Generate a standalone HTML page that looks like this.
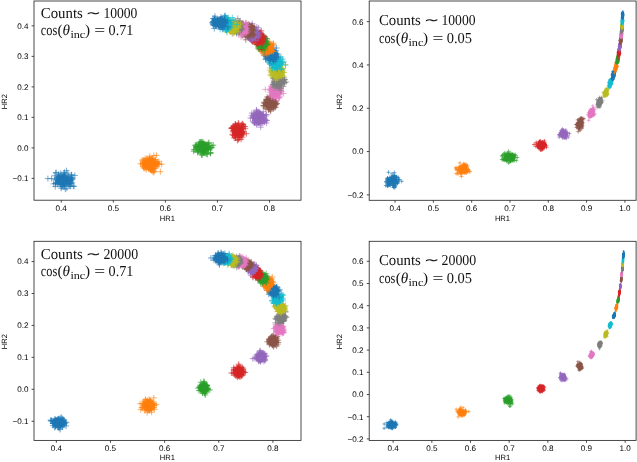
<!DOCTYPE html>
<html><head><meta charset="utf-8"><title>HR1 vs HR2</title>
<style>html,body{margin:0;padding:0;background:#fff;}svg{display:block;will-change:transform;text-rendering:geometricPrecision;}</style></head>
<body><svg width="637" height="462" viewBox="0 0 637 462">
<path d="M61.5 181.8h6m-3-3v6m-4.4-7.5h6m-3-3v6m-3.9-3.4h6m-3-3v6m-.4 5.8h6m-3-3v6m-5.8-10.4h6m-3-3v6m2 .7h6m-3-3v6m-5-7.9h6m-3-3v6m-3.7 3.2h6m-3-3v6m-9.7-7.4h6m-3-3v6m-5.8-6.1h6m-3-3v6m-2.7 1h6m-3-3v6m-.1-1.1h6m-3-3v6m4.3-4.8h6m-3-3v6m-16.7-4.3h6m-3-3v6m9.6-.5h6m-3-3v6m-10.5-5.3h6m-3-3v6m-.2-4.2h6m-3-3v6m7.4-3h6m-3-3v6m-8.6 3.4h6m-3-3v6m-5.8-6.8h6m-3-3v6m.5-2.3h6m-3-3v6m-9.8-3h6m-3-3v6m10.2-9.1h6m-3-3v6m-5.5 3.3h6m-3-3v6m-10.7 4.2h6m-3-3v6m4.2-15.2h6m-3-3v6m-6.5 3.7h6m-3-3v6m-4.4-2.6h6m-3-3v6m-2.4-3h6m-3-3v6m4.7-8.1h6m-3-3v6m-9.3-2.2h6m-3-3v6m-3.4-5.8h6m-3-3v6m-6.6 .8h6m-3-3v6m4.6 2.1h6m-3-3v6m-14.4-10.4h6m-3-3v6m7.1-7.5h6m-3-3v6m-8.7 4.2h6m-3-3v6m5.8 0h6m-3-3v6m-11.1-7h6m-3-3v6m-2.6 4.1h6m-3-3v6m-3.9-9.9h6m-3-3v6m1-2.3h6m-3-3v6m-5.8-6.8h6m-3-3v6m-2.1-.4h6m-3-3v6m3 1.1h6m-3-3v6m-9-2.9h6m-3-3v6m-4.7-1.6h6m-3-3v6m-1.3-4.7h6m-3-3v6m-9.5-3.9h6m-3-3v6m-5-12.1h6m-3-3v6m4 1.3h6m-3-3v6m-.6 9h6m-3-3v6m-8.1-13.9h6m-3-3v6m2.3 1.2h6m-3-3v6m-4.9-5.6h6m-3-3v6m1.5-.3h6m-3-3v6m-11.9-5.2h6m-3-3v6m2.5-6.8h6m-3-3v6m-1.9-2.2h6m-3-3v6m.6 1h6m-3-3v6m-7.5-6h6m-3-3v6m-4-8.3h6m-3-3v6m-8.2 5.9h6m-3-3v6m-8.1-1.1h6m-3-3v6m-1-3.4h6m-3-3v6m1.6-2.9h6m-3-3v6m1.9-11.8h6m-3-3v6m2.7 8.3h6m-3-3v6m-9.7-9.5h6m-3-3v6m-3.4-5.7h6m-3-3v6m3.4-1.3h6m-3-3v6m-8.9-4h6m-3-3v6m-5.9-4.8h6m-3-3v6m6.6 1.3h6m-3-3v6m-4.5-2.4h6m-3-3v6m-11.5-4.3h6m-3-3v6m-2.3-1.7h6m-3-3v6m-2-4.2h6m-3-3v6m-8.2-4.9h6m-3-3v6m12.5-2.5h6m-3-3v6m-16.8 .8h6m-3-3v6m9.6-9.8h6m-3-3v6m-11.3 .1h6m-3-3v6m-10.9 2.2h6m-3-3v6m5.9-5.5h6m-3-3v6m-6.8-1.5h6m-3-3v6m-1.9-5.3h6m-3-3v6m-5.9-7.1h6m-3-3v6m9.5-.3h6m-3-3v6m-8.3-1.2h6m-3-3v6m-6.8-4.8h6m-3-3v6m2.5-2.2h6m-3-3v6m-7-1.8h6m-3-3v6m3.8-.5h6m-3-3v6m-7.1-7.7h6m-3-3v6m-12 2.8h6m-3-3v6m9-7.2h6m-3-3v6m-5.2 .5h6m-3-3v6m-1.5-2.4h6m-3-3v6m-9.5-.8h6m-3-3v6m-7.1-5.5h6m-3-3v6m5.9-2.9h6m-3-3v6m4.1-.7h6m-3-3v6m-18.5-15.1h6m-3-3v6m7-.4h6m-3-3v6m-7.2 4h6m-3-3v6m-11.3-14.2h6m-3-3v6m6.7 5.2h6m-3-3v6m-5.6-3h6m-3-3v6m-6.1-8.9h6m-3-3v6m.5-.9h6m-3-3v6m-10.5 2.6h6m-3-3v6m5.1-3.4h6m-3-3v6m-7.8-7h6m-3-3v6m-3-3.9h6m-3-3v6m3.1-2.6h6m-3-3v6m-2.2 1.2h6m-3-3v6m5.5-9.5h6m-3-3v6m-8.8 1.9h6m-3-3v6m-7.6-8.2h6m-3-3v6m-5.3 5.4h6m-3-3v6m-1-5.5h6m-3-3v6m-4.1 1h6m-3-3v6m-1.6-15.7h6m-3-3v6m-6.5-2.1h6m-3-3v6m-16 2.4h6m-3-3v6m20.4-.8h6m-3-3v6m-15.8-6.7h6m-3-3v6m8.7 1.2h6m-3-3v6m-8.5-3.9h6m-3-3v6m-3 .3h6m-3-3v6m-.4-5.2h6m-3-3v6m-11.1-1.9h6m-3-3v6m-1.2-.8h6m-3-3v6m-6-7.7h6m-3-3v6m3.4-7.5h6m-3-3v6m5.9 7.6h6m-3-3v6m-14.2-5.6h6m-3-3v6m1.3-15.9h6m-3-3v6m-3.6 6.7h6m-3-3v6m-3.9-6.8h6m-3-3v6m-4.8 .4h6m-3-3v6m4.4-1.1h6m-3-3v6m-9.1 1.6h6m-3-3v6m-5.8-10.3h6m-3-3v6m-9.4 4.4h6m-3-3v6m11.2-5.5h6m-3-3v6m-4.5-6h6m-3-3v6m-5.3-4.4h6m-3-3v6m-5.2-1.8h6m-3-3v6m5.8-1.1h6m-3-3v6m-11-7.4h6m-3-3v6m-6 5.3h6m-3-3v6m2.9-8.8h6m-3-3v6m-7.4-7.5h6m-3-3v6m-1.6 4.6h6m-3-3v6m-4.6-7.2h6m-3-3v6m-2.2-1.7h6m-3-3v6m-9.9-4.3h6m-3-3v6m.7 1.2h6m-3-3v6m-2.6-4.2h6m-3-3v6m8.8-6.3h6m-3-3v6m-13.9-1.1h6m-3-3v6m.1-7.5h6m-3-3v6m-.7 8.4h6m-3-3v6m-6.6-11.4h6m-3-3v6m-7.1-1h6m-3-3v6m-4-8.5h6m-3-3v6m9.9-2.2h6m-3-3v6m-4 6.2h6m-3-3v6" stroke="#1f77b4" stroke-opacity="0.62" stroke-width="1.0" fill="none"/>
<path d="M148.7 166.7h6m-3-3v6m4.4-5.5h6m-3-3v6m-14.2-6.9h6m-3-3v6m-.2 6.6h6m-3-3v6m1-11.2h6m-3-3v6m-10.9-1.5h6m-3-3v6m2-2h6m-3-3v6m-3.3-1.3h6m-3-3v6m-5.3-4.2h6m-3-3v6m-.8-3.1h6m-3-3v6m-1.7 3.6h6m-3-3v6m-2.6-9.1h6m-3-3v6m-13-1.9h6m-3-3v6m-4.1-9.1h6m-3-3v6m9.3 4.2h6m-3-3v6m-7.4-11.2h6m-3-3v6m-4 .5h6m-3-3v6m1.4 6.9h6m-3-3v6m-4.8-13.3h6m-3-3v6m-9.1-.5h6m-3-3v6m1.3-6.8h6m-3-3v6m-1.7-2.9h6m-3-3v6m1.4 4.5h6m-3-3v6m-3.1-8.2h6m-3-3v6m-5.5-1.9h6m-3-3v6m-7-3.7h6m-3-3v6m-7-6.7h6m-3-3v6m6.2 1.2h6m-3-3v6m-5.5 1.1h6m-3-3v6m-11.6-9.1h6m-3-3v6m5.4 1h6m-3-3v6m-5.4-.8h6m-3-3v6m-.5-10.7h6m-3-3v6m-8 3.9h6m-3-3v6m3.2-12.2h6m-3-3v6m.8 5.5h6m-3-3v6m-3-6.3h6m-3-3v6m-10.2-5.6h6m-3-3v6m9.5 .3h6m-3-3v6m-7.2-4.6h6m-3-3v6m-9.3-6.5h6m-3-3v6m-5.4 6h6m-3-3v6m-6.8-2.7h6m-3-3v6m4-10.2h6m-3-3v6m-6.7-1h6m-3-3v6m-1-3.3h6m-3-3v6m-6.4-2.2h6m-3-3v6m-3.9-6.3h6m-3-3v6m1.3 4.4h6m-3-3v6m-9.5-6h6m-3-3v6m.9-6.4h6m-3-3v6m3.6-1.4h6m-3-3v6m-.2-3.9h6m-3-3v6m-7.9-1.1h6m-3-3v6m-8-.2h6m-3-3v6m-.4-3h6m-3-3v6m-2.5-8.7h6m-3-3v6m-3.2 .8h6m-3-3v6m1.6-6.2h6m-3-3v6m-7.4-5.8h6m-3-3v6m.1-.8h6m-3-3v6m-13.8 .5h6m-3-3v6m9.8-8h6m-3-3v6m-12.7-.4h6m-3-3v6m-3.2 .9h6m-3-3v6m-1.5-6.8h6m-3-3v6m3.1-3.1h6m-3-3v6m-3.7-3.7h6m-3-3v6m-10.2-6h6m-3-3v6m10.5 2.2h6m-3-3v6m-10.1-2h6m-3-3v6m-3.4-2.8h6m-3-3v6m4.7-6.7h6m-3-3v6m-18.2-2.9h6m-3-3v6m-2.1 3h6m-3-3v6m6.5-8.8h6m-3-3v6m-12.7-.9h6m-3-3v6m9.2-11.4h6m-3-3v6m-6.8 2.9h6m-3-3v6m-.7-3h6m-3-3v6m-8.8-4.5h6m-3-3v6m-6.1 6.9h6m-3-3v6m4.9-9.1h6m-3-3v6m-10.4-8.1h6m-3-3v6m-.9 3.4h6m-3-3v6m-1.7-3.3h6m-3-3v6m-7.5-2.9h6m-3-3v6m1.7 1.7h6m-3-3v6m5.4-7.9h6m-3-3v6m-14.6-2.8h6m-3-3v6m-2.3-5.3h6m-3-3v6m-.5-4h6m-3-3v6m-.1 .2h6m-3-3v6m-4.6-3.3h6m-3-3v6m-7.3-5.6h6m-3-3v6m-.8-1.6h6m-3-3v6m-1-1.1h6m-3-3v6m-10-2.8h6m-3-3v6m-2.9-5.3h6m-3-3v6m1.6-8h6m-3-3v6m-1.3 4.6h6m-3-3v6m-4.1-5h6m-3-3v6m-3.9-4.9h6m-3-3v6m-2.6-1.5h6m-3-3v6m-1.4-5.2h6m-3-3v6m-2.3 1.6h6m-3-3v6m-4.7-5h6m-3-3v6m0-7.2h6m-3-3v6m-3.4 3.5h6m-3-3v6m-3.7-2.5h6m-3-3v6m-7.2-5.2h6m-3-3v6m2.7-.7h6m-3-3v6m-4.9-9.6h6m-3-3v6m-1.5 6.1h6m-3-3v6m-.9-6.1h6m-3-3v6m-14.3-.6h6m-3-3v6m3.2-14.8h6m-3-3v6m-.7 .5h6m-3-3v6m-10.4-.1h6m-3-3v6m8.3-2.1h6m-3-3v6m-7.4 4.2h6m-3-3v6m2.8-9.3h6m-3-3v6m-11-6.9h6m-3-3v6m-5 2.7h6m-3-3v6m1.8-4.1h6m-3-3v6m-.4-6h6m-3-3v6m-7.6 2.2h6m-3-3v6m-.2-1.9h6m-3-3v6m-3.8-7.7h6m-3-3v6m-3.2-5.3h6m-3-3v6m-11.8 2.3h6m-3-3v6m4-3.9h6m-3-3v6m-10.3-5.3h6m-3-3v6m1.9-4.7h6m-3-3v6m-10.3-1.2h6m-3-3v6m10.9-.5h6m-3-3v6m-9.6-4.4h6m-3-3v6m2.9-12.3h6m-3-3v6m-6.8 8.2h6m-3-3v6m.5 .9h6m-3-3v6m-1-7.7h6m-3-3v6m-6.7-1.4h6m-3-3v6m-6.7-5.8h6m-3-3v6m3.4 3.8h6m-3-3v6m-7.7-9.8h6m-3-3v6m-1.4 1.7h6m-3-3v6m-4-2.5h6m-3-3v6m-7.1-8.7h6m-3-3v6m.3 .3h6m-3-3v6m2.5-10.8h6m-3-3v6m-11.6 3.3h6m-3-3v6m-1.9-9.3h6m-3-3v6m4.5 3.8h6m-3-3v6m-5.4-6.3h6m-3-3v6m-.7-2.2h6m-3-3v6m-2.7-5.2h6m-3-3v6m-11.5 .8h6m-3-3v6m-2.4-1.4h6m-3-3v6m1.3-8.5h6m-3-3v6m-3.9-1h6m-3-3v6m.7-4h6m-3-3v6m-8.9 3.3h6m-3-3v6m8.8-.3h6m-3-3v6m-12.6-9.1h6m-3-3v6m3.5-4.2h6m-3-3v6m-14.1-2.1h6m-3-3v6m3.3-6.3h6m-3-3v6m-12.2-5h6m-3-3v6m7.1-.7h6m-3-3v6m-6.5 .3h6m-3-3v6" stroke="#ff7f0e" stroke-opacity="0.62" stroke-width="1.0" fill="none"/>
<path d="M202.5 147h6m-3-3v6m-3.5-4.6h6m-3-3v6m-6.5-3.3h6m-3-3v6m3-.2h6m-3-3v6m-10.5-3.9h6m-3-3v6m-.9-.1h6m-3-3v6m-8.5-7.9h6m-3-3v6m1.9 7h6m-3-3v6m2.3-10.4h6m-3-3v6m-4 3.1h6m-3-3v6m-6.8-9.8h6m-3-3v6m2.8-.6h6m-3-3v6m-5.1-5.8h6m-3-3v6m2 3.2h6m-3-3v6m-8.5-5.8h6m-3-3v6m-13.3-3.2h6m-3-3v6m4.3-3.5h6m-3-3v6m.5-5.2h6m-3-3v6m-12.5-1h6m-3-3v6m.8-5h6m-3-3v6m-2.4-3h6m-3-3v6m-9.9 1.3h6m-3-3v6m7.3-3.3h6m-3-3v6m3.9-6h6m-3-3v6m-18.1-5.6h6m-3-3v6m-.6-1.9h6m-3-3v6m2.1-7.2h6m-3-3v6m-1.9-1.6h6m-3-3v6m-3.2 .9h6m-3-3v6m-5.5-2.9h6m-3-3v6m-3.9-4.5h6m-3-3v6m-7.5-1.3h6m-3-3v6m11.1 2.6h6m-3-3v6m-5.1-6.6h6m-3-3v6m-11-.9h6m-3-3v6m-.5-7.3h6m-3-3v6m-4-2.5h6m-3-3v6m-3.6-3.5h6m-3-3v6m-5.6-3.8h6m-3-3v6m10.5-2.2h6m-3-3v6m-13.1-1.3h6m-3-3v6m.8-7.6h6m-3-3v6m-6.6 2.7h6m-3-3v6m-1.1-5.2h6m-3-3v6m2.1-5.3h6m-3-3v6m-8.9-2.5h6m-3-3v6m2.6-7h6m-3-3v6m-11.6 1h6m-3-3v6m2.3 .1h6m-3-3v6m0-9.1h6m-3-3v6m-5.6 .6h6m-3-3v6m-8.7-.7h6m-3-3v6m-4-10.3h6m-3-3v6m-.8-1.4h6m-3-3v6m-4.1 2.3h6m-3-3v6m.8 .4h6m-3-3v6m-5-11.8h6m-3-3v6m-5.2-1.2h6m-3-3v6m-4.9 .8h6m-3-3v6m-.7-9.8h6m-3-3v6m2.4 2.2h6m-3-3v6m-4.4-2.4h6m-3-3v6m-1.9-3.2h6m-3-3v6m-.6-1.9h6m-3-3v6m-6.3-3h6m-3-3v6m-10.4-4.6h6m-3-3v6m1.7-2h6m-3-3v6m-7.4 1h6m-3-3v6m2.9-11h6m-3-3v6m-10.3-.4h6m-3-3v6m3.5-4.2h6m-3-3v6m-2.2-2.8h6m-3-3v6m-1.2-3.2h6m-3-3v6m-5.4 1.8h6m-3-3v6m7.5-8.6h6m-3-3v6m-15.2-2.5h6m-3-3v6m2-3.9h6m-3-3v6m-8.1 .2h6m-3-3v6m-4.9-5.6h6m-3-3v6m-1-6.2h6m-3-3v6m-6.9 1.7h6m-3-3v6m3.4-2.4h6m-3-3v6m-10.7-3.8h6m-3-3v6m7.3-.1h6m-3-3v6m-6.5-7h6m-3-3v6m-.2-2.2h6m-3-3v6m-10.2-3.6h6m-3-3v6m7.5-.1h6m-3-3v6m-4.2-5h6m-3-3v6m-3.9-3.3h6m-3-3v6m-7.3 5.6h6m-3-3v6m.7-11.4h6m-3-3v6m-6.5-.6h6m-3-3v6m2.2-5.3h6m-3-3v6m-14.8-2.4h6m-3-3v6m4-2h6m-3-3v6m2.2-2.4h6m-3-3v6m-5-6.9h6m-3-3v6m-2.7 5.9h6m-3-3v6m-3.4-8.2h6m-3-3v6m-5.5 1.3h6m-3-3v6m-7.3-8.3h6m-3-3v6m2.5-.6h6m-3-3v6m-6.6-4.2h6m-3-3v6m-2.3-3.5h6m-3-3v6m-2.4-6.6h6m-3-3v6m-2.6 2.7h6m-3-3v6m-6.8-6.1h6m-3-3v6m3.5-5.4h6m-3-3v6m-4.9-2.9h6m-3-3v6m.8 6.4h6m-3-3v6m.6-10.1h6m-3-3v6m-8.2-2h6m-3-3v6m-5.5 1h6m-3-3v6m-8.7-4.4h6m-3-3v6m2.1-2h6m-3-3v6m-2.1-8.8h6m-3-3v6m-2.6 .9h6m-3-3v6m-4-3.7h6m-3-3v6m-5.2-10.3h6m-3-3v6m2.7 4.9h6m-3-3v6m-6-4.8h6m-3-3v6m.5-4.4h6m-3-3v6m-9.9-2.3h6m-3-3v6m4.5-6.3h6m-3-3v6m-3-1h6m-3-3v6m-12.1 2.4h6m-3-3v6m1-10.2h6m-3-3v6m-4.1 3.2h6m-3-3v6m3.3-6.8h6m-3-3v6m-6.2 .2h6m-3-3v6m-7.2-4h6m-3-3v6m-.5-5.5h6m-3-3v6m-4.9-1.3h6m-3-3v6m-.9-4.7h6m-3-3v6m-4.8 1.7h6m-3-3v6m-.5-3.7h6m-3-3v6m1-3.8h6m-3-3v6m1.3-7h6m-3-3v6m-8.9-1.6h6m-3-3v6m1.2 2.7h6m-3-3v6m-18.2-10.5h6m-3-3v6m7.4 1.9h6m-3-3v6m-2.7-5.4h6m-3-3v6m-4.1-.9h6m-3-3v6m-5.1-2h6m-3-3v6m-11.8-4.1h6m-3-3v6m1.9-2.1h6m-3-3v6m.3-8.2h6m-3-3v6m-.6-3h6m-3-3v6m-8.2-4.9h6m-3-3v6m.6 2.8h6m-3-3v6m1.2-4.8h6m-3-3v6m-2.9-2.5h6m-3-3v6m-7.6-1.5h6m-3-3v6m1.6-5.5h6m-3-3v6m-8.2-2.5h6m-3-3v6m-1.7-5.1h6m-3-3v6m.8-1.6h6m-3-3v6m-5.3-4.2h6m-3-3v6m-3.4 .4h6m-3-3v6m-6.1 1.6h6m-3-3v6m.2-3.7h6m-3-3v6m-.7-9.8h6m-3-3v6m-8.3 .1h6m-3-3v6m-1.3-4.1h6m-3-3v6m-4.4-8.2h6m-3-3v6m-2.7-4.2h6m-3-3v6m-.6 1.2h6m-3-3v6m-7.4-1.6h6m-3-3v6" stroke="#2ca02c" stroke-opacity="0.62" stroke-width="1.0" fill="none"/>
<path d="M235.6 126.8h6m-3-3v6m-9.5-1.8h6m-3-3v6m-3.9-2.7h6m-3-3v6m8.6-3.3h6m-3-3v6m-6-4h6m-3-3v6m-4.1 .4h6m-3-3v6m-4.2-.2h6m-3-3v6m2.8-4.2h6m-3-3v6m-8.2-6.7h6m-3-3v6m-1.5-.7h6m-3-3v6m-2.2-2.3h6m-3-3v6m-.1-9.2h6m-3-3v6m-9.5 6.1h6m-3-3v6m-3.2-8.3h6m-3-3v6m-2.7-4.9h6m-3-3v6m-1.8 9.2h6m-3-3v6m.3-14.3h6m-3-3v6m-9.5-.8h6m-3-3v6m3-4.3h6m-3-3v6m-8.4 2.4h6m-3-3v6m2-7h6m-3-3v6m-9.4-6.7h6m-3-3v6m-1.6-5.2h6m-3-3v6m1.6 2.1h6m-3-3v6m-3.8 5h6m-3-3v6m-.8-12.7h6m-3-3v6m-4 4.4h6m-3-3v6m-8.2-9.7h6m-3-3v6m-.9-5.1h6m-3-3v6m2-5.6h6m-3-3v6m-11.2 3.9h6m-3-3v6m-.2-1.6h6m-3-3v6m-1.4-4.3h6m-3-3v6m-.2-9.1h6m-3-3v6m-6.7 1.5h6m-3-3v6m-2.6 0h6m-3-3v6m-6.3-5.7h6m-3-3v6m2.5 .1h6m-3-3v6m-7.8 2.4h6m-3-3v6m6.6-14.2h6m-3-3v6m-9.4 9.7h6m-3-3v6m-1.5-10.3h6m-3-3v6m-6.1-5.4h6m-3-3v6m-3.1-3h6m-3-3v6m.1-2.6h6m-3-3v6m-6.8-5.5h6m-3-3v6m-1.7-2h6m-3-3v6m-3.5 3.2h6m-3-3v6m-1.2-4.8h6m-3-3v6m-3-4.4h6m-3-3v6m-4.6-4.2h6m-3-3v6m-.1-5.5h6m-3-3v6m-1.2 .6h6m-3-3v6m-9.7-4.6h6m-3-3v6m-2.7-1h6m-3-3v6m-3.2 .2h6m-3-3v6m-3.2-14h6m-3-3v6m-2.8-2.1h6m-3-3v6m-.8 6.8h6m-3-3v6m-.8-10.7h6m-3-3v6m-7.5 7h6m-3-3v6m.4-8.7h6m-3-3v6m-.6 4.9h6m-3-3v6m-2.2-10.4h6m-3-3v6m-6-1.5h6m-3-3v6m-6.1-8.4h6m-3-3v6m-.9-2.6h6m-3-3v6m-3.4 .3h6m-3-3v6m4.7-6h6m-3-3v6m-10.9-.8h6m-3-3v6m-1.2 .9h6m-3-3v6m-5.9-9h6m-3-3v6m-6.7-3.3h6m-3-3v6m3.9 .1h6m-3-3v6m-7.9-4.4h6m-3-3v6m.3-.2h6m-3-3v6m-5-5.4h6m-3-3v6m-6.9-5.9h6m-3-3v6m8-6.3h6m-3-3v6m-9.3 4.7h6m-3-3v6m-3.1-6.3h6m-3-3v6m-2-.4h6m-3-3v6m-3-9h6m-3-3v6m-3.2 .3h6m-3-3v6m-4.3 .4h6m-3-3v6m.8-.8h6m-3-3v6m-6.7-2.9h6m-3-3v6m2.4-2.3h6m-3-3v6m-2.3-7.1h6m-3-3v6m-8 .1h6m-3-3v6m-6.8-5h6m-3-3v6m-.4-4.9h6m-3-3v6m-6.8-4.6h6m-3-3v6m2.5 2.7h6m-3-3v6m.2-6.1h6m-3-3v6m-6.8-5.4h6m-3-3v6m-1.1-1.2h6m-3-3v6m-2.3 3.4h6m-3-3v6m-5.1-13.4h6m-3-3v6m-5.6-2.8h6m-3-3v6m-4.1 5.8h6m-3-3v6m1.5-12h6m-3-3v6m-1.6 5.9h6m-3-3v6m-6.2-9.2h6m-3-3v6m-3 0h6m-3-3v6m.2-.1h6m-3-3v6m-1.2-3h6m-3-3v6m-2.5-4.7h6m-3-3v6m-12.3-5.5h6m-3-3v6m2.9-3.8h6m-3-3v6m-1.1-2.9h6m-3-3v6m-8.8 2.7h6m-3-3v6m2.1-6.9h6m-3-3v6m-2.2-.3h6m-3-3v6m-4.9-14.2h6m-3-3v6m-6.2 3.4h6m-3-3v6m-4-.9h6m-3-3v6m3.9-5.2h6m-3-3v6m-10.4 5h6m-3-3v6m-.8-13.4h6m-3-3v6m-.8 2.3h6m-3-3v6m-6-1.9h6m-3-3v6m-2.3-8.4h6m-3-3v6m-.9 2.4h6m-3-3v6m-5.6-4.4h6m-3-3v6m-1.3 5h6m-3-3v6m-4.9-7.7h6m-3-3v6m-.9-7.8h6m-3-3v6m-.6 .3h6m-3-3v6m-1.2-4.8h6m-3-3v6m-9-5.8h6m-3-3v6m.6 .6h6m-3-3v6m-.2-3.5h6m-3-3v6m-4.1 .5h6m-3-3v6m-5.8-12.6h6m-3-3v6m-7.4-2.9h6m-3-3v6m5.9-1.1h6m-3-3v6m-4.1 1.6h6m-3-3v6m-1.5-1.7h6m-3-3v6m-8.8-6.8h6m-3-3v6m-2.4-1.8h6m-3-3v6m-5-3.7h6m-3-3v6m3.9-8.3h6m-3-3v6m-7.3-.5h6m-3-3v6m-3.3 2.6h6m-3-3v6m-3.8-3.2h6m-3-3v6m-7.9-1.9h6m-3-3v6m.2-4.6h6m-3-3v6m-.5-13.3h6m-3-3v6m-6 6h6m-3-3v6m4.4-2.8h6m-3-3v6m-7.2-8.4h6m-3-3v6m.8 7.3h6m-3-3v6m-7.5-9.5h6m-3-3v6m-8.3 .5h6m-3-3v6m10.9-3.5h6m-3-3v6m-7.6-3.5h6m-3-3v6m-10.2-.5h6m-3-3v6m-3.8-8h6m-3-3v6m1.8 .5h6m-3-3v6m-2.5-4.5h6m-3-3v6m-6.8-8.4h6m-3-3v6m-.4-1.2h6m-3-3v6m-7.4-4.7h6m-3-3v6m-.3-4.9h6m-3-3v6m-5.8-2.3h6m-3-3v6m1.9 3.5h6m-3-3v6m2.8-9.1h6m-3-3v6m-11.6 4.7h6m-3-3v6m-1.5-6.9h6m-3-3v6" stroke="#d62728" stroke-opacity="0.62" stroke-width="1.0" fill="none"/>
<path d="M260.6 117.2h6m-3-3v6m-11.6-5.9h6m-3-3v6m1.4 1.9h6m-3-3v6m-8.1-6.9h6m-3-3v6m2.7 1.7h6m-3-3v6m-6.5-2.9h6m-3-3v6m.7-10.2h6m-3-3v6m-5.7 3.6h6m-3-3v6m-3.8-10.7h6m-3-3v6m-2.1 5.7h6m-3-3v6m2.6-11.8h6m-3-3v6m.1 .2h6m-3-3v6m-8 4.1h6m-3-3v6m-2.9-6.3h6m-3-3v6m-9.4-1.6h6m-3-3v6m-1.7-12.4h6m-3-3v6m7.6 6.7h6m-3-3v6m-6-7.9h6m-3-3v6m-4.1 4.5h6m-3-3v6m-2.7-7.8h6m-3-3v6m-11.3-3.5h6m-3-3v6m-6-7.6h6m-3-3v6m3.9-.8h6m-3-3v6m-3.8-.4h6m-3-3v6m3.3 1.2h6m-3-3v6m-8.9-3.2h6m-3-3v6m-5.2-7.7h6m-3-3v6m2.1-5.7h6m-3-3v6m-6.6-3.2h6m-3-3v6m-1.8 5.8h6m-3-3v6m-5.6-7.2h6m-3-3v6m-3.5-7.1h6m-3-3v6m-4 4.8h6m-3-3v6m7.8-5.9h6m-3-3v6m-12.2-2.3h6m-3-3v6m-1.9-2.7h6m-3-3v6m-1.1-4.6h6m-3-3v6m-2-5.6h6m-3-3v6m-6.1-6.4h6m-3-3v6m-3.1-2.1h6m-3-3v6m-2.1-1.6h6m-3-3v6m-2.3 1.2h6m-3-3v6m-7.5-6.8h6m-3-3v6m-1.6 1.7h6m-3-3v6m5-2.7h6m-3-3v6m-9.2-1.2h6m-3-3v6m-6.5-2.9h6m-3-3v6m-.4-15.8h6m-3-3v6m6.9 10.1h6m-3-3v6m-14.1-7.2h6m-3-3v6m-.5-3.2h6m-3-3v6m-6.8-5.4h6m-3-3v6m2.8-.3h6m-3-3v6m-.8-3.4h6m-3-3v6m.5-5.4h6m-3-3v6m-9.3-6.6h6m-3-3v6m-7.5 6.7h6m-3-3v6m-2.1-5.4h6m-3-3v6m-.3-7.7h6m-3-3v6m-3.9-1.4h6m-3-3v6m-3.4 .8h6m-3-3v6m.4-7h6m-3-3v6m-7.7-.4h6m-3-3v6m-.6-.8h6m-3-3v6m5.3-3.5h6m-3-3v6m-11.1-6.1h6m-3-3v6m-5.4-5.2h6m-3-3v6m-3.5-1.4h6m-3-3v6m-1.2 .4h6m-3-3v6m-3-5.8h6m-3-3v6m-5.4 2.5h6m-3-3v6m2.2-2.6h6m-3-3v6m-2.2-3.9h6m-3-3v6m-6.1-5.3h6m-3-3v6m5.9-8.8h6m-3-3v6m-7.6 5.7h6m-3-3v6m-5.3-5.8h6m-3-3v6m-.4-7.3h6m-3-3v6m-5.6-3.6h6m-3-3v6m-6.3-2.2h6m-3-3v6m-1.4-.7h6m-3-3v6m-1.2-7.8h6m-3-3v6m1.7 4.9h6m-3-3v6m-6.8-7.7h6m-3-3v6m-5.5-.2h6m-3-3v6m-1.5-9.8h6m-3-3v6m-2 11.1h6m-3-3v6m-10.9-8.9h6m-3-3v6m3.8-6.4h6m-3-3v6m.1-6.3h6m-3-3v6m-6.8 5.2h6m-3-3v6m-4.1-8.8h6m-3-3v6m-2-3.1h6m-3-3v6m1.4-4.4h6m-3-3v6m-5.1-4.1h6m-3-3v6m-3.6 .5h6m-3-3v6m-13-2.7h6m-3-3v6m1.6-4.3h6m-3-3v6m5.1-5.1h6m-3-3v6m-11 4.9h6m-3-3v6m.6-2.7h6m-3-3v6m-2.4-10.5h6m-3-3v6m-4.2 3.5h6m-3-3v6m.1-6.7h6m-3-3v6m-5.7-3.4h6m-3-3v6m-4.9 3.3h6m-3-3v6m-1.2-12.4h6m-3-3v6m-4.5 2.7h6m-3-3v6m.4-5.7h6m-3-3v6m-7-2.5h6m-3-3v6m-6.1-7.1h6m-3-3v6m4.6-.4h6m-3-3v6m-4.3 2.2h6m-3-3v6m-2.2-6.7h6m-3-3v6m1.6-1h6m-3-3v6m-10.7-2.8h6m-3-3v6m-.6-7.9h6m-3-3v6m-4-.9h6m-3-3v6m-9.3-3h6m-3-3v6m2.2-3.8h6m-3-3v6m-7.2-2.7h6m-3-3v6m1.9-1.6h6m-3-3v6m-6.4-1.4h6m-3-3v6m-3.2-5.6h6m-3-3v6m4.8-4.5h6m-3-3v6m-8.6 2.5h6m-3-3v6m-2.6-7.3h6m-3-3v6m-1.2 1.2h6m-3-3v6m-10.5-8.8h6m-3-3v6m.7-3.8h6m-3-3v6m-2.5-2.2h6m-3-3v6m.6-3.2h6m-3-3v6m-3.6 1h6m-3-3v6m-5.6-3.8h6m-3-3v6m4.3-2.5h6m-3-3v6m-10-4.2h6m-3-3v6m-3.9-1.9h6m-3-3v6m2.5-6.4h6m-3-3v6m-6.3 3h6m-3-3v6m-3.9-5.9h6m-3-3v6m-4.6-6.1h6m-3-3v6m-1.4 6.1h6m-3-3v6m-2.7-11.1h6m-3-3v6m-3.4-1.9h6m-3-3v6m.6-2h6m-3-3v6m1.2-2.9h6m-3-3v6m-4.8-2.8h6m-3-3v6m-5.5-8.2h6m-3-3v6m-5.2 1.1h6m-3-3v6m-3.4-9.2h6m-3-3v6m.4 2.3h6m-3-3v6m-7-2.6h6m-3-3v6m-2.3-1h6m-3-3v6m-6.2-7h6m-3-3v6m1.7 .2h6m-3-3v6m-5-5.2h6m-3-3v6m-4.4-1.4h6m-3-3v6m3.1-6h6m-3-3v6m-2 2.7h6m-3-3v6m-8.9-3.2h6m-3-3v6m-6.1-10.5h6m-3-3v6m-2.4 .9h6m-3-3v6m-.1-3.3h6m-3-3v6m-1.8-7.9h6m-3-3v6m-1.8-.8h6m-3-3v6m-6.4 0h6m-3-3v6m-4.5-5.9h6m-3-3v6m-2.6 1.1h6m-3-3v6m1.8-1.3h6m-3-3v6m-7.7-7h6m-3-3v6" stroke="#9467bd" stroke-opacity="0.62" stroke-width="1.0" fill="none"/>
<path d="M264.6 104.6h6m-3-3v6m-6.2-.7h6m-3-3v6m1.5-8.9h6m-3-3v6m-.6 2.3h6m-3-3v6m-3-2.9h6m-3-3v6m-3.6-2.5h6m-3-3v6m.2-6.9h6m-3-3v6m-2.4-2.2h6m-3-3v6m-7-6.2h6m-3-3v6m-4.1 2h6m-3-3v6m-5.9-3.4h6m-3-3v6m1.8-4.1h6m-3-3v6m-10.4-4.1h6m-3-3v6m5.3-4.9h6m-3-3v6m-4.7-7.7h6m-3-3v6m-1.3 2h6m-3-3v6m-2.4-6.4h6m-3-3v6m-3.5 1.6h6m-3-3v6m-2.7-5h6m-3-3v6m-7.1 6.2h6m-3-3v6m-3.6-11.5h6m-3-3v6m-1.4-4h6m-3-3v6m1.2 5h6m-3-3v6m-8.5-13h6m-3-3v6m2.5 5.2h6m-3-3v6m-4-2.8h6m-3-3v6m-7.9-6.9h6m-3-3v6m-4.5-6.6h6m-3-3v6m3.8-.8h6m-3-3v6m.8-.9h6m-3-3v6m-11.5-.9h6m-3-3v6m4.1-3.9h6m-3-3v6m-11.7-3.3h6m-3-3v6m4.5-5.5h6m-3-3v6m-9.3 1.4h6m-3-3v6m-.3-9.2h6m-3-3v6m-4.5-2h6m-3-3v6m-1.1-.5h6m-3-3v6m-.5-1.2h6m-3-3v6m-10.9-3.9h6m-3-3v6m4.2-2.9h6m-3-3v6m-2.6-5.9h6m-3-3v6m-8.8 1.3h6m-3-3v6m-3.3-12h6m-3-3v6m3.1 1.2h6m-3-3v6m-6.9-4.9h6m-3-3v6m-6-2.3h6m-3-3v6m-.2 1.4h6m-3-3v6m-8.6-1.9h6m-3-3v6m.3-8.3h6m-3-3v6m2.3-.1h6m-3-3v6m-9.4 2.6h6m-3-3v6m-1-7.7h6m-3-3v6m.1 .4h6m-3-3v6m-4.9-4.2h6m-3-3v6m-3.9-2.6h6m-3-3v6m-3-7.3h6m-3-3v6m4.7-1.1h6m-3-3v6m-8.2 2.6h6m-3-3v6m-2.3-11.9h6m-3-3v6m-1.9-4h6m-3-3v6m-1.8 3.9h6m-3-3v6m-8-8.3h6m-3-3v6m-.8-1.1h6m-3-3v6m-6.4-1.4h6m-3-3v6m-6-5.9h6m-3-3v6m1.7-2.6h6m-3-3v6m-.9-5.8h6m-3-3v6m-2.2 .1h6m-3-3v6m-6.6-6.5h6m-3-3v6m-4.5 2.1h6m-3-3v6m-2.4-3.9h6m-3-3v6m2.9-.2h6m-3-3v6m-1.6-6.8h6m-3-3v6m-10.7 .8h6m-3-3v6m1.1-2.7h6m-3-3v6m-3.9-2.8h6m-3-3v6m-.6-4.4h6m-3-3v6m-4-3.9h6m-3-3v6m-3.7-3.5h6m-3-3v6m-.8-5.2h6m-3-3v6m-.9-1.8h6m-3-3v6m-5.2-3h6m-3-3v6m-6.5 3.2h6m-3-3v6m-3.2-12.6h6m-3-3v6m-4.2-.2h6m-3-3v6m5.3-1.5h6m-3-3v6m-6.5-6.5h6m-3-3v6m-4.7 1.9h6m-3-3v6m1.2-7h6m-3-3v6m-6.5-.1h6m-3-3v6m-7.7-3.9h6m-3-3v6m-.8-9.7h6m-3-3v6m-.5 5.3h6m-3-3v6m-6-8.5h6m-3-3v6m2.6 1.7h6m-3-3v6m-4.4 .3h6m-3-3v6m-7.4-4.7h6m-3-3v6m-2.2-5.6h6m-3-3v6m-2.6-2.8h6m-3-3v6m.5-2.6h6m-3-3v6m-6.7-4.2h6m-3-3v6m-1.5-4.8h6m-3-3v6m-5.5-.5h6m-3-3v6m-3.2-3.2h6m-3-3v6m-3.1 3.1h6m-3-3v6m2.6-7.5h6m-3-3v6m-7 2.1h6m-3-3v6m-1.9-9.6h6m-3-3v6m-3-1.9h6m-3-3v6m.2-3.9h6m-3-3v6m-1-5.5h6m-3-3v6m-7.1-3.4h6m-3-3v6m.3-1h6m-3-3v6m-8.5 .6h6m-3-3v6m.8-8.9h6m-3-3v6m-7.6-3.8h6m-3-3v6m-1.6 .7h6m-3-3v6m-4.4-4.7h6m-3-3v6m-3.1-3.2h6m-3-3v6m-.4 3.6h6m-3-3v6m-10.1-7.7h6m-3-3v6m1.4-1.3h6m-3-3v6m-4.6-4.8h6m-3-3v6m-3.2-.6h6m-3-3v6m.3-5.5h6m-3-3v6m-2.2-3.2h6m-3-3v6m-8.6-.6h6m-3-3v6m2.3-5.1h6m-3-3v6m-1 .9h6m-3-3v6m-9-8.8h6m-3-3v6m4.7 3.4h6m-3-3v6m-9.7-10.5h6m-3-3v6m-2.7-1h6m-3-3v6m-5.7-1.5h6m-3-3v6m-2.1-6.6h6m-3-3v6m3.3-1.5h6m-3-3v6m-5.8 .8h6m-3-3v6m-.5-5.8h6m-3-3v6m-5.2-4.4h6m-3-3v6m2 1.3h6m-3-3v6m-11.3-4.9h6m-3-3v6m2.3-1.6h6m-3-3v6m.2-.4h6m-3-3v6m-9.9-7.2h6m-3-3v6m-5.1-2.1h6m-3-3v6m1.1 4.2h6m-3-3v6m-3.1-17h6m-3-3v6m-5.3 3.4h6m-3-3v6m-4.7-5.8h6m-3-3v6m-.4 .5h6m-3-3v6m-2.4-6.6h6m-3-3v6m-.2-2h6m-3-3v6m-6.8-5.4h6m-3-3v6m-3.8 2.9h6m-3-3v6m-5.4-5.1h6m-3-3v6m3.8-3.9h6m-3-3v6m-4.4-5.1h6m-3-3v6m.1 3.4h6m-3-3v6m-6.1-11.3h6m-3-3v6m-6.8 4.9h6m-3-3v6m5.1-4.9h6m-3-3v6m-4.4-5.7h6m-3-3v6m-7.2-1.2h6m-3-3v6m-1.2-7.4h6m-3-3v6m-1.5 5.2h6m-3-3v6m-9-10.7h6m-3-3v6m1.3-1h6m-3-3v6m-10.9 1.3h6m-3-3v6m4.3-6.8h6m-3-3v6" stroke="#8c564b" stroke-opacity="0.62" stroke-width="1.0" fill="none"/>
<path d="M278.5 91.5h6m-3-3v6m-11.3-3.1h6m-3-3v6m-3.9-5.5h6m-3-3v6m1.2-2.4h6m-3-3v6m-5.5 3.4h6m-3-3v6m.8-5.5h6m-3-3v6m-3.9-3.9h6m-3-3v6m-.3-4.5h6m-3-3v6m-1.9-5.7h6m-3-3v6m-9.1-4.2h6m-3-3v6m-3.3 2.5h6m-3-3v6m2.3-6.4h6m-3-3v6m-7.2-2.2h6m-3-3v6m-5.2-5.4h6m-3-3v6m-.7-4.5h6m-3-3v6m-2.8 2h6m-3-3v6m-5.3-5.9h6m-3-3v6m-5.1 5.3h6m-3-3v6m-2.8-3.9h6m-3-3v6m2.6-8.6h6m-3-3v6m-8.1 1.1h6m-3-3v6m5.4-8.7h6m-3-3v6m-8.9 2.7h6m-3-3v6m-1.2-.2h6m-3-3v6m-5.6-7.2h6m-3-3v6m-5 1.5h6m-3-3v6m-1.5-15.5h6m-3-3v6m-1.2 3h6m-3-3v6m2.9-3.6h6m-3-3v6m-8.6-.3h6m-3-3v6m1.6-4.9h6m-3-3v6m-4.5-1.3h6m-3-3v6m-6.9-4.3h6m-3-3v6m-2.1-5.9h6m-3-3v6m.5-4.3h6m-3-3v6m-3.2 3.8h6m-3-3v6m-6.6-8h6m-3-3v6m-3.4 .6h6m-3-3v6m-.2-3.6h6m-3-3v6m-2.3-5.4h6m-3-3v6m-5.2-6h6m-3-3v6m-1.4 2h6m-3-3v6m-6.5 0h6m-3-3v6m.3-14.6h6m-3-3v6m-4.9 1h6m-3-3v6m-.1 8.4h6m-3-3v6m-7.6-10h6m-3-3v6m-2.2-2.2h6m-3-3v6m-.4-.3h6m-3-3v6m-7.7-2.2h6m-3-3v6m-2.9-6.7h6m-3-3v6m3.1-1.7h6m-3-3v6m-9.1-7.2h6m-3-3v6m-1.6-1.1h6m-3-3v6m1.7-6.6h6m-3-3v6m-5 2.6h6m-3-3v6m-2.7-3.5h6m-3-3v6m-.3-2.9h6m-3-3v6m-4.9-2.8h6m-3-3v6m-.3-10.1h6m-3-3v6m-4.4 1.7h6m-3-3v6m-7.6-5h6m-3-3v6m-7.6-1.3h6m-3-3v6m.5-.5h6m-3-3v6m-5.3-.3h6m-3-3v6m2-7.8h6m-3-3v6m-5.8-4.6h6m-3-3v6m-4.2-2.3h6m-3-3v6m.3-1.9h6m-3-3v6m-7.2-3.3h6m-3-3v6m-1.4-1.8h6m-3-3v6m5-1.6h6m-3-3v6m-9.4-9.5h6m-3-3v6m-6.2-3.2h6m-3-3v6m3.3-.3h6m-3-3v6m-5-2.6h6m-3-3v6m-2.9 2.8h6m-3-3v6m-5.2-8h6m-3-3v6m-3.4 .5h6m-3-3v6m-3.6-8.8h6m-3-3v6m-4.1-3.8h6m-3-3v6m2.4 8.5h6m-3-3v6m-7.2-7.7h6m-3-3v6m.6-8.9h6m-3-3v6m-4.6-.5h6m-3-3v6m-4.2 3.3h6m-3-3v6m-6.5-7.5h6m-3-3v6m3.5-5.8h6m-3-3v6m-3.5 1.2h6m-3-3v6m-3-4.3h6m-3-3v6m-1.4-10.1h6m-3-3v6m-.8 9.5h6m-3-3v6m-4.4-6.7h6m-3-3v6m-9.9-6.3h6m-3-3v6m-1.3-4.3h6m-3-3v6m2.2-3.6h6m-3-3v6m-6.2-6.2h6m-3-3v6m-3.1 2.7h6m-3-3v6m-4.6-5.3h6m-3-3v6m4.5-4.4h6m-3-3v6m-11.5-1.9h6m-3-3v6m3.5 5.5h6m-3-3v6m-5.5-11.2h6m-3-3v6m-5.2 2.2h6m-3-3v6m-4.4-1.9h6m-3-3v6m3.8-7h6m-3-3v6m-5.3-1h6m-3-3v6m-.3-8.3h6m-3-3v6m-4.1-1h6m-3-3v6m-8.7-1.6h6m-3-3v6m-1.4-6.2h6m-3-3v6m-7-2.8h6m-3-3v6m5.9 5.4h6m-3-3v6m-5.4-5.3h6m-3-3v6m-6.4-6.6h6m-3-3v6m-.6-6h6m-3-3v6m-6.7 .5h6m-3-3v6m-1.1-6.4h6m-3-3v6m-.9-.7h6m-3-3v6m-1.2-2.2h6m-3-3v6m-6.8-2.6h6m-3-3v6m-2.7-5.4h6m-3-3v6m-3.6 1.2h6m-3-3v6m0-1.5h6m-3-3v6m-9.8-7.9h6m-3-3v6m.7-1.3h6m-3-3v6m-3.1-5h6m-3-3v6m.6-1h6m-3-3v6m-8.6 .4h6m-3-3v6m3.2-8.6h6m-3-3v6m-3.4-3.4h6m-3-3v6m-2.2-1.5h6m-3-3v6m-8.6-3.5h6m-3-3v6m-2.9-1.4h6m-3-3v6m-.2-3.4h6m-3-3v6m-5.2-13.7h6m-3-3v6m-1.1 2.1h6m-3-3v6m-2.5 5.8h6m-3-3v6m-3-7.4h6m-3-3v6m-4.3-2.3h6m-3-3v6m-4-4.3h6m-3-3v6m-4.1 2.1h6m-3-3v6m-.4-3.6h6m-3-3v6m-3.7-5.6h6m-3-3v6m-2.7-1.9h6m-3-3v6m-.2-3.6h6m-3-3v6m-7.3-6h6m-3-3v6m3.8-1.5h6m-3-3v6m-8.7 2h6m-3-3v6m1-5.7h6m-3-3v6m-7.3 2.3h6m-3-3v6m-.7-8.2h6m-3-3v6m-4.6-8.7h6m-3-3v6m-6.4 2.3h6m-3-3v6m2-4.9h6m-3-3v6m-7.6-6.5h6m-3-3v6m-.5-3h6m-3-3v6m.6 4.5h6m-3-3v6m2.6-3.8h6m-3-3v6m-13-8h6m-3-3v6m-11.3-2.2h6m-3-3v6m6.5 1.5h6m-3-3v6m-.7-4.1h6m-3-3v6m-4.1-2.8h6m-3-3v6m.5-8h6m-3-3v6m-8.5-3.9h6m-3-3v6m3 4.7h6m-3-3v6m-5.5-10.2h6m-3-3v6m-4.7-.2h6m-3-3v6m-3.2-2.9h6m-3-3v6" stroke="#e377c2" stroke-opacity="0.62" stroke-width="1.0" fill="none"/>
<path d="M277 79.9h6m-3-3v6m-2-1.2h6m-3-3v6m-6.3-4h6m-3-3v6m-3.5-.3h6m-3-3v6m-2.5-4.5h6m-3-3v6m-3.3-8.2h6m-3-3v6m.7-1.7h6m-3-3v6m-3.6 1.3h6m-3-3v6m-9.8-7h6m-3-3v6m.3-2.6h6m-3-3v6m-4.9 1.5h6m-3-3v6m-.3-4h6m-3-3v6m-3.5-3.3h6m-3-3v6m-4-3.9h6m-3-3v6m.9-2.8h6m-3-3v6m-6-6.3h6m-3-3v6m-1.2 1.1h6m-3-3v6m-4.2-6.2h6m-3-3v6m-.7 6.4h6m-3-3v6m-5.5-9.2h6m-3-3v6m-1-11.4h6m-3-3v6m-3.7 2.4h6m-3-3v6m.6-1.7h6m-3-3v6m-9.2-2.9h6m-3-3v6m-.3-4h6m-3-3v6m-3.6-5.3h6m-3-3v6m-3.5 3.2h6m-3-3v6m3.3-3.2h6m-3-3v6m-7.9-1.6h6m-3-3v6m-.8-1.6h6m-3-3v6m-2.8-8.2h6m-3-3v6m-5.4-2.1h6m-3-3v6m-2.9-3h6m-3-3v6m-6.2-9.7h6m-3-3v6m-2.6-2.7h6m-3-3v6m-.9 2.8h6m-3-3v6m-8-1h6m-3-3v6m4.3-4.7h6m-3-3v6m-.7 2.2h6m-3-3v6m-11.3-5.5h6m-3-3v6m1.8-4.8h6m-3-3v6m-1.6-6.3h6m-3-3v6m-7.4-3.3h6m-3-3v6m-3.5-.9h6m-3-3v6m-5-5.7h6m-3-3v6m2.9-.2h6m-3-3v6m-3.6-8.2h6m-3-3v6m-6.4 .8h6m-3-3v6m-.6-3.1h6m-3-3v6m-.4-1.4h6m-3-3v6m-5.6-2.8h6m-3-3v6m-1-4.4h6m-3-3v6m-1.8-.3h6m-3-3v6m-5.8-4.2h6m-3-3v6m-2-.2h6m-3-3v6m-1.7-4.9h6m-3-3v6m-3.2-3.7h6m-3-3v6m-2-3.4h6m-3-3v6m-12.6 .9h6m-3-3v6m3.3-10.3h6m-3-3v6m-3.9-2.1h6m-3-3v6m3.7 1h6m-3-3v6m-13.6-2.9h6m-3-3v6m.4 1h6m-3-3v6m-4.9-15.1h6m-3-3v6m.2 2.5h6m-3-3v6m-4.4-8.2h6m-3-3v6m-.5 8.1h6m-3-3v6m-9.8-4.5h6m-3-3v6m.9 .4h6m-3-3v6m-.1-10.3h6m-3-3v6m-1.1-.9h6m-3-3v6m-7.9-2.5h6m-3-3v6m-2.8-10.3h6m-3-3v6m4.4 1.2h6m-3-3v6m-10.7-1h6m-3-3v6m-5.7-7.9h6m-3-3v6m.1-.6h6m-3-3v6m-1.4 1.8h6m-3-3v6m-4.6-4.8h6m-3-3v6m.2-7.6h6m-3-3v6m-4.1-2.6h6m-3-3v6m-.6 1.1h6m-3-3v6m-6-8.3h6m-3-3v6m-2.8-1.3h6m-3-3v6m-1.2-1.1h6m-3-3v6m-7.4 0h6m-3-3v6m1.4-7.4h6m-3-3v6m-1.7-2.1h6m-3-3v6m-7.3-1.8h6m-3-3v6m-4.3-4.6h6m-3-3v6m-1.3 2.7h6m-3-3v6m1.9-8.2h6m-3-3v6m-2.7-2.4h6m-3-3v6m-6.6-.3h6m-3-3v6m-3.2 1.4h6m-3-3v6m-3.2-13.4h6m-3-3v6m.1-.8h6m-3-3v6m-7.7-10.4h6m-3-3v6m.8 8h6m-3-3v6m-3.6-2.5h6m-3-3v6m-.4-6h6m-3-3v6m-5.2-5h6m-3-3v6m-6.7 2.2h6m-3-3v6m-.9-9.9h6m-3-3v6m-3 .3h6m-3-3v6m-6.5-1.2h6m-3-3v6m-1.8-8.8h6m-3-3v6m-5 6.7h6m-3-3v6m-4.2-7.5h6m-3-3v6m3.2-1.8h6m-3-3v6m-8.3-5.8h6m-3-3v6m.9 .3h6m-3-3v6m-5.3-8.7h6m-3-3v6m1.8 3.5h6m-3-3v6m-4.8-7.9h6m-3-3v6m-2.9-.9h6m-3-3v6m-1.8-7h6m-3-3v6m-5 .2h6m-3-3v6m-6.6-1.9h6m-3-3v6m.3-4.9h6m-3-3v6m-1.9-5.9h6m-3-3v6m-4.3 2.4h6m-3-3v6m-2.1-1.1h6m-3-3v6m-7.3-10.5h6m-3-3v6m1.2 2.7h6m-3-3v6m2.5-2.6h6m-3-3v6m-11.7-2.4h6m-3-3v6m-2.9-9.7h6m-3-3v6m7 2.3h6m-3-3v6m-8.5-2.3h6m-3-3v6m.2-3.8h6m-3-3v6m-4.8-6.8h6m-3-3v6m-10.5 4.1h6m-3-3v6m5.3-5.7h6m-3-3v6m-6.6-4h6m-3-3v6m-5.7 1h6m-3-3v6m.9-6h6m-3-3v6m-3.8-1.4h6m-3-3v6m-2.6-3.9h6m-3-3v6m-7.9-3.7h6m-3-3v6m6.8-6h6m-3-3v6m-9.8 1.1h6m-3-3v6m.2-3.8h6m-3-3v6m-10.5-3.3h6m-3-3v6m-1.7-6.9h6m-3-3v6m2-1.4h6m-3-3v6m-2.2 7h6m-3-3v6m-3.1-10.1h6m-3-3v6m-7.9-6.9h6m-3-3v6m-3.5-2.7h6m-3-3v6m-3.1-3.4h6m-3-3v6m-.4-4h6m-3-3v6m-6.5-4h6m-3-3v6m2.4 1.1h6m-3-3v6m-1.3-.1h6m-3-3v6m-7-4.1h6m-3-3v6m-6.2 1.7h6m-3-3v6m4.7-10.3h6m-3-3v6m-9.9-1.3h6m-3-3v6m-5-6.3h6m-3-3v6m4.6-.5h6m-3-3v6m-6.6-.5h6m-3-3v6m-4.6-4.9h6m-3-3v6m-1.4-6.3h6m-3-3v6m-.2-3.4h6m-3-3v6m1.1-1.9h6m-3-3v6m-2.7-4.4h6m-3-3v6m-7-3.3h6m-3-3v6m-8.7 .9h6m-3-3v6" stroke="#7f7f7f" stroke-opacity="0.62" stroke-width="1.0" fill="none"/>
<path d="M276.5 68.5h6m-3-3v6m-1.5-1.6h6m-3-3v6m-6.1 .4h6m-3-3v6m-1.7-9.3h6m-3-3v6m0 3.9h6m-3-3v6m-8.9-7.6h6m-3-3v6m-6.7-4h6m-3-3v6m3.5-.1h6m-3-3v6m-7.9-3.5h6m-3-3v6m4.9-2.4h6m-3-3v6m-9.3 1.8h6m-3-3v6m.1-6.7h6m-3-3v6m-6.1-7.7h6m-3-3v6m-4.7 .1h6m-3-3v6m-.2-.5h6m-3-3v6m-.8-3.4h6m-3-3v6m-3.9-6.6h6m-3-3v6m-9.9-1.6h6m-3-3v6m.5-3.4h6m-3-3v6m-1.1-4.7h6m-3-3v6m-5.4 .3h6m-3-3v6m.6-4.6h6m-3-3v6m-1.9-1.7h6m-3-3v6m-7.4-2.3h6m-3-3v6m5.4-5h6m-3-3v6m-5.1 2.9h6m-3-3v6m-2-9.4h6m-3-3v6m-1.5-.2h6m-3-3v6m-9.6-4h6m-3-3v6m-.5-2.2h6m-3-3v6m-5.3 .6h6m-3-3v6m-4.6-9.8h6m-3-3v6m1.4 2.1h6m-3-3v6m-2.1-8.2h6m-3-3v6m-3 1.5h6m-3-3v6m-1.1-8h6m-3-3v6m-7.4-.2h6m-3-3v6m-8.3-4.2h6m-3-3v6m4.9-2.3h6m-3-3v6m-8.4 .8h6m-3-3v6m2-2.6h6m-3-3v6m-8.2-6h6m-3-3v6m2.3-4.8h6m-3-3v6m-8.2 1.3h6m-3-3v6m3.7-8.7h6m-3-3v6m-15-3.9h6m-3-3v6m1.6 .8h6m-3-3v6m1.7-3h6m-3-3v6m-6.8-2.1h6m-3-3v6m-3.8-3.6h6m-3-3v6m-2 4.9h6m-3-3v6m1.2-13.2h6m-3-3v6m-8.3-1.8h6m-3-3v6m-4.9-3.9h6m-3-3v6m-.3 1.7h6m-3-3v6m-2.1-7.9h6m-3-3v6m-5.7-4.1h6m-3-3v6m.7-.2h6m-3-3v6m.5-4.2h6m-3-3v6m-3.2-.4h6m-3-3v6m-6.1-9.6h6m-3-3v6m-6.7 5h6m-3-3v6m4.8-4.6h6m-3-3v6m-4.9-4.8h6m-3-3v6m-6.3-3.7h6m-3-3v6m.9-.1h6m-3-3v6m-6.5-4.9h6m-3-3v6m-.7-1.1h6m-3-3v6m-7 1h6m-3-3v6m.2-7.9h6m-3-3v6m.5-.1h6m-3-3v6m-7.5-4.4h6m-3-3v6m-5.9-6.4h6m-3-3v6m-6.4 2.4h6m-3-3v6m-2-4.6h6m-3-3v6m.1-7.8h6m-3-3v6m-1.1 .6h6m-3-3v6m-.7 1.4h6m-3-3v6m-3.7-5.6h6m-3-3v6m-5.8-3.5h6m-3-3v6m-.8-6.4h6m-3-3v6m-3.8-1.9h6m-3-3v6m-2.1-1.6h6m-3-3v6m-5.1-6.3h6m-3-3v6m.7-5.8h6m-3-3v6m-7 6.4h6m-3-3v6m-9-9.5h6m-3-3v6m6.8-5.8h6m-3-3v6m2.6-5.7h6m-3-3v6m-6.4 9h6m-3-3v6m-4.5-8.1h6m-3-3v6m-4.6-5h6m-3-3v6m-1.7-3.6h6m-3-3v6m-6.2 3.1h6m-3-3v6m-5.4-6.9h6m-3-3v6m.7-5.9h6m-3-3v6m-.1 1.9h6m-3-3v6m-10.8-4.1h6m-3-3v6m-.8-4.8h6m-3-3v6m-.6-3.1h6m-3-3v6m-.4-3h6m-3-3v6m-2.9-1.1h6m-3-3v6m-3.4-4.4h6m-3-3v6m-6.9-4.8h6m-3-3v6m.1 3h6m-3-3v6m1.5-1.9h6m-3-3v6m-8.5-7.4h6m-3-3v6m-2.6-2.5h6m-3-3v6m.2-.1h6m-3-3v6m-9.7-7.8h6m-3-3v6m3.4-.1h6m-3-3v6m-7.7-.4h6m-3-3v6m-3.4-7.3h6m-3-3v6m-3.2-7.9h6m-3-3v6m.8-.8h6m-3-3v6m-7.1-1.6h6m-3-3v6m.7-1.1h6m-3-3v6m-5-7.6h6m-3-3v6m-3.3-2.5h6m-3-3v6m-1.9 2.4h6m-3-3v6m-3.9 1.9h6m-3-3v6m-1.5-7.2h6m-3-3v6m-4.1-5.3h6m-3-3v6m-.6 .7h6m-3-3v6m-9.6-3.1h6m-3-3v6m2.3-3.3h6m-3-3v6m-3.1-9.4h6m-3-3v6m-7.8 5.9h6m-3-3v6m1.1-12.4h6m-3-3v6m-2.7 .1h6m-3-3v6m-9.3-8.6h6m-3-3v6m-2.3 4.4h6m-3-3v6m1.5-4.5h6m-3-3v6m-2.1-.5h6m-3-3v6m-9.9-5.6h6m-3-3v6m.7-5.7h6m-3-3v6m-2.2 .2h6m-3-3v6m-2.2-6.9h6m-3-3v6m-3.6 7.1h6m-3-3v6m-4.6-13.8h6m-3-3v6m.8 3.7h6m-3-3v6m-2.4-8h6m-3-3v6m-1.5-2h6m-3-3v6m-9.2-2.5h6m-3-3v6m0 .8h6m-3-3v6m-.9-5.1h6m-3-3v6m-2.1-2.7h6m-3-3v6m-3.1-7.3h6m-3-3v6m-10.1 3.3h6m-3-3v6m-2.5-6.1h6m-3-3v6m.7-3.6h6m-3-3v6m-4 2.5h6m-3-3v6m-9-4.5h6m-3-3v6m11-5.5h6m-3-3v6m-9.7-1h6m-3-3v6m2.3-8.5h6m-3-3v6m-8-.1h6m-3-3v6m-1.7-2h6m-3-3v6m-2.7-4.7h6m-3-3v6m-4.7-3.7h6m-3-3v6m-5.1-1.5h6m-3-3v6m-1.5-6h6m-3-3v6m2 0h6m-3-3v6m-11.6 .6h6m-3-3v6m-1.2-4.7h6m-3-3v6m-.8-3.7h6m-3-3v6m-2.5-5.4h6m-3-3v6m-3.4 4.5h6m-3-3v6m-9.6-8.7h6m-3-3v6m4.8-6.2h6m-3-3v6" stroke="#bcbd22" stroke-opacity="0.62" stroke-width="1.0" fill="none"/>
<path d="M269.2 68.5h6m-3-3v6m-.1-3.3h6m-3-3v6m-.3-8.8h6m-3-3v6m-3.2-1.4h6m-3-3v6m-1-3.5h6m-3-3v6m-6-3.8h6m-3-3v6m.5-1.1h6m-3-3v6m-9.8-7.2h6m-3-3v6m.9-3h6m-3-3v6m-5.1-4h6m-3-3v6m-2.6 1h6m-3-3v6m.6-4.2h6m-3-3v6m.1-3.2h6m-3-3v6m.3 .1h6m-3-3v6m-10.8-7.4h6m-3-3v6m-12.7-2h6m-3-3v6m5.7 3.1h6m-3-3v6m-7.5-3.1h6m-3-3v6m.3-6.4h6m-3-3v6m-9.6-4.7h6m-3-3v6m3.3-1.4h6m-3-3v6m-1.7-8.3h6m-3-3v6m-.5 2.3h6m-3-3v6m-4-2.1h6m-3-3v6m-1.6-6h6m-3-3v6m-10.1-6.9h6m-3-3v6m4.8 3.1h6m-3-3v6m-6.6-6.4h6m-3-3v6m-3.2-1.6h6m-3-3v6m-4.1-5.1h6m-3-3v6m4.3-.3h6m-3-3v6m-11-7.5h6m-3-3v6m-3.4 2.9h6m-3-3v6m1.3-5.7h6m-3-3v6m-5-3.3h6m-3-3v6m-6.4 1.7h6m-3-3v6m1.3 .4h6m-3-3v6m-6.3-10.6h6m-3-3v6m1.8-3.3h6m-3-3v6m-9.6-5.1h6m-3-3v6m1.3 .8h6m-3-3v6m-3.6-1.1h6m-3-3v6m.2-5h6m-3-3v6m-5.8-4.6h6m-3-3v6m-1.5 .4h6m-3-3v6m-4.4-4.4h6m-3-3v6m-4.1-8.4h6m-3-3v6m-5 3.3h6m-3-3v6m1.2-.6h6m-3-3v6m-4.1-5.1h6m-3-3v6m.7-2.6h6m-3-3v6m-8.6-6.4h6m-3-3v6m-.9-5.4h6m-3-3v6m-2 2.9h6m-3-3v6m-5.8-.3h6m-3-3v6m-2.4-9.3h6m-3-3v6m-2.9-4.5h6m-3-3v6m-1.1-.8h6m-3-3v6m.6-1.3h6m-3-3v6m-6.2-5.4h6m-3-3v6m-8.7-2.7h6m-3-3v6m-1.3 .1h6m-3-3v6m-.7-1h6m-3-3v6m-.7-5.4h6m-3-3v6m-4.5-4.8h6m-3-3v6m-1.8-.9h6m-3-3v6m-6.9-4.3h6m-3-3v6m6.6-4.7h6m-3-3v6m-11.3-4.7h6m-3-3v6m-6.5 2.4h6m-3-3v6m1.4-5.5h6m-3-3v6m2.2 3.4h6m-3-3v6m-11-7.2h6m-3-3v6m1.4-4.9h6m-3-3v6m-3.4-4.3h6m-3-3v6m.2-1.1h6m-3-3v6m-6.6-1.2h6m-3-3v6m-1.4-5.3h6m-3-3v6m-4.6 .8h6m-3-3v6m-2.5-8.4h6m-3-3v6m-7-3.7h6m-3-3v6m-3.5-1.7h6m-3-3v6m.8-9.2h6m-3-3v6m-3.7 4.8h6m-3-3v6m-2.6-7.7h6m-3-3v6m.2-2.2h6m-3-3v6m-10.2-4.1h6m-3-3v6m.5 3h6m-3-3v6m.4-5.3h6m-3-3v6m-9.8-5.5h6m-3-3v6m-2.2-1.6h6m-3-3v6m-5.5-2.2h6m-3-3v6m4-3.7h6m-3-3v6m-3.5-5.3h6m-3-3v6m-8.6-2.2h6m-3-3v6m4.6 1.9h6m-3-3v6m-7.7-2.5h6m-3-3v6m-2.6-2.1h6m-3-3v6m-.7-8.7h6m-3-3v6m-2.1-4h6m-3-3v6m-8-4.9h6m-3-3v6m.5 1h6m-3-3v6m-4-4h6m-3-3v6m1.4-3h6m-3-3v6m-9.3 1.8h6m-3-3v6m3.2-5.6h6m-3-3v6m-12.1-5.7h6m-3-3v6m3.8-1.3h6m-3-3v6m-.3-7h6m-3-3v6m-5.5-.8h6m-3-3v6m-1.1-1.4h6m-3-3v6m-3.9-4.7h6m-3-3v6m-10.1-4.3h6m-3-3v6m-.6-2.8h6m-3-3v6m2.2 3.9h6m-3-3v6m-5.7-9.9h6m-3-3v6m-4.1-2h6m-3-3v6m1.5-.1h6m-3-3v6m-5.8-5.1h6m-3-3v6m-10.2-4h6m-3-3v6m-.4 .3h6m-3-3v6m.5-6.4h6m-3-3v6m-4.4 3.8h6m-3-3v6m-4.7-10.2h6m-3-3v6m-.8-2.3h6m-3-3v6m-3.6 .5h6m-3-3v6m3.2-9.7h6m-3-3v6m-8 2.3h6m-3-3v6m-3.2-3.6h6m-3-3v6m-3.8 .4h6m-3-3v6m-3.3-6.3h6m-3-3v6m-1.7-2.3h6m-3-3v6m-3.5-.4h6m-3-3v6m-2.5-5.4h6m-3-3v6m-3.1-6.4h6m-3-3v6m-5.3-3.2h6m-3-3v6m0-2h6m-3-3v6m-6.7-.2h6m-3-3v6m1.6-8.8h6m-3-3v6m.4 2.2h6m-3-3v6m-8.2 0h6m-3-3v6m-2.5-7.9h6m-3-3v6m3.2-4.3h6m-3-3v6m-9.7 2.6h6m-3-3v6m-5.8-5.8h6m-3-3v6m1.2 4.3h6m-3-3v6m-6.7-10.1h6m-3-3v6m1.5-2.7h6m-3-3v6m-8.4-2h6m-3-3v6m.8-2.9h6m-3-3v6m0-1.4h6m-3-3v6m-5.1-5h6m-3-3v6m-7.4-4.3h6m-3-3v6m.9-3.8h6m-3-3v6m-3.4-4.2h6m-3-3v6m1.2 5.6h6m-3-3v6m-8.6-8h6m-3-3v6m-2.6-.5h6m-3-3v6m-1-6.5h6m-3-3v6m-4.9-2.8h6m-3-3v6m-5.3-1.4h6m-3-3v6m-2.1-3.5h6m-3-3v6m-.6-1.3h6m-3-3v6m-3.4-3.2h6m-3-3v6m-5.7-4.2h6m-3-3v6m-.9-4.2h6m-3-3v6m-2.2-.9h6m-3-3v6m-9-4.8h6m-3-3v6m-1.5-.4h6m-3-3v6m-4.4-9.4h6m-3-3v6" stroke="#17becf" stroke-opacity="0.62" stroke-width="1.0" fill="none"/>
<path d="M263 59.6h6m-3-3v6m-1.8-7.4h6m-3-3v6m-.9-8.6h6m-3-3v6m-2.4 4.2h6m-3-3v6m-2.5-2.2h6m-3-3v6m-3.6-5.7h6m-3-3v6m-3-2.1h6m-3-3v6m3.6-2.9h6m-3-3v6m-7.9-5.8h6m-3-3v6m-5.8 3h6m-3-3v6m-4-9.9h6m-3-3v6m-.1-1.6h6m-3-3v6m3-8.6h6m-3-3v6m-7.7 5.9h6m-3-3v6m-7.3-6.9h6m-3-3v6m1.6 3.6h6m-3-3v6m-7-12.3h6m-3-3v6m2.5 6h6m-3-3v6m-6.8-13.9h6m-3-3v6m2.2 2.9h6m-3-3v6m-3.9-2.6h6m-3-3v6m-7.4-4.2h6m-3-3v6m2.4 2.5h6m-3-3v6m-13.5-9.9h6m-3-3v6m8.3-1.3h6m-3-3v6m-12-1.9h6m-3-3v6m.6-3.3h6m-3-3v6m-4.1-3.6h6m-3-3v6m-2.9-1.2h6m-3-3v6m-4.1-4.8h6m-3-3v6m-1 1.6h6m-3-3v6m-1.5-7.1h6m-3-3v6m-2.5-1.5h6m-3-3v6m-1.4-2.7h6m-3-3v6m-1-.5h6m-3-3v6m-8.3-8.1h6m-3-3v6m-.3-.3h6m-3-3v6m-5.9-8.8h6m-3-3v6m-8 2.3h6m-3-3v6m4.5-1.7h6m-3-3v6m-8.9-2.3h6m-3-3v6m-.9-4.9h6m-3-3v6m-.2-6.5h6m-3-3v6m-5.9-6.7h6m-3-3v6m-4-2.2h6m-3-3v6m1 2.4h6m-3-3v6m-1.7-2.1h6m-3-3v6m-7.4-3h6m-3-3v6m-2.3-2.3h6m-3-3v6m-1-7.6h6m-3-3v6m-3.9 0h6m-3-3v6m-3.9-.6h6m-3-3v6m2.9-6.6h6m-3-3v6m-9-8.5h6m-3-3v6m-2.4 2.3h6m-3-3v6m-8.9-.9h6m-3-3v6m5-6h6m-3-3v6m-5.8-3.6h6m-3-3v6m.3-4.6h6m-3-3v6m-6.1 7h6m-3-3v6m-2-7.3h6m-3-3v6m-3.5-7.8h6m-3-3v6m-2.7 1.6h6m-3-3v6m-5.9-3.2h6m-3-3v6m3.6-.8h6m-3-3v6m-11.2-9h6m-3-3v6m-3.1 3h6m-3-3v6m3.5-4.1h6m-3-3v6m-7.4-8.4h6m-3-3v6m-.2 .6h6m-3-3v6m-5.7-2.8h6m-3-3v6m1.4-2.8h6m-3-3v6m-7.9-9.8h6m-3-3v6m-.8 3.6h6m-3-3v6m-3-4.7h6m-3-3v6m-4.2 .3h6m-3-3v6m-1.2-4.7h6m-3-3v6m-5.6-5.1h6m-3-3v6m.3-4.2h6m-3-3v6m-7.2-1h6m-3-3v6m4.2-1.5h6m-3-3v6m-2.3-3.9h6m-3-3v6m-8.1-6.7h6m-3-3v6m-3.8 5.2h6m-3-3v6m-.4-5h6m-3-3v6m-1.9-5.2h6m-3-3v6m-5.6-2.6h6m-3-3v6m-.5-2h6m-3-3v6m-3.5-3.9h6m-3-3v6m-6.6-4.2h6m-3-3v6m-3.5 .7h6m-3-3v6m-6.4-6.6h6m-3-3v6m10-3.3h6m-3-3v6m-13.2-2.1h6m-3-3v6m4-3.4h6m-3-3v6m-4.9-2.3h6m-3-3v6m-5.9 5.9h6m-3-3v6m-1.7-13.7h6m-3-3v6m-4.6-.3h6m-3-3v6m-.4-1.9h6m-3-3v6m-3.8-9.4h6m-3-3v6m-1.9 .3h6m-3-3v6m-5.3-6.4h6m-3-3v6m-3.9-.9h6m-3-3v6m-1.4-5.1h6m-3-3v6m-2.8 1.6h6m-3-3v6m-6.4-5.2h6m-3-3v6m-2.2 1.5h6m-3-3v6m-7.8-6.6h6m-3-3v6m-.5-3.3h6m-3-3v6m4.3-3.6h6m-3-3v6m-5.1-3.6h6m-3-3v6m2.2 2.1h6m-3-3v6m-5.3-9.5h6m-3-3v6m-9.5 4h6m-3-3v6m-.4-6.9h6m-3-3v6m-1.4-5.9h6m-3-3v6m-1.8 .7h6m-3-3v6m-3.8-5h6m-3-3v6m-2.9-3.1h6m-3-3v6m-1.7 2.3h6m-3-3v6m-3.2-4.7h6m-3-3v6m-3.8-12.4h6m-3-3v6m-2.4 4.1h6m-3-3v6m-5.1-3.1h6m-3-3v6m-7.3-3.7h6m-3-3v6m2.9 2.7h6m-3-3v6m-6.7-9.8h6m-3-3v6m3-2.9h6m-3-3v6m-1.2-.3h6m-3-3v6m-11.6-.3h6m-3-3v6m4.5-10h6m-3-3v6m-3.4 .3h6m-3-3v6m-3.2-3.3h6m-3-3v6m-11.9-.4h6m-3-3v6m4.3 1.6h6m-3-3v6m-.7-7h6m-3-3v6m-8.7-6.6h6m-3-3v6m-3.2-3.9h6m-3-3v6m-2.9-7.9h6m-3-3v6m-1.7 4.3h6m-3-3v6m3.9-.7h6m-3-3v6m-11.8-3.6h6m-3-3v6m-5.2-6.4h6m-3-3v6m-4.8 2.9h6m-3-3v6m4.1-10.6h6m-3-3v6m-4.9 3.2h6m-3-3v6m-1.4-4.6h6m-3-3v6m-6.9-6h6m-3-3v6m-.2 1.5h6m-3-3v6m-5.7-8.9h6m-3-3v6m2.7-2.4h6m-3-3v6m-3.2 .4h6m-3-3v6m-3.5 1.3h6m-3-3v6m-3.6-5.8h6m-3-3v6m-7.7-7.3h6m-3-3v6m1.6 3.5h6m-3-3v6m-.9-.7h6m-3-3v6m-6.1-9.2h6m-3-3v6m-1-3.5h6m-3-3v6m-6.1-6.1h6m-3-3v6m.1-3.1h6m-3-3v6m-4.4-4h6m-3-3v6m-1.3-1.8h6m-3-3v6m-3.8-4.7h6m-3-3v6m-6.7 5.1h6m-3-3v6m-4-6.3h6m-3-3v6m-2.1-9.8h6m-3-3v6m-.7 4.9h6m-3-3v6m-7.1-2.6h6m-3-3v6" stroke="#1f77b4" stroke-opacity="0.62" stroke-width="1.0" fill="none"/>
<path d="M261.4 44.9h6m-3-3v6m-.6-2h6m-3-3v6m3.6-5.6h6m-3-3v6m-7.5 4.4h6m-3-3v6m-10.9-10.9h6m-3-3v6m4.4 .7h6m-3-3v6m-3.6 1.7h6m-3-3v6m-5.1-9.4h6m-3-3v6m-9.9 .6h6m-3-3v6m2.2-2.6h6m-3-3v6m.4-8h6m-3-3v6m1.3 4.2h6m-3-3v6m-5.5-9.6h6m-3-3v6m-6.6-1.1h6m-3-3v6m-3.1-4.7h6m-3-3v6m-.5 .9h6m-3-3v6m-3.2-5.1h6m-3-3v6m-.3-1h6m-3-3v6m-14.7-5.4h6m-3-3v6m4.8 1.7h6m-3-3v6m-3.7-6.6h6m-3-3v6m-4.1-.3h6m-3-3v6m-2.4-6.7h6m-3-3v6m-3.8 .4h6m-3-3v6m-2.4-9.5h6m-3-3v6m.3-.2h6m-3-3v6m-3.7 .1h6m-3-3v6m-.6-1h6m-3-3v6m-8.1-6.5h6m-3-3v6m-5.1 2.3h6m-3-3v6m2-3.8h6m-3-3v6m-5.2-13h6m-3-3v6m2.4 3.2h6m-3-3v6m-7.1-3.1h6m-3-3v6m-1.5-1.6h6m-3-3v6m-9.5-1.4h6m-3-3v6m.1-7.5h6m-3-3v6m3.5 1h6m-3-3v6m-8.9-11h6m-3-3v6m-1.6 3.9h6m-3-3v6m-3.7-8.2h6m-3-3v6m-5.1-3h6m-3-3v6m0 3h6m-3-3v6m-.7-7.5h6m-3-3v6m-5.3 .8h6m-3-3v6m-5.1-5.1h6m-3-3v6m4.6-2h6m-3-3v6m-6.6-4.8h6m-3-3v6m-5.4-6.7h6m-3-3v6m-3.2 5.4h6m-3-3v6m3.1-3h6m-3-3v6m-7.1-6.3h6m-3-3v6m-6.7-3.6h6m-3-3v6m.5-4.8h6m-3-3v6m-2.1-3.6h6m-3-3v6m-10.8-3.1h6m-3-3v6m-2.7-4h6m-3-3v6m5.1 .4h6m-3-3v6m-5.6 .9h6m-3-3v6m0-7.8h6m-3-3v6m-2.8-.4h6m-3-3v6m-6.9-2.9h6m-3-3v6m-7.1-6.5h6m-3-3v6m.8 1h6m-3-3v6m-3.7-5.1h6m-3-3v6m.8 1.4h6m-3-3v6m-3.5-3.4h6m-3-3v6m-6.4-7.5h6m-3-3v6m-.9-3h6m-3-3v6m-5.4 2.6h6m-3-3v6m-2.2-10.5h6m-3-3v6m-1 5.1h6m-3-3v6m-4.1-4.8h6m-3-3v6m-4.5-8h6m-3-3v6m-3.8-2h6m-3-3v6m4.4-5.9h6m-3-3v6m-3.6-2.6h6m-3-3v6m-8.4 2.4h6m-3-3v6m-.5-4.6h6m-3-3v6m-9.7-2.8h6m-3-3v6m-1.1 3.4h6m-3-3v6m-.7-9.9h6m-3-3v6m-5.7-4.9h6m-3-3v6m-3.4 1.2h6m-3-3v6m0-4.2h6m-3-3v6m-4.3-6.1h6m-3-3v6m2.8-4.4h6m-3-3v6m-12 1h6m-3-3v6m-1.1-5.4h6m-3-3v6m3-4.1h6m-3-3v6m-3.1-2.6h6m-3-3v6m-1.2 2.8h6m-3-3v6m-8.7-7.5h6m-3-3v6m-4.1-1.8h6m-3-3v6m2.8-7.7h6m-3-3v6m-3.7-2.7h6m-3-3v6m-8.2-4.3h6m-3-3v6m5.6 2.3h6m-3-3v6m-8.4-5.1h6m-3-3v6m-.6-7.1h6m-3-3v6m-6 9.5h6m-3-3v6m-4.2-9.4h6m-3-3v6m.1-5.4h6m-3-3v6m-4.9 2.1h6m-3-3v6m-2.5-4.7h6m-3-3v6m-4.6-3.1h6m-3-3v6m-1.8 .3h6m-3-3v6m-1.1-8h6m-3-3v6m-12.2-.2h6m-3-3v6m6.3-7.7h6m-3-3v6m-11-3.7h6m-3-3v6m5.5-2.7h6m-3-3v6m-7 .7h6m-3-3v6m1.9-3.7h6m-3-3v6m-6.9-4.5h6m-3-3v6m2.1 1.6h6m-3-3v6m-8-10.1h6m-3-3v6m-5.1 2.7h6m-3-3v6m-2.8-2.1h6m-3-3v6m.2-4.7h6m-3-3v6m-2.2-2.4h6m-3-3v6m-7.3-5.4h6m-3-3v6m6.2-5.5h6m-3-3v6m-11.1 3.5h6m-3-3v6m-2.1-8.4h6m-3-3v6m-6.4 .9h6m-3-3v6m3.8-.5h6m-3-3v6m-5.8-4h6m-3-3v6m-6.2-5.6h6m-3-3v6m-1.9-2.9h6m-3-3v6m1.1-.4h6m-3-3v6m-8-2.5h6m-3-3v6m-1.5-9.6h6m-3-3v6m-2.2-4.3h6m-3-3v6m-2.5 2.1h6m-3-3v6m-3.5-2.3h6m-3-3v6m-3.4-4.5h6m-3-3v6m-6.2-2.9h6m-3-3v6m-1.3-4.5h6m-3-3v6m-.8-1.1h6m-3-3v6m-7.5-8.1h6m-3-3v6m.9 2.9h6m-3-3v6m-1.1-1.8h6m-3-3v6m-.3-4.1h6m-3-3v6m-6.8-7.4h6m-3-3v6m-5.7-1.4h6m-3-3v6m.5-1h6m-3-3v6m-3.8-4.1h6m-3-3v6m-1.1-1.9h6m-3-3v6m-4-2.8h6m-3-3v6m-5.5-6.8h6m-3-3v6m.1 1.2h6m-3-3v6m-5.1-5.5h6m-3-3v6m4.2-3.9h6m-3-3v6m-10.2-.1h6m-3-3v6m-5.7-3.4h6m-3-3v6m5.5-.6h6m-3-3v6m-6.3-4h6m-3-3v6m-4.5-2h6m-3-3v6m-3.8-7h6m-3-3v6m-2.3 .9h6m-3-3v6m-2.3-3.7h6m-3-3v6m-9.8-1.5h6m-3-3v6m9.6-2.6h6m-3-3v6m-10.7-9.3h6m-3-3v6m-1.3-3.4h6m-3-3v6m-1.7-1.7h6m-3-3v6m-2.3 2.5h6m-3-3v6m-11.7-6.1h6m-3-3v6m.9-7.9h6m-3-3v6" stroke="#ff7f0e" stroke-opacity="0.62" stroke-width="1.0" fill="none"/>
<path d="M257.5 42.2h6m-3-3v6m1.7-6.8h6m-3-3v6m-2.9 7.3h6m-3-3v6m-4.3-7.3h6m-3-3v6m-4.8-8h6m-3-3v6m-1.4 1.5h6m-3-3v6m-2.4 3.4h6m-3-3v6m-3-9.3h6m-3-3v6m-.6-8.1h6m-3-3v6m-10.9-.2h6m-3-3v6m-1.6 .1h6m-3-3v6m-2 .1h6m-3-3v6m2.4-5.9h6m-3-3v6m-8.6-3.4h6m-3-3v6m.5-7.9h6m-3-3v6m-4.3 2.2h6m-3-3v6m-3.4-.5h6m-3-3v6m-.1-10h6m-3-3v6m-6.2-3h6m-3-3v6m-1.7-3.1h6m-3-3v6m-2 .6h6m-3-3v6m-2.8-4.5h6m-3-3v6m-10.1 2.5h6m-3-3v6m.7-4.1h6m-3-3v6m-1.2-5h6m-3-3v6m1.1-4h6m-3-3v6m-4.3-8.3h6m-3-3v6m-4.5 .6h6m-3-3v6m-5.9-2.3h6m-3-3v6m-1.6 1.8h6m-3-3v6m-9.4-7.7h6m-3-3v6m.3 .3h6m-3-3v6m-2.2-5.1h6m-3-3v6m-2.9-2.3h6m-3-3v6m1.1-6.1h6m-3-3v6m-5.8-6h6m-3-3v6m-2.3 3.6h6m-3-3v6m-5.5-2.2h6m-3-3v6m-7.4-11.7h6m-3-3v6m-1 1h6m-3-3v6m1.1-1.8h6m-3-3v6m-3.2-.7h6m-3-3v6m-4.2-8.8h6m-3-3v6m-5.3 6.8h6m-3-3v6m-6.2-9.6h6m-3-3v6m8.1-1.1h6m-3-3v6m-9.7-4.4h6m-3-3v6m2 .5h6m-3-3v6m-8.2-4.3h6m-3-3v6m.4-2h6m-3-3v6m.3-7.2h6m-3-3v6m-11.3-.8h6m-3-3v6m6.4-2.2h6m-3-3v6m-7.5 2h6m-3-3v6m-6.7-7.4h6m-3-3v6m-1.6-5.4h6m-3-3v6m-1.1 1.2h6m-3-3v6m-6-8.9h6m-3-3v6m-4.9-.1h6m-3-3v6m.3-3.2h6m-3-3v6m-4.8-5.2h6m-3-3v6m3.2-2.5h6m-3-3v6m-4.2-1h6m-3-3v6m-5.9-9h6m-3-3v6m.9 2h6m-3-3v6m-3-9.3h6m-3-3v6m-10.6-3.4h6m-3-3v6m-.8 6.2h6m-3-3v6m1.2-6.1h6m-3-3v6m-4.3-.7h6m-3-3v6m-4.2-4h6m-3-3v6m-1.7-10.5h6m-3-3v6m-4.6 7.3h6m-3-3v6m-3-7.4h6m-3-3v6m-3.6-4h6m-3-3v6m2-2.4h6m-3-3v6m-9.2-11.2h6m-3-3v6m-1.7 .3h6m-3-3v6m-6.6 5h6m-3-3v6m4.3-10.8h6m-3-3v6m-2.6 3.8h6m-3-3v6m-7.7-2.2h6m-3-3v6m-5.5-8.6h6m-3-3v6m-2.4-2.7h6m-3-3v6m3.7-3.7h6m-3-3v6m-8.9-1.8h6m-3-3v6m.9-1.3h6m-3-3v6m-1.1-4h6m-3-3v6m-9.2-2.4h6m-3-3v6m.9-4.3h6m-3-3v6m-2.4 5h6m-3-3v6m-5.5-8.2h6m-3-3v6m2.6-5h6m-3-3v6m-9.3-4.3h6m-3-3v6m.6 1.7h6m-3-3v6m-4.6-4.4h6m-3-3v6m1.1-.6h6m-3-3v6m-10.8-5.6h6m-3-3v6m1.4-.9h6m-3-3v6m-4-6.9h6m-3-3v6m-3.7-6.3h6m-3-3v6m-1.7 .4h6m-3-3v6m-1.6-4.2h6m-3-3v6m-5.6-2.9h6m-3-3v6m-4.8 1.8h6m-3-3v6m-1.3-3.7h6m-3-3v6m-4.9-4h6m-3-3v6m-4.7-4.7h6m-3-3v6m.5 .1h6m-3-3v6m-1-5.2h6m-3-3v6m-1.1-2h6m-3-3v6m-3.9-1.3h6m-3-3v6m-4.8-6.1h6m-3-3v6m-1.8-3.3h6m-3-3v6m-2.9 1.4h6m-3-3v6m-1.6-7.3h6m-3-3v6m-9.2-2.1h6m-3-3v6m.4 .4h6m-3-3v6m-3.8-6.8h6m-3-3v6m.2-3.8h6m-3-3v6m-5.5 3.3h6m-3-3v6m1.7-6.1h6m-3-3v6m-6.5-7.6h6m-3-3v6m-2.2-.1h6m-3-3v6m-3.9-4.6h6m-3-3v6m-3.7-2.1h6m-3-3v6m-2.1 1.7h6m-3-3v6m-2.8-11.9h6m-3-3v6m-6.9-2.8h6m-3-3v6m-2.5 3.2h6m-3-3v6m.5-6.4h6m-3-3v6m-3.4-3.4h6m-3-3v6m-7.9-4.9h6m-3-3v6m-1.4 5.2h6m-3-3v6m-4.4-3.5h6m-3-3v6m4.8-7.2h6m-3-3v6m-7-4.2h6m-3-3v6m-3 .7h6m-3-3v6m-2.9-2h6m-3-3v6m.4-4.9h6m-3-3v6m-5.5-4.2h6m-3-3v6m-2.9-6.1h6m-3-3v6m-2.8 .9h6m-3-3v6m-6.7 2.6h6m-3-3v6m-3.3-11.8h6m-3-3v6m.6-6h6m-3-3v6m-6.1-1.9h6m-3-3v6m-3.5 1.1h6m-3-3v6m.7 .6h6m-3-3v6m-1.6-2.8h6m-3-3v6m-3.6-7.8h6m-3-3v6m-1.5-3.1h6m-3-3v6m-8 2.9h6m-3-3v6m1.1-6.8h6m-3-3v6m-3.1-1.1h6m-3-3v6m-9.2-5.8h6m-3-3v6m-2.4-2.4h6m-3-3v6m-1.6 .6h6m-3-3v6m.5-9.3h6m-3-3v6m-4.6-4.2h6m-3-3v6m-2.8 2.1h6m-3-3v6m-2.3-10.1h6m-3-3v6m-4.8 4h6m-3-3v6m-1.1-1.1h6m-3-3v6m-7.6-4.8h6m-3-3v6m-1.2-4h6m-3-3v6m.1-1.6h6m-3-3v6m-5.9-4.4h6m-3-3v6m-4.7-7.6h6m-3-3v6m2 .9h6m-3-3v6" stroke="#2ca02c" stroke-opacity="0.62" stroke-width="1.0" fill="none"/>
<path d="M250.4 35.1h6m-3-3v6m1.8 4h6m-3-3v6m-.1-5.2h6m-3-3v6m-11.2-5.6h6m-3-3v6m3.6-1.6h6m-3-3v6m-3.2-4.8h6m-3-3v6m.9 1.9h6m-3-3v6m-8.4-10.1h6m-3-3v6m3.3-1.7h6m-3-3v6m-5.5 4.1h6m-3-3v6m-9.2-7.7h6m-3-3v6m-1.3-2.3h6m-3-3v6m-1.1 1.1h6m-3-3v6m-2.2-8.7h6m-3-3v6m-1.4-3.7h6m-3-3v6m-7.3 4.2h6m-3-3v6m-4.4-10.9h6m-3-3v6m-.5-4.6h6m-3-3v6m-9.2 3.1h6m-3-3v6m.8-7.6h6m-3-3v6m-1.8-4.3h6m-3-3v6m-5 .3h6m-3-3v6m7.1-1.3h6m-3-3v6m-7.8-9.5h6m-3-3v6m-5.3-2.1h6m-3-3v6m-.7-.2h6m-3-3v6m-5.1-2.6h6m-3-3v6m-4.8-7.2h6m-3-3v6m.4-2.6h6m-3-3v6m-8.1 .2h6m-3-3v6m-1.6-1.4h6m-3-3v6m1.9-3h6m-3-3v6m-5.3-3.7h6m-3-3v6m-1.1-8.4h6m-3-3v6m-4.4-.3h6m-3-3v6m-7.7-.3h6m-3-3v6m-.5-1.4h6m-3-3v6m1.3-11.4h6m-3-3v6m-6.4 9.4h6m-3-3v6m-.3-4.4h6m-3-3v6m-5.2-11.4h6m-3-3v6m-6.6 3.2h6m-3-3v6m3.1-7.2h6m-3-3v6m-6.6-.1h6m-3-3v6m-7.3-4.8h6m-3-3v6m6.8 4.4h6m-3-3v6m-8-4h6m-3-3v6m-4.2-10.7h6m-3-3v6m-8 2.1h6m-3-3v6m2.4 1h6m-3-3v6m-.9-9.2h6m-3-3v6m-9.2 .8h6m-3-3v6m1.2-7.8h6m-3-3v6m-8.4 .1h6m-3-3v6m6.3-7.4h6m-3-3v6m-5.6-.1h6m-3-3v6m-.5-3.8h6m-3-3v6m-.8-4h6m-3-3v6m-9.7-3.7h6m-3-3v6m-8.6-4h6m-3-3v6m7.2 .1h6m-3-3v6m-8.3-2.7h6m-3-3v6m-6.4-4.9h6m-3-3v6m4.3-.1h6m-3-3v6m-6.7-2.4h6m-3-3v6m4.6-6.9h6m-3-3v6m-6.2-6.2h6m-3-3v6m-10.9 3.2h6m-3-3v6m2.8-4.1h6m-3-3v6m-4.8-4.5h6m-3-3v6m1.1 2.9h6m-3-3v6m-6-12.8h6m-3-3v6m1.3 3.5h6m-3-3v6m-4.7-4.2h6m-3-3v6m1.8-3.3h6m-3-3v6m-8.3-8.6h6m-3-3v6m-6.1 .4h6m-3-3v6m-1.5 0h6m-3-3v6m-5 1h6m-3-3v6m-4-9.3h6m-3-3v6m.8-5.3h6m-3-3v6m-2 2.4h6m-3-3v6m-5.5 .7h6m-3-3v6m-1.9-7.7h6m-3-3v6m-6.1-8.7h6m-3-3v6m-2 .9h6m-3-3v6m-2.5 .2h6m-3-3v6m-8.6-8.5h6m-3-3v6m-1.4 4.2h6m-3-3v6m.7-8.4h6m-3-3v6m-4.6 1.1h6m-3-3v6m-1-5h6m-3-3v6m-7.7-.2h6m-3-3v6m4.1-4.8h6m-3-3v6m-.6-5.2h6m-3-3v6m-7.1-.3h6m-3-3v6m-1.2-5.8h6m-3-3v6m-4.1-3.8h6m-3-3v6m-1.1 1.2h6m-3-3v6m-5-.3h6m-3-3v6m-7.5-9.1h6m-3-3v6m6.4-3.5h6m-3-3v6m-12.6 2.2h6m-3-3v6m3.2-10.5h6m-3-3v6m-2.3-2.5h6m-3-3v6m-9.2-.5h6m-3-3v6m-.5-5.7h6m-3-3v6m-2.6-2.7h6m-3-3v6m-1.8-.2h6m-3-3v6m-1-4.2h6m-3-3v6m-9-5.5h6m-3-3v6m.1 5.3h6m-3-3v6m.2-9.4h6m-3-3v6m-2.7-4.5h6m-3-3v6m-2.8-.7h6m-3-3v6m-3.7-.1h6m-3-3v6m-6.1-3.9h6m-3-3v6m-5.3-4.1h6m-3-3v6m3.3 9.1h6m-3-3v6m-4.1-14.7h6m-3-3v6m-8-.1h6m-3-3v6m-4.9-8.4h6m-3-3v6m2.9-4.2h6m-3-3v6m.4 3.7h6m-3-3v6m-9.1-7.8h6m-3-3v6m-5.2-5.5h6m-3-3v6m2.1 2.9h6m-3-3v6m-3.2-4h6m-3-3v6m-5.7-2.8h6m-3-3v6m-5.6-4h6m-3-3v6m5.5 .8h6m-3-3v6m-8.6-7.8h6m-3-3v6m2.4 3.2h6m-3-3v6m-11.4-9.4h6m-3-3v6m2 1.7h6m-3-3v6m-6.1-4.6h6m-3-3v6m-1.4 2h6m-3-3v6m-.9-10.3h6m-3-3v6m-5.2 .5h6m-3-3v6m-.1-9.3h6m-3-3v6m-4.3-3.7h6m-3-3v6m-5.9-2.9h6m-3-3v6m-4.6-1.2h6m-3-3v6m-2 .5h6m-3-3v6m2.2-5.2h6m-3-3v6m-8.6 0h6m-3-3v6m-5.6-10.9h6m-3-3v6m5 4.5h6m-3-3v6m-2.3-5.5h6m-3-3v6m-9.5-3.9h6m-3-3v6m2.3-3.7h6m-3-3v6m-6.7-4.9h6m-3-3v6m-4.3 3.6h6m-3-3v6m1.7-8.9h6m-3-3v6m-7.5-1.2h6m-3-3v6m1.7-4.8h6m-3-3v6m-5-5.8h6m-3-3v6m-6.2 4.4h6m-3-3v6m3.3-7.6h6m-3-3v6m-7.9 2.7h6m-3-3v6m-1.9-6.9h6m-3-3v6m-.3-.8h6m-3-3v6m-1.3-1.3h6m-3-3v6m-7.9-5.6h6m-3-3v6m-1.5-6.6h6m-3-3v6m-5.7 3.7h6m-3-3v6m-4.8-2.9h6m-3-3v6m2.5-6.3h6m-3-3v6m-2.3-1.2h6m-3-3v6m-1-5.6h6m-3-3v6" stroke="#d62728" stroke-opacity="0.62" stroke-width="1.0" fill="none"/>
<path d="M248.7 33h6m-3-3v6m3.1 .5h6m-3-3v6m-11.2-6.7h6m-3-3v6m-2.3-2h6m-3-3v6m-.3 3.6h6m-3-3v6m-9-6.7h6m-3-3v6m3.6-8h6m-3-3v6m-4.7-2.4h6m-3-3v6m-2.4 1.4h6m-3-3v6m-7.6-2.1h6m-3-3v6m.4-2.5h6m-3-3v6m-.8-3.7h6m-3-3v6m-2.5-3.5h6m-3-3v6m-4.5-8.6h6m-3-3v6m-1.2 1.5h6m-3-3v6m1.1-10.9h6m-3-3v6m-9.6 6h6m-3-3v6m-6.1-6.8h6m-3-3v6m6.8 1.8h6m-3-3v6m-11.7-3h6m-3-3v6m3-4.9h6m-3-3v6m-5.3-4.5h6m-3-3v6m-6.7-5.2h6m-3-3v6m1.7-1.1h6m-3-3v6m.2-4.4h6m-3-3v6m-15.3-3h6m-3-3v6m4.8-.9h6m-3-3v6m-3.6-6.5h6m-3-3v6m1.1-2.5h6m-3-3v6m-5.3-1.9h6m-3-3v6m-8.5 1.9h6m-3-3v6m-6.8-9.6h6m-3-3v6m5.5-1.5h6m-3-3v6m-2-2.3h6m-3-3v6m-6.5 3.6h6m-3-3v6m-2.4-9.8h6m-3-3v6m-5.5-4.7h6m-3-3v6m2.1 .8h6m-3-3v6m-4.9-6.6h6m-3-3v6m-1-5.9h6m-3-3v6m-6 1.2h6m-3-3v6m-4.5-1.8h6m-3-3v6m-2.4-5.8h6m-3-3v6m4.1 1.5h6m-3-3v6m-4.7-5h6m-3-3v6m-3.7-.9h6m-3-3v6m-2.3 1.6h6m-3-3v6m-7.1-9.1h6m-3-3v6m-2.5-14h6m-3-3v6m-6.9 7.3h6m-3-3v6m2.9-4.7h6m-3-3v6m-1.6 2.4h6m-3-3v6m-7.5-2.6h6m-3-3v6m3.3-5.8h6m-3-3v6m-10.9-.1h6m-3-3v6m-.6-8.3h6m-3-3v6m-2.2-3.5h6m-3-3v6m-.2 .8h6m-3-3v6m-2.6-3.5h6m-3-3v6m-8.9-5.2h6m-3-3v6m1.9-3.7h6m-3-3v6m2.9-2.5h6m-3-3v6m-13.2 1h6m-3-3v6m.9-6.4h6m-3-3v6m-5.8-1.7h6m-3-3v6m.1-2h6m-3-3v6m-6.3-4h6m-3-3v6m.3-2h6m-3-3v6m-14.4-7.8h6m-3-3v6m3.7-1.1h6m-3-3v6m-.2 .3h6m-3-3v6m-1.8-6h6m-3-3v6m-4.7 2.5h6m-3-3v6m-4.8-7.2h6m-3-3v6m3.3-2.9h6m-3-3v6m-13.5-2.9h6m-3-3v6m1.8-4.5h6m-3-3v6m1.2-1.3h6m-3-3v6m-6.8-1.7h6m-3-3v6m-1-5.3h6m-3-3v6m-3.4-2.6h6m-3-3v6m-4.8-5.1h6m-3-3v6m-2-4.4h6m-3-3v6m-6.7 3.5h6m-3-3v6m0-6.8h6m-3-3v6m-2.7-2.9h6m-3-3v6m-2.6-2.8h6m-3-3v6m-5.4-.5h6m-3-3v6m-2.7-2.7h6m-3-3v6m-6.5-9.1h6m-3-3v6m5.4-.4h6m-3-3v6m-7.8-1.4h6m-3-3v6m-4.1-3.9h6m-3-3v6m-6.4-4.5h6m-3-3v6m1.6-.2h6m-3-3v6m1.4-7h6m-3-3v6m-.9-2.2h6m-3-3v6m-13.6-8.2h6m-3-3v6m7.4 3.6h6m-3-3v6m-9.3-4.9h6m-3-3v6m-4.3 3.1h6m-3-3v6m-.1-1.7h6m-3-3v6m-3.3-15h6m-3-3v6m0 2.7h6m-3-3v6m-6.1 2.6h6m-3-3v6m-3.1-4.2h6m-3-3v6m-2.3-8.5h6m-3-3v6m-1.5-2.6h6m-3-3v6m-.9 1.6h6m-3-3v6m-6.4-4.1h6m-3-3v6m-1.5-5.5h6m-3-3v6m-2.1-2.9h6m-3-3v6m-3.8-5.1h6m-3-3v6m-4.5 1h6m-3-3v6m-5.5-5.4h6m-3-3v6m-2.3 .3h6m-3-3v6m-3.5-3.8h6m-3-3v6m3.5-3.3h6m-3-3v6m-12.1-3.6h6m-3-3v6m4.7-4.2h6m-3-3v6m-2.8-.4h6m-3-3v6m-5-5.6h6m-3-3v6m-5.7-2.9h6m-3-3v6m-1.3-.8h6m-3-3v6m-2-5.4h6m-3-3v6m-4-1h6m-3-3v6m-7.9-6.3h6m-3-3v6m-.6-1.4h6m-3-3v6m-1.5-3.1h6m-3-3v6m-4.7-.3h6m-3-3v6m.3-9.7h6m-3-3v6m-3.8-1.6h6m-3-3v6m1.9-1h6m-3-3v6m-9-1.4h6m-3-3v6m-2.5-3.4h6m-3-3v6m2.1-2.2h6m-3-3v6m-5.1-.4h6m-3-3v6m-8.2-1.4h6m-3-3v6m1.8-5.1h6m-3-3v6m-7.5-3.4h6m-3-3v6m.7-6.9h6m-3-3v6m2.4 .2h6m-3-3v6m-10.3-4.1h6m-3-3v6m.3-.3h6m-3-3v6m-3.9-2.7h6m-3-3v6m-.4-10.2h6m-3-3v6m-8.7-2.1h6m-3-3v6m-1.3 3.9h6m-3-3v6m-1.4-10.2h6m-3-3v6m-5.7 3h6m-3-3v6m-3.7-6.2h6m-3-3v6m-.6-8.1h6m-3-3v6m-1.6 3.3h6m-3-3v6m-3.6-6.8h6m-3-3v6m-6.9-1.9h6m-3-3v6m-.1-1.1h6m-3-3v6m-3.3 2h6m-3-3v6m.4-10.3h6m-3-3v6m-8.7 4.1h6m-3-3v6m-2-4h6m-3-3v6m2.5-8.5h6m-3-3v6m-8.4-1.2h6m-3-3v6m-4.7-6.1h6m-3-3v6m-1.7 2.3h6m-3-3v6m-3.1-6.1h6m-3-3v6m-3-6.3h6m-3-3v6m2.6-5.9h6m-3-3v6m-9.2 5.5h6m-3-3v6m-5.1-2.9h6m-3-3v6m4.6-7.3h6m-3-3v6" stroke="#9467bd" stroke-opacity="0.62" stroke-width="1.0" fill="none"/>
<path d="M245.6 27.3h6m-3-3v6m-2.2 .5h6m-3-3v6m-3.8 .7h6m-3-3v6m-2.3-3.1h6m-3-3v6m-2.5-10.4h6m-3-3v6m-4.1 1.9h6m-3-3v6m-7.9-.5h6m-3-3v6m1.4-5.8h6m-3-3v6m-5.8-3.9h6m-3-3v6m.4-4.1h6m-3-3v6m-3.6-8.2h6m-3-3v6m.7-.1h6m-3-3v6m-13.3-2.6h6m-3-3v6m.9 1.4h6m-3-3v6m-3.2-3.8h6m-3-3v6m-3.1 2.6h6m-3-3v6m1.3-3.7h6m-3-3v6m-7.5-6.8h6m-3-3v6m-2.8-3.2h6m-3-3v6m1.7-9.3h6m-3-3v6m-8.2-1.8h6m-3-3v6m-4.1-1.7h6m-3-3v6m-1.4-5.1h6m-3-3v6m0 2.8h6m-3-3v6m-7.1-6.2h6m-3-3v6m.9-2.1h6m-3-3v6m-5.1 0h6m-3-3v6m1.5-3.3h6m-3-3v6m-6.1 .7h6m-3-3v6m2.7-9.9h6m-3-3v6m-8.4 1.6h6m-3-3v6m-5-5.3h6m-3-3v6m-.5-6.2h6m-3-3v6m-3.8-5.5h6m-3-3v6m-3.9-4.2h6m-3-3v6m5.1 7.1h6m-3-3v6m-6-6.5h6m-3-3v6m-3.7-.1h6m-3-3v6m-2.9-4.1h6m-3-3v6m-8.6-4.4h6m-3-3v6m-1.9-7.7h6m-3-3v6m-4.8 1.7h6m-3-3v6m3.4-8.2h6m-3-3v6m-1 5.2h6m-3-3v6m-9.2-8.6h6m-3-3v6m-2.1 1.2h6m-3-3v6m-3.9-9.1h6m-3-3v6m-.9-5.7h6m-3-3v6m-3.6 6.3h6m-3-3v6m-2.5-4.1h6m-3-3v6m-2.5-3.1h6m-3-3v6m-4-7.6h6m-3-3v6m-4-.8h6m-3-3v6m1.3 2h6m-3-3v6m-5.5-9.9h6m-3-3v6m-6.3-1.4h6m-3-3v6m3.1-1.5h6m-3-3v6m-7.2-6.2h6m-3-3v6m-.2 .1h6m-3-3v6m-5.7-3.6h6m-3-3v6m2-3.7h6m-3-3v6m-3 1h6m-3-3v6m-7.7-4h6m-3-3v6m-3.6-8h6m-3-3v6m-3.4-3.2h6m-3-3v6m-.7-.3h6m-3-3v6m-2.9-.7h6m-3-3v6m-13.6-4.5h6m-3-3v6m.8-3.4h6m-3-3v6m-.3-3.2h6m-3-3v6m3.5-8.2h6m-3-3v6m-6.4 1.7h6m-3-3v6m-9.1-.9h6m-3-3v6m2.6-6.3h6m-3-3v6m-5.2 7.8h6m-3-3v6m-2-17.6h6m-3-3v6m-4.6 1.2h6m-3-3v6m-1.4-2.2h6m-3-3v6m-4.9-1.2h6m-3-3v6m-1.4-8.5h6m-3-3v6m-4-.2h6m-3-3v6m1.9-.5h6m-3-3v6m-6.5-4.3h6m-3-3v6m-1.4 2.9h6m-3-3v6m-5.4-7.6h6m-3-3v6m.9-7.1h6m-3-3v6m-4.6 .2h6m-3-3v6m-4.9-1.8h6m-3-3v6m1.4-1.4h6m-3-3v6m-6.6-5.7h6m-3-3v6m4.4-6.8h6m-3-3v6m-9.2 2.8h6m-3-3v6m-3.2-3.7h6m-3-3v6m-2.9-2.7h6m-3-3v6m.2-5.8h6m-3-3v6m-6.1-2.5h6m-3-3v6m-4.8-2.9h6m-3-3v6m-5.1-.8h6m-3-3v6m5.2-.2h6m-3-3v6m-4.2-10.8h6m-3-3v6m-2.3-2.2h6m-3-3v6m-7.6 4.4h6m-3-3v6m-5.9-5.9h6m-3-3v6m.9-5.9h6m-3-3v6m-6.3-1.3h6m-3-3v6m-1.8-1.2h6m-3-3v6m1.9-10.1h6m-3-3v6m-8.1 .1h6m-3-3v6m-4.9-5.3h6m-3-3v6m.7-.4h6m-3-3v6m-8.1-3.9h6m-3-3v6m3.3-5h6m-3-3v6m-7.2 5.1h6m-3-3v6m3.5-12.3h6m-3-3v6m-10.7 2.8h6m-3-3v6m-2.6-4.8h6m-3-3v6m-.8-.6h6m-3-3v6m-9-11h6m-3-3v6m.7 6.3h6m-3-3v6m.2-10.9h6m-3-3v6m-1.2 4h6m-3-3v6m-5.1-6h6m-3-3v6m-1 1.5h6m-3-3v6m-3.9-5h6m-3-3v6m-3.5-5.7h6m-3-3v6m-5.6-1.1h6m-3-3v6m-1.2-4.5h6m-3-3v6m.6-.8h6m-3-3v6m-3.2-9h6m-3-3v6m-3.9-.2h6m-3-3v6m-6.9-3.7h6m-3-3v6m2.8 1.8h6m-3-3v6m-8.6-8.7h6m-3-3v6m-.9-1h6m-3-3v6m1.8-5.9h6m-3-3v6m-13.1 .5h6m-3-3v6m2.3-1.9h6m-3-3v6m-.8 2.7h6m-3-3v6m-6.2-10.6h6m-3-3v6m-7.1-.7h6m-3-3v6m4.6-4.5h6m-3-3v6m-2.1-2.2h6m-3-3v6m-2-2.1h6m-3-3v6m-10.5-5.8h6m-3-3v6m-4.3-6.2h6m-3-3v6m2.2 4.6h6m-3-3v6m1.9-5.7h6m-3-3v6m-9.4-6.1h6m-3-3v6m.6 1.4h6m-3-3v6m-7.6-2.2h6m-3-3v6m.3-10.4h6m-3-3v6m-2.4 2.8h6m-3-3v6m-6.3-4.6h6m-3-3v6m3.2 2.7h6m-3-3v6m-2.8-10.8h6m-3-3v6m-10.2 3h6m-3-3v6m-4.6-7.7h6m-3-3v6m-4.7 4.4h6m-3-3v6m5.3-7h6m-3-3v6m-5.5-5.6h6m-3-3v6m-4.8 0h6m-3-3v6m-3.9-1.2h6m-3-3v6m-2.3-9.1h6m-3-3v6m2.2-.9h6m-3-3v6m-5.2-3.8h6m-3-3v6m-11.1-.2h6m-3-3v6m-.4-1.4h6m-3-3v6m-3.6-11.6h6m-3-3v6m2.4 3.7h6m-3-3v6m-3.6-7.8h6m-3-3v6" stroke="#8c564b" stroke-opacity="0.62" stroke-width="1.0" fill="none"/>
<path d="M240.8 23.9h6m-3-3v6m-7-1h6m-3-3v6m-2.7 1.8h6m-3-3v6m-3.7-3.9h6m-3-3v6m.8-9.6h6m-3-3v6m-8.4 .9h6m-3-3v6m-1.3-1h6m-3-3v6m-6.9-1.8h6m-3-3v6m4.7-5.6h6m-3-3v6m-9.1-2.5h6m-3-3v6m-.6-1.4h6m-3-3v6m-1.7-2.5h6m-3-3v6m-4-.9h6m-3-3v6m-8.4-10.2h6m-3-3v6m5.1-4.4h6m-3-3v6m-2.3-2.1h6m-3-3v6m-4.8-2.2h6m-3-3v6m-4.6 .2h6m-3-3v6m-2-4.6h6m-3-3v6m3.5-1.9h6m-3-3v6m-12-.3h6m-3-3v6m2.2-2.2h6m-3-3v6m-.2-9.2h6m-3-3v6m-5.1 3h6m-3-3v6m-6.1-5.6h6m-3-3v6m-11.7-5.4h6m-3-3v6m10.9-6.5h6m-3-3v6m-9.8 3h6m-3-3v6m.3 .9h6m-3-3v6m-9.8-7.6h6m-3-3v6m4.6-6.9h6m-3-3v6m-5.6 6.3h6m-3-3v6m.9-6.9h6m-3-3v6m-14.4-5h6m-3-3v6m5.7-3.5h6m-3-3v6m-4.3 6.8h6m-3-3v6m-3.4-14.7h6m-3-3v6m-1.7-1.1h6m-3-3v6m-4.6-2.4h6m-3-3v6m.1-2h6m-3-3v6m-8.7-4.1h6m-3-3v6m1.9-4h6m-3-3v6m-1.1 .6h6m-3-3v6m-9.2-4.3h6m-3-3v6m5.6 .6h6m-3-3v6m-8.9-4.9h6m-3-3v6m-4.8-9.8h6m-3-3v6m.6 1.9h6m-3-3v6m-3.1-3.8h6m-3-3v6m-3.6-4.4h6m-3-3v6m-2.5 .9h6m-3-3v6m-4.6-3h6m-3-3v6m-7.9-7.7h6m-3-3v6m6.3 4.4h6m-3-3v6m-6.5-8.4h6m-3-3v6m-7.4-1.7h6m-3-3v6m2.9-8.3h6m-3-3v6m-3.6 2.7h6m-3-3v6m-3.3-7.7h6m-3-3v6m-2.7-4.1h6m-3-3v6m-.3 1.8h6m-3-3v6m-10.7 .5h6m-3-3v6m3.7-8.8h6m-3-3v6m.1-4h6m-3-3v6m-8.5 3.3h6m-3-3v6m-10.5-3.5h6m-3-3v6m3.4-6h6m-3-3v6m-5.9-1.9h6m-3-3v6m-3.1-6.8h6m-3-3v6m-1.1-3.8h6m-3-3v6m2.9-3.3h6m-3-3v6m-9.8 0h6m-3-3v6m-.8 .2h6m-3-3v6m-.6-6.2h6m-3-3v6m-6.5-2h6m-3-3v6m.5-1.1h6m-3-3v6m-6.9-11h6m-3-3v6m4.7 5.8h6m-3-3v6m-8.4-4.8h6m-3-3v6m-5.3-6.9h6m-3-3v6m-2.5-.8h6m-3-3v6m-3.8-6.5h6m-3-3v6m-2.1 2.9h6m-3-3v6m-3.5-4.6h6m-3-3v6m-7.6-3.7h6m-3-3v6m2.6-6h6m-3-3v6m-7.6 1.8h6m-3-3v6m-.4-2.8h6m-3-3v6m-1.8-2.6h6m-3-3v6m-2.8-9.2h6m-3-3v6m-2.3 .4h6m-3-3v6m-.8-3.3h6m-3-3v6m-6 .8h6m-3-3v6m1.5-3.3h6m-3-3v6m-3.4-3.9h6m-3-3v6m-3.8-1.8h6m-3-3v6m-4-5.3h6m-3-3v6m-3.8 3.8h6m-3-3v6m-3.4-10.7h6m-3-3v6m-4.1-2.4h6m-3-3v6m-1.2-6.2h6m-3-3v6m-9.5 1.1h6m-3-3v6m-1.9-3.1h6m-3-3v6m2.1-.4h6m-3-3v6m1.4-5.2h6m-3-3v6m-9.4-7.5h6m-3-3v6m-3.7 .5h6m-3-3v6m-6.7-2.9h6m-3-3v6m3-1.3h6m-3-3v6m-4-4.6h6m-3-3v6m-4.1-4.7h6m-3-3v6m-6.1-1.2h6m-3-3v6m6.7-2.9h6m-3-3v6m-6.4-6.4h6m-3-3v6m0-2.3h6m-3-3v6m-4.8-.5h6m-3-3v6m-8.1-.3h6m-3-3v6m-.2-5.5h6m-3-3v6m-1.7-3.6h6m-3-3v6m-5.4-1.6h6m-3-3v6m-3.1-4.1h6m-3-3v6m-3.7-7.5h6m-3-3v6m-3.1-.1h6m-3-3v6m-1 1.8h6m-3-3v6m-7.9-6h6m-3-3v6m-4.5-6.4h6m-3-3v6m1.9-6.5h6m-3-3v6m-6.9 3.9h6m-3-3v6m2.6-3.7h6m-3-3v6m-5.5 3.5h6m-3-3v6m-1.2-11.7h6m-3-3v6m2.4 1.3h6m-3-3v6m-9-1.3h6m-3-3v6m-1.5-4.6h6m-3-3v6m-2.7-7.9h6m-3-3v6m-.9 .5h6m-3-3v6m-8.7-5.7h6m-3-3v6m2.7-1.9h6m-3-3v6m-5.7 0h6m-3-3v6m-2.7-9.3h6m-3-3v6m-1.6 4.1h6m-3-3v6m-2.3-1h6m-3-3v6m-4.5-5.5h6m-3-3v6m.6-6.1h6m-3-3v6m-2.6 2.9h6m-3-3v6m-5.7-2.7h6m-3-3v6m-2.8-10.9h6m-3-3v6m-2.2 .5h6m-3-3v6m-5.1-3.5h6m-3-3v6m-.3-1.8h6m-3-3v6m-8.9-3.2h6m-3-3v6m1.1-6.5h6m-3-3v6m-6.4-2h6m-3-3v6m-3.5-.9h6m-3-3v6m1.7 1.5h6m-3-3v6m-2.4-5.5h6m-3-3v6m-3.2-2.1h6m-3-3v6m-7.4-4.9h6m-3-3v6m-1-5.4h6m-3-3v6m-5.2-4.1h6m-3-3v6m-2.5-5.1h6m-3-3v6m-.7 .5h6m-3-3v6m-4.2-1.9h6m-3-3v6m-1.2-5.7h6m-3-3v6m-5.4-6h6m-3-3v6m-9.1-3.9h6m-3-3v6m7.8-2.7h6m-3-3v6m-6 6.6h6m-3-3v6m-5.7-2.6h6m-3-3v6m3.6-5h6m-3-3v6" stroke="#e377c2" stroke-opacity="0.62" stroke-width="1.0" fill="none"/>
<path d="M239.1 29h6m-3-3v6m-11.3-3.3h6m-3-3v6m-2.3-7.9h6m-3-3v6m-5.2 6.7h6m-3-3v6m-1-9.3h6m-3-3v6m-3.4-2.5h6m-3-3v6m-1.8-4.5h6m-3-3v6m-5.6-5.7h6m-3-3v6m-1.8 1.6h6m-3-3v6m4.7-.9h6m-3-3v6m-3.7-4.6h6m-3-3v6m-8.2-7.8h6m-3-3v6m-2.7-5.3h6m-3-3v6m-3.8 7.2h6m-3-3v6m-1.3-4.3h6m-3-3v6m-5-9.8h6m-3-3v6m-3.2-.3h6m-3-3v6m1.5 3.4h6m-3-3v6m-8.2-9.3h6m-3-3v6m-1.4-3h6m-3-3v6m-6-1.8h6m-3-3v6m1.4-2.2h6m-3-3v6m-7.3-4.3h6m-3-3v6m-4.4-.3h6m-3-3v6m-1.1-6.2h6m-3-3v6m-1.4-3.8h6m-3-3v6m-4.7-6.2h6m-3-3v6m4.6 2.5h6m-3-3v6m-7 1.9h6m-3-3v6m-4-7.1h6m-3-3v6m-2.6-1.3h6m-3-3v6m-1.7-5.4h6m-3-3v6m-5.1-3.1h6m-3-3v6m.8-9.3h6m-3-3v6m-6.4 1.5h6m-3-3v6m-3.5-7.3h6m-3-3v6m-.2 .1h6m-3-3v6m-5.6-2.1h6m-3-3v6m-6.9-2.8h6m-3-3v6m-3.5-4.4h6m-3-3v6m1.2-.4h6m-3-3v6m-2-3.4h6m-3-3v6m2.6-1.4h6m-3-3v6m-12.1-5.9h6m-3-3v6m-1.5-1.8h6m-3-3v6m-2.8-4.8h6m-3-3v6m3.1-.6h6m-3-3v6m-8.4-3.8h6m-3-3v6m-2.7 1.4h6m-3-3v6m-1.1-3.7h6m-3-3v6m-12.7-5.1h6m-3-3v6m8.3 1.4h6m-3-3v6m-5.8-12.9h6m-3-3v6m-1.5 0h6m-3-3v6m-9.4-3.1h6m-3-3v6m4.7 1.9h6m-3-3v6m-3.9-9h6m-3-3v6m1.8-3.4h6m-3-3v6m-10-3.7h6m-3-3v6m.8 2.1h6m-3-3v6m-4.2-4h6m-3-3v6m-5.6-2.7h6m-3-3v6m-7.9-.8h6m-3-3v6m4.6-6.8h6m-3-3v6m-5.5-1.1h6m-3-3v6m1.3-2.6h6m-3-3v6m-7.2-5.6h6m-3-3v6m-7.1-3.2h6m-3-3v6m1.2-2.1h6m-3-3v6m-3-.3h6m-3-3v6m-2-4.2h6m-3-3v6m-2.4-3.3h6m-3-3v6m-4.8-2.2h6m-3-3v6m-7.6-.9h6m-3-3v6m-1.8-4.1h6m-3-3v6m.5-2.3h6m-3-3v6m-3-8.5h6m-3-3v6m-.2 0h6m-3-3v6m-5.5-3.3h6m-3-3v6m-.6-1h6m-3-3v6m-5.1-9.4h6m-3-3v6m-4.7 1.5h6m-3-3v6m2.9-2.2h6m-3-3v6m-8.1-.8h6m-3-3v6m-3-6.3h6m-3-3v6m-2.3-7h6m-3-3v6m-.9 2.2h6m-3-3v6m-6.3-7.2h6m-3-3v6m-1.7 3.8h6m-3-3v6m-5.3-9.6h6m-3-3v6m-.1-4.5h6m-3-3v6m-10.1 .1h6m-3-3v6m1.1-2.5h6m-3-3v6m-2.6-1.4h6m-3-3v6m-2.1-5.5h6m-3-3v6m-3.7 .4h6m-3-3v6m.9-2.3h6m-3-3v6m-3.7-14.4h6m-3-3v6m-7.6 5.1h6m-3-3v6m.2-6.5h6m-3-3v6m.3 2.2h6m-3-3v6m-8.5-3.4h6m-3-3v6m-2.3-5.5h6m-3-3v6m-.7-2.2h6m-3-3v6m-8.1-3.5h6m-3-3v6m.5-4.2h6m-3-3v6m.7-3h6m-3-3v6m-1.7 2.4h6m-3-3v6m-10.3-5.1h6m-3-3v6m2.8-3.9h6m-3-3v6m-9.4-2.1h6m-3-3v6m5.6-7.4h6m-3-3v6m-6.9 1.1h6m-3-3v6m-4.8-4.1h6m-3-3v6m-3.6 .9h6m-3-3v6m-.5-8.5h6m-3-3v6m-.4-3.8h6m-3-3v6m-5.4 1h6m-3-3v6m-1.6-2.6h6m-3-3v6m-3.3-4h6m-3-3v6m-3.3-2h6m-3-3v6m.2-5.8h6m-3-3v6m-5.6 .1h6m-3-3v6m-5.7-5.7h6m-3-3v6m-2.3-5.5h6m-3-3v6m-7.9 2.9h6m-3-3v6m-3.5-1h6m-3-3v6m.5-6.2h6m-3-3v6m-2.1-2.6h6m-3-3v6m-3.9-5.1h6m-3-3v6m-2.6 .8h6m-3-3v6m.4-2.4h6m-3-3v6m-5.1-6.9h6m-3-3v6m-8.5-.8h6m-3-3v6m3.8-5.8h6m-3-3v6m-3.1 1.6h6m-3-3v6m-4.9-3.6h6m-3-3v6m-2.4-10.6h6m-3-3v6m-5.2 .6h6m-3-3v6m-.2-4.2h6m-3-3v6m-5.7-3.3h6m-3-3v6m-1.9-.2h6m-3-3v6m-.2-1h6m-3-3v6m-5.2-4.5h6m-3-3v6m-3.2-3.4h6m-3-3v6m.9-10h6m-3-3v6m-7.6 4.5h6m-3-3v6m.5-6.8h6m-3-3v6m-5.1 2.3h6m-3-3v6m-5.2-10.5h6m-3-3v6m-2.7-1h6m-3-3v6m-.3-2.1h6m-3-3v6m0-.3h6m-3-3v6m-9.9-4.8h6m-3-3v6m-3.8-.5h6m-3-3v6m4-4.7h6m-3-3v6m-4.6-4.9h6m-3-3v6m-4.6 5.7h6m-3-3v6m-7.7-5.9h6m-3-3v6m4-11.4h6m-3-3v6m-10-.5h6m-3-3v6m3.4-1.6h6m-3-3v6m-6 .1h6m-3-3v6m-2.3-4.3h6m-3-3v6m-4.1-.6h6m-3-3v6m-4.3-1.5h6m-3-3v6m-1.8-9.7h6m-3-3v6m-.3 .4h6m-3-3v6m-10.1-3.6h6m-3-3v6m-1.3-5.8h6m-3-3v6" stroke="#7f7f7f" stroke-opacity="0.62" stroke-width="1.0" fill="none"/>
<path d="M231.7 25.2h6m-3-3v6m-4.2-1.7h6m-3-3v6m1.4-2.2h6m-3-3v6m-11.7-5.8h6m-3-3v6m-2.2 .4h6m-3-3v6m-.5-.6h6m-3-3v6m-2.5-5.4h6m-3-3v6m-2.6-3.7h6m-3-3v6m-3.1-.4h6m-3-3v6m-1.6-6.8h6m-3-3v6m-10.2-3.7h6m-3-3v6m2.8-7.7h6m-3-3v6m-5.2 5.2h6m-3-3v6m-3.2-7.4h6m-3-3v6m3.5 4h6m-3-3v6m-8.7-3.1h6m-3-3v6m1.4-9.9h6m-3-3v6m.9-2.5h6m-3-3v6m-11.3-3.4h6m-3-3v6m-2-3.6h6m-3-3v6m-3.3 3.7h6m-3-3v6m-2.4-6.8h6m-3-3v6m.8-4.8h6m-3-3v6m-4.6-1.3h6m-3-3v6m-5.2-2.1h6m-3-3v6m-3.2-3.2h6m-3-3v6m-5.6-4.5h6m-3-3v6m.5-1.7h6m-3-3v6m-7.5-4.7h6m-3-3v6m-1.7-1.1h6m-3-3v6m-.6-2.6h6m-3-3v6m-5.3-3.2h6m-3-3v6m-5-11.2h6m-3-3v6m.7 .5h6m-3-3v6m-5.6-1.8h6m-3-3v6m1.5-3h6m-3-3v6m-4-1h6m-3-3v6m-7.3-6h6m-3-3v6m1.8 2.5h6m-3-3v6m-2.2 1h6m-3-3v6m-4.4-7.4h6m-3-3v6m-4.1-3.5h6m-3-3v6m-3.6-5.8h6m-3-3v6m3.5-5.7h6m-3-3v6m-7.8 3.5h6m-3-3v6m-3.3-7h6m-3-3v6m-4-1.6h6m-3-3v6m-5.5-1.8h6m-3-3v6m-1.1-4.4h6m-3-3v6m0-4.5h6m-3-3v6m-3.7-1.7h6m-3-3v6m-3-1.1h6m-3-3v6m-3.5-5.9h6m-3-3v6m-5.9-2.7h6m-3-3v6m-.3 1.5h6m-3-3v6m-.5-6.5h6m-3-3v6m-5.8-6.1h6m-3-3v6m-9.4-.9h6m-3-3v6m1.3-5h6m-3-3v6m-6.1 2.9h6m-3-3v6m-.3-9.2h6m-3-3v6m5.7 2.1h6m-3-3v6m-10.3-1.6h6m-3-3v6m-4.3-.4h6m-3-3v6m-5.2-11.1h6m-3-3v6m1-1.5h6m-3-3v6m1.3-5.3h6m-3-3v6m-9 2.1h6m-3-3v6m.6-.9h6m-3-3v6m-3.6 .4h6m-3-3v6m-5.3-8.7h6m-3-3v6m.7-4.4h6m-3-3v6m-6.2-3.4h6m-3-3v6m-4-4.9h6m-3-3v6m-2.8-4.1h6m-3-3v6m-.4-3.2h6m-3-3v6m1.7 6.2h6m-3-3v6m-5.6-8.3h6m-3-3v6m-7.8 1h6m-3-3v6m-.8-4.9h6m-3-3v6m-5.5-1.6h6m-3-3v6m-3.3-5.6h6m-3-3v6m-5.6-5.2h6m-3-3v6m3.3-2.4h6m-3-3v6m-5.7 .5h6m-3-3v6m-2-1.8h6m-3-3v6m-9.5-4.9h6m-3-3v6m5.2-8.9h6m-3-3v6m-8.1 3.8h6m-3-3v6m-2.3-7.2h6m-3-3v6m1.6-2.2h6m-3-3v6m-3.3-4.5h6m-3-3v6m-3.5 2.5h6m-3-3v6m-3-12.2h6m-3-3v6m-2 3.3h6m-3-3v6m-7.4 .7h6m-3-3v6m-5.3-1.6h6m-3-3v6m.1-3.9h6m-3-3v6m-1.4-11.1h6m-3-3v6m-2.6 1.7h6m-3-3v6m-1.8-1h6m-3-3v6m-7-4.6h6m-3-3v6m1.6-5.1h6m-3-3v6m-7.7-4.9h6m-3-3v6m1.7 1.9h6m-3-3v6m-7.4-9h6m-3-3v6m2.8-3.6h6m-3-3v6m-6-.9h6m-3-3v6m-8.4-.4h6m-3-3v6m1.4 .6h6m-3-3v6m3.9-7.5h6m-3-3v6m-6.5 .4h6m-3-3v6m-7.3-8.3h6m-3-3v6m2.9-1.6h6m-3-3v6m-7.5-2.8h6m-3-3v6m-3.3-3.9h6m-3-3v6m-.6 2.2h6m-3-3v6m-6.1-10.3h6m-3-3v6m-1.8-3.3h6m-3-3v6m-4.9 4.6h6m-3-3v6m5.2-5.4h6m-3-3v6m-12.4-1.9h6m-3-3v6m-6.3-7.1h6m-3-3v6m7.5 1h6m-3-3v6m-11.1-9.7h6m-3-3v6m3.2 1.5h6m-3-3v6m-7-1.7h6m-3-3v6m-3-9.5h6m-3-3v6m.9 .5h6m-3-3v6m-8.1-4.9h6m-3-3v6m.5-1.5h6m-3-3v6m-1.9-1.5h6m-3-3v6m-1.8-3.3h6m-3-3v6m-7.8-7.5h6m-3-3v6m-4.2 4.5h6m-3-3v6m8.5-8.5h6m-3-3v6m-14.4 1.5h6m-3-3v6m1.3-5.9h6m-3-3v6m-4.1-5.5h6m-3-3v6m-4.1 3.9h6m-3-3v6m2.4-5.9h6m-3-3v6m-8.3-1.3h6m-3-3v6m.8-2.9h6m-3-3v6m-8.2-3.4h6m-3-3v6m1.8-5.9h6m-3-3v6m-9.4 .4h6m-3-3v6m1.8-1.8h6m-3-3v6m-3.8-7.5h6m-3-3v6m-4.5-4h6m-3-3v6m-4.4-1.7h6m-3-3v6m-1.7 1.6h6m-3-3v6m-5.1-6.2h6m-3-3v6m-1.2 1.3h6m-3-3v6m-.6-8.2h6m-3-3v6m-1.5-1.8h6m-3-3v6m-6.6 1.1h6m-3-3v6m.3-2.4h6m-3-3v6m-1.7-5.7h6m-3-3v6m-5.9-8.2h6m-3-3v6m-1.4 .3h6m-3-3v6m-3.1-3.3h6m-3-3v6m-6.8-5.7h6m-3-3v6m.9 3.4h6m-3-3v6m-5.7-5.4h6m-3-3v6m1.6-6.6h6m-3-3v6m-7.8-3.7h6m-3-3v6m1.2 .8h6m-3-3v6m-7.5-8.3h6m-3-3v6m-2.2 4.3h6m-3-3v6m-3.3-6.9h6m-3-3v6" stroke="#bcbd22" stroke-opacity="0.62" stroke-width="1.0" fill="none"/>
<path d="M225 20.2h6m-3-3v6m-4.7 2.1h6m-3-3v6m-5.3-7h6m-3-3v6m-.1-1h6m-3-3v6m-4.4-2.1h6m-3-3v6m-1.7-6.2h6m-3-3v6m-5.5 .9h6m-3-3v6m2-.5h6m-3-3v6m-8.5-3.8h6m-3-3v6m1.5-6.1h6m-3-3v6m-3.7-.6h6m-3-3v6m.6-8.2h6m-3-3v6m-6.3-.5h6m-3-3v6m-5.3 .6h6m-3-3v6m-.1-9h6m-3-3v6m-6.1 .5h6m-3-3v6m-6.1-1.3h6m-3-3v6m.7-4.9h6m-3-3v6m-1.9 1.5h6m-3-3v6m-3.8-9h6m-3-3v6m1.7-3.4h6m-3-3v6m-9.2-5.4h6m-3-3v6m1.4 1.6h6m-3-3v6m-4.7-3.3h6m-3-3v6m-4.7-5.6h6m-3-3v6m-4.7 .3h6m-3-3v6m-.5 .4h6m-3-3v6m-5.5-8.9h6m-3-3v6m-3.7 2.1h6m-3-3v6m-3.6-4.6h6m-3-3v6m4.4-5.6h6m-3-3v6m-5-8.5h6m-3-3v6m-6-1.7h6m-3-3v6m-1.5 1.7h6m-3-3v6m-5.6-.4h6m-3-3v6m.1-7.1h6m-3-3v6m-5.4-5.6h6m-3-3v6m-2.1 6.9h6m-3-3v6m-4.4-7.7h6m-3-3v6m-2.6-1.9h6m-3-3v6m-.3-5.9h6m-3-3v6m-9.1-3.8h6m-3-3v6m5.2-2.2h6m-3-3v6m-4.5-3.7h6m-3-3v6m-9.9-.5h6m-3-3v6m3-5.8h6m-3-3v6m-4.9-.6h6m-3-3v6m-3.6-2.8h6m-3-3v6m-1.9-10.5h6m-3-3v6m-2.9 1.9h6m-3-3v6m-4.9-.2h6m-3-3v6m-2-2.7h6m-3-3v6m1.4-4.1h6m-3-3v6m-10.3-5.4h6m-3-3v6m3.8-1.7h6m-3-3v6m-7.8-2.5h6m-3-3v6m.6-2h6m-3-3v6m-2.6-6h6m-3-3v6m-5.5-1.4h6m-3-3v6m-2.3-8.1h6m-3-3v6m-3.6-1h6m-3-3v6m1.5 5.1h6m-3-3v6m-2.2-5.1h6m-3-3v6m-9-2.6h6m-3-3v6m-2.2-3.9h6m-3-3v6m-5-6.4h6m-3-3v6m.8 3.6h6m-3-3v6m-4.3-1.7h6m-3-3v6m4.7-12.8h6m-3-3v6m-10.7-2.1h6m-3-3v6m-3.3-1.8h6m-3-3v6m-2.8 1.1h6m-3-3v6m-.2-4.9h6m-3-3v6m-5.6-3.4h6m-3-3v6m-2.7-1.7h6m-3-3v6m-3.3-3.2h6m-3-3v6m-6.7-2.2h6m-3-3v6m5.5-4.7h6m-3-3v6m-11.8 .2h6m-3-3v6m0-15h6m-3-3v6m-2.6 6.9h6m-3-3v6m-1.4-1.2h6m-3-3v6m-2.3-6.1h6m-3-3v6m-10.2-6.4h6m-3-3v6m3 1.9h6m-3-3v6m-6.4-6.5h6m-3-3v6m1.2-6.6h6m-3-3v6m-9.7 1.6h6m-3-3v6m3.1-3.7h6m-3-3v6m-10.1-1.6h6m-3-3v6m-.3-1.2h6m-3-3v6m.4-4.1h6m-3-3v6m-1-5.2h6m-3-3v6m-2.4 1.9h6m-3-3v6m-4.2-2.7h6m-3-3v6m-5.9-4.2h6m-3-3v6m-.5-8.3h6m-3-3v6m-4-1.7h6m-3-3v6m-4.3-1.3h6m-3-3v6m1.5-4.1h6m-3-3v6m-5.6-6.2h6m-3-3v6m-3 4.3h6m-3-3v6m-1.1-4.9h6m-3-3v6m-6.7-7h6m-3-3v6m-1.8-4h6m-3-3v6m-6.2 3.3h6m-3-3v6m-2.1-.6h6m-3-3v6m-4.4-6.8h6m-3-3v6m-2.3-3.7h6m-3-3v6m-2.6-3.4h6m-3-3v6m-.6-4.4h6m-3-3v6m-1.1 2.5h6m-3-3v6m-6.1-4.8h6m-3-3v6m-1.1-5.5h6m-3-3v6m2.8-8.9h6m-3-3v6m-10.9-2h6m-3-3v6m-2 1.3h6m-3-3v6m8.4-1.4h6m-3-3v6m-8.6-.3h6m-3-3v6m-9.2-5.3h6m-3-3v6m2.9-3.8h6m-3-3v6m-7.1-2.1h6m-3-3v6m-7.7-6.7h6m-3-3v6m2.1 .8h6m-3-3v6m-6.5-5.4h6m-3-3v6m-.8-2.5h6m-3-3v6m-.7-2.3h6m-3-3v6m-4.5-7.3h6m-3-3v6m-6.4 1.9h6m-3-3v6m-4.5-3.2h6m-3-3v6m-.4-6h6m-3-3v6m.7-2.6h6m-3-3v6m-7.2-3h6m-3-3v6m-.5 6.5h6m-3-3v6m-9-10.7h6m-3-3v6m2.2-.3h6m-3-3v6m-3.4-12.5h6m-3-3v6m1.7 .8h6m-3-3v6m-6.8-3.7h6m-3-3v6m-5.9-.6h6m-3-3v6m2.4 .7h6m-3-3v6m-7-4h6m-3-3v6m-2.4-4h6m-3-3v6m-1.5-1.6h6m-3-3v6m-5.2-5.1h6m-3-3v6m-.7-2.4h6m-3-3v6m-5.8 1.5h6m-3-3v6m-2.1-5.7h6m-3-3v6m-1.1-1.7h6m-3-3v6m-9.7-.7h6m-3-3v6m2.5-12.1h6m-3-3v6m-2 6.7h6m-3-3v6m-2-12.7h6m-3-3v6m-5.7 4.1h6m-3-3v6m-5.6-7.2h6m-3-3v6m.1 3.6h6m-3-3v6m-3-5.4h6m-3-3v6m-4.1-8.9h6m-3-3v6m1.7 1h6m-3-3v6m-10.6-3h6m-3-3v6m3.6-6.5h6m-3-3v6m-4.2-.5h6m-3-3v6m-4.9-5.4h6m-3-3v6m-3.6-2.1h6m-3-3v6m-4.8-2.4h6m-3-3v6m-3.4-2.7h6m-3-3v6m.9-6.1h6m-3-3v6m-.4 5.3h6m-3-3v6m-1.7-12.2h6m-3-3v6m-3.2 1.4h6m-3-3v6" stroke="#17becf" stroke-opacity="0.62" stroke-width="1.0" fill="none"/>
<path d="M216.2 21h6m-3-3v6m-2.9 2.1h6m-3-3v6m-1-7.6h6m-3-3v6m-7.3-3h6m-3-3v6m1.4 2.8h6m-3-3v6m-8.7-7.8h6m-3-3v6m-.7-4.9h6m-3-3v6m-.3 .4h6m-3-3v6m-9.3-7.1h6m-3-3v6m6.1 .4h6m-3-3v6m-5.3-5.1h6m-3-3v6m-6.2-.5h6m-3-3v6m-3.4-7h6m-3-3v6m-1.2 2.2h6m-3-3v6m-6.6-2.6h6m-3-3v6m3-8h6m-3-3v6m-5.4-.9h6m-3-3v6m-.8-1.2h6m-3-3v6m-9.8-8.1h6m-3-3v6m5.1 .7h6m-3-3v6m-5.1-2.4h6m-3-3v6m.9-7h6m-3-3v6m-4.6-2h6m-3-3v6m-4.2 2.6h6m-3-3v6m-10.3-5.4h6m-3-3v6m.8-4.8h6m-3-3v6m-1.9-5h6m-3-3v6m-6.5 1.4h6m-3-3v6m3.3-6.1h6m-3-3v6m-11 4.4h6m-3-3v6m5.9-8h6m-3-3v6m-10.4-5.5h6m-3-3v6m1.4-3.9h6m-3-3v6m1.7-.2h6m-3-3v6m-7.2-6h6m-3-3v6m-7.5-2.4h6m-3-3v6m1.1-1.7h6m-3-3v6m-4.9-1.5h6m-3-3v6m-1.3 0h6m-3-3v6m-4.4-9.4h6m-3-3v6m-2.4 3.4h6m-3-3v6m-4.8-6.6h6m-3-3v6m-2.4-2.1h6m-3-3v6m-.8-6.1h6m-3-3v6m-4.7 1.4h6m-3-3v6m1.5-3h6m-3-3v6m-3.8-6.2h6m-3-3v6m-7.2 .2h6m-3-3v6m-5.8-5.5h6m-3-3v6m-5.3-3.8h6m-3-3v6m.9-5.1h6m-3-3v6m1.5-1.8h6m-3-3v6m-6.3-1.8h6m-3-3v6m-4.3 1.3h6m-3-3v6m-2.1-6.2h6m-3-3v6m-5.8-4.7h6m-3-3v6m.4-2.5h6m-3-3v6m-3.9-1.9h6m-3-3v6m4.3-3.7h6m-3-3v6m-8.8-3.7h6m-3-3v6m6.2 2.2h6m-3-3v6m-9.8-5.4h6m-3-3v6m-7.4-5.2h6m-3-3v6m.2-2.3h6m-3-3v6m-6.7-5.3h6m-3-3v6m1.7-.2h6m-3-3v6m-12-3.5h6m-3-3v6m8.6-4.9h6m-3-3v6m-6.5-5.1h6m-3-3v6m-1-2.1h6m-3-3v6m-10.1-1h6m-3-3v6m9.4-3.7h6m-3-3v6m-15.5-.3h6m-3-3v6m2.2 .1h6m-3-3v6m-8.2-11.3h6m-3-3v6m.3 2h6m-3-3v6m-.7-1.2h6m-3-3v6m-9.3-7.9h6m-3-3v6m1.6 1.3h6m-3-3v6m-.9-6.2h6m-3-3v6m-8.1 .3h6m-3-3v6m3.7 1.7h6m-3-3v6m-6.8-5.8h6m-3-3v6m-6.6-8.5h6m-3-3v6m-1.1-2.8h6m-3-3v6m-3.7-3.2h6m-3-3v6m-.2-2.8h6m-3-3v6m-.6-2.1h6m-3-3v6m-5.2 1h6m-3-3v6m-1.9-6.4h6m-3-3v6m-4.2-3.2h6m-3-3v6m-1-5.2h6m-3-3v6m-1 3h6m-3-3v6m-3-8.2h6m-3-3v6m-12.4-2.9h6m-3-3v6m3 .3h6m-3-3v6m-4.1-5.9h6m-3-3v6m2.8-4h6m-3-3v6m-4.6 1h6m-3-3v6m-11.2-4.5h6m-3-3v6m-.3-6.2h6m-3-3v6m-7.5-4.5h6m-3-3v6m4.8 0h6m-3-3v6m-3.5-4.8h6m-3-3v6m-5-.9h6m-3-3v6m-7.2-6.6h6m-3-3v6m3.8 1.6h6m-3-3v6m-7.7-3.6h6m-3-3v6m2.5 1.9h6m-3-3v6m-8.4-6.1h6m-3-3v6m7.3-4.4h6m-3-3v6m-5.2-9.7h6m-3-3v6m-3 3.5h6m-3-3v6m-14.5-1h6m-3-3v6m7.1-1.9h6m-3-3v6m-2.5-6.1h6m-3-3v6m-9.7-4.1h6m-3-3v6m-.5-.8h6m-3-3v6m-4.6-3.9h6m-3-3v6m1.7-2.3h6m-3-3v6m1.9 1.6h6m-3-3v6m-14.9-9.9h6m-3-3v6m-3.5-4.5h6m-3-3v6m3.4-2.6h6m-3-3v6m-8.5-1.1h6m-3-3v6m3.3-3.3h6m-3-3v6m-6.9 .3h6m-3-3v6m-.2-4.2h6m-3-3v6m-1.4-6.7h6m-3-3v6m-5.5-2.1h6m-3-3v6m-.2 .7h6m-3-3v6m-10.1-1.6h6m-3-3v6m-3.4-3.5h6m-3-3v6m1.7-8.2h6m-3-3v6m-7.6-1.5h6m-3-3v6m.8-4.1h6m-3-3v6m-1-4.7h6m-3-3v6m-4.9 .5h6m-3-3v6m-9.5-2.2h6m-3-3v6m-.9-10.1h6m-3-3v6m-.7 2.8h6m-3-3v6m2.2-3.7h6m-3-3v6m-1 1.9h6m-3-3v6m-4.4-3.3h6m-3-3v6m-5.5-7.8h6m-3-3v6m-2 .9h6m-3-3v6m-4.4-6.1h6m-3-3v6m-9.2-.6h6m-3-3v6m3.6-8.1h6m-3-3v6m-3.9 2.2h6m-3-3v6m-3.7-2.9h6m-3-3v6m0-8.7h6m-3-3v6m-6.7 2h6m-3-3v6m1.2-.6h6m-3-3v6m-12.7-6.8h6m-3-3v6m6.1 .3h6m-3-3v6m.3-8.6h6m-3-3v6m-10.1-3.3h6m-3-3v6m1.1-3.7h6m-3-3v6m-1.7 2.8h6m-3-3v6m-5.4-10.9h6m-3-3v6m-7.1 4.5h6m-3-3v6m-5.5-5.6h6m-3-3v6m1.5-.1h6m-3-3v6m-1.6-4.6h6m-3-3v6m-5.5-3.6h6m-3-3v6m-2-1.2h6m-3-3v6m-3.1-2.2h6m-3-3v6m-8.3-2.6h6m-3-3v6m2.3-3.2h6m-3-3v6" stroke="#1f77b4" stroke-opacity="0.62" stroke-width="1.0" fill="none"/>
<rect x="34.0" y="1.0" width="267.0" height="199.2" fill="none" stroke="#2a2a2a" stroke-width="0.85"/>
<path d="M61.25 200.2v2.4M113.31 200.2v2.4M165.37 200.2v2.4M217.44 200.2v2.4M269.50 200.2v2.4M34.0 178.41h-2.4M34.0 147.90h-2.4M34.0 117.39h-2.4M34.0 86.88h-2.4M34.0 56.36h-2.4M34.0 25.85h-2.4" stroke="#2a2a2a" stroke-width="0.85" fill="none"/>
<g font-family="Liberation Sans, sans-serif" font-size="8.1" fill="#000">
<text x="61.25" y="210.9" text-anchor="middle">0.4</text>
<text x="113.31" y="210.9" text-anchor="middle">0.5</text>
<text x="165.37" y="210.9" text-anchor="middle">0.6</text>
<text x="217.44" y="210.9" text-anchor="middle">0.7</text>
<text x="269.50" y="210.9" text-anchor="middle">0.8</text>
<text x="28.4" y="181.31" text-anchor="end">−0.1</text>
<text x="28.4" y="150.80" text-anchor="end">0.0</text>
<text x="28.4" y="120.29" text-anchor="end">0.1</text>
<text x="28.4" y="89.78" text-anchor="end">0.2</text>
<text x="28.4" y="59.26" text-anchor="end">0.3</text>
<text x="28.4" y="28.75" text-anchor="end">0.4</text>
<text x="167.3" y="220.5" font-size="7.6" text-anchor="middle">HR1</text>
<text transform="translate(7.4,101.7) rotate(-90)" font-size="7.6" text-anchor="middle">HR2</text>
</g>
<g font-family="Liberation Serif, serif" font-size="15.2" fill="#111">
<text x="40.8" y="18.0" textLength="42.0" lengthAdjust="spacingAndGlyphs">Counts</text>
<text transform="translate(85.8,18.0) scale(1.2,1)">∼</text>
<text x="103.4" y="18.0" textLength="34.0" lengthAdjust="spacingAndGlyphs">10000</text>
<text x="40.8" y="35.0" textLength="16.5" lengthAdjust="spacingAndGlyphs">cos</text>
<text x="57.6" y="35.0">(</text>
<text x="62.6" y="35.0" font-style="italic">θ</text>
<text x="70.4" y="37.8" font-size="10.8" textLength="14.8" lengthAdjust="spacingAndGlyphs">inc</text>
<text x="84.9" y="35.0">)</text>
<text transform="translate(94.3,35.0) scale(1.27,1)">=</text>
<text x="108.6" y="35.0" textLength="24.8" lengthAdjust="spacingAndGlyphs">0.71</text>
</g>
<path d="M391.5 184.1h4m-2-2v4m2.9-6.6h4m-2-2v4m-6.9-.8h4m-2-2v4m-1.6-6.7h4m-2-2v4m-3.3 2.5h4m-2-2v4m-4.1-1.8h4m-2-2v4m-4.6 3.2h4m-2-2v4m4.9-.5h4m-2-2v4m-6.6-11.9h4m-2-2v4m2-3.6h4m-2-2v4m-2.2 1.1h4m-2-2v4m-4 1.1h4m-2-2v4m-.6 3.3h4m-2-2v4m0-12.3h4m-2-2v4m-.8-2.2h4m-2-2v4m-5.1-1.7h4m-2-2v4m-5.2 6.4h4m-2-2v4m-1-8.4h4m-2-2v4m-2-.9h4m-2-2v4m4.9-4.9h4m-2-2v4m-11.3 3.8h4m-2-2v4m-3.2-5.1h4m-2-2v4m7.4-.8h4m-2-2v4m-7.6-4.3h4m-2-2v4m-3.5-1.6h4m-2-2v4m1.6 3.9h4m-2-2v4m.9-7.9h4m-2-2v4m-7.9 2.1h4m-2-2v4m-5.7-5.7h4m-2-2v4m3.1-4.2h4m-2-2v4m-4.3 2.8h4m-2-2v4m-4.3-6.1h4m-2-2v4m1.5 1.2h4m-2-2v4m-4.5 1.3h4m-2-2v4m1.7-6.4h4m-2-2v4m-2.2-3.4h4m-2-2v4m-4.2 4h4m-2-2v4m2.1-6.1h4m-2-2v4m.7-4h4m-2-2v4m-3.2 .4h4m-2-2v4m-7.3 .4h4m-2-2v4m-4.1-2.4h4m-2-2v4m.1-2.8h4m-2-2v4m5.8-1.5h4m-2-2v4m-8.8-3.9h4m-2-2v4m-1.2-5.7h4m-2-2v4m-4.6 1.9h4m-2-2v4m3.7-7.9h4m-2-2v4m-4.1 5.4h4m-2-2v4m-1.4-6.9h4m-2-2v4m1.2-2.7h4m-2-2v4m-3.3 7.1h4m-2-2v4m-11.3-6.3h4m-2-2v4m6.1-2.1h4m-2-2v4m-5.7-3.8h4m-2-2v4m-4.2-.6h4m-2-2v4m4.7-4.5h4m-2-2v4m-7.1-1.4h4m-2-2v4m1.2-.3h4m-2-2v4m-2.4-2h4m-2-2v4m-6.1-11h4m-2-2v4m4.6 11.4h4m-2-2v4m-9-8.8h4m-2-2v4m3.9 3.3h4m-2-2v4m-.8-1h4m-2-2v4m-4.4-4.8h4m-2-2v4m-.4-4.7h4m-2-2v4m.7 1.4h4m-2-2v4m-2.8-5.3h4m-2-2v4m-1.8-4.1h4m-2-2v4m-4.2-7.1h4m-2-2v4m-6.8 8.9h4m-2-2v4m-.1-3.9h4m-2-2v4m-6 2.5h4m-2-2v4m5.6-7.1h4m-2-2v4m-2.6-.9h4m-2-2v4m1.4-2.3h4m-2-2v4m-11.9-3.5h4m-2-2v4m7.5 .6h4m-2-2v4m-7.9-1.9h4m-2-2v4m-.1-2h4m-2-2v4m-7.9-6.8h4m-2-2v4m5.8 .2h4m-2-2v4m-3.1 5h4m-2-2v4m-4.3-7.5h4m-2-2v4m-2.8-4.8h4m-2-2v4m-.4-4.7h4m-2-2v4m-8.9 7.1h4m-2-2v4m4.8-2.8h4m-2-2v4m-1.2-5.1h4m-2-2v4m-.1-.2h4m-2-2v4m-8.4-.4h4m-2-2v4m-1.2-5.3h4m-2-2v4m10-2.4h4m-2-2v4m-5-3.3h4m-2-2v4m-5.6-.8h4m-2-2v4m-2.7-4.9h4m-2-2v4m-6.6 1.9h4m-2-2v4m-4.2-5.8h4m-2-2v4m5.6-1.3h4m-2-2v4m-7.3-3.6h4m-2-2v4m1.6 .4h4m-2-2v4m-2-1.4h4m-2-2v4m3.8-2.8h4m-2-2v4m-15-.2h4m-2-2v4m4.7-1.9h4m-2-2v4m-7.5 1.1h4m-2-2v4m3.4-5.8h4m-2-2v4m-7.3-.3h4m-2-2v4m3.2 .8h4m-2-2v4m-3.2-10.3h4m-2-2v4m-.2-1h4m-2-2v4m-1-2.5h4m-2-2v4m-3.9 .8h4m-2-2v4m-1.6-3h4m-2-2v4m-4.7-.5h4m-2-2v4m-1.2-1.3h4m-2-2v4m-1-9.7h4m-2-2v4m-1.2 9.6h4m-2-2v4m-.8-4.5h4m-2-2v4m-1.5-5.4h4m-2-2v4m-8.1 2.1h4m-2-2v4m6.2-2.8h4m-2-2v4m-4.2-2.6h4m-2-2v4m-3.5-2.3h4m-2-2v4" stroke="#1f77b4" stroke-opacity="0.62" stroke-width="1.0" fill="none"/>
<path d="M461 169.4h4m-2-2v4m-4.9-4.4h4m-2-2v4m2.6-1.3h4m-2-2v4m-11-.8h4m-2-2v4m-1.6 2.7h4m-2-2v4m7-5.3h4m-2-2v4m-6.1-6.6h4m-2-2v4m-.7 1h4m-2-2v4m-3.6-1.7h4m-2-2v4m2.3-.8h4m-2-2v4m-7.1-9.2h4m-2-2v4m1.1 1.9h4m-2-2v4m-.7 4h4m-2-2v4m1.6-5.5h4m-2-2v4m-3.6 1.5h4m-2-2v4m-5.2-5.6h4m-2-2v4m.4-2.8h4m-2-2v4m-6-3.8h4m-2-2v4m-.5-1.7h4m-2-2v4m.4-1.2h4m-2-2v4m0 2h4m-2-2v4m-10.1-2.4h4m-2-2v4m.5-1.2h4m-2-2v4m.7-5.7h4m-2-2v4m-1.5-3.3h4m-2-2v4m-3 .4h4m-2-2v4m-3.4-1.9h4m-2-2v4m-4.5-1.6h4m-2-2v4m-2.6-1.8h4m-2-2v4m2.9-1.8h4m-2-2v4m-5 4h4m-2-2v4m-1-9.4h4m-2-2v4m-3.6 1.3h4m-2-2v4m-1.1-3.2h4m-2-2v4m-3.4-3.7h4m-2-2v4m-.3-.4h4m-2-2v4m-1.8-6.6h4m-2-2v4m.2-2.9h4m-2-2v4m-6.1 3.1h4m-2-2v4m-4.7-2h4m-2-2v4m2.3-6.3h4m-2-2v4m-.1 1.9h4m-2-2v4m-4.4-4h4m-2-2v4m2.1 .4h4m-2-2v4m-4.5-5.9h4m-2-2v4m-4.6-1.6h4m-2-2v4m2.7 1h4m-2-2v4m-3.1 .1h4m-2-2v4m-3.7-6.5h4m-2-2v4m-2.3 3.8h4m-2-2v4m-6.9-6.1h4m-2-2v4m5.4-2.6h4m-2-2v4m3.5 .9h4m-2-2v4m-6.6-7.3h4m-2-2v4m-2.8-.7h4m-2-2v4m-3.3-.5h4m-2-2v4m-3.5-.9h4m-2-2v4m4.2-1h4m-2-2v4m-6.2-9.5h4m-2-2v4m.6 5.6h4m-2-2v4m-5.8-5.9h4m-2-2v4m.5-2.8h4m-2-2v4m-1.6-2.7h4m-2-2v4m-7 .8h4m-2-2v4m-3.5-2.1h4m-2-2v4m3.8-5.3h4m-2-2v4m-.9-.1h4m-2-2v4m-3.1 0h4m-2-2v4m-4.9-3.9h4m-2-2v4m-5.6-2.4h4m-2-2v4m.7 3.9h4m-2-2v4m3.2-9.6h4m-2-2v4m-2.6 2h4m-2-2v4m-5.5-1.4h4m-2-2v4m1.4-4.6h4m-2-2v4m-5-.1h4m-2-2v4m-4.1-2h4m-2-2v4m.6-4.2h4m-2-2v4m-4.2 .5h4m-2-2v4m3-1.9h4m-2-2v4m-7-1h4m-2-2v4m1-2.4h4m-2-2v4m.8-5.7h4m-2-2v4m-5.7-1.3h4m-2-2v4m-4.2 4.6h4m-2-2v4m3.3-11.5h4m-2-2v4m-3.5 1h4m-2-2v4m.1-.3h4m-2-2v4m-5.8-1.9h4m-2-2v4m-.4-2.3h4m-2-2v4m-3.8-2.4h4m-2-2v4m.1-4.5h4m-2-2v4m-3.4 .6h4m-2-2v4m-3.4 .1h4m-2-2v4m-4.4-4.8h4m-2-2v4m-.7 .3h4m-2-2v4m-.9-3.2h4m-2-2v4m.5-6.2h4m-2-2v4m-1.8 .2h4m-2-2v4m-4.1-.4h4m-2-2v4m1.1 .1h4m-2-2v4m.8-3.4h4m-2-2v4m-8.5-3.7h4m-2-2v4m1.3 3.3h4m-2-2v4m-2.9-7.5h4m-2-2v4m-2.2 .1h4m-2-2v4m-2.7-4.5h4m-2-2v4m-9.5-1.5h4m-2-2v4m8.4-.1h4m-2-2v4m-11.4-2.5h4m-2-2v4m-1 3h4m-2-2v4m3.9-10.1h4m-2-2v4m-.2-.9h4m-2-2v4m-2.7 0h4m-2-2v4m-7-.4h4m-2-2v4m-2.5-.3h4m-2-2v4m2-7.9h4m-2-2v4m-7.4 4.6h4m-2-2v4m7.5-9.2h4m-2-2v4m-1.5 1.6h4m-2-2v4m-7.4-2.7h4m-2-2v4m-2.1 1.9h4m-2-2v4m-.8-10.3h4m-2-2v4m3.6 4.9h4m-2-2v4m-11.2-5.1h4m-2-2v4" stroke="#ff7f0e" stroke-opacity="0.62" stroke-width="1.0" fill="none"/>
<path d="M504.7 157.2h4m-2-2v4m1.6-1.6h4m-2-2v4m-4.7-4.2h4m-2-2v4m2-.5h4m-2-2v4m1.9-3.5h4m-2-2v4m-6-.2h4m-2-2v4m-6.4 .8h4m-2-2v4m.5-6.8h4m-2-2v4m-3.3 2.1h4m-2-2v4m-4.5-1.3h4m-2-2v4m3.4-5.5h4m-2-2v4m-.2 2.3h4m-2-2v4m-4.1-5.3h4m-2-2v4m1.5 .8h4m-2-2v4m-9.8-5.7h4m-2-2v4m0-2.4h4m-2-2v4m-5.6 .8h4m-2-2v4m2.5-3.7h4m-2-2v4m1.7-3.4h4m-2-2v4m-6.1-.2h4m-2-2v4m-3.1-2.9h4m-2-2v4m1.4-1.7h4m-2-2v4m-.4-3.6h4m-2-2v4m-5.2-3.5h4m-2-2v4m-2.9-.4h4m-2-2v4m2.2 1.1h4m-2-2v4m-4.4 .4h4m-2-2v4m.6-4.5h4m-2-2v4m-8-6.6h4m-2-2v4m-.1 .3h4m-2-2v4m-3.8-1.8h4m-2-2v4m-4.8 1.8h4m-2-2v4m-.6-6.7h4m-2-2v4m2.9-4h4m-2-2v4m-1.1 3.5h4m-2-2v4m-5.4-6.4h4m-2-2v4m-2.5-3.6h4m-2-2v4m3.3 2.1h4m-2-2v4m-8-4.1h4m-2-2v4m1.7 3.3h4m-2-2v4m-7.3-6.6h4m-2-2v4m-3.3 .8h4m-2-2v4m3.4 1.4h4m-2-2v4m-2.8-7.9h4m-2-2v4m-3.7 .8h4m-2-2v4m-4.6-2.2h4m-2-2v4m3.3-4.7h4m-2-2v4m-5.2 1.4h4m-2-2v4m5.8-5.3h4m-2-2v4m-5.8 2.8h4m-2-2v4m-5.2-6.4h4m-2-2v4m-3.7-1.7h4m-2-2v4m1.2-2.6h4m-2-2v4m-3.9-4.6h4m-2-2v4m-3.7-.6h4m-2-2v4m3.7-1h4m-2-2v4m-6.3 .5h4m-2-2v4m2-5.1h4m-2-2v4m-5.3 1.1h4m-2-2v4m.8-5.2h4m-2-2v4m-2.4-.3h4m-2-2v4m.5-3.8h4m-2-2v4m-2.6 .8h4m-2-2v4m-7.4-.6h4m-2-2v4m3.4-7.2h4m-2-2v4m1.1-1.6h4m-2-2v4m-10.3-.2h4m-2-2v4m2.8 0h4m-2-2v4m-4.4-.3h4m-2-2v4m-.6-1.9h4m-2-2v4m4.9-4.7h4m-2-2v4m-17.4-3.4h4m-2-2v4m2.3-.8h4m-2-2v4m1.3-4.9h4m-2-2v4m-5.6 .1h4m-2-2v4m.8-7.2h4m-2-2v4m1.3 3.9h4m-2-2v4m-4.8-1.5h4m-2-2v4m-4.9-2.7h4m-2-2v4m3.9 .5h4m-2-2v4m-3.6-5h4m-2-2v4m-5.7 1.5h4m-2-2v4m1.9-5.9h4m-2-2v4m-9.9-3h4m-2-2v4m-1.3 2.8h4m-2-2v4m4.2-6.5h4m-2-2v4m-3.4 5.5h4m-2-2v4m2.4-10.8h4m-2-2v4m-5.9-1.8h4m-2-2v4m-6.7 1.2h4m-2-2v4m10.1 1.1h4m-2-2v4m-8.9-6.4h4m-2-2v4m-1.6 1.2h4m-2-2v4m-6.9-8.5h4m-2-2v4m7.9 2.8h4m-2-2v4m-2.8-2.1h4m-2-2v4m-2.4-3.9h4m-2-2v4m-4.9 2.9h4m-2-2v4m-.4-6.6h4m-2-2v4m-2.4-2.4h4m-2-2v4m-8.9 .7h4m-2-2v4m6.4-1.3h4m-2-2v4m-9.9-1.9h4m-2-2v4m3.8-5.1h4m-2-2v4m-11.4 1.4h4m-2-2v4m8-3.2h4m-2-2v4m-9.8-6.5h4m-2-2v4m6.1 3.2h4m-2-2v4m-3.5-4.4h4m-2-2v4m-2.3-2.6h4m-2-2v4m-4.1-2.8h4m-2-2v4m-.3-1h4m-2-2v4m.1 .6h4m-2-2v4m-7.3 .6h4m-2-2v4m-2.9-5.2h4m-2-2v4m4.6-.1h4m-2-2v4m-11.8-2.6h4m-2-2v4m8.2-1h4m-2-2v4m-12.3-6.9h4m-2-2v4m4.3-1.4h4m-2-2v4m2.4-2.6h4m-2-2v4m-2.4 .9h4m-2-2v4m-10-5.6h4m-2-2v4m.9 .5h4m-2-2v4m2.4-2.6h4m-2-2v4" stroke="#2ca02c" stroke-opacity="0.62" stroke-width="1.0" fill="none"/>
<path d="M540.7 141.9h4m-2-2v4m-10.7 .6h4m-2-2v4m5.7-2.1h4m-2-2v4m-5.2-.3h4m-2-2v4m4.5-3.1h4m-2-2v4m-7.9-3.6h4m-2-2v4m4-.3h4m-2-2v4m-5 .6h4m-2-2v4m-1-6.5h4m-2-2v4m-2.3 1.8h4m-2-2v4m-3-1.7h4m-2-2v4m-4.3-4.3h4m-2-2v4m-1.9-.2h4m-2-2v4m-2.3-2.8h4m-2-2v4m-3-3.1h4m-2-2v4m-.4-2h4m-2-2v4m-.9-2.1h4m-2-2v4m-2.7-6h4m-2-2v4m.9 1.1h4m-2-2v4m-5-2.5h4m-2-2v4m.7-2.1h4m-2-2v4m-3.1 2.4h4m-2-2v4m.6-2h4m-2-2v4m-4.3-7h4m-2-2v4m-.5 3h4m-2-2v4m-3-2.8h4m-2-2v4m-3.7-4.8h4m-2-2v4m.2 1.8h4m-2-2v4m-6.6-2.8h4m-2-2v4m.8-2h4m-2-2v4m-1.9-1.6h4m-2-2v4m-.4-2.4h4m-2-2v4m-7.3-2.2h4m-2-2v4m1.2-6h4m-2-2v4m-.6-2.6h4m-2-2v4m-1.6 4.5h4m-2-2v4m-5-3.7h4m-2-2v4m.1-2.5h4m-2-2v4m-6-2.1h4m-2-2v4m1.3-1.7h4m-2-2v4m-2.3-1.3h4m-2-2v4m-1.4-2.9h4m-2-2v4m.4-3h4m-2-2v4m-2.8-1.9h4m-2-2v4m-3.1-3.6h4m-2-2v4m-1.4 1.7h4m-2-2v4m-3.9-2.9h4m-2-2v4m-.9-6h4m-2-2v4m-2.1 3.1h4m-2-2v4m-3.9-8.4h4m-2-2v4m-.5 .3h4m-2-2v4m1.7-.7h4m-2-2v4m-6.1-3.3h4m-2-2v4m-1.5-1.8h4m-2-2v4m-4.4-1h4m-2-2v4m-1.8 .9h4m-2-2v4m-2.8-4.9h4m-2-2v4m-1-4.7h4m-2-2v4m3.1-3.5h4m-2-2v4m-2.4-.6h4m-2-2v4m-5 5.6h4m-2-2v4m-6.8-9.5h4m-2-2v4m5.4 1.2h4m-2-2v4m-6-2.4h4m-2-2v4m-2.9-1.7h4m-2-2v4m3.3-3h4m-2-2v4m-4.9 1.2h4m-2-2v4m2-5.7h4m-2-2v4m-5.6-1.9h4m-2-2v4m-4.1-1.7h4m-2-2v4m-2-4.7h4m-2-2v4m-4.9 .1h4m-2-2v4m2.6 2h4m-2-2v4m-3.4-4.9h4m-2-2v4m.5-.1h4m-2-2v4m-3.6-3.7h4m-2-2v4m2.2-2.5h4m-2-2v4m-7-4.7h4m-2-2v4m-.1 .8h4m-2-2v4m1.2-2.1h4m-2-2v4m-4.3 .6h4m-2-2v4m-.2-6.6h4m-2-2v4m-2.2 .7h4m-2-2v4m-5.6-2.7h4m-2-2v4m-2.6-2.1h4m-2-2v4m-6.2-.2h4m-2-2v4m3.1-5h4m-2-2v4m-2.2 4.7h4m-2-2v4m-1.1-7.5h4m-2-2v4m.9-2.9h4m-2-2v4m-6-1.5h4m-2-2v4m-2.2 .7h4m-2-2v4m-.2-5h4m-2-2v4m-3.6-.4h4m-2-2v4m-2.6-2.2h4m-2-2v4m-2.6-3.5h4m-2-2v4m-.4-2.6h4m-2-2v4m-1.2-.2h4m-2-2v4m-4.9-2.9h4m-2-2v4m-1-1.1h4m-2-2v4m-.8-2.1h4m-2-2v4m-4.1 1.4h4m-2-2v4m1.8-4.7h4m-2-2v4m-1.9-1.6h4m-2-2v4m-4.6-2.5h4m-2-2v4m4.3-.1h4m-2-2v4m-5.5-4.9h4m-2-2v4m-2.9 3.5h4m-2-2v4m-2.4-4.5h4m-2-2v4m-.2-2.8h4m-2-2v4m-1.3-2.9h4m-2-2v4m-4.3-3.7h4m-2-2v4m2.5-.1h4m-2-2v4m-7.4 .2h4m-2-2v4m-3.2-4.9h4m-2-2v4m-2.7-1.9h4m-2-2v4m-1.1-1h4m-2-2v4m-1.5-4.3h4m-2-2v4m-2.3-1h4m-2-2v4m-2.5 .1h4m-2-2v4m.5-3.6h4m-2-2v4m-5.9-1.2h4m-2-2v4m-2.2-2.7h4m-2-2v4m.8-3.6h4m-2-2v4m-3.9-2.2h4m-2-2v4" stroke="#d62728" stroke-opacity="0.62" stroke-width="1.0" fill="none"/>
<path d="M565.3 133.1h4m-2-2v4m-5.9 .5h4m-2-2v4m-1-1.8h4m-2-2v4m-4.8-6.4h4m-2-2v4m5.9 .1h4m-2-2v4m-8.3-1.5h4m-2-2v4m.2-4.8h4m-2-2v4m-3.2 .4h4m-2-2v4m-1.3-1.6h4m-2-2v4m-4.1-4.1h4m-2-2v4m-5.3 1.7h4m-2-2v4m-.3-4.8h4m-2-2v4m3.4-2h4m-2-2v4m-3.8-1.6h4m-2-2v4m-1.9-1.5h4m-2-2v4m-4.1 .7h4m-2-2v4m-1.5-7.5h4m-2-2v4m-2.2 1.8h4m-2-2v4m-3.3-1.5h4m-2-2v4m1.2 .7h4m-2-2v4m-4.4-4.9h4m-2-2v4m-3.8-4.2h4m-2-2v4m1.1-.4h4m-2-2v4m-2.3-3h4m-2-2v4m-2.9-2.7h4m-2-2v4m-.5 .1h4m-2-2v4m-1.4-1.2h4m-2-2v4m-1-7.6h4m-2-2v4m-5 1.3h4m-2-2v4m-2.2 .4h4m-2-2v4m.4-4.3h4m-2-2v4m-3.1 .8h4m-2-2v4m-2.8-5.2h4m-2-2v4m.2-.4h4m-2-2v4m-1.1-2.2h4m-2-2v4m-3.2-3.9h4m-2-2v4m-4.9-.9h4m-2-2v4m-5-1.2h4m-2-2v4m4.3-2.6h4m-2-2v4m-4.1 0h4m-2-2v4m-1.7-2.2h4m-2-2v4m1.9-2.5h4m-2-2v4m-4.2-2.5h4m-2-2v4m-3.2-2.4h4m-2-2v4m-2.3-.4h4m-2-2v4m-4.9-4.7h4m-2-2v4m1.9-3.2h4m-2-2v4m-3.3-1.7h4m-2-2v4m-1 1.2h4m-2-2v4m-.3-2.8h4m-2-2v4m-5.7-2.5h4m-2-2v4m.2 .4h4m-2-2v4m-6.7-4.1h4m-2-2v4m-1.4-1.3h4m-2-2v4m1.9-2.5h4m-2-2v4m-1.3-2.2h4m-2-2v4m-4.6-2.1h4m-2-2v4m1.2-2.9h4m-2-2v4m-4-4.2h4m-2-2v4m-.1-.6h4m-2-2v4m-5.3-1.9h4m-2-2v4m-2.2-1.6h4m-2-2v4m1.7 .1h4m-2-2v4m-1.7-.6h4m-2-2v4m-6-4h4m-2-2v4m2.1 1.6h4m-2-2v4m-7-9.4h4m-2-2v4m1.2 .2h4m-2-2v4m-4.5-.6h4m-2-2v4m-1.6-7.3h4m-2-2v4m-.7 2.8h4m-2-2v4m-.9-.4h4m-2-2v4m-2.8-4.4h4m-2-2v4m-3.4-4.8h4m-2-2v4m-1.6 3.3h4m-2-2v4m-.2 .1h4m-2-2v4m-3.4-9.7h4m-2-2v4m-.3 3.7h4m-2-2v4m-5.4-7.3h4m-2-2v4m.3 2.6h4m-2-2v4m-4.2-4.1h4m-2-2v4m-1.4-3.7h4m-2-2v4m-3 .7h4m-2-2v4m-.3-3.6h4m-2-2v4m-5.9 2.8h4m-2-2v4m.9-5.8h4m-2-2v4m-2.4-.9h4m-2-2v4m-2.6-2.6h4m-2-2v4m.3-.4h4m-2-2v4m-3.6-5.1h4m-2-2v4m-.5 3.5h4m-2-2v4m-4.1-5.6h4m-2-2v4m-.6-2h4m-2-2v4m.2-2.3h4m-2-2v4m-2.7-1.7h4m-2-2v4m-3.4-3h4m-2-2v4m-3.9-2.3h4m-2-2v4m-.4-1.8h4m-2-2v4m.6-.7h4m-2-2v4m-2.5-.6h4m-2-2v4m-6.9-3.3h4m-2-2v4m2-3.1h4m-2-2v4m-4.2-.7h4m-2-2v4m2.3-1.1h4m-2-2v4m-4.2-2.7h4m-2-2v4m-.2 .3h4m-2-2v4m-1.5-5.3h4m-2-2v4m-4-2h4m-2-2v4m-1.7-3.3h4m-2-2v4m-1.1-2.4h4m-2-2v4m-4.7 .1h4m-2-2v4m-1.6-3.2h4m-2-2v4m-4.6 .1h4m-2-2v4m1.6-3.9h4m-2-2v4m-1.2-1.3h4m-2-2v4m-4 1.6h4m-2-2v4m-1.6-4.1h4m-2-2v4m1.9-5.2h4m-2-2v4m-5-2.4h4m-2-2v4m-.3-1h4m-2-2v4m-5.7 1.3h4m-2-2v4m1.4-6.4h4m-2-2v4m-1.5 .2h4m-2-2v4m.6 1h4m-2-2v4m-7.6-6h4m-2-2v4" stroke="#9467bd" stroke-opacity="0.62" stroke-width="1.0" fill="none"/>
<path d="M576.9 124.2h3.8m-1.9-1.9v3.8m-1-.4h3.8m-1.9-1.9v3.8m-.8-7.2h3.8m-1.9-1.9v3.8m-4.4 5h3.8m-1.9-1.9v3.8m1.4-5.7h3.8m-1.9-1.9v3.8m-3.6-1.9h3.8m-1.9-1.9v3.8m-1-5.5h3.8m-1.9-1.9v3.8m-1.2 .6h3.8m-1.9-1.9v3.8m-2-6.4h3.8m-1.9-1.9v3.8m-3.6 7.3h3.8m-1.9-1.9v3.8m-5.2-1.5h3.8m-1.9-1.9v3.8m2.7-7.2h3.8m-1.9-1.9v3.8m-5.5 2.6h3.8m-1.9-1.9v3.8m.8-3.3h3.8m-1.9-1.9v3.8m-2-5.2h3.8m-1.9-1.9v3.8m-.3-2.3h3.8m-1.9-1.9v3.8m-1.5-3.6h3.8m-1.9-1.9v3.8m-4.4-1.3h3.8m-1.9-1.9v3.8m1.1-2.7h3.8m-1.9-1.9v3.8m-6.2 3.9h3.8m-1.9-1.9v3.8m-.8 1.8h3.8m-1.9-1.9v3.8m.9-5.7h3.8m-1.9-1.9v3.8m-2.2-7.7h3.8m-1.9-1.9v3.8m-4.7 1.6h3.8m-1.9-1.9v3.8m-.5-4.4h3.8m-1.9-1.9v3.8m-3.1-.6h3.8m-1.9-1.9v3.8m.1 1.1h3.8m-1.9-1.9v3.8m-3.4-3.5h3.8m-1.9-1.9v3.8m-.9-2.9h3.8m-1.9-1.9v3.8m-2.1-4.4h3.8m-1.9-1.9v3.8m-2 4.5h3.8m-1.9-1.9v3.8m-2-3h3.8m-1.9-1.9v3.8m-2.7 1.8h3.8m-1.9-1.9v3.8m-.5-9.9h3.8m-1.9-1.9v3.8m-4.5 2.9h3.8m-1.9-1.9v3.8m.8-1.7h3.8m-1.9-1.9v3.8m-1.9-3.3h3.8m-1.9-1.9v3.8m-4.5-4.1h3.8m-1.9-1.9v3.8m-2.4-1.1h3.8m-1.9-1.9v3.8m-1.6-.8h3.8m-1.9-1.9v3.8m.6-6.8h3.8m-1.9-1.9v3.8m-2 4.6h3.8m-1.9-1.9v3.8m-4.4-3.3h3.8m-1.9-1.9v3.8m1.1-3h3.8m-1.9-1.9v3.8m-2-.7h3.8m-1.9-1.9v3.8m-1.6-1.9h3.8m-1.9-1.9v3.8m-3.7-1.2h3.8m-1.9-1.9v3.8m-.5-2.5h3.8m-1.9-1.9v3.8m-3-4.4h3.8m-1.9-1.9v3.8m-1.9-1.4h3.8m-1.9-1.9v3.8m-1.5-.1h3.8m-1.9-1.9v3.8m-2.2-2.3h3.8m-1.9-1.9v3.8m-2.3 1.9h3.8m-1.9-1.9v3.8m.4-7.1h3.8m-1.9-1.9v3.8m-3-1.3h3.8m-1.9-1.9v3.8m-2.6-1.7h3.8m-1.9-1.9v3.8m-2.1-4.6h3.8m-1.9-1.9v3.8m-5 1.9h3.8m-1.9-1.9v3.8m3.4-4.6h3.8m-1.9-1.9v3.8m-3.1-.6h3.8m-1.9-1.9v3.8m-2-3h3.8m-1.9-1.9v3.8m-2.9-.2h3.8m-1.9-1.9v3.8m-4.8-1.1h3.8m-1.9-1.9v3.8m2.3-8.4h3.8m-1.9-1.9v3.8m-2 4h3.8m-1.9-1.9v3.8m-2.7-1h3.8m-1.9-1.9v3.8m-2-5.3h3.8m-1.9-1.9v3.8m-2.3-.4h3.8m-1.9-1.9v3.8m.5 3.6h3.8m-1.9-1.9v3.8m-4.3-7.3h3.8m-1.9-1.9v3.8m-1.4 .4h3.8m-1.9-1.9v3.8m-2.4-5.7h3.8m-1.9-1.9v3.8m.5 3.1h3.8m-1.9-1.9v3.8m-5.1-8.7h3.8m-1.9-1.9v3.8m-1.9 2.9h3.8m-1.9-1.9v3.8m.2-3.3h3.8m-1.9-1.9v3.8m-5-.5h3.8m-1.9-1.9v3.8m1.1-2.5h3.8m-1.9-1.9v3.8m-3.6-.5h3.8m-1.9-1.9v3.8m-.5-6h3.8m-1.9-1.9v3.8m-1.7-2.3h3.8m-1.9-1.9v3.8m-1.6 2.4h3.8m-1.9-1.9v3.8m-4.3-2.5h3.8m-1.9-1.9v3.8m2.2-7.7h3.8m-1.9-1.9v3.8m-5.6 7.3h3.8m-1.9-1.9v3.8m-2.9-6.3h3.8m-1.9-1.9v3.8m-1.8-1.6h3.8m-1.9-1.9v3.8m-2.4-5.7h3.8m-1.9-1.9v3.8m-.3 2.4h3.8m-1.9-1.9v3.8m-.8-1.2h3.8m-1.9-1.9v3.8m-1-1.3h3.8m-1.9-1.9v3.8m-1.7-5.9h3.8m-1.9-1.9v3.8m-5.1 8.2h3.8m-1.9-1.9v3.8m2.5-7.6h3.8m-1.9-1.9v3.8m-4-1.5h3.8m-1.9-1.9v3.8m-3.9 .4h3.8m-1.9-1.9v3.8m-.9-6.9h3.8m-1.9-1.9v3.8m2.5-6.8h3.8m-1.9-1.9v3.8m-4.5-1h3.8m-1.9-1.9v3.8m-4 2.1h3.8m-1.9-1.9v3.8m-1.7-1.2h3.8m-1.9-1.9v3.8m-2.3-2.6h3.8m-1.9-1.9v3.8m-2.3-2.6h3.8m-1.9-1.9v3.8m-2.7 .7h3.8m-1.9-1.9v3.8m-1.8-1.8h3.8m-1.9-1.9v3.8m-.2-4.4h3.8m-1.9-1.9v3.8m0-.9h3.8m-1.9-1.9v3.8m-6.2-.9h3.8m-1.9-1.9v3.8m-3.1-2.5h3.8m-1.9-1.9v3.8m2.2-6h3.8m-1.9-1.9v3.8m-1.8 .8h3.8m-1.9-1.9v3.8m.8-2.2h3.8m-1.9-1.9v3.8m-2.9 2.6h3.8m-1.9-1.9v3.8m-4.2-7.4h3.8m-1.9-1.9v3.8m.3-.2h3.8m-1.9-1.9v3.8m-3.4-2.2h3.8m-1.9-1.9v3.8m-3.6-2.2h3.8m-1.9-1.9v3.8m-1-4.7h3.8m-1.9-1.9v3.8m-2.7 6.3h3.8m-1.9-1.9v3.8m1.6-6.5h3.8m-1.9-1.9v3.8m-4.2-.5h3.8m-1.9-1.9v3.8m-.2-2.4h3.8m-1.9-1.9v3.8m-4-3.6h3.8m-1.9-1.9v3.8m-1.2 5.5h3.8m-1.9-1.9v3.8m-1.9-13.4h3.8m-1.9-1.9v3.8" stroke="#8c564b" stroke-opacity="0.62" stroke-width="1.0" fill="none"/>
<path d="M590.5 113h3.6m-1.8-1.8v3.6m-3.1 1.1h3.6m-1.8-1.8v3.6m-.7-7.4h3.6m-1.8-1.8v3.6m-4.5 1h3.6m-1.8-1.8v3.6m-1.1-1.1h3.6m-1.8-1.8v3.6m-1.7-3.2h3.6m-1.8-1.8v3.6m-2-1.8h3.6m-1.8-1.8v3.6m-1.1 .3h3.6m-1.8-1.8v3.6m.4-3.5h3.6m-1.8-1.8v3.6m-5 2.9h3.6m-1.8-1.8v3.6m0-4.7h3.6m-1.8-1.8v3.6m-1.9 0h3.6m-1.8-1.8v3.6m-1-3.5h3.6m-1.8-1.8v3.6m-1.4-5.2h3.6m-1.8-1.8v3.6m-3.6-.1h3.6m-1.8-1.8v3.6m-1.1-1.5h3.6m-1.8-1.8v3.6m-1.6-1.8h3.6m-1.8-1.8v3.6m-1.8-5.4h3.6m-1.8-1.8v3.6m-1.5 3h3.6m-1.8-1.8v3.6m-3.5-2h3.6m-1.8-1.8v3.6m-.3-2.7h3.6m-1.8-1.8v3.6m-3.6-4.6h3.6m-1.8-1.8v3.6m-1.7 4.4h3.6m-1.8-1.8v3.6m-1.2-6.1h3.6m-1.8-1.8v3.6m-2-2.2h3.6m-1.8-1.8v3.6m.4-5.2h3.6m-1.8-1.8v3.6m-6.3 4.2h3.6m-1.8-1.8v3.6m1.7-4.6h3.6m-1.8-1.8v3.6m-1.5 1.6h3.6m-1.8-1.8v3.6m-4.5-4.3h3.6m-1.8-1.8v3.6m1.8-2.9h3.6m-1.8-1.8v3.6m-4 1.8h3.6m-1.8-1.8v3.6m-.8-6.5h3.6m-1.8-1.8v3.6m-2.2-2.1h3.6m-1.8-1.8v3.6m-.3-2.7h3.6m-1.8-1.8v3.6m-1.4-1.6h3.6m-1.8-1.8v3.6m-2.9-1.4h3.6m-1.8-1.8v3.6m-3.3 3.7h3.6m-1.8-1.8v3.6m-.4-1.2h3.6m-1.8-1.8v3.6m-2.5-4.4h3.6m-1.8-1.8v3.6m-1.7-.7h3.6m-1.8-1.8v3.6m-2.7-.8h3.6m-1.8-1.8v3.6m-1-1.7h3.6m-1.8-1.8v3.6m-1.5-2.8h3.6m-1.8-1.8v3.6m-2.6-4.2h3.6m-1.8-1.8v3.6m-2.4-1.5h3.6m-1.8-1.8v3.6m-1.1 .7h3.6m-1.8-1.8v3.6m-4 3.4h3.6m-1.8-1.8v3.6m.2-6.1h3.6m-1.8-1.8v3.6m1.1-10.1h3.6m-1.8-1.8v3.6m-4.9 7h3.6m-1.8-1.8v3.6m-3.8-3.4h3.6m-1.8-1.8v3.6m.4-4.5h3.6m-1.8-1.8v3.6m0-4.9h3.6m-1.8-1.8v3.6m-2.4 .9h3.6m-1.8-1.8v3.6m-3.4 1.2h3.6m-1.8-1.8v3.6m2.8-2.6h3.6m-1.8-1.8v3.6m-4.7-2.7h3.6m-1.8-1.8v3.6m-3.3-1.1h3.6m-1.8-1.8v3.6m.6-2h3.6m-1.8-1.8v3.6m-2.3-2.7h3.6m-1.8-1.8v3.6m.6-4.9h3.6m-1.8-1.8v3.6m-4.8 3h3.6m-1.8-1.8v3.6m-1.4-5.4h3.6m-1.8-1.8v3.6m-3.7 .1h3.6m-1.8-1.8v3.6m-.1-4h3.6m-1.8-1.8v3.6m-3.8 2.1h3.6m-1.8-1.8v3.6m.9-4.2h3.6m-1.8-1.8v3.6m-3.5-2.2h3.6m-1.8-1.8v3.6m1 .9h3.6m-1.8-1.8v3.6m-4.7-.7h3.6m-1.8-1.8v3.6m.6-1.4h3.6m-1.8-1.8v3.6m-5.2-4.6h3.6m-1.8-1.8v3.6m-.6-2.4h3.6m-1.8-1.8v3.6m-2.6-1.9h3.6m-1.8-1.8v3.6m-2-.2h3.6m-1.8-1.8v3.6m.2-5.6h3.6m-1.8-1.8v3.6m-4.1 .2h3.6m-1.8-1.8v3.6m.3 .4h3.6m-1.8-1.8v3.6m-.9-10.2h3.6m-1.8-1.8v3.6m-3.4 3.9h3.6m-1.8-1.8v3.6m-1.4-2.9h3.6m-1.8-1.8v3.6m-2.2-.6h3.6m-1.8-1.8v3.6m1 1.2h3.6m-1.8-1.8v3.6m-4.6-3.4h3.6m-1.8-1.8v3.6m-1.8-1.3h3.6m-1.8-1.8v3.6m-2-2.3h3.6m-1.8-1.8v3.6m-.7 .1h3.6m-1.8-1.8v3.6m-2.8-.7h3.6m-1.8-1.8v3.6m-.8-6.9h3.6m-1.8-1.8v3.6m-4-1.1h3.6m-1.8-1.8v3.6m-.5 .6h3.6m-1.8-1.8v3.6m-.2-4h3.6m-1.8-1.8v3.6m-4.4 1.2h3.6m-1.8-1.8v3.6m.9-4.6h3.6m-1.8-1.8v3.6m-3.5 2.3h3.6m-1.8-1.8v3.6m-1.2-4.9h3.6m-1.8-1.8v3.6m-5 1.2h3.6m-1.8-1.8v3.6m1.6-4.4h3.6m-1.8-1.8v3.6m-2.3-4.9h3.6m-1.8-1.8v3.6m-2 .7h3.6m-1.8-1.8v3.6m0-4.2h3.6m-1.8-1.8v3.6m-2 1h3.6m-1.8-1.8v3.6m-1.6-4.1h3.6m-1.8-1.8v3.6m-3.7 3.1h3.6m-1.8-1.8v3.6m-.8-7.8h3.6m-1.8-1.8v3.6m-3.2 2.7h3.6m-1.8-1.8v3.6m-2-6.2h3.6m-1.8-1.8v3.6m-.3-.7h3.6m-1.8-1.8v3.6m-1.3-2.3h3.6m-1.8-1.8v3.6m-4.6-.9h3.6m-1.8-1.8v3.6m1.8-2h3.6m-1.8-1.8v3.6m-3.9 .6h3.6m-1.8-1.8v3.6m-3.2 .1h3.6m-1.8-1.8v3.6m-.3-3.2h3.6m-1.8-1.8v3.6m-2.8-6.7h3.6m-1.8-1.8v3.6m-3.6 1.7h3.6m-1.8-1.8v3.6m.4 .2h3.6m-1.8-1.8v3.6m.5-4h3.6m-1.8-1.8v3.6m-4-.2h3.6m-1.8-1.8v3.6m.7-4.6h3.6m-1.8-1.8v3.6m-3-.6h3.6m-1.8-1.8v3.6m-3.3 .6h3.6m-1.8-1.8v3.6m-1.5-6h3.6m-1.8-1.8v3.6m-.7 .5h3.6m-1.8-1.8v3.6" stroke="#e377c2" stroke-opacity="0.62" stroke-width="1.0" fill="none"/>
<path d="M597.4 102.5h3.6m-1.8-1.8v3.6m-1-2.3h3.6m-1.8-1.8v3.6m-1.9-.2h3.6m-1.8-1.8v3.6m-1.4-.1h3.6m-1.8-1.8v3.6m-1.8-4.8h3.6m-1.8-1.8v3.6m-2.4-2.5h3.6m-1.8-1.8v3.6m.7-1.1h3.6m-1.8-1.8v3.6m-4.6 1.4h3.6m-1.8-1.8v3.6m-2.8-6.2h3.6m-1.8-1.8v3.6m-.8-2.1h3.6m-1.8-1.8v3.6m-2.8-.9h3.6m-1.8-1.8v3.6m.1 .7h3.6m-1.8-1.8v3.6m-2.7-3.2h3.6m-1.8-1.8v3.6m-3.7-.5h3.6m-1.8-1.8v3.6m.9-5.3h3.6m-1.8-1.8v3.6m-2.3 0h3.6m-1.8-1.8v3.6m-2.2-3.4h3.6m-1.8-1.8v3.6m-2-1.7h3.6m-1.8-1.8v3.6m-1.2 .8h3.6m-1.8-1.8v3.6m-1.7-2.9h3.6m-1.8-1.8v3.6m-3.4 2.6h3.6m-1.8-1.8v3.6m-2.9-3.5h3.6m-1.8-1.8v3.6m.8-4h3.6m-1.8-1.8v3.6m-2.5-2.4h3.6m-1.8-1.8v3.6m-2-4.1h3.6m-1.8-1.8v3.6m-.7-2.4h3.6m-1.8-1.8v3.6m-2 3.8h3.6m-1.8-1.8v3.6m-4.8-7.1h3.6m-1.8-1.8v3.6m1.1 1.7h3.6m-1.8-1.8v3.6m-2.1-1.4h3.6m-1.8-1.8v3.6m-1.4-.9h3.6m-1.8-1.8v3.6m-.4-3.5h3.6m-1.8-1.8v3.6m-2-5.1h3.6m-1.8-1.8v3.6m-3-1h3.6m-1.8-1.8v3.6m-1.7 5.3h3.6m-1.8-1.8v3.6m-1.2-9h3.6m-1.8-1.8v3.6m-2.9 .8h3.6m-1.8-1.8v3.6m-2 .3h3.6m-1.8-1.8v3.6m.4-9.2h3.6m-1.8-1.8v3.6m-2.2 2.5h3.6m-1.8-1.8v3.6m-4.4 2h3.6m-1.8-1.8v3.6m-.4-7.4h3.6m-1.8-1.8v3.6m-3.4 1.1h3.6m-1.8-1.8v3.6m-.3 1.1h3.6m-1.8-1.8v3.6m-2-5.8h3.6m-1.8-1.8v3.6m-.1-1.7h3.6m-1.8-1.8v3.6m-2.2-.5h3.6m-1.8-1.8v3.6m-2.8-2.7h3.6m-1.8-1.8v3.6m-1.6-2.3h3.6m-1.8-1.8v3.6m-2.9-1.1h3.6m-1.8-1.8v3.6m-2-.9h3.6m-1.8-1.8v3.6m-.8-3h3.6m-1.8-1.8v3.6m-2.1-1.7h3.6m-1.8-1.8v3.6m-.1-1.3h3.6m-1.8-1.8v3.6m-3.9-2.4h3.6m-1.8-1.8v3.6m-.6-1.6h3.6m-1.8-1.8v3.6m-2.6-1.9h3.6m-1.8-1.8v3.6m-1.7-.5h3.6m-1.8-1.8v3.6m-.7-5.9h3.6m-1.8-1.8v3.6m-2.9-3.8h3.6m-1.8-1.8v3.6m-1.5 5.7h3.6m-1.8-1.8v3.6m-.9-3.7h3.6m-1.8-1.8v3.6m-1.9-2.2h3.6m-1.8-1.8v3.6m-2.4-4.8h3.6m-1.8-1.8v3.6m-2.8 .1h3.6m-1.8-1.8v3.6m-1.1 2.7h3.6m-1.8-1.8v3.6m-2.6-4.4h3.6m-1.8-1.8v3.6m-.6-4.1h3.6m-1.8-1.8v3.6m-3.7-1.7h3.6m-1.8-1.8v3.6m-1.8-1h3.6m-1.8-1.8v3.6m-.6-1.5h3.6m-1.8-1.8v3.6m-2.1-.5h3.6m-1.8-1.8v3.6m-2.7-1h3.6m-1.8-1.8v3.6m-2.1-3.4h3.6m-1.8-1.8v3.6m.5-3.5h3.6m-1.8-1.8v3.6m-4.3 1h3.6m-1.8-1.8v3.6m-1-1.5h3.6m-1.8-1.8v3.6m-.1-3.3h3.6m-1.8-1.8v3.6m-2.9 .1h3.6m-1.8-1.8v3.6m-.7-5.6h3.6m-1.8-1.8v3.6m-2.6 1.2h3.6m-1.8-1.8v3.6m-1.6-2.6h3.6m-1.8-1.8v3.6m-2-2.4h3.6m-1.8-1.8v3.6m-2-4.4h3.6m-1.8-1.8v3.6m-.2-.2h3.6m-1.8-1.8v3.6m-2.3-3.5h3.6m-1.8-1.8v3.6m-2.1-.5h3.6m-1.8-1.8v3.6m.9-2.2h3.6m-1.8-1.8v3.6m-6.3 2.1h3.6m-1.8-1.8v3.6m1.4-7.8h3.6m-1.8-1.8v3.6m-3.8 4.1h3.6m-1.8-1.8v3.6m-3.1-2.2h3.6m-1.8-1.8v3.6m-.5-5.1h3.6m-1.8-1.8v3.6m-1.9-.8h3.6m-1.8-1.8v3.6m-3.8 3.6h3.6m-1.8-1.8v3.6m.2-7.7h3.6m-1.8-1.8v3.6m-.8-.5h3.6m-1.8-1.8v3.6m-1.3-2.2h3.6m-1.8-1.8v3.6m-2.8-1.1h3.6m-1.8-1.8v3.6m-1.9-2.4h3.6m-1.8-1.8v3.6m-2.8 2h3.6m-1.8-1.8v3.6m-1.4-6.2h3.6m-1.8-1.8v3.6m-2 .4h3.6m-1.8-1.8v3.6m-1.2-1.1h3.6m-1.8-1.8v3.6m-3.2-3.1h3.6m-1.8-1.8v3.6m-.5-2.9h3.6m-1.8-1.8v3.6m-.8-5.1h3.6m-1.8-1.8v3.6m-2.5 2.3h3.6m-1.8-1.8v3.6m-3.3-2.2h3.6m-1.8-1.8v3.6m1.1-2.4h3.6m-1.8-1.8v3.6m-2.8-1.5h3.6m-1.8-1.8v3.6m-2.8-3.2h3.6m-1.8-1.8v3.6m-2.3 2.6h3.6m-1.8-1.8v3.6m.1-5.7h3.6m-1.8-1.8v3.6m-1.8-.7h3.6m-1.8-1.8v3.6m-3.6-.7h3.6m-1.8-1.8v3.6m-1.3-5.8h3.6m-1.8-1.8v3.6m.4-2.3h3.6m-1.8-1.8v3.6m-2.6-1.2h3.6m-1.8-1.8v3.6m-2.9 .9h3.6m-1.8-1.8v3.6m-1.4-5.8h3.6m-1.8-1.8v3.6m-2.3 2.5h3.6m-1.8-1.8v3.6m-2.5-1.9h3.6m-1.8-1.8v3.6m.2-3.1h3.6m-1.8-1.8v3.6m-2.3-2.6h3.6m-1.8-1.8v3.6" stroke="#7f7f7f" stroke-opacity="0.62" stroke-width="1.0" fill="none"/>
<path d="M604.1 93.8h3.4m-1.7-1.7v3.4m-.2-1.2h3.4m-1.7-1.7v3.4m-3.4-.9h3.4m-1.7-1.7v3.4m-2.6-2.3h3.4m-1.7-1.7v3.4m-.8-4.7h3.4m-1.7-1.7v3.4m-.8-.1h3.4m-1.7-1.7v3.4m-.9-4.7h3.4m-1.7-1.7v3.4m-2.8-.1h3.4m-1.7-1.7v3.4m-1.6-4.1h3.4m-1.7-1.7v3.4m-1.6 2h3.4m-1.7-1.7v3.4m-2.6-4.4h3.4m-1.7-1.7v3.4m-2.6 3.1h3.4m-1.7-1.7v3.4m-.5-4.7h3.4m-1.7-1.7v3.4m-1.4-1.1h3.4m-1.7-1.7v3.4m-2.1-.4h3.4m-1.7-1.7v3.4m-1.7-1.5h3.4m-1.7-1.7v3.4m-2.5-3.1h3.4m-1.7-1.7v3.4m-1.1-1.6h3.4m-1.7-1.7v3.4m-1.2-3.1h3.4m-1.7-1.7v3.4m-2.5 1.1h3.4m-1.7-1.7v3.4m-1.1-5.5h3.4m-1.7-1.7v3.4m-1.6 2.2h3.4m-1.7-1.7v3.4m-2.1-3.2h3.4m-1.7-1.7v3.4m-2-2.3h3.4m-1.7-1.7v3.4m-.6 .1h3.4m-1.7-1.7v3.4m-2-3.6h3.4m-1.7-1.7v3.4m-3.2-.7h3.4m-1.7-1.7v3.4m-.4-.4h3.4m-1.7-1.7v3.4m-.4-2.9h3.4m-1.7-1.7v3.4m-1.9-4.3h3.4m-1.7-1.7v3.4m-2.2 1.8h3.4m-1.7-1.7v3.4m-1.5-2h3.4m-1.7-1.7v3.4m-2.7-.3h3.4m-1.7-1.7v3.4m-2.2-3.2h3.4m-1.7-1.7v3.4m.1-4.2h3.4m-1.7-1.7v3.4m-3.8 .5h3.4m-1.7-1.7v3.4m-.8-1.4h3.4m-1.7-1.7v3.4m-.9-4.1h3.4m-1.7-1.7v3.4m-2.6 1.6h3.4m-1.7-1.7v3.4m-1.7-4.2h3.4m-1.7-1.7v3.4m-2.6 .2h3.4m-1.7-1.7v3.4m1.3-5.5h3.4m-1.7-1.7v3.4m-3.4 2.3h3.4m-1.7-1.7v3.4m-2.2-3.9h3.4m-1.7-1.7v3.4m-1.9-2.5h3.4m-1.7-1.7v3.4m-1.3 .9h3.4m-1.7-1.7v3.4m-1.8-1.4h3.4m-1.7-1.7v3.4m-.9-5.2h3.4m-1.7-1.7v3.4m-1.7 2.4h3.4m-1.7-1.7v3.4m-3.4-.7h3.4m-1.7-1.7v3.4m-.3-4.5h3.4m-1.7-1.7v3.4m.3-6.4h3.4m-1.7-1.7v3.4m-5.4 4h3.4m-1.7-1.7v3.4m-.1-4.6h3.4m-1.7-1.7v3.4m-1 .8h3.4m-1.7-1.7v3.4m-3.3-3.7h3.4m-1.7-1.7v3.4m-1 2.6h3.4m-1.7-1.7v3.4m-3.3-4.4h3.4m-1.7-1.7v3.4m.2-5.2h3.4m-1.7-1.7v3.4m-1.6-1.5h3.4m-1.7-1.7v3.4m-3.1 4h3.4m-1.7-1.7v3.4m-.6-3.2h3.4m-1.7-1.7v3.4m-1.5-2.4h3.4m-1.7-1.7v3.4m-.9-4.4h3.4m-1.7-1.7v3.4m-3.4 1.8h3.4m-1.7-1.7v3.4m-1.5-3.9h3.4m-1.7-1.7v3.4m-1 1.7h3.4m-1.7-1.7v3.4m-2.2-5.8h3.4m-1.7-1.7v3.4m-1.2 .2h3.4m-1.7-1.7v3.4m-2.7-1.1h3.4m-1.7-1.7v3.4m-.6-2.6h3.4m-1.7-1.7v3.4m-.4 .5h3.4m-1.7-1.7v3.4m-3.2-2.2h3.4m-1.7-1.7v3.4m-.1-1.6h3.4m-1.7-1.7v3.4m-4.1-3.1h3.4m-1.7-1.7v3.4m-.8-3.2h3.4m-1.7-1.7v3.4m-1.9-.3h3.4m-1.7-1.7v3.4m-1.7-3h3.4m-1.7-1.7v3.4m-.6-3.6h3.4m-1.7-1.7v3.4m-2.3 1.1h3.4m-1.7-1.7v3.4m-1.3-5.9h3.4m-1.7-1.7v3.4m-.9-.6h3.4m-1.7-1.7v3.4m-4.4 2.5h3.4m-1.7-1.7v3.4m-1.1-3.6h3.4m-1.7-1.7v3.4m-2.9-1.7h3.4m-1.7-1.7v3.4m-.3 .3h3.4m-1.7-1.7v3.4m-1.9-2.5h3.4m-1.7-1.7v3.4m-.8-3.3h3.4m-1.7-1.7v3.4m-3.5 2.9h3.4m-1.7-1.7v3.4m-1.6-3h3.4m-1.7-1.7v3.4m-1.1-1.2h3.4m-1.7-1.7v3.4m-1.8-3.4h3.4m-1.7-1.7v3.4m-.8-3h3.4m-1.7-1.7v3.4m-1.5-2.7h3.4m-1.7-1.7v3.4m-2.1-1h3.4m-1.7-1.7v3.4m-1.2-1.2h3.4m-1.7-1.7v3.4m-3.2-2.2h3.4m-1.7-1.7v3.4m-.5-2.6h3.4m-1.7-1.7v3.4m-1.2 .6h3.4m-1.7-1.7v3.4m-1.6-3.8h3.4m-1.7-1.7v3.4m-3.2 1.5h3.4m-1.7-1.7v3.4m-2.3-2.9h3.4m-1.7-1.7v3.4m-.2-3.2h3.4m-1.7-1.7v3.4m-1.5-2.7h3.4m-1.7-1.7v3.4m-1.6-2h3.4m-1.7-1.7v3.4m-3.7 2.9h3.4m-1.7-1.7v3.4m-.1-7.9h3.4m-1.7-1.7v3.4m-.9 .7h3.4m-1.7-1.7v3.4m-5.3-.4h3.4m-1.7-1.7v3.4m1.5-1h3.4m-1.7-1.7v3.4m-1-2.5h3.4m-1.7-1.7v3.4m-2.2-3.3h3.4m-1.7-1.7v3.4m-2.9 2.8h3.4m-1.7-1.7v3.4m-1-4.1h3.4m-1.7-1.7v3.4m-3.3-2.7h3.4m-1.7-1.7v3.4m-1.6 .3h3.4m-1.7-1.7v3.4m-1.2-2.4h3.4m-1.7-1.7v3.4m-2.4 1h3.4m-1.7-1.7v3.4m-1.2-4.8h3.4m-1.7-1.7v3.4m1.1-1.5h3.4m-1.7-1.7v3.4m-4.5-1h3.4m-1.7-1.7v3.4m-.4-1.3h3.4m-1.7-1.7v3.4m-3.6-2.8h3.4m-1.7-1.7v3.4m-2.4 1.2h3.4m-1.7-1.7v3.4m.7-5.8h3.4m-1.7-1.7v3.4" stroke="#bcbd22" stroke-opacity="0.62" stroke-width="1.0" fill="none"/>
<path d="M609 83.9h3.2m-1.6-1.6v3.2m-3.2 .5h3.2m-1.6-1.6v3.2m.3-7.9h3.2m-1.6-1.6v3.2m-1.9 4.5h3.2m-1.6-1.6v3.2m-1.3-3.4h3.2m-1.6-1.6v3.2m-3-.9h3.2m-1.6-1.6v3.2m.1-1.8h3.2m-1.6-1.6v3.2m-1.2-4.6h3.2m-1.6-1.6v3.2m-2.6 1.6h3.2m-1.6-1.6v3.2m-2.1-6.4h3.2m-1.6-1.6v3.2m-1.8 1.6h3.2m-1.6-1.6v3.2m-.8-2.2h3.2m-1.6-1.6v3.2m-1.9-1.4h3.2m-1.6-1.6v3.2m-1.8-.2h3.2m-1.6-1.6v3.2m-1.1-2.8h3.2m-1.6-1.6v3.2m-1.6-2.4h3.2m-1.6-1.6v3.2m-1.3-1.7h3.2m-1.6-1.6v3.2m-1.3-.7h3.2m-1.6-1.6v3.2m-2.1-3h3.2m-1.6-1.6v3.2m-2.3 .2h3.2m-1.6-1.6v3.2m-1.1-3.1h3.2m-1.6-1.6v3.2m-2.5-.4h3.2m-1.6-1.6v3.2m-1.1-.6h3.2m-1.6-1.6v3.2m-.6-3.2h3.2m-1.6-1.6v3.2m-3.6-1.3h3.2m-1.6-1.6v3.2m-1.1-3.8h3.2m-1.6-1.6v3.2m-.5 1.9h3.2m-1.6-1.6v3.2m-2.2-3.8h3.2m-1.6-1.6v3.2m-.8-3.8h3.2m-1.6-1.6v3.2m-1.8 1.1h3.2m-1.6-1.6v3.2m-.5-2.9h3.2m-1.6-1.6v3.2m-2.3-.9h3.2m-1.6-1.6v3.2m-1.5-2.2h3.2m-1.6-1.6v3.2m-1.9-.6h3.2m-1.6-1.6v3.2m-2.7-1h3.2m-1.6-1.6v3.2m-1-.6h3.2m-1.6-1.6v3.2m-1.1-.8h3.2m-1.6-1.6v3.2m-3.7-3.9h3.2m-1.6-1.6v3.2m-1.2-1.6h3.2m-1.6-1.6v3.2m.3-3.4h3.2m-1.6-1.6v3.2m-3.2 1.2h3.2m-1.6-1.6v3.2m-1.6 1.2h3.2m-1.6-1.6v3.2m-.9-3.6h3.2m-1.6-1.6v3.2m-.3-3.6h3.2m-1.6-1.6v3.2m-2.5-2.5h3.2m-1.6-1.6v3.2m-2.2 2.2h3.2m-1.6-1.6v3.2m-.5-3.6h3.2m-1.6-1.6v3.2m-2.6-3h3.2m-1.6-1.6v3.2m-2.3 .1h3.2m-1.6-1.6v3.2m1-6.3h3.2m-1.6-1.6v3.2m-5.2 5.5h3.2m-1.6-1.6v3.2m-.8-3.6h3.2m-1.6-1.6v3.2m-1.6-.7h3.2m-1.6-1.6v3.2m-.1-2.8h3.2m-1.6-1.6v3.2m-1.6-1.8h3.2m-1.6-1.6v3.2m-2.4 1.7h3.2m-1.6-1.6v3.2m-.3-6.3h3.2m-1.6-1.6v3.2m-2.9-.8h3.2m-1.6-1.6v3.2m-1.4-1h3.2m-1.6-1.6v3.2m-2-.5h3.2m-1.6-1.6v3.2m-1.2-2.1h3.2m-1.6-1.6v3.2m-1.7-1.1h3.2m-1.6-1.6v3.2m-2.7 .2h3.2m-1.6-1.6v3.2m-.2-3.8h3.2m-1.6-1.6v3.2m-1.7-.4h3.2m-1.6-1.6v3.2m-1.2-3.2h3.2m-1.6-1.6v3.2m-1.4-5.1h3.2m-1.6-1.6v3.2m-1.9 .9h3.2m-1.6-1.6v3.2m-2.9 3.6h3.2m-1.6-1.6v3.2m-1.7-6.1h3.2m-1.6-1.6v3.2m-.1 .1h3.2m-1.6-1.6v3.2m-.7-5.8h3.2m-1.6-1.6v3.2m-3.6 2h3.2m-1.6-1.6v3.2m-1.7 .5h3.2m-1.6-1.6v3.2m-.7-4.5h3.2m-1.6-1.6v3.2m-1.3-2.5h3.2m-1.6-1.6v3.2m-1.6-2.4h3.2m-1.6-1.6v3.2m-1.8-1.2h3.2m-1.6-1.6v3.2m-1-3.4h3.2m-1.6-1.6v3.2m-3.4 2h3.2m-1.6-1.6v3.2m0-4.3h3.2m-1.6-1.6v3.2m-1.9-1.8h3.2m-1.6-1.6v3.2m0-2.5h3.2m-1.6-1.6v3.2m-2.1-.2h3.2m-1.6-1.6v3.2m-2.6-.6h3.2m-1.6-1.6v3.2m-2.5 .7h3.2m-1.6-1.6v3.2m-.4-3.9h3.2m-1.6-1.6v3.2m-3.6 2.9h3.2m-1.6-1.6v3.2m.6-5.3h3.2m-1.6-1.6v3.2m-2.7-1.3h3.2m-1.6-1.6v3.2m-1.7 .1h3.2m-1.6-1.6v3.2m-1.8-3.8h3.2m-1.6-1.6v3.2m-2 .8h3.2m-1.6-1.6v3.2m.5-4.2h3.2m-1.6-1.6v3.2m-2.9 1.2h3.2m-1.6-1.6v3.2m-1.3-6h3.2m-1.6-1.6v3.2m-1.3 1.1h3.2m-1.6-1.6v3.2m-2.7 .2h3.2m-1.6-1.6v3.2m-.1-7.8h3.2m-1.6-1.6v3.2m-2.2 1.7h3.2m-1.6-1.6v3.2m-.7-1.5h3.2m-1.6-1.6v3.2m-3-.7h3.2m-1.6-1.6v3.2m-.7-5.1h3.2m-1.6-1.6v3.2m-2 .4h3.2m-1.6-1.6v3.2m-1.9 3.6h3.2m-1.6-1.6v3.2m-1.8-8h3.2m-1.6-1.6v3.2m-1.6-1h3.2m-1.6-1.6v3.2m-1.8-.3h3.2m-1.6-1.6v3.2m0-4.1h3.2m-1.6-1.6v3.2m-3-2.7h3.2m-1.6-1.6v3.2m-1.2 4.5h3.2m-1.6-1.6v3.2m-2-7.3h3.2m-1.6-1.6v3.2m-1.7 3.6h3.2m-1.6-1.6v3.2m-.7-3.3h3.2m-1.6-1.6v3.2m-1.8-1.3h3.2m-1.6-1.6v3.2m-3 1.4h3.2m-1.6-1.6v3.2m-.1-7.4h3.2m-1.6-1.6v3.2m-1.7-2.4h3.2m-1.6-1.6v3.2m-2.3 3.4h3.2m-1.6-1.6v3.2m-2.4-1.5h3.2m-1.6-1.6v3.2m.7-3h3.2m-1.6-1.6v3.2m-3.1-4h3.2m-1.6-1.6v3.2m-.9-2.4h3.2m-1.6-1.6v3.2m-2.6 .3h3.2m-1.6-1.6v3.2m-1.3 .1h3.2m-1.6-1.6v3.2" stroke="#17becf" stroke-opacity="0.62" stroke-width="1.0" fill="none"/>
<path d="M610.6 78.4h3m-1.5-1.5v3m.1-3.2h3m-1.5-1.5v3m-2.7 0h3m-1.5-1.5v3m-1.4-1.4h3m-1.5-1.5v3m.3-6.4h3m-1.5-1.5v3m-3.3 3.5h3m-1.5-1.5v3m0-5.1h3m-1.5-1.5v3m-2.1-.9h3m-1.5-1.5v3m-1.9-2.2h3m-1.5-1.5v3m-1.3-1.9h3m-1.5-1.5v3m-.7-2.5h3m-1.5-1.5v3m-1.8 .4h3m-1.5-1.5v3m-1.7 0h3m-1.5-1.5v3m-1.2-2h3m-1.5-1.5v3m-1.5-3h3m-1.5-1.5v3m-1.3-2.8h3m-1.5-1.5v3m-2.5 1.5h3m-1.5-1.5v3m-1.3-2h3m-1.5-1.5v3m-2.4 .1h3m-1.5-1.5v3m-.9-3.2h3m-1.5-1.5v3m-1.4-.6h3m-1.5-1.5v3m-1-5h3m-1.5-1.5v3m-2.6-.2h3m-1.5-1.5v3m-1.4 0h3m-1.5-1.5v3m1-6.5h3m-1.5-1.5v3m-3.9 3.1h3m-1.5-1.5v3m-.1-1.5h3m-1.5-1.5v3m-2.1-1.1h3m-1.5-1.5v3m-1.8 .5h3m-1.5-1.5v3m-.4-6.7h3m-1.5-1.5v3m-2.7 1.1h3m-1.5-1.5v3m-1.5-2.3h3m-1.5-1.5v3m-1.2-2.3h3m-1.5-1.5v3m-.9-1h3m-1.5-1.5v3m-2.4-2h3m-1.5-1.5v3m-1.9 3.6h3m-1.5-1.5v3m-1.1-2.7h3m-1.5-1.5v3m-.1-8h3m-1.5-1.5v3m-2 .8h3m-1.5-1.5v3m-2.4-1.9h3m-1.5-1.5v3m.4-2.4h3m-1.5-1.5v3m-3.8 3.4h3m-1.5-1.5v3m.3-6.6h3m-1.5-1.5v3m-2.4 .6h3m-1.5-1.5v3m-2 .8h3m-1.5-1.5v3m-1.3-3.4h3m-1.5-1.5v3m.2-4.3h3m-1.5-1.5v3m-3.4 2.7h3m-1.5-1.5v3m-1.6-3.5h3m-1.5-1.5v3m-1.8-.1h3m-1.5-1.5v3m-1.3-.3h3m-1.5-1.5v3m-.4-2.9h3m-1.5-1.5v3m-2.3-1.1h3m-1.5-1.5v3m-.7-4.2h3m-1.5-1.5v3m-1.5 1.2h3m-1.5-1.5v3m-1.1-4.4h3m-1.5-1.5v3m-2.7 4.8h3m-1.5-1.5v3m-.4-8h3m-1.5-1.5v3m-2.3 1h3m-1.5-1.5v3m-1.3-1.8h3m-1.5-1.5v3m-1.3-1.9h3m-1.5-1.5v3m-1.5-1.9h3m-1.5-1.5v3m-2.2 1.5h3m-1.5-1.5v3m-1.7-2.1h3m-1.5-1.5v3m-1.4-3.3h3m-1.5-1.5v3m-1.7 1.4h3m-1.5-1.5v3m-1.8-1.6h3m-1.5-1.5v3m-1.4-4h3m-1.5-1.5v3m-.5 .1h3m-1.5-1.5v3m-1.8-5h3m-1.5-1.5v3m-.5-1.6h3m-1.5-1.5v3m-1.9-.1h3m-1.5-1.5v3m-2.9 3.6h3m-1.5-1.5v3m-.1-4.1h3m-1.5-1.5v3m-2.9-2.5h3m-1.5-1.5v3m-.6-2.3h3m-1.5-1.5v3m-.2-4.4h3m-1.5-1.5v3m-2.7 1.9h3m-1.5-1.5v3m-2.7 1.4h3m-1.5-1.5v3m-1.1-4.6h3m-1.5-1.5v3m0-5.6h3m-1.5-1.5v3m-2.8 .8h3m-1.5-1.5v3m-.9 1.9h3m-1.5-1.5v3m-1.4-2.7h3m-1.5-1.5v3m-3-1.6h3m-1.5-1.5v3m-.9 .3h3m-1.5-1.5v3m-.9 .4h3m-1.5-1.5v3m-1.3-4.1h3m-1.5-1.5v3m-2.2-2.8h3m-1.5-1.5v3m-1.9 0h3m-1.5-1.5v3m-1.1-3.6h3m-1.5-1.5v3m-1.2-1.9h3m-1.5-1.5v3m-.8-1.7h3m-1.5-1.5v3m-1.4-2.3h3m-1.5-1.5v3m-1-.9h3m-1.5-1.5v3m-2.7 3.6h3m-1.5-1.5v3m-2.3-7.2h3m-1.5-1.5v3m-1.1 2.5h3m-1.5-1.5v3m-1.3-3h3m-1.5-1.5v3m-1.7-1.2h3m-1.5-1.5v3m-1.9-1h3m-1.5-1.5v3m-1.5-6.4h3m-1.5-1.5v3m.4 2.2h3m-1.5-1.5v3m-3.7 2.2h3m-1.5-1.5v3m0-3.4h3m-1.5-1.5v3m-2.2-2.5h3m-1.5-1.5v3m-.1-5.6h3m-1.5-1.5v3m-2 1.2h3m-1.5-1.5v3m-1.7 1.2h3m-1.5-1.5v3m-1.9-5h3m-1.5-1.5v3m-1.5 .8h3m-1.5-1.5v3m-1.5-2.9h3m-1.5-1.5v3m-1.1-.5h3m-1.5-1.5v3m-1.2-1.9h3m-1.5-1.5v3m-1.9-5.1h3m-1.5-1.5v3m-1 1.1h3m-1.5-1.5v3m-2.2-1.4h3m-1.5-1.5v3m-2.2-1.7h3m-1.5-1.5v3m-2-1.5h3m-1.5-1.5v3m-1.4 2.6h3m-1.5-1.5v3m0-5.3h3m-1.5-1.5v3m-2 .2h3m-1.5-1.5v3m-1.7-3.2h3m-1.5-1.5v3m-2.2 3.5h3m-1.5-1.5v3m.3-9.7h3m-1.5-1.5v3" stroke="#1f77b4" stroke-opacity="0.62" stroke-width="1.0" fill="none"/>
<path d="M614.3 71.3h2.8m-1.4-1.4v2.8m-2.6 .2h2.8m-1.4-1.4v2.8m-.2-5.7h2.8m-1.4-1.4v2.8m-1.3-3.6h2.8m-1.4-1.4v2.8m-1.5-2.8h2.8m-1.4-1.4v2.8m-2.5 2.4h2.8m-1.4-1.4v2.8m-.7-2.7h2.8m-1.4-1.4v2.8m-.3-3.2h2.8m-1.4-1.4v2.8m-1.7-.4h2.8m-1.4-1.4v2.8m-1.7-1.2h2.8m-1.4-1.4v2.8m-.8-3.3h2.8m-1.4-1.4v2.8m-2.2-1.1h2.8m-1.4-1.4v2.8m-1.3 2.5h2.8m-1.4-1.4v2.8m-.4-3.2h2.8m-1.4-1.4v2.8m-1.6-1.8h2.8m-1.4-1.4v2.8m-1.3-1.4h2.8m-1.4-1.4v2.8m-1.7-2.1h2.8m-1.4-1.4v2.8m-2.2 2.4h2.8m-1.4-1.4v2.8m-1.5-4.7h2.8m-1.4-1.4v2.8m-1.4 .3h2.8m-1.4-1.4v2.8m.3-3.6h2.8m-1.4-1.4v2.8m-4.1 .2h2.8m-1.4-1.4v2.8m1-5.4h2.8m-1.4-1.4v2.8m-2.3 1.4h2.8m-1.4-1.4v2.8m-2.7-.1h2.8m-1.4-1.4v2.8m.2-2.2h2.8m-1.4-1.4v2.8m-1.9-3h2.8m-1.4-1.4v2.8m-1.5 .7h2.8m-1.4-1.4v2.8m-1.9 .3h2.8m-1.4-1.4v2.8m.4-7.8h2.8m-1.4-1.4v2.8m-1.4 2.7h2.8m-1.4-1.4v2.8m-2.6-1.5h2.8m-1.4-1.4v2.8m-2.1-1.3h2.8m-1.4-1.4v2.8m-1.3-3.5h2.8m-1.4-1.4v2.8m-.1 2.6h2.8m-1.4-1.4v2.8m-1.7-5.3h2.8m-1.4-1.4v2.8m-1 .2h2.8m-1.4-1.4v2.8m-1.9-.2h2.8m-1.4-1.4v2.8m-2.2-1.1h2.8m-1.4-1.4v2.8m-2.1-.2h2.8m-1.4-1.4v2.8m-.5-5.1h2.8m-1.4-1.4v2.8m-1.3 1h2.8m-1.4-1.4v2.8m-.6-2.1h2.8m-1.4-1.4v2.8m-1.5-1.2h2.8m-1.4-1.4v2.8m-1-5.6h2.8m-1.4-1.4v2.8m-2.5-2.1h2.8m-1.4-1.4v2.8m-.8 2.3h2.8m-1.4-1.4v2.8m-1.6-.6h2.8m-1.4-1.4v2.8m-1.1-3.6h2.8m-1.4-1.4v2.8m-1.8-3h2.8m-1.4-1.4v2.8m-.8 3.6h2.8m-1.4-1.4v2.8m-2.4-3.5h2.8m-1.4-1.4v2.8m-1 1.9h2.8m-1.4-1.4v2.8m-1.5-3.9h2.8m-1.4-1.4v2.8m0-4.8h2.8m-1.4-1.4v2.8m-2.8 1.6h2.8m-1.4-1.4v2.8m-2.1 2.4h2.8m-1.4-1.4v2.8m0-4.8h2.8m-1.4-1.4v2.8m-2.5-.2h2.8m-1.4-1.4v2.8m-.2-3.8h2.8m-1.4-1.4v2.8m-1.7-3.1h2.8m-1.4-1.4v2.8m-1.9 2.7h2.8m-1.4-1.4v2.8m-.7-1.9h2.8m-1.4-1.4v2.8m-1.2-3.5h2.8m-1.4-1.4v2.8m-2.6 1.8h2.8m-1.4-1.4v2.8m-.3-4.9h2.8m-1.4-1.4v2.8m-1.9 1.4h2.8m-1.4-1.4v2.8m-1-2.6h2.8m-1.4-1.4v2.8m-2.2-.9h2.8m-1.4-1.4v2.8m-.1-1.9h2.8m-1.4-1.4v2.8m-2.7-1h2.8m-1.4-1.4v2.8m-1.7-1.6h2.8m-1.4-1.4v2.8m-1.1-.1h2.8m-1.4-1.4v2.8m-1.2-1.3h2.8m-1.4-1.4v2.8m.1-3.6h2.8m-1.4-1.4v2.8m-3.2-.2h2.8m-1.4-1.4v2.8m-1-2h2.8m-1.4-1.4v2.8m-1.8-.7h2.8m-1.4-1.4v2.8m-.2-6.2h2.8m-1.4-1.4v2.8m-2.3 3h2.8m-1.4-1.4v2.8m-.4-3h2.8m-1.4-1.4v2.8m-2.9 1.7h2.8m-1.4-1.4v2.8m-1-3.3h2.8m-1.4-1.4v2.8m-1-.2h2.8m-1.4-1.4v2.8m-1.1-4.7h2.8m-1.4-1.4v2.8m-1.1-.2h2.8m-1.4-1.4v2.8m-2.9 2.9h2.8m-1.4-1.4v2.8m.2-6.8h2.8m-1.4-1.4v2.8m-2.4 0h2.8m-1.4-1.4v2.8m-1-4.3h2.8m-1.4-1.4v2.8m-1.4 3.3h2.8m-1.4-1.4v2.8m-1.3-3.5h2.8m-1.4-1.4v2.8m-1.8 .5h2.8m-1.4-1.4v2.8m-1.7-3.1h2.8m-1.4-1.4v2.8m-1.5 .4h2.8m-1.4-1.4v2.8m-.4-4.9h2.8m-1.4-1.4v2.8m-2.7 4h2.8m-1.4-1.4v2.8m-1.1-4.3h2.8m-1.4-1.4v2.8m-1.6 .5h2.8m-1.4-1.4v2.8m-.6-4.3h2.8m-1.4-1.4v2.8m-2-1.1h2.8m-1.4-1.4v2.8m-.6 .2h2.8m-1.4-1.4v2.8m-2.8 .2h2.8m-1.4-1.4v2.8m-.1-6h2.8m-1.4-1.4v2.8m-1.3-.7h2.8m-1.4-1.4v2.8m-1.8-1.4h2.8m-1.4-1.4v2.8m-1.2-1.1h2.8m-1.4-1.4v2.8m-2.5 .4h2.8m-1.4-1.4v2.8m-1-.3h2.8m-1.4-1.4v2.8m-.7-2.4h2.8m-1.4-1.4v2.8m-1.8-.2h2.8m-1.4-1.4v2.8m-1-5.4h2.8m-1.4-1.4v2.8m-.5-4.4h2.8m-1.4-1.4v2.8m-2.6 3.7h2.8m-1.4-1.4v2.8m-1.8 .4h2.8m-1.4-1.4v2.8m-.4-3.4h2.8m-1.4-1.4v2.8m-2.3 .4h2.8m-1.4-1.4v2.8m-1.1-4.1h2.8m-1.4-1.4v2.8m-1 .4h2.8m-1.4-1.4v2.8m-.5-2.8h2.8m-1.4-1.4v2.8m-3.6 .1h2.8m-1.4-1.4v2.8m.4-2.9h2.8m-1.4-1.4v2.8m-1.8 2.1h2.8m-1.4-1.4v2.8m-1.9-5.4h2.8m-1.4-1.4v2.8m-2 .4h2.8m-1.4-1.4v2.8" stroke="#ff7f0e" stroke-opacity="0.62" stroke-width="1.0" fill="none"/>
<path d="M616.7 60.6h2.6m-1.3-1.3v2.6m-1.9-3.7h2.6m-1.3-1.3v2.6m-1.2-2.8h2.6m-1.3-1.3v2.6m-1.3-1.3h2.6m-1.3-1.3v2.6m-1.2 2.2h2.6m-1.3-1.3v2.6m-.9-2h2.6m-1.3-1.3v2.6m-1.9-1.3h2.6m-1.3-1.3v2.6m-.6-1.8h2.6m-1.3-1.3v2.6m-1.6-1.3h2.6m-1.3-1.3v2.6m-1.6-.7h2.6m-1.3-1.3v2.6m-1.8 .4h2.6m-1.3-1.3v2.6m-1.4-2.3h2.6m-1.3-1.3v2.6m-1.4 .5h2.6m-1.3-1.3v2.6m.2-5.3h2.6m-1.3-1.3v2.6m-1.8-1.9h2.6m-1.3-1.3v2.6m-1.5 1.4h2.6m-1.3-1.3v2.6m.3-4.4h2.6m-1.3-1.3v2.6m-2 .1h2.6m-1.3-1.3v2.6m-2.1 1.2h2.6m-1.3-1.3v2.6m-1.1-2.1h2.6m-1.3-1.3v2.6m-1.5-2h2.6m-1.3-1.3v2.6m-1.4 .8h2.6m-1.3-1.3v2.6m-1.7-4.3h2.6m-1.3-1.3v2.6m-1.1-2.1h2.6m-1.3-1.3v2.6m-1.6 2.3h2.6m-1.3-1.3v2.6m0-.8h2.6m-1.3-1.3v2.6m-2.5-3.6h2.6m-1.3-1.3v2.6m-1.4-.6h2.6m-1.3-1.3v2.6m-.2-1.1h2.6m-1.3-1.3v2.6m-1.3-2.6h2.6m-1.3-1.3v2.6m-2.2-4.5h2.6m-1.3-1.3v2.6m-1 3.2h2.6m-1.3-1.3v2.6m-.5-2.9h2.6m-1.3-1.3v2.6m-2-.3h2.6m-1.3-1.3v2.6m-.7-1.8h2.6m-1.3-1.3v2.6m-2.6 .7h2.6m-1.3-1.3v2.6m-.4-2.5h2.6m-1.3-1.3v2.6m-2-2h2.6m-1.3-1.3v2.6m-1.1-4.8h2.6m-1.3-1.3v2.6m-1 1.4h2.6m-1.3-1.3v2.6m-1.3 2h2.6m-1.3-1.3v2.6m-1.7-.7h2.6m-1.3-1.3v2.6m-1.3-3.1h2.6m-1.3-1.3v2.6m-1.5-2.4h2.6m-1.3-1.3v2.6m-.7-1.9h2.6m-1.3-1.3v2.6m-.6-4.2h2.6m-1.3-1.3v2.6m-1.7 .6h2.6m-1.3-1.3v2.6m-1.6 .8h2.6m-1.3-1.3v2.6m-1.3-2.7h2.6m-1.3-1.3v2.6m-1.9 .3h2.6m-1.3-1.3v2.6m-1.1-1.4h2.6m-1.3-1.3v2.6m-1.8 .3h2.6m-1.3-1.3v2.6m-1.1-1.7h2.6m-1.3-1.3v2.6m-.9-2.4h2.6m-1.3-1.3v2.6m-1.2-1h2.6m-1.3-1.3v2.6m-1.3-.3h2.6m-1.3-1.3v2.6m-.9-2.3h2.6m-1.3-1.3v2.6m-.5-3.7h2.6m-1.3-1.3v2.6m-1.7 0h2.6m-1.3-1.3v2.6m-2.6-.6h2.6m-1.3-1.3v2.6m-1 .8h2.6m-1.3-1.3v2.6m-1.1-4.1h2.6m-1.3-1.3v2.6m-.5-4.7h2.6m-1.3-1.3v2.6m-1.4 .3h2.6m-1.3-1.3v2.6m-1.5 3.3h2.6m-1.3-1.3v2.6m-1.2-7h2.6m-1.3-1.3v2.6m-1.6 1.8h2.6m-1.3-1.3v2.6m-.9-2.1h2.6m-1.3-1.3v2.6m-2.3-1.1h2.6m-1.3-1.3v2.6m-1.6 2.1h2.6m-1.3-1.3v2.6m-.6-5.5h2.6m-1.3-1.3v2.6m-.9-2.4h2.6m-1.3-1.3v2.6m-1.7 .7h2.6m-1.3-1.3v2.6m-1.3-1.5h2.6m-1.3-1.3v2.6m-.7-.2h2.6m-1.3-1.3v2.6m-2.3-2.8h2.6m-1.3-1.3v2.6m-.3-1.6h2.6m-1.3-1.3v2.6m-1.7-.3h2.6m-1.3-1.3v2.6m-1.1-1.5h2.6m-1.3-1.3v2.6m-1.4-2.5h2.6m-1.3-1.3v2.6m-1.1-1.4h2.6m-1.3-1.3v2.6m-.8 .3h2.6m-1.3-1.3v2.6m-2.4 .1h2.6m-1.3-1.3v2.6m-1.1-2.6h2.6m-1.3-1.3v2.6m-1.1-2.7h2.6m-1.3-1.3v2.6m-1.7-1.2h2.6m-1.3-1.3v2.6m-.4-1.2h2.6m-1.3-1.3v2.6m-2-1h2.6m-1.3-1.3v2.6m-1.4 2.9h2.6m-1.3-1.3v2.6m-1.7-3.8h2.6m-1.3-1.3v2.6m-.6-2.7h2.6m-1.3-1.3v2.6m-.9-3h2.6m-1.3-1.3v2.6m-1.5 1.3h2.6m-1.3-1.3v2.6m-2.5 1.1h2.6m-1.3-1.3v2.6m-.3-2.1h2.6m-1.3-1.3v2.6m-2.1-3.8h2.6m-1.3-1.3v2.6m-1 .3h2.6m-1.3-1.3v2.6m.1-5.7h2.6m-1.3-1.3v2.6m-2.3 1.8h2.6m-1.3-1.3v2.6m-.9-1.2h2.6m-1.3-1.3v2.6m-2.3-1.5h2.6m-1.3-1.3v2.6m-1.1-2.4h2.6m-1.3-1.3v2.6m-.8-.7h2.6m-1.3-1.3v2.6m-1-3.1h2.6m-1.3-1.3v2.6m-1 3.5h2.6m-1.3-1.3v2.6m-1.4-5.8h2.6m-1.3-1.3v2.6m-2.7-.5h2.6m-1.3-1.3v2.6m-1.2 4.1h2.6m-1.3-1.3v2.6m.1-6.1h2.6m-1.3-1.3v2.6m-1.8 1.7h2.6m-1.3-1.3v2.6m-1.8-1.3h2.6m-1.3-1.3v2.6m-.8-4.5h2.6m-1.3-1.3v2.6m-2.1-.4h2.6m-1.3-1.3v2.6m0-3.5h2.6m-1.3-1.3v2.6m-2.9 2h2.6m-1.3-1.3v2.6m-2.1 1h2.6m-1.3-1.3v2.6m0-3.2h2.6m-1.3-1.3v2.6m.2-5.1h2.6m-1.3-1.3v2.6m-3.4 5.1h2.6m-1.3-1.3v2.6m-.5-5.4h2.6m-1.3-1.3v2.6m-1.3 .7h2.6m-1.3-1.3v2.6m-.6-2.9h2.6m-1.3-1.3v2.6m-2-1.6h2.6m-1.3-1.3v2.6m-1.3 1.1h2.6m-1.3-1.3v2.6m-1.5-.4h2.6m-1.3-1.3v2.6" stroke="#2ca02c" stroke-opacity="0.62" stroke-width="1.0" fill="none"/>
<path d="M617.2 53.9h2.4m-1.2-1.2v2.4m-.2 0h2.4m-1.2-1.2v2.4m-1.4-4.8h2.4m-1.2-1.2v2.4m-1.8 0h2.4m-1.2-1.2v2.4m-.8-1.3h2.4m-1.2-1.2v2.4m-1.8-2h2.4m-1.2-1.2v2.4m-.6 1.4h2.4m-1.2-1.2v2.4m-1.9-3.2h2.4m-1.2-1.2v2.4m-1.3-1.5h2.4m-1.2-1.2v2.4m1-.2h2.4m-1.2-1.2v2.4m-2.8-2.3h2.4m-1.2-1.2v2.4m-1.4-3.3h2.4m-1.2-1.2v2.4m-.9 1.4h2.4m-1.2-1.2v2.4m-.3-3.4h2.4m-1.2-1.2v2.4m-2.2 3.7h2.4m-1.2-1.2v2.4m-2.1-2.3h2.4m-1.2-1.2v2.4m-1-1.5h2.4m-1.2-1.2v2.4m.2-2h2.4m-1.2-1.2v2.4m-1.6-2.3h2.4m-1.2-1.2v2.4m-1.5 1.7h2.4m-1.2-1.2v2.4m-1.2-3.2h2.4m-1.2-1.2v2.4m-1.1 .3h2.4m-1.2-1.2v2.4m-1.9-2.4h2.4m-1.2-1.2v2.4m-.9-.5h2.4m-1.2-1.2v2.4m-.4-1.5h2.4m-1.2-1.2v2.4m-.9-3.3h2.4m-1.2-1.2v2.4m-1.9-1.2h2.4m-1.2-1.2v2.4m-1.2 .5h2.4m-1.2-1.2v2.4m-1.1-3.3h2.4m-1.2-1.2v2.4m-1.3 .1h2.4m-1.2-1.2v2.4m-.9-1h2.4m-1.2-1.2v2.4m-1.1-.3h2.4m-1.2-1.2v2.4m-2.4-1.9h2.4m-1.2-1.2v2.4m-1.2 .7h2.4m-1.2-1.2v2.4m.2-2.9h2.4m-1.2-1.2v2.4m-1.4-3.5h2.4m-1.2-1.2v2.4m-2.5 .3h2.4m-1.2-1.2v2.4m-.2-2.8h2.4m-1.2-1.2v2.4m-1.3 1.8h2.4m-1.2-1.2v2.4m-1.2 .8h2.4m-1.2-1.2v2.4m-.8-4.3h2.4m-1.2-1.2v2.4m-1.7 .4h2.4m-1.2-1.2v2.4m-1.8 0h2.4m-1.2-1.2v2.4m-.1-3.8h2.4m-1.2-1.2v2.4m-2.5 5.4h2.4m-1.2-1.2v2.4m-.1-5.9h2.4m-1.2-1.2v2.4m-.8-1.1h2.4m-1.2-1.2v2.4m-1.9-1.7h2.4m-1.2-1.2v2.4m-1.6-1.1h2.4m-1.2-1.2v2.4m-1.5-1.7h2.4m-1.2-1.2v2.4m.1-4.5h2.4m-1.2-1.2v2.4m-.7-.5h2.4m-1.2-1.2v2.4m-1.7-.2h2.4m-1.2-1.2v2.4m-1.5-1.4h2.4m-1.2-1.2v2.4m-.5 1.6h2.4m-1.2-1.2v2.4m-1.5-1.6h2.4m-1.2-1.2v2.4m-1.6-2.2h2.4m-1.2-1.2v2.4m-1.6-.5h2.4m-1.2-1.2v2.4m-.9-2.4h2.4m-1.2-1.2v2.4m-1.9-1.5h2.4m-1.2-1.2v2.4m-.3-1.5h2.4m-1.2-1.2v2.4m-1.4-.6h2.4m-1.2-1.2v2.4m-1.6-2.5h2.4m-1.2-1.2v2.4m-1.2-.2h2.4m-1.2-1.2v2.4m-1.2 1.2h2.4m-1.2-1.2v2.4m-1.1-6.4h2.4m-1.2-1.2v2.4m-.7 1.4h2.4m-1.2-1.2v2.4m-2 3.7h2.4m-1.2-1.2v2.4m-.2-4.4h2.4m-1.2-1.2v2.4m-1.3-2h2.4m-1.2-1.2v2.4m-1.1-2.4h2.4m-1.2-1.2v2.4m-2-.9h2.4m-1.2-1.2v2.4m-.5 2.1h2.4m-1.2-1.2v2.4m-2.1-1.9h2.4m-1.2-1.2v2.4m-1-1.3h2.4m-1.2-1.2v2.4m-1.2-1.4h2.4m-1.2-1.2v2.4m-.9-3.2h2.4m-1.2-1.2v2.4m-1.3-.5h2.4m-1.2-1.2v2.4m-1.2-3.7h2.4m-1.2-1.2v2.4m-.3 .4h2.4m-1.2-1.2v2.4m-2.4-4.3h2.4m-1.2-1.2v2.4m-1.9 1.5h2.4m-1.2-1.2v2.4m.7-2.8h2.4m-1.2-1.2v2.4m-1.9-1.6h2.4m-1.2-1.2v2.4m-.9 2.4h2.4m-1.2-1.2v2.4m-1.7 .5h2.4m-1.2-1.2v2.4m-.6-1.8h2.4m-1.2-1.2v2.4m-1.8-5h2.4m-1.2-1.2v2.4m-1.3-1.9h2.4m-1.2-1.2v2.4m-.2 1.3h2.4m-1.2-1.2v2.4m-2-.5h2.4m-1.2-1.2v2.4m-.3-2.5h2.4m-1.2-1.2v2.4m-1.7 .3h2.4m-1.2-1.2v2.4m-1.4-4.9h2.4m-1.2-1.2v2.4m-.9 .7h2.4m-1.2-1.2v2.4m-2 .4h2.4m-1.2-1.2v2.4m-1.1 .3h2.4m-1.2-1.2v2.4m-1.3-2.8h2.4m-1.2-1.2v2.4m-.8-1.4h2.4m-1.2-1.2v2.4m-1-1.7h2.4m-1.2-1.2v2.4m-.9-1.9h2.4m-1.2-1.2v2.4m-2.4-.1h2.4m-1.2-1.2v2.4m0-2h2.4m-1.2-1.2v2.4m-2-.9h2.4m-1.2-1.2v2.4m-.9-.9h2.4m-1.2-1.2v2.4m-.9-3.8h2.4m-1.2-1.2v2.4m-1.1 2.6h2.4m-1.2-1.2v2.4m-2.3 .1h2.4m-1.2-1.2v2.4m-.7-1h2.4m-1.2-1.2v2.4m-1.9-.9h2.4m-1.2-1.2v2.4m-.1-7.3h2.4m-1.2-1.2v2.4m-1.1 1.7h2.4m-1.2-1.2v2.4m-2-1.1h2.4m-1.2-1.2v2.4m-1.8 .1h2.4m-1.2-1.2v2.4m-.3-2.6h2.4m-1.2-1.2v2.4m-.5-.7h2.4m-1.2-1.2v2.4m-2-2.8h2.4m-1.2-1.2v2.4m-1.2 2.1h2.4m-1.2-1.2v2.4m-1.1-4.7h2.4m-1.2-1.2v2.4m-.7 .7h2.4m-1.2-1.2v2.4m-2 2.1h2.4m-1.2-1.2v2.4m-1.4-4.3h2.4m-1.2-1.2v2.4m-1.3-2h2.4m-1.2-1.2v2.4m-.4 1.1h2.4m-1.2-1.2v2.4m-2-1.7h2.4m-1.2-1.2v2.4" stroke="#d62728" stroke-opacity="0.62" stroke-width="1.0" fill="none"/>
<path d="M618.9 46.7h2.4m-1.2-1.2v2.4m-.5-1h2.4m-1.2-1.2v2.4m-2.6-.5h2.4m-1.2-1.2v2.4m-1.8 .6h2.4m-1.2-1.2v2.4m.3-4.4h2.4m-1.2-1.2v2.4m-1.5 .4h2.4m-1.2-1.2v2.4m-.5-3.1h2.4m-1.2-1.2v2.4m-2.4-3.6h2.4m-1.2-1.2v2.4m-.8-.4h2.4m-1.2-1.2v2.4m-1.4 2.1h2.4m-1.2-1.2v2.4m-1.2-3.5h2.4m-1.2-1.2v2.4m-.6 0h2.4m-1.2-1.2v2.4m-1.8 .7h2.4m-1.2-1.2v2.4m-1.5-4.2h2.4m-1.2-1.2v2.4m.2 0h2.4m-1.2-1.2v2.4m-2.6-1.3h2.4m-1.2-1.2v2.4m-.9-2.8h2.4m-1.2-1.2v2.4m-1.3 .7h2.4m-1.2-1.2v2.4m-1.1-.2h2.4m-1.2-1.2v2.4m-1.6-4.6h2.4m-1.2-1.2v2.4m-.3 .5h2.4m-1.2-1.2v2.4m-1.2 .1h2.4m-1.2-1.2v2.4m-2.3-.8h2.4m-1.2-1.2v2.4m-1-1.7h2.4m-1.2-1.2v2.4m-.5 1.9h2.4m-1.2-1.2v2.4m-1.5-3.6h2.4m-1.2-1.2v2.4m-1.1-1h2.4m-1.2-1.2v2.4m-2.2-3.2h2.4m-1.2-1.2v2.4m-.2 .2h2.4m-1.2-1.2v2.4m-1.6-.6h2.4m-1.2-1.2v2.4m-.4-2.4h2.4m-1.2-1.2v2.4m-1.7-1.9h2.4m-1.2-1.2v2.4m-1.2 1.3h2.4m-1.2-1.2v2.4m-.4-3.9h2.4m-1.2-1.2v2.4m-2.2-1.7h2.4m-1.2-1.2v2.4m-.5 .4h2.4m-1.2-1.2v2.4m-1.6-.7h2.4m-1.2-1.2v2.4m-1-2.2h2.4m-1.2-1.2v2.4m-1.8-2h2.4m-1.2-1.2v2.4m-.8 .4h2.4m-1.2-1.2v2.4m-1.3-2.5h2.4m-1.2-1.2v2.4m-.5-1.3h2.4m-1.2-1.2v2.4m-1.7-.9h2.4m-1.2-1.2v2.4m-1.5-3.2h2.4m-1.2-1.2v2.4m-1.1-.1h2.4m-1.2-1.2v2.4m-.6-1.7h2.4m-1.2-1.2v2.4m-2 1.7h2.4m-1.2-1.2v2.4m-1-1.4h2.4m-1.2-1.2v2.4m-.5-4.7h2.4m-1.2-1.2v2.4m-1.8-.1h2.4m-1.2-1.2v2.4m-.6 .2h2.4m-1.2-1.2v2.4m-1.9 1.8h2.4m-1.2-1.2v2.4m-1.3-3.9h2.4m-1.2-1.2v2.4m-.8-1.8h2.4m-1.2-1.2v2.4m-1 .6h2.4m-1.2-1.2v2.4m-1.2-2.4h2.4m-1.2-1.2v2.4m-1.7-1.9h2.4m-1.2-1.2v2.4m-1-3.3h2.4m-1.2-1.2v2.4m-1.3 2.8h2.4m-1.2-1.2v2.4m-1.1-3.3h2.4m-1.2-1.2v2.4m-1.3-.1h2.4m-1.2-1.2v2.4m-1.3 1.4h2.4m-1.2-1.2v2.4m-1.5-3.5h2.4m-1.2-1.2v2.4m-.5-1.7h2.4m-1.2-1.2v2.4m-1.5-3h2.4m-1.2-1.2v2.4m-1.6 1.6h2.4m-1.2-1.2v2.4m-.1-3.4h2.4m-1.2-1.2v2.4m-1.8 .7h2.4m-1.2-1.2v2.4m-.9-1.6h2.4m-1.2-1.2v2.4m-1.6-.2h2.4m-1.2-1.2v2.4m-1.7-2.6h2.4m-1.2-1.2v2.4m-1.2-4.4h2.4m-1.2-1.2v2.4m-.8-.5h2.4m-1.2-1.2v2.4m-1 2.9h2.4m-1.2-1.2v2.4m-1.4-3.1h2.4m-1.2-1.2v2.4m-1.2-1.4h2.4m-1.2-1.2v2.4m-1.1-.2h2.4m-1.2-1.2v2.4m-1.3-3h2.4m-1.2-1.2v2.4m-1.4 1.4h2.4m-1.2-1.2v2.4m-1.3-.2h2.4m-1.2-1.2v2.4m-1.1-1.3h2.4m-1.2-1.2v2.4m-1.3-4.6h2.4m-1.2-1.2v2.4m-.7 .8h2.4m-1.2-1.2v2.4m-1.7 1.3h2.4m-1.2-1.2v2.4m-.8-4.1h2.4m-1.2-1.2v2.4m-1.7 1h2.4m-1.2-1.2v2.4m-.4-3.2h2.4m-1.2-1.2v2.4m-2.2-1.3h2.4m-1.2-1.2v2.4m-.8-1.1h2.4m-1.2-1.2v2.4m-.4-3h2.4m-1.2-1.2v2.4m-1.8 1.4h2.4m-1.2-1.2v2.4m-1-3.2h2.4m-1.2-1.2v2.4m-1.6-1.7h2.4m-1.2-1.2v2.4m-1.6 1.5h2.4m-1.2-1.2v2.4m-.3-4.8h2.4m-1.2-1.2v2.4m-1.2-1.3h2.4m-1.2-1.2v2.4m-2.9 2.8h2.4m-1.2-1.2v2.4m1-5.5h2.4m-1.2-1.2v2.4m-2.2 1.5h2.4m-1.2-1.2v2.4m-1-2.9h2.4m-1.2-1.2v2.4m-1.3-.2h2.4m-1.2-1.2v2.4m-1.3-.5h2.4m-1.2-1.2v2.4m-.9-2.8h2.4m-1.2-1.2v2.4m-1-2.6h2.4m-1.2-1.2v2.4m-.6-1.3h2.4m-1.2-1.2v2.4m-2.1 2.1h2.4m-1.2-1.2v2.4m-1-1.3h2.4m-1.2-1.2v2.4m-.7-3.4h2.4m-1.2-1.2v2.4m-1.9 .8h2.4m-1.2-1.2v2.4m-1.2-2.4h2.4m-1.2-1.2v2.4m-.5-1.4h2.4m-1.2-1.2v2.4m-2-.5h2.4m-1.2-1.2v2.4m-1.1-.5h2.4m-1.2-1.2v2.4m-1.3-.8h2.4m-1.2-1.2v2.4m-1-1.1h2.4m-1.2-1.2v2.4m-.6-3.3h2.4m-1.2-1.2v2.4m-1.1-.6h2.4m-1.2-1.2v2.4m-1.7-.2h2.4m-1.2-1.2v2.4m-1.3-4.6h2.4m-1.2-1.2v2.4m-.6 .7h2.4m-1.2-1.2v2.4m-2.4 1.7h2.4m-1.2-1.2v2.4m-1 .2h2.4m-1.2-1.2v2.4m-.3-3.1h2.4m-1.2-1.2v2.4m-1.8-1.1h2.4m-1.2-1.2v2.4m-1.8-2.2h2.4m-1.2-1.2v2.4" stroke="#9467bd" stroke-opacity="0.62" stroke-width="1.0" fill="none"/>
<path d="M619.7 39.8h2.4m-1.2-1.2v2.4m-1.1-2.7h2.4m-1.2-1.2v2.4m-1.2 2.9h2.4m-1.2-1.2v2.4m-2-2.9h2.4m-1.2-1.2v2.4m-.1-.8h2.4m-1.2-1.2v2.4m-2.1-3.3h2.4m-1.2-1.2v2.4m-.7 3.1h2.4m-1.2-1.2v2.4m-1.8-3.9h2.4m-1.2-1.2v2.4m-1-1.7h2.4m-1.2-1.2v2.4m-.8-.8h2.4m-1.2-1.2v2.4m-1.9 2h2.4m-1.2-1.2v2.4m-.7-4.7h2.4m-1.2-1.2v2.4m-.7-.9h2.4m-1.2-1.2v2.4m-1.8 .2h2.4m-1.2-1.2v2.4m-1.5-1.5h2.4m-1.2-1.2v2.4m-.4-1.3h2.4m-1.2-1.2v2.4m-1.6-2.2h2.4m-1.2-1.2v2.4m-1.8-1.4h2.4m-1.2-1.2v2.4m-.5 .3h2.4m-1.2-1.2v2.4m-1.2-3.1h2.4m-1.2-1.2v2.4m-1.6-.7h2.4m-1.2-1.2v2.4m-.9 .7h2.4m-1.2-1.2v2.4m-1.1-3.7h2.4m-1.2-1.2v2.4m-1.2-1.2h2.4m-1.2-1.2v2.4m-1.1-3.8h2.4m-1.2-1.2v2.4m-1.8 .3h2.4m-1.2-1.2v2.4m-.6 .5h2.4m-1.2-1.2v2.4m-1.4 .6h2.4m-1.2-1.2v2.4m-1.7-1.2h2.4m-1.2-1.2v2.4m-.4-3.9h2.4m-1.2-1.2v2.4m-.7-2.3h2.4m-1.2-1.2v2.4m-2.4 .6h2.4m-1.2-1.2v2.4m-.6-1.2h2.4m-1.2-1.2v2.4m-2.2-1.3h2.4m-1.2-1.2v2.4m-.7 3h2.4m-1.2-1.2v2.4m-.3-4.8h2.4m-1.2-1.2v2.4m-2.2-.9h2.4m-1.2-1.2v2.4m-1.2-1.4h2.4m-1.2-1.2v2.4m-.6-2.1h2.4m-1.2-1.2v2.4m-1.2-1.1h2.4m-1.2-1.2v2.4m-1.7 1.6h2.4m-1.2-1.2v2.4m-.6-3.9h2.4m-1.2-1.2v2.4m-1.8-.5h2.4m-1.2-1.2v2.4m-.7-.2h2.4m-1.2-1.2v2.4m-.8-1.8h2.4m-1.2-1.2v2.4m-2.4 1.1h2.4m-1.2-1.2v2.4m-.2-3h2.4m-1.2-1.2v2.4m-.9-4.6h2.4m-1.2-1.2v2.4m-1.9 .3h2.4m-1.2-1.2v2.4m-.6-2.2h2.4m-1.2-1.2v2.4m-2 2.8h2.4m-1.2-1.2v2.4m-.7-4.1h2.4m-1.2-1.2v2.4m-.6-2.6h2.4m-1.2-1.2v2.4m-1.8 .5h2.4m-1.2-1.2v2.4m-1.2-1.3h2.4m-1.2-1.2v2.4m-1.8-.5h2.4m-1.2-1.2v2.4m-1.4-.7h2.4m-1.2-1.2v2.4m-.9-.6h2.4m-1.2-1.2v2.4m-1.1-3.6h2.4m-1.2-1.2v2.4m-1 1.6h2.4m-1.2-1.2v2.4m-2.1-2.8h2.4m-1.2-1.2v2.4m.1-3.5h2.4m-1.2-1.2v2.4m-2.1 1.9h2.4m-1.2-1.2v2.4m-1-3.1h2.4m-1.2-1.2v2.4m-.2-1.7h2.4m-1.2-1.2v2.4m-2-3.2h2.4m-1.2-1.2v2.4m-1.4 .4h2.4m-1.2-1.2v2.4m-.4 2.4h2.4m-1.2-1.2v2.4m-2.5-.1h2.4m-1.2-1.2v2.4m-.1-4.4h2.4m-1.2-1.2v2.4m-1.3-.3h2.4m-1.2-1.2v2.4m-1.6-4.4h2.4m-1.2-1.2v2.4m-1.4 1.4h2.4m-1.2-1.2v2.4m-.9-2.3h2.4m-1.2-1.2v2.4m-.7-1.7h2.4m-1.2-1.2v2.4m-1.2-.3h2.4m-1.2-1.2v2.4m-1.5-2.2h2.4m-1.2-1.2v2.4m-1.3-.7h2.4m-1.2-1.2v2.4m-1.9 0h2.4m-1.2-1.2v2.4m-.7 0h2.4m-1.2-1.2v2.4m-.8-3.9h2.4m-1.2-1.2v2.4m-1.4-3.4h2.4m-1.2-1.2v2.4m-1.8 4.4h2.4m-1.2-1.2v2.4m-.1-2h2.4m-1.2-1.2v2.4m-1.7-1.4h2.4m-1.2-1.2v2.4m-.9-4.7h2.4m-1.2-1.2v2.4m-2 3.2h2.4m-1.2-1.2v2.4m-.3-2.6h2.4m-1.2-1.2v2.4m-1.7-2.2h2.4m-1.2-1.2v2.4m-1.3-2h2.4m-1.2-1.2v2.4m-1.8 .4h2.4m-1.2-1.2v2.4m-.6-1.7h2.4m-1.2-1.2v2.4m-.4 0h2.4m-1.2-1.2v2.4m-2.2-1.2h2.4m-1.2-1.2v2.4m-1.6-.5h2.4m-1.2-1.2v2.4m-.3-3.1h2.4m-1.2-1.2v2.4m-1.3 1.3h2.4m-1.2-1.2v2.4m-1.3-4.9h2.4m-1.2-1.2v2.4m-.3 .3h2.4m-1.2-1.2v2.4m-1.4-2.2h2.4m-1.2-1.2v2.4m-1.6-1.2h2.4m-1.2-1.2v2.4m-1.2-.6h2.4m-1.2-1.2v2.4m-1.9 1.5h2.4m-1.2-1.2v2.4m-.4-6.5h2.4m-1.2-1.2v2.4m-1.5 .4h2.4m-1.2-1.2v2.4m-1.7-.7h2.4m-1.2-1.2v2.4m-.9-.3h2.4m-1.2-1.2v2.4m-1.2-4h2.4m-1.2-1.2v2.4m-1.4 2.9h2.4m-1.2-1.2v2.4m-1.5-1.6h2.4m-1.2-1.2v2.4m-.3-2.8h2.4m-1.2-1.2v2.4m-1.2-1.6h2.4m-1.2-1.2v2.4m-1.5-1.6h2.4m-1.2-1.2v2.4m-1.1 2.3h2.4m-1.2-1.2v2.4m-1.7-1.4h2.4m-1.2-1.2v2.4m-1.5-4.3h2.4m-1.2-1.2v2.4m-1 2.7h2.4m-1.2-1.2v2.4m-1-2.6h2.4m-1.2-1.2v2.4m-1.7-2.2h2.4m-1.2-1.2v2.4m-.1-1.5h2.4m-1.2-1.2v2.4m-2.6-.8h2.4m-1.2-1.2v2.4m.1 .5h2.4m-1.2-1.2v2.4m-1-5.7h2.4m-1.2-1.2v2.4m-1.7 2.6h2.4m-1.2-1.2v2.4m-1.4-1.7h2.4m-1.2-1.2v2.4" stroke="#8c564b" stroke-opacity="0.62" stroke-width="1.0" fill="none"/>
<path d="M619.9 34.8h2.4m-1.2-1.2v2.4m-.7-2.4h2.4m-1.2-1.2v2.4m-.5 .1h2.4m-1.2-1.2v2.4m-2-2.5h2.4m-1.2-1.2v2.4m-1.3-.5h2.4m-1.2-1.2v2.4m-1.7-3.1h2.4m-1.2-1.2v2.4m-.7 .9h2.4m-1.2-1.2v2.4m-2-4.3h2.4m-1.2-1.2v2.4m-.6 2h2.4m-1.2-1.2v2.4m-.8-3h2.4m-1.2-1.2v2.4m-1.2 .2h2.4m-1.2-1.2v2.4m-1.7-1h2.4m-1.2-1.2v2.4m-.7-.1h2.4m-1.2-1.2v2.4m-1.1-3.1h2.4m-1.2-1.2v2.4m-1.6-1.9h2.4m-1.2-1.2v2.4m-1.3 0h2.4m-1.2-1.2v2.4m-1.3 .4h2.4m-1.2-1.2v2.4m-.9-1.1h2.4m-1.2-1.2v2.4m-1.3-.7h2.4m-1.2-1.2v2.4m-1.2-1.4h2.4m-1.2-1.2v2.4m-1.1-1.5h2.4m-1.2-1.2v2.4m-1.2-4.2h2.4m-1.2-1.2v2.4m-2 3.6h2.4m-1.2-1.2v2.4m-.4-3.5h2.4m-1.2-1.2v2.4m-1.3-2.5h2.4m-1.2-1.2v2.4m-.1-2.2h2.4m-1.2-1.2v2.4m-2.3 .4h2.4m-1.2-1.2v2.4m-1.5-3h2.4m-1.2-1.2v2.4m-1.1 .1h2.4m-1.2-1.2v2.4m-1.2 .6h2.4m-1.2-1.2v2.4m-1.4-1.8h2.4m-1.2-1.2v2.4m-.3-.5h2.4m-1.2-1.2v2.4m-1.8-7h2.4m-1.2-1.2v2.4m-.8 4h2.4m-1.2-1.2v2.4m-1.8 0h2.4m-1.2-1.2v2.4m-1-3h2.4m-1.2-1.2v2.4m-1.5-.9h2.4m-1.2-1.2v2.4m-.9-2.4h2.4m-1.2-1.2v2.4m-.7-.1h2.4m-1.2-1.2v2.4m-2.2-.5h2.4m-1.2-1.2v2.4m-.2-3.5h2.4m-1.2-1.2v2.4m-1.7 .1h2.4m-1.2-1.2v2.4m-1.2-1.1h2.4m-1.2-1.2v2.4m-.8-2.1h2.4m-1.2-1.2v2.4m-.7-1.5h2.4m-1.2-1.2v2.4m-2.4 2.8h2.4m-1.2-1.2v2.4m.1-4.1h2.4m-1.2-1.2v2.4m-2.1-2.9h2.4m-1.2-1.2v2.4m-.8 .7h2.4m-1.2-1.2v2.4m-1.9-.8h2.4m-1.2-1.2v2.4m-.5-.8h2.4m-1.2-1.2v2.4m-.9-.5h2.4m-1.2-1.2v2.4m-1.7-3h2.4m-1.2-1.2v2.4m-1.3 .7h2.4m-1.2-1.2v2.4m-1.1-1.5h2.4m-1.2-1.2v2.4m-1.4-1.6h2.4m-1.2-1.2v2.4m-.7-2.6h2.4m-1.2-1.2v2.4m-2.3 1.6h2.4m-1.2-1.2v2.4m-.3-4.4h2.4m-1.2-1.2v2.4m-1.4-.9h2.4m-1.2-1.2v2.4m-1.9-1.1h2.4m-1.2-1.2v2.4m-1.1-.6h2.4m-1.2-1.2v2.4m-.8 .2h2.4m-1.2-1.2v2.4m-1.2-2.4h2.4m-1.2-1.2v2.4m-1.2-2.3h2.4m-1.2-1.2v2.4m-1.7 .8h2.4m-1.2-1.2v2.4m-.5-3.5h2.4m-1.2-1.2v2.4m-1.2-1h2.4m-1.2-1.2v2.4m-1.6-.2h2.4m-1.2-1.2v2.4m-.4-1.9h2.4m-1.2-1.2v2.4m-2.1-1.8h2.4m-1.2-1.2v2.4m-.1-1.5h2.4m-1.2-1.2v2.4m-1.4-.3h2.4m-1.2-1.2v2.4m-1.4-1h2.4m-1.2-1.2v2.4m-2-1.7h2.4m-1.2-1.2v2.4m.1-.7h2.4m-1.2-1.2v2.4m-1.8-1.5h2.4m-1.2-1.2v2.4m-1.5-.3h2.4m-1.2-1.2v2.4m-1.1 1.7h2.4m-1.2-1.2v2.4m-1.2-4.8h2.4m-1.2-1.2v2.4m-1.3-2.9h2.4m-1.2-1.2v2.4m-1.7 1.8h2.4m-1.2-1.2v2.4m-1.4-.1h2.4m-1.2-1.2v2.4m0-3.8h2.4m-1.2-1.2v2.4m-2-.7h2.4m-1.2-1.2v2.4m-.9 .5h2.4m-1.2-1.2v2.4m-1.3-3.5h2.4m-1.2-1.2v2.4m-1-1.1h2.4m-1.2-1.2v2.4m-1.3-3.3h2.4m-1.2-1.2v2.4m-1.6 .3h2.4m-1.2-1.2v2.4m-.9 1.4h2.4m-1.2-1.2v2.4m-.3-.2h2.4m-1.2-1.2v2.4m-1.9-.9h2.4m-1.2-1.2v2.4m-1.2-4.8h2.4m-1.2-1.2v2.4m-.3-2h2.4m-1.2-1.2v2.4m-2.2 0h2.4m-1.2-1.2v2.4m-.5-1.7h2.4m-1.2-1.2v2.4m-1.5-.9h2.4m-1.2-1.2v2.4m-1.9-.3h2.4m-1.2-1.2v2.4m-.6-3.3h2.4m-1.2-1.2v2.4m-1.6-.6h2.4m-1.2-1.2v2.4m-.7 .7h2.4m-1.2-1.2v2.4m-1.4-1.2h2.4m-1.2-1.2v2.4m-1.5-1.2h2.4m-1.2-1.2v2.4m-1.1-3.9h2.4m-1.2-1.2v2.4m-1.4 1.1h2.4m-1.2-1.2v2.4m-.9 .1h2.4m-1.2-1.2v2.4m-1.8-3.2h2.4m-1.2-1.2v2.4m-.4-2.3h2.4m-1.2-1.2v2.4m-1.3-.3h2.4m-1.2-1.2v2.4m-1.8 1h2.4m-1.2-1.2v2.4m-1.3-1.3h2.4m-1.2-1.2v2.4m-.6-4.1h2.4m-1.2-1.2v2.4m-1.4-.9h2.4m-1.2-1.2v2.4m-1.3 .3h2.4m-1.2-1.2v2.4m-1.7 .2h2.4m-1.2-1.2v2.4m-.2-.9h2.4m-1.2-1.2v2.4m-1.5-6.8h2.4m-1.2-1.2v2.4m-1.3 2h2.4m-1.2-1.2v2.4m-.8-1.7h2.4m-1.2-1.2v2.4m-1.4-.2h2.4m-1.2-1.2v2.4m-1.9 1.3h2.4m-1.2-1.2v2.4m-.9-3.5h2.4m-1.2-1.2v2.4m-.3-2.8h2.4m-1.2-1.2v2.4m-1.8 2.4h2.4m-1.2-1.2v2.4" stroke="#e377c2" stroke-opacity="0.62" stroke-width="1.0" fill="none"/>
<path d="M620.4 31.2h2.4m-1.2-1.2v2.4m-.9-2.4h2.4m-1.2-1.2v2.4m-1-1.8h2.4m-1.2-1.2v2.4m-1.6 .4h2.4m-1.2-1.2v2.4m-1-1.8h2.4m-1.2-1.2v2.4m-1.7-1.9h2.4m-1.2-1.2v2.4m-.5 .1h2.4m-1.2-1.2v2.4m-1.3-3.2h2.4m-1.2-1.2v2.4m-1.6 .1h2.4m-1.2-1.2v2.4m-.5-1.7h2.4m-1.2-1.2v2.4m-1.2-1.7h2.4m-1.2-1.2v2.4m-1.2-2.2h2.4m-1.2-1.2v2.4m-1.5-1.3h2.4m-1.2-1.2v2.4m-1.2 1.1h2.4m-1.2-1.2v2.4m-1.6-3h2.4m-1.2-1.2v2.4m-1-2.3h2.4m-1.2-1.2v2.4m-1.4-.3h2.4m-1.2-1.2v2.4m-.8 1.9h2.4m-1.2-1.2v2.4m-1.5-3.5h2.4m-1.2-1.2v2.4m-1-1.5h2.4m-1.2-1.2v2.4m-1.4 .7h2.4m-1.2-1.2v2.4m-1-2.5h2.4m-1.2-1.2v2.4m-1.6 1h2.4m-1.2-1.2v2.4m-1.1-3.1h2.4m-1.2-1.2v2.4m-1.3-2.2h2.4m-1.2-1.2v2.4m-.8-1h2.4m-1.2-1.2v2.4m-1.1-.5h2.4m-1.2-1.2v2.4m-1.7-4.5h2.4m-1.2-1.2v2.4m-.5 1.2h2.4m-1.2-1.2v2.4m-1.1-.4h2.4m-1.2-1.2v2.4m-2-.4h2.4m-1.2-1.2v2.4m-1-2h2.4m-1.2-1.2v2.4m-1.4-.3h2.4m-1.2-1.2v2.4m-.5-2.8h2.4m-1.2-1.2v2.4m-1-1.3h2.4m-1.2-1.2v2.4m-1.6-2.7h2.4m-1.2-1.2v2.4m-2.2 4h2.4m-1.2-1.2v2.4m0-2.5h2.4m-1.2-1.2v2.4m-2.2-2.5h2.4m-1.2-1.2v2.4m-.5-1.4h2.4m-1.2-1.2v2.4m-1.1-2.6h2.4m-1.2-1.2v2.4m-1.3-1.5h2.4m-1.2-1.2v2.4m-1.4 .9h2.4m-1.2-1.2v2.4m-1.3-2.1h2.4m-1.2-1.2v2.4m-1.1-.8h2.4m-1.2-1.2v2.4m-.8-.9h2.4m-1.2-1.2v2.4m-1.2-3.5h2.4m-1.2-1.2v2.4m-1.7 1.9h2.4m-1.2-1.2v2.4m-1.2-2.9h2.4m-1.2-1.2v2.4m-1.4 1.3h2.4m-1.2-1.2v2.4m-.9-4.1h2.4m-1.2-1.2v2.4m-1 1.3h2.4m-1.2-1.2v2.4m-1.2-1.3h2.4m-1.2-1.2v2.4m-1.2-2.8h2.4m-1.2-1.2v2.4m-1.4-1.7h2.4m-1.2-1.2v2.4m-1.3 0h2.4m-1.2-1.2v2.4m-1-1.6h2.4m-1.2-1.2v2.4m-1-1.4h2.4m-1.2-1.2v2.4m-1.8-2.2h2.4m-1.2-1.2v2.4m-1-2.8h2.4m-1.2-1.2v2.4m-.9-.2h2.4m-1.2-1.2v2.4m-1.6-1h2.4m-1.2-1.2v2.4m-.6-.1h2.4m-1.2-1.2v2.4m-1.2-.9h2.4m-1.2-1.2v2.4m-1.7-.3h2.4m-1.2-1.2v2.4m-.8-1.9h2.4m-1.2-1.2v2.4m-1.7-2h2.4m-1.2-1.2v2.4m-1.3-.9h2.4m-1.2-1.2v2.4m-.9 1.3h2.4m-1.2-1.2v2.4m-.7-2.4h2.4m-1.2-1.2v2.4m-1.3-1.8h2.4m-1.2-1.2v2.4m-.7 .6h2.4m-1.2-1.2v2.4m-1.2-2.8h2.4m-1.2-1.2v2.4m-1.9-.2h2.4m-1.2-1.2v2.4m-1.3-2.3h2.4m-1.2-1.2v2.4m-1.6-.3h2.4m-1.2-1.2v2.4m-.8-1.4h2.4m-1.2-1.2v2.4m-1.1-4.8h2.4m-1.2-1.2v2.4m-1.2 2.9h2.4m-1.2-1.2v2.4m-1.6-4.2h2.4m-1.2-1.2v2.4m-1-.2h2.4m-1.2-1.2v2.4m-1.8 1.6h2.4m-1.2-1.2v2.4m-.1-4.5h2.4m-1.2-1.2v2.4m-2.2 .2h2.4m-1.2-1.2v2.4m0-.6h2.4m-1.2-1.2v2.4m-1.3-3.6h2.4m-1.2-1.2v2.4m-1.5-2h2.4m-1.2-1.2v2.4m-.8 1.7h2.4m-1.2-1.2v2.4m-2.3-4.6h2.4m-1.2-1.2v2.4m-.5 1.6h2.4m-1.2-1.2v2.4m-1.5-.6h2.4m-1.2-1.2v2.4m-.5-1.5h2.4m-1.2-1.2v2.4m-2.4-1.9h2.4m-1.2-1.2v2.4m-1-2.1h2.4m-1.2-1.2v2.4m-.7-.4h2.4m-1.2-1.2v2.4m-1.6-1h2.4m-1.2-1.2v2.4m-1.2-.4h2.4m-1.2-1.2v2.4m-1-1.4h2.4m-1.2-1.2v2.4m-1.2-.7h2.4m-1.2-1.2v2.4m-1.1-2.2h2.4m-1.2-1.2v2.4m-1.4-1h2.4m-1.2-1.2v2.4m-1.8 2.3h2.4m-1.2-1.2v2.4m-.6-4.8h2.4m-1.2-1.2v2.4m-1.1-2h2.4m-1.2-1.2v2.4m-.9-1.3h2.4m-1.2-1.2v2.4m-1.4-2.4h2.4m-1.2-1.2v2.4m-1.4-.9h2.4m-1.2-1.2v2.4m-.3-1.4h2.4m-1.2-1.2v2.4m-2.3 .9h2.4m-1.2-1.2v2.4m-.2-3.8h2.4m-1.2-1.2v2.4m-2.3 1.3h2.4m-1.2-1.2v2.4m-.5-3.3h2.4m-1.2-1.2v2.4m-1.9-.6h2.4m-1.2-1.2v2.4m-.4 .1h2.4m-1.2-1.2v2.4m-1.2-1.3h2.4m-1.2-1.2v2.4m-1.6-.2h2.4m-1.2-1.2v2.4m-1.2-1.7h2.4m-1.2-1.2v2.4m-1.3-2.4h2.4m-1.2-1.2v2.4m-.8-.7h2.4m-1.2-1.2v2.4m-1.7 .1h2.4m-1.2-1.2v2.4m-.7-2.2h2.4m-1.2-1.2v2.4m-1.7 .1h2.4m-1.2-1.2v2.4m0-3.6h2.4m-1.2-1.2v2.4m-2.5-1.1h2.4m-1.2-1.2v2.4m-1-1.9h2.4m-1.2-1.2v2.4" stroke="#7f7f7f" stroke-opacity="0.62" stroke-width="1.0" fill="none"/>
<path d="M620.7 26.5h2.4m-1.2-1.2v2.4m-.7-.4h2.4m-1.2-1.2v2.4m-1.1-3.9h2.4m-1.2-1.2v2.4m-1.1-1.4h2.4m-1.2-1.2v2.4m-1.6-2h2.4m-1.2-1.2v2.4m-.8 1.9h2.4m-1.2-1.2v2.4m-1.7-3.1h2.4m-1.2-1.2v2.4m-1-.4h2.4m-1.2-1.2v2.4m-1-1.4h2.4m-1.2-1.2v2.4m-1.2-3.4h2.4m-1.2-1.2v2.4m-1.4-1.6h2.4m-1.2-1.2v2.4m-.8 3.2h2.4m-1.2-1.2v2.4m-1.5-1.6h2.4m-1.2-1.2v2.4m-.8-1.4h2.4m-1.2-1.2v2.4m-2.2-2.8h2.4m-1.2-1.2v2.4m-1.4-2.1h2.4m-1.2-1.2v2.4m-.9 0h2.4m-1.2-1.2v2.4m-.7-2.5h2.4m-1.2-1.2v2.4m-1.4 .5h2.4m-1.2-1.2v2.4m-1.2-1.9h2.4m-1.2-1.2v2.4m-1.8-1.6h2.4m-1.2-1.2v2.4m-.3-.2h2.4m-1.2-1.2v2.4m-1.9-1.9h2.4m-1.2-1.2v2.4m-.6-2.2h2.4m-1.2-1.2v2.4m-1.1-1h2.4m-1.2-1.2v2.4m-1.5-.2h2.4m-1.2-1.2v2.4m-.5-1.5h2.4m-1.2-1.2v2.4m-2.1 .3h2.4m-1.2-1.2v2.4m-1.1-2h2.4m-1.2-1.2v2.4m-1.7-1h2.4m-1.2-1.2v2.4m-.5-3.4h2.4m-1.2-1.2v2.4m-.8 .2h2.4m-1.2-1.2v2.4m-1.6-2.7h2.4m-1.2-1.2v2.4m-1.7-.1h2.4m-1.2-1.2v2.4m-1.2 .2h2.4m-1.2-1.2v2.4m-.4-2.7h2.4m-1.2-1.2v2.4m-2-.9h2.4m-1.2-1.2v2.4m-1.1-.4h2.4m-1.2-1.2v2.4m-.8-2h2.4m-1.2-1.2v2.4m-1.3 .8h2.4m-1.2-1.2v2.4m-.6-3.4h2.4m-1.2-1.2v2.4m-1.5-.8h2.4m-1.2-1.2v2.4m-1.8 .9h2.4m-1.2-1.2v2.4m-.7-2.8h2.4m-1.2-1.2v2.4m-1.2-1.6h2.4m-1.2-1.2v2.4m-1.8 1.5h2.4m-1.2-1.2v2.4m-.5-3.3h2.4m-1.2-1.2v2.4m-1.2 .3h2.4m-1.2-1.2v2.4m-1.5-2.2h2.4m-1.2-1.2v2.4m-1.3-1.1h2.4m-1.2-1.2v2.4m-1.3 1.3h2.4m-1.2-1.2v2.4m-1.1-3.9h2.4m-1.2-1.2v2.4m-.9-2.4h2.4m-1.2-1.2v2.4m-1.1-.9h2.4m-1.2-1.2v2.4m-1.6-1h2.4m-1.2-1.2v2.4m-1.3 .4h2.4m-1.2-1.2v2.4m-.8-1.5h2.4m-1.2-1.2v2.4m-1.8-2.2h2.4m-1.2-1.2v2.4m-1-1.4h2.4m-1.2-1.2v2.4m-.6-1h2.4m-1.2-1.2v2.4m-1.7 0h2.4m-1.2-1.2v2.4m-.8-.2h2.4m-1.2-1.2v2.4m-2-3.3h2.4m-1.2-1.2v2.4m-.7-2.9h2.4m-1.2-1.2v2.4m-1-1.6h2.4m-1.2-1.2v2.4m-2-.8h2.4m-1.2-1.2v2.4m-.7 2.7h2.4m-1.2-1.2v2.4m-1.2-5.5h2.4m-1.2-1.2v2.4m-1.6 0h2.4m-1.2-1.2v2.4m-.7-.5h2.4m-1.2-1.2v2.4m-1.5-2.5h2.4m-1.2-1.2v2.4m-1.5 .1h2.4m-1.2-1.2v2.4m-.9-5.3h2.4m-1.2-1.2v2.4m-.5 3.4h2.4m-1.2-1.2v2.4m-1.5-1.5h2.4m-1.2-1.2v2.4m-1.6-.1h2.4m-1.2-1.2v2.4m-1.3-.1h2.4m-1.2-1.2v2.4m-.6-6.4h2.4m-1.2-1.2v2.4m-1.2 4.1h2.4m-1.2-1.2v2.4m-1.5-2.5h2.4m-1.2-1.2v2.4m-1.1-3.5h2.4m-1.2-1.2v2.4m-2 1.4h2.4m-1.2-1.2v2.4m-.5-2.4h2.4m-1.2-1.2v2.4m-1.3-3h2.4m-1.2-1.2v2.4m-.6-.5h2.4m-1.2-1.2v2.4m-1.6-2.4h2.4m-1.2-1.2v2.4m-1.1 1.6h2.4m-1.2-1.2v2.4m-1.4-2.5h2.4m-1.2-1.2v2.4m-1.5 1h2.4m-1.2-1.2v2.4m-.9-3.4h2.4m-1.2-1.2v2.4m-.5-1.3h2.4m-1.2-1.2v2.4m-2.2-2.1h2.4m-1.2-1.2v2.4m-1 2.6h2.4m-1.2-1.2v2.4m-.9-4.1h2.4m-1.2-1.2v2.4m-1.1 1h2.4m-1.2-1.2v2.4m-1.7-1h2.4m-1.2-1.2v2.4m-.6-2.6h2.4m-1.2-1.2v2.4m-2.2-1.6h2.4m-1.2-1.2v2.4m0-1.8h2.4m-1.2-1.2v2.4m-.9-.7h2.4m-1.2-1.2v2.4m-2.3-.5h2.4m-1.2-1.2v2.4m-.8-.9h2.4m-1.2-1.2v2.4m-1.4-.5h2.4m-1.2-1.2v2.4m-1.2-2.8h2.4m-1.2-1.2v2.4m-1.4-2.6h2.4m-1.2-1.2v2.4m-.7-1h2.4m-1.2-1.2v2.4m-1.5-.5h2.4m-1.2-1.2v2.4m-1 .2h2.4m-1.2-1.2v2.4m-1.1-.9h2.4m-1.2-1.2v2.4m-1.2-3.4h2.4m-1.2-1.2v2.4m-1.8-.9h2.4m-1.2-1.2v2.4m-.9-3.3h2.4m-1.2-1.2v2.4m-.4-1.2h2.4m-1.2-1.2v2.4m-1.8 2.2h2.4m-1.2-1.2v2.4m-1.5 1.6h2.4m-1.2-1.2v2.4m-.9-5.9h2.4m-1.2-1.2v2.4m-.7-1.3h2.4m-1.2-1.2v2.4m-2.1-1.4h2.4m-1.2-1.2v2.4m-1 .2h2.4m-1.2-1.2v2.4m-.8-3.4h2.4m-1.2-1.2v2.4m-1.5 4.1h2.4m-1.2-1.2v2.4m-1.3-4.5h2.4m-1.2-1.2v2.4m-.9 .7h2.4m-1.2-1.2v2.4m-1.5-4.3h2.4m-1.2-1.2v2.4m-1.4 1.7h2.4m-1.2-1.2v2.4" stroke="#bcbd22" stroke-opacity="0.62" stroke-width="1.0" fill="none"/>
<path d="M621.5 17.8h2.4m-1.2-1.2v2.4m-2.1 .1h2.4m-1.2-1.2v2.4m-1.1 1.1h2.4m-1.2-1.2v2.4m-.7 1h2.4m-1.2-1.2v2.4m-1-3.8h2.4m-1.2-1.2v2.4m-1-2.6h2.4m-1.2-1.2v2.4m-2 .1h2.4m-1.2-1.2v2.4m-.5-3.5h2.4m-1.2-1.2v2.4m-1.3 2.3h2.4m-1.2-1.2v2.4m-1.6-2.2h2.4m-1.2-1.2v2.4m-1.1-1.3h2.4m-1.2-1.2v2.4m-.8-2.5h2.4m-1.2-1.2v2.4m-1.2 1.2h2.4m-1.2-1.2v2.4m-1.2-5.2h2.4m-1.2-1.2v2.4m-2.1 2.5h2.4m-1.2-1.2v2.4m-.8-3.1h2.4m-1.2-1.2v2.4m-1.2-2.2h2.4m-1.2-1.2v2.4m-1.1-.3h2.4m-1.2-1.2v2.4m-1.3 .5h2.4m-1.2-1.2v2.4m-1.4-.2h2.4m-1.2-1.2v2.4m-1.6 .7h2.4m-1.2-1.2v2.4m-.9-3.9h2.4m-1.2-1.2v2.4m-.4-2.1h2.4m-1.2-1.2v2.4m-1.3-1.3h2.4m-1.2-1.2v2.4m-2-.6h2.4m-1.2-1.2v2.4m-.3-2.4h2.4m-1.2-1.2v2.4m-2-1.3h2.4m-1.2-1.2v2.4m-.6 .1h2.4m-1.2-1.2v2.4m-1-.9h2.4m-1.2-1.2v2.4m-1.3-4.8h2.4m-1.2-1.2v2.4m-.7 1.7h2.4m-1.2-1.2v2.4m-1.6-1.7h2.4m-1.2-1.2v2.4m-1.6-.7h2.4m-1.2-1.2v2.4m-.7 .9h2.4m-1.2-1.2v2.4m-1.5-.5h2.4m-1.2-1.2v2.4m-1.5-3.3h2.4m-1.2-1.2v2.4m-1.2-.1h2.4m-1.2-1.2v2.4m-1-1.6h2.4m-1.2-1.2v2.4m-.6-5.6h2.4m-1.2-1.2v2.4m-1.2 2.2h2.4m-1.2-1.2v2.4m-1.9-4.4h2.4m-1.2-1.2v2.4m-1.1-1.7h2.4m-1.2-1.2v2.4m-1.2 1.8h2.4m-1.2-1.2v2.4m-.6-1.4h2.4m-1.2-1.2v2.4m-1.5 .9h2.4m-1.2-1.2v2.4m-.9-3.2h2.4m-1.2-1.2v2.4m-1.5-3h2.4m-1.2-1.2v2.4m-1.8 .6h2.4m-1.2-1.2v2.4m-.9-2.6h2.4m-1.2-1.2v2.4m-1.4 1.6h2.4m-1.2-1.2v2.4m-1.2-2.4h2.4m-1.2-1.2v2.4m-1.3 1h2.4m-1.2-1.2v2.4m-.4-2.9h2.4m-1.2-1.2v2.4m-1.8 .9h2.4m-1.2-1.2v2.4m-.9-4.6h2.4m-1.2-1.2v2.4m-1.8-1.1h2.4m-1.2-1.2v2.4m-.1-1.2h2.4m-1.2-1.2v2.4m-1-.3h2.4m-1.2-1.2v2.4m-2.2 .7h2.4m-1.2-1.2v2.4m-1.2-2.6h2.4m-1.2-1.2v2.4m-1.4-3.5h2.4m-1.2-1.2v2.4m-1.1 .9h2.4m-1.2-1.2v2.4m-1.2-4.3h2.4m-1.2-1.2v2.4m-.9 1.3h2.4m-1.2-1.2v2.4m-1.4-1.8h2.4m-1.2-1.2v2.4m-1.9 2h2.4m-1.2-1.2v2.4m-.6-2.8h2.4m-1.2-1.2v2.4m-.6-.3h2.4m-1.2-1.2v2.4m-1.6-2.8h2.4m-1.2-1.2v2.4m-1.1 .1h2.4m-1.2-1.2v2.4m-1.1-3.2h2.4m-1.2-1.2v2.4m-1.3 0h2.4m-1.2-1.2v2.4m-1.1-1.4h2.4m-1.2-1.2v2.4m-1-1.2h2.4m-1.2-1.2v2.4m-1.3-1.5h2.4m-1.2-1.2v2.4m-1.7-2.6h2.4m-1.2-1.2v2.4m-1.1 1h2.4m-1.2-1.2v2.4m-.7-2.1h2.4m-1.2-1.2v2.4m-1.8-1.8h2.4m-1.2-1.2v2.4m-.6-.4h2.4m-1.2-1.2v2.4m-1.8-.3h2.4m-1.2-1.2v2.4m-1.4-2h2.4m-1.2-1.2v2.4m-.8-1.6h2.4m-1.2-1.2v2.4m-1.6 .4h2.4m-1.2-1.2v2.4m-.3-4.5h2.4m-1.2-1.2v2.4m-1.7 1.6h2.4m-1.2-1.2v2.4m-.5-2.7h2.4m-1.2-1.2v2.4m-2.2-.6h2.4m-1.2-1.2v2.4m-.3-1.1h2.4m-1.2-1.2v2.4m-1.8 1.2h2.4m-1.2-1.2v2.4m-1.8-6.8h2.4m-1.2-1.2v2.4m-.4 3h2.4m-1.2-1.2v2.4m-1.9-1.6h2.4m-1.2-1.2v2.4m-.7-1.6h2.4m-1.2-1.2v2.4m-1.4-2.2h2.4m-1.2-1.2v2.4m-1.3-.4h2.4m-1.2-1.2v2.4m-1 1.1h2.4m-1.2-1.2v2.4m-.9-5.9h2.4m-1.2-1.2v2.4m-1.3 3.1h2.4m-1.2-1.2v2.4m-1.3-1.7h2.4m-1.2-1.2v2.4m-1.2-1.7h2.4m-1.2-1.2v2.4m-1.5-1.1h2.4m-1.2-1.2v2.4m-1.4-.5h2.4m-1.2-1.2v2.4m-1.1-6h2.4m-1.2-1.2v2.4m-.6 1.5h2.4m-1.2-1.2v2.4m-1.4-.3h2.4m-1.2-1.2v2.4m-1.2-3.1h2.4m-1.2-1.2v2.4m-1.2 .6h2.4m-1.2-1.2v2.4m-1.1 1.1h2.4m-1.2-1.2v2.4m-1.5-3.9h2.4m-1.2-1.2v2.4m-.8-2h2.4m-1.2-1.2v2.4m-1.8-1.3h2.4m-1.2-1.2v2.4m-.5-.8h2.4m-1.2-1.2v2.4m-1.3-1.9h2.4m-1.2-1.2v2.4m-1.3-1.1h2.4m-1.2-1.2v2.4m-1.6-.1h2.4m-1.2-1.2v2.4m-.9 .8h2.4m-1.2-1.2v2.4m-1.7-2.6h2.4m-1.2-1.2v2.4m-.3 0h2.4m-1.2-1.2v2.4m-1.7-4.1h2.4m-1.2-1.2v2.4m-1.3 .2h2.4m-1.2-1.2v2.4m-1-1.1h2.4m-1.2-1.2v2.4m-1-3.2h2.4m-1.2-1.2v2.4m-1.7-1.5h2.4m-1.2-1.2v2.4m-1.3 .4h2.4m-1.2-1.2v2.4" stroke="#17becf" stroke-opacity="0.62" stroke-width="1.0" fill="none"/>
<path d="M621.4 18.8h2.4m-1.2-1.2v2.4m-1.1-4.7h2.4m-1.2-1.2v2.4m-.9-2.3h2.4m-1.2-1.2v2.4m-1.5 1.2h2.4m-1.2-1.2v2.4m-1.1-2h2.4m-1.2-1.2v2.4m-1.5-3.5h2.4m-1.2-1.2v2.4m-1.1-.3h2.4m-1.2-1.2v2.4m-1-.5h2.4m-1.2-1.2v2.4m-1.2-3.3h2.4m-1.2-1.2v2.4m-1.1-.1h2.4m-1.2-1.2v2.4m-1.9-2h2.4m-1.2-1.2v2.4m-1 2.3h2.4m-1.2-1.2v2.4m-.8-4.4h2.4m-1.2-1.2v2.4m-1.4 .3h2.4m-1.2-1.2v2.4m-1.6-2.4h2.4m-1.2-1.2v2.4m-1.3-1.1h2.4m-1.2-1.2v2.4m-1.4-1.1h2.4m-1.2-1.2v2.4m-.7-1.2h2.4m-1.2-1.2v2.4m-1.2 1.5h2.4m-1.2-1.2v2.4m-1.1-2.4h2.4m-1.2-1.2v2.4m-.9-.3h2.4m-1.2-1.2v2.4m-1.2-3.2h2.4m-1.2-1.2v2.4m-1.7-1.5h2.4m-1.2-1.2v2.4m-1-.1h2.4m-1.2-1.2v2.4m-1.2 .3h2.4m-1.2-1.2v2.4m-1.2-.3h2.4m-1.2-1.2v2.4m-.8-4.3h2.4m-1.2-1.2v2.4m-1.2-4.5h2.4m-1.2-1.2v2.4m-1.2 3.3h2.4m-1.2-1.2v2.4m-1.4-4.1h2.4m-1.2-1.2v2.4m-.7 .8h2.4m-1.2-1.2v2.4m-1.9 .7h2.4m-1.2-1.2v2.4m-1.1-3.9h2.4m-1.2-1.2v2.4m-1-1.5h2.4m-1.2-1.2v2.4m-1.2 .4h2.4m-1.2-1.2v2.4m-1.1-3h2.4m-1.2-1.2v2.4m-1.2 .9h2.4m-1.2-1.2v2.4m-1-2.6h2.4m-1.2-1.2v2.4m-1.2 .7h2.4m-1.2-1.2v2.4m-1.5-3.2h2.4m-1.2-1.2v2.4m-1.3 .8h2.4m-1.2-1.2v2.4m-1.5-3.8h2.4m-1.2-1.2v2.4m-1.2 2.5h2.4m-1.2-1.2v2.4m-1-2h2.4m-1.2-1.2v2.4m-1.1-2.3h2.4m-1.2-1.2v2.4m-1.2-1.9h2.4m-1.2-1.2v2.4m-1-.4h2.4m-1.2-1.2v2.4m-1.4-3.4h2.4m-1.2-1.2v2.4m-1.2-.2h2.4m-1.2-1.2v2.4m-1.5 1.2h2.4m-1.2-1.2v2.4m-1.3-2.9h2.4m-1.2-1.2v2.4m-.8 .6h2.4m-1.2-1.2v2.4m-1.4-2.3h2.4m-1.2-1.2v2.4m-1-3.2h2.4m-1.2-1.2v2.4m-1.8-2.3h2.4m-1.2-1.2v2.4m-.6 1.6h2.4m-1.2-1.2v2.4m-1.6-2.2h2.4m-1.2-1.2v2.4m-1-.8h2.4m-1.2-1.2v2.4m-1.2 2.3h2.4m-1.2-1.2v2.4m-1.3-4.1h2.4m-1.2-1.2v2.4m-1.2-2.2h2.4m-1.2-1.2v2.4m-1.2-.7h2.4m-1.2-1.2v2.4m-1.2-.4h2.4m-1.2-1.2v2.4m-.9-2.9h2.4m-1.2-1.2v2.4m-.8-1.6h2.4m-1.2-1.2v2.4m-1.7 3.4h2.4m-1.2-1.2v2.4m-1.4-2.3h2.4m-1.2-1.2v2.4m-.7-2.6h2.4m-1.2-1.2v2.4m-2 .3h2.4m-1.2-1.2v2.4m-.7-3.9h2.4m-1.2-1.2v2.4m-.9-1.5h2.4m-1.2-1.2v2.4m-1.2-.9h2.4m-1.2-1.2v2.4m-1.3-1.9h2.4m-1.2-1.2v2.4m-1.5-1h2.4m-1.2-1.2v2.4m-1.3 .3h2.4m-1.2-1.2v2.4m-1.1-1.2h2.4m-1.2-1.2v2.4m-.8-1.6h2.4m-1.2-1.2v2.4m-2-1.5h2.4m-1.2-1.2v2.4m-.7 .7h2.4m-1.2-1.2v2.4m-1-1.3h2.4m-1.2-1.2v2.4m-1.5-1.7h2.4m-1.2-1.2v2.4m-1.5-.3h2.4m-1.2-1.2v2.4m-.7-2.3h2.4m-1.2-1.2v2.4m-1.4-1.8h2.4m-1.2-1.2v2.4m-1.3-.5h2.4m-1.2-1.2v2.4m-1.4-.6h2.4m-1.2-1.2v2.4m-.7 .2h2.4m-1.2-1.2v2.4m-1.3-4.1h2.4m-1.2-1.2v2.4m-1.2-1h2.4m-1.2-1.2v2.4m-1.2-2.8h2.4m-1.2-1.2v2.4m-1.5-.4h2.4m-1.2-1.2v2.4m-.9-2.1h2.4m-1.2-1.2v2.4m-1.5 .1h2.4m-1.2-1.2v2.4m-.7-1.1h2.4m-1.2-1.2v2.4m-1.3 .4h2.4m-1.2-1.2v2.4m-1.1-3.1h2.4m-1.2-1.2v2.4m-1.5-3.2h2.4m-1.2-1.2v2.4m-1.3 2h2.4m-1.2-1.2v2.4m-1.3 0h2.4m-1.2-1.2v2.4m-.5-3.6h2.4m-1.2-1.2v2.4m-1.3-2.6h2.4m-1.2-1.2v2.4m-1.8 .2h2.4m-1.2-1.2v2.4m-.9-.9h2.4m-1.2-1.2v2.4m-1.5 1.8h2.4m-1.2-1.2v2.4m-.8-3.6h2.4m-1.2-1.2v2.4m-1.1-1.3h2.4m-1.2-1.2v2.4m-1.4-2.2h2.4m-1.2-1.2v2.4m-1.7 1.6h2.4m-1.2-1.2v2.4m-.9-5.5h2.4m-1.2-1.2v2.4m-1.2-1.2h2.4m-1.2-1.2v2.4m-.5 1.6h2.4m-1.2-1.2v2.4m-1.4 .3h2.4m-1.2-1.2v2.4m-1.4-2.5h2.4m-1.2-1.2v2.4m-1.5-2.1h2.4m-1.2-1.2v2.4m-1.2-1h2.4m-1.2-1.2v2.4m-1.2 .5h2.4m-1.2-1.2v2.4m-.8-3.1h2.4m-1.2-1.2v2.4m-1.8-.1h2.4m-1.2-1.2v2.4m-.6-2.2h2.4m-1.2-1.2v2.4m-1.7-.6h2.4m-1.2-1.2v2.4m-.6-4.4h2.4m-1.2-1.2v2.4m-1.3-1.1h2.4m-1.2-1.2v2.4m-1.4 3.8h2.4m-1.2-1.2v2.4m-1.2-3h2.4m-1.2-1.2v2.4m-1.3-1.9h2.4m-1.2-1.2v2.4" stroke="#1f77b4" stroke-opacity="0.62" stroke-width="1.0" fill="none"/>
<rect x="369.2" y="1.0" width="266.9" height="199.3" fill="none" stroke="#2a2a2a" stroke-width="0.85"/>
<path d="M395.05 200.3v2.4M433.36 200.3v2.4M471.67 200.3v2.4M509.97 200.3v2.4M548.28 200.3v2.4M586.59 200.3v2.4M624.90 200.3v2.4M369.2 194.85h-2.4M369.2 151.55h-2.4M369.2 108.25h-2.4M369.2 64.95h-2.4M369.2 21.65h-2.4" stroke="#2a2a2a" stroke-width="0.85" fill="none"/>
<g font-family="Liberation Sans, sans-serif" font-size="8.1" fill="#000">
<text x="395.05" y="211.0" text-anchor="middle">0.4</text>
<text x="433.36" y="211.0" text-anchor="middle">0.5</text>
<text x="471.67" y="211.0" text-anchor="middle">0.6</text>
<text x="509.97" y="211.0" text-anchor="middle">0.7</text>
<text x="548.28" y="211.0" text-anchor="middle">0.8</text>
<text x="586.59" y="211.0" text-anchor="middle">0.9</text>
<text x="624.90" y="211.0" text-anchor="middle">1.0</text>
<text x="363.6" y="197.75" text-anchor="end">−0.2</text>
<text x="363.6" y="154.45" text-anchor="end">0.0</text>
<text x="363.6" y="111.15" text-anchor="end">0.2</text>
<text x="363.6" y="67.85" text-anchor="end">0.4</text>
<text x="363.6" y="24.55" text-anchor="end">0.6</text>
<text x="502.5" y="220.7" font-size="7.6" text-anchor="middle">HR1</text>
<text transform="translate(342.4,101.7) rotate(-90)" font-size="7.6" text-anchor="middle">HR2</text>
</g>
<g font-family="Liberation Serif, serif" font-size="15.2" fill="#111">
<text x="378.9" y="25.4" textLength="42.0" lengthAdjust="spacingAndGlyphs">Counts</text>
<text transform="translate(423.9,25.4) scale(1.2,1)">∼</text>
<text x="441.5" y="25.4" textLength="34.0" lengthAdjust="spacingAndGlyphs">10000</text>
<text x="378.9" y="43.2" textLength="16.5" lengthAdjust="spacingAndGlyphs">cos</text>
<text x="395.7" y="43.2">(</text>
<text x="400.7" y="43.2" font-style="italic">θ</text>
<text x="408.5" y="46.0" font-size="10.8" textLength="14.8" lengthAdjust="spacingAndGlyphs">inc</text>
<text x="423.0" y="43.2">)</text>
<text transform="translate(432.4,43.2) scale(1.27,1)">=</text>
<text x="446.7" y="43.2" textLength="25.3" lengthAdjust="spacingAndGlyphs">0.05</text>
</g>
<path d="M63.1 425.9h6m-3-3v6m-12-6.9h6m-3-3v6m-1.9 2.8h6m-3-3v6m-2.3-5.4h6m-3-3v6m-5-8.4h6m-3-3v6m2.7-.3h6m-3-3v6m-10.1-4.4h6m-3-3v6m-2.6-2.8h6m-3-3v6m-5.9 1.1h6m-3-3v6m3.5-3.5h6m-3-3v6m-5.5-4.4h6m-3-3v6m-1.3-1.2h6m-3-3v6m-.8-4.8h6m-3-3v6m-7.9-6.5h6m-3-3v6m-3.5-1.7h6m-3-3v6m-2.1-4.4h6m-3-3v6m4.3 .4h6m-3-3v6m-15.3-6.1h6m-3-3v6m-.7 0h6m-3-3v6m5.1-5.7h6m-3-3v6m-4.6-1.4h6m-3-3v6m-1.2 .6h6m-3-3v6m-5.8-4.4h6m-3-3v6m-4-5.5h6m-3-3v6m-6.9-1.4h6m-3-3v6m.6-4.6h6m-3-3v6m-3-2.5h6m-3-3v6m-6.2-3.8h6m-3-3v6m4.3-2.3h6m-3-3v6m-2.2-5.1h6m-3-3v6m-12.2-.1h6m-3-3v6m4.2-4.8h6m-3-3v6m-3.5 .6h6m-3-3v6m-1.5-5.4h6m-3-3v6m-6.8-6.4h6m-3-3v6m-2.8 1.3h6m-3-3v6m1.7-6.5h6m-3-3v6m-10.6-2.3h6m-3-3v6m2.9-6.5h6m-3-3v6m-9.6 7.3h6m-3-3v6m2.8-10.6h6m-3-3v6m-5.4 1.9h6m-3-3v6m-1-5.4h6m-3-3v6m-7.5-.7h6m-3-3v6m-.3-3h6m-3-3v6m-1.7-5.9h6m-3-3v6m.5-3h6m-3-3v6m-6.4-3.3h6m-3-3v6m-5.2-2.2h6m-3-3v6m-4.4-1.9h6m-3-3v6m3.5 .6h6m-3-3v6m-2.5-7.5h6m-3-3v6m-3-1.7h6m-3-3v6m-1.8-6.7h6m-3-3v6m-4.1-1.5h6m-3-3v6m-4.1-2.8h6m-3-3v6m-3.8-2.5h6m-3-3v6m-12.3-4.6h6m-3-3v6m2.5-.8h6m-3-3v6m-9.7-5.7h6m-3-3v6m2-.8h6m-3-3v6m.2-4.3h6m-3-3v6m-8.8-.5h6m-3-3v6m1-1.7h6m-3-3v6m-3.7-3.6h6m-3-3v6m-4.2-3.8h6m-3-3v6m.3-2.6h6m-3-3v6m-6.4-4.3h6m-3-3v6m-2.7-3.1h6m-3-3v6m1.8 4h6m-3-3v6m-4.9-8h6m-3-3v6m-2.8-2.1h6m-3-3v6m-1.8-3.2h6m-3-3v6m-3.3 0h6m-3-3v6m.4-12.1h6m-3-3v6m-6.6 1h6m-3-3v6m-11.3-5.1h6m-3-3v6m2.8-2.7h6m-3-3v6m-1.1-5.4h6m-3-3v6m-.9 2.7h6m-3-3v6m-4.3-5.4h6m-3-3v6m-4.2-3.3h6m-3-3v6m.8-.9h6m-3-3v6m-.2-4.9h6m-3-3v6m-4.8-3.5h6m-3-3v6m-8.4-4h6m-3-3v6m-.7-.8h6m-3-3v6m-2.7 .4h6m-3-3v6m-5.2-5.5h6m-3-3v6m.2-3.9h6m-3-3v6m-7.8-2.1h6m-3-3v6m.5-2.1h6m-3-3v6m-2-6.2h6m-3-3v6m-4.2 1.2h6m-3-3v6m-6-4.9h6m-3-3v6m-3.6-3.4h6m-3-3v6m4.8-3h6m-3-3v6m-11.9-2.6h6m-3-3v6m.9-1.3h6m-3-3v6m-8.2-7.5h6m-3-3v6m1.2-4.4h6m-3-3v6m1.1-4.1h6m-3-3v6m-9.6-1.8h6m-3-3v6m-2.4 2.1h6m-3-3v6m1.2-2.8h6m-3-3v6m-3-9.5h6m-3-3v6m-4-2.6h6m-3-3v6m-5.7 .2h6m-3-3v6m-3.1-1h6m-3-3v6m-3.9-.3h6m-3-3v6m1.7-4.2h6m-3-3v6m-2.5-3.6h6m-3-3v6m-5.6-.7h6m-3-3v6m-6.4-6.3h6m-3-3v6m.5-4.5h6m-3-3v6m-1.9-4.2h6m-3-3v6m-1.2 .4h6m-3-3v6m-5.6-3.1h6m-3-3v6m-6.7-8.6h6m-3-3v6m-1.5 .5h6m-3-3v6m7.1-3h6m-3-3v6m-7.8-.6h6m-3-3v6m.6-4.6h6m-3-3v6m-7.8-3.7h6m-3-3v6m-8.1-4.8h6m-3-3v6m-2.7 2.4h6m-3-3v6m.5-6.5h6m-3-3v6m-3.8-3.9h6m-3-3v6m-3.2-1.9h6m-3-3v6m-.7-.9h6m-3-3v6m-10.6-4.5h6m-3-3v6m6.9-5.7h6m-3-3v6m-8.3-.4h6m-3-3v6m1.4-2.1h6m-3-3v6m-7.3-3.2h6m-3-3v6m1.1-3.2h6m-3-3v6m-.3-3h6m-3-3v6m-12.6-5.6h6m-3-3v6m.1-1.8h6m-3-3v6m-.5-1.7h6m-3-3v6m.6-2h6m-3-3v6m-3.8-6.5h6m-3-3v6m-9.3 .2h6m-3-3v6m-1.3-3.1h6m-3-3v6m-2.5-5.8h6m-3-3v6m1.8 .9h6m-3-3v6m-13.7-6.8h6m-3-3v6m2.2-.2h6m-3-3v6m-3.3-7.5h6m-3-3v6m0-.4h6m-3-3v6" stroke="#1f77b4" stroke-opacity="0.62" stroke-width="1.0" fill="none"/>
<path d="M148.8 406.3h6m-3-3v6m-3.5-1.6h6m-3-3v6m-3.3-6.5h6m-3-3v6m-2.6-1.1h6m-3-3v6m-9.4-4.6h6m-3-3v6m-.5-.8h6m-3-3v6m-.1-7.1h6m-3-3v6m-2.9-.2h6m-3-3v6m-8-.7h6m-3-3v6m-2.1-8.3h6m-3-3v6m1.2 2.5h6m-3-3v6m-6.9-2.6h6m-3-3v6m1.6-7.1h6m-3-3v6m-.2-1.8h6m-3-3v6m-8-9.1h6m-3-3v6m-1.8 1.6h6m-3-3v6m-3.6-5.8h6m-3-3v6m-1 5.2h6m-3-3v6m-.9-14.4h6m-3-3v6m-6.6 5.5h6m-3-3v6m-13.1-5.7h6m-3-3v6m5.2 2.6h6m-3-3v6m-5.1-6.2h6m-3-3v6m-.8-2.6h6m-3-3v6m-4-1.6h6m-3-3v6m.8-8.9h6m-3-3v6m-2.5-1.4h6m-3-3v6m-6.9 1.9h6m-3-3v6m-2-4.4h6m-3-3v6m-1.1-3h6m-3-3v6m-6.7-7h6m-3-3v6m.5 1.5h6m-3-3v6m-3.9-5.5h6m-3-3v6m-1.6-2.6h6m-3-3v6m-9.3-2.2h6m-3-3v6m2.3-1.7h6m-3-3v6m-6.9-6.9h6m-3-3v6m.4-2.2h6m-3-3v6m-4.1 .5h6m-3-3v6m-1.7-.6h6m-3-3v6m-3.3-3.3h6m-3-3v6m-.8-.9h6m-3-3v6m-5.9-9.8h6m-3-3v6m.6-4.1h6m-3-3v6m-8-1h6m-3-3v6m-.6-7.3h6m-3-3v6m-3.4-.1h6m-3-3v6m-3.7-1.8h6m-3-3v6m-3.5-.6h6m-3-3v6m-1.1-6.3h6m-3-3v6m-4.1 .2h6m-3-3v6m-1-2.4h6m-3-3v6m-5.6-5.9h6m-3-3v6m3-3.5h6m-3-3v6m-3.9-.7h6m-3-3v6m-8.9-8.8h6m-3-3v6m0-1.2h6m-3-3v6m-6.8-5.6h6m-3-3v6m2.3 1.7h6m-3-3v6m-6.2-2.2h6m-3-3v6m-2.4-3.8h6m-3-3v6m-2.2-4h6m-3-3v6m-11.7-.3h6m-3-3v6m5.4-4.9h6m-3-3v6m.2-6.7h6m-3-3v6m-15.4 4.5h6m-3-3v6m6.2-11.1h6m-3-3v6m-5.3 2.8h6m-3-3v6m-5.2-3.1h6m-3-3v6m6.2-.9h6m-3-3v6m-9-5.7h6m-3-3v6m-5.5-3.5h6m-3-3v6m-1.3-5.9h6m-3-3v6m-5.8 4.5h6m-3-3v6m1-10.6h6m-3-3v6m-4.4 3.5h6m-3-3v6m2.6-8.4h6m-3-3v6m-6.9 .8h6m-3-3v6m-4.5-8.3h6m-3-3v6m-4.8 .1h6m-3-3v6m-2.4-6.4h6m-3-3v6m-1.5 2.8h6m-3-3v6m-.5-6h6m-3-3v6m.4-4.5h6m-3-3v6m-8.5-4.5h6m-3-3v6m-.6 .2h6m-3-3v6m-9.9-4.8h6m-3-3v6m6.7 1h6m-3-3v6m-7.7-2.6h6m-3-3v6m-7.7-7.4h6m-3-3v6m-2.3-3h6m-3-3v6m-.4 .5h6m-3-3v6m.9-1.8h6m-3-3v6m1.7-6.8h6m-3-3v6m-10.5-.5h6m-3-3v6m-5.3-5h6m-3-3v6m.4-4.6h6m-3-3v6m-2.8 2.5h6m-3-3v6m-7.4-12.1h6m-3-3v6m.3 .2h6m-3-3v6m-2.7-1.4h6m-3-3v6m-2.7 1h6m-3-3v6m-1.5-6.8h6m-3-3v6m-8.6-8.5h6m-3-3v6m-5.8 1.4h6m-3-3v6m3.3-2.8h6m-3-3v6m-4.9-5.3h6m-3-3v6m-5.9-3.4h6m-3-3v6m3.3-3.7h6m-3-3v6m-2.9-.2h6m-3-3v6m-3.4-.1h6m-3-3v6m-2.4-.5h6m-3-3v6m-7.3-8.6h6m-3-3v6m-2.1-2.5h6m-3-3v6m.1-1.3h6m-3-3v6m-4.9-1.7h6m-3-3v6m-4.3-1.2h6m-3-3v6m-6.8-5.3h6m-3-3v6m3.5-5.6h6m-3-3v6m-6.4 1.3h6m-3-3v6m-1.9-10.3h6m-3-3v6m-5.9 4.6h6m-3-3v6m-1.7-2.2h6m-3-3v6m3.3-6.9h6m-3-3v6m-5.3-4.7h6m-3-3v6m-5.7-2.6h6m-3-3v6m-.2-4.5h6m-3-3v6m-5 .4h6m-3-3v6m-1.2-8.6h6m-3-3v6m-9.5 .2h6m-3-3v6m1.4-.4h6m-3-3v6m-1.8 1.9h6m-3-3v6m-1.8-6.7h6m-3-3v6m-6.1-2.5h6m-3-3v6m.2-3.3h6m-3-3v6m-5.2-3.1h6m-3-3v6m1.5-6.7h6m-3-3v6m-13.2 1.2h6m-3-3v6m5-5.7h6m-3-3v6m-6.2 4.7h6m-3-3v6m-3.1-13.3h6m-3-3v6m-3 1.4h6m-3-3v6m-3.4-5.3h6m-3-3v6m-.5-3.1h6m-3-3v6m-3.5-2h6m-3-3v6m-6.3-2.7h6m-3-3v6m-3.2-.8h6m-3-3v6m-2.4-6h6m-3-3v6m-5.5-3.5h6m-3-3v6m-1.4 2h6m-3-3v6" stroke="#ff7f0e" stroke-opacity="0.62" stroke-width="1.0" fill="none"/>
<path d="M200.6 389.4h6m-3-3v6m-6.4-7.2h6m-3-3v6m.2-3.3h6m-3-3v6m-.2-.7h6m-3-3v6m-5.1-1.3h6m-3-3v6m-3.6-1.9h6m-3-3v6m-4.1-4h6m-3-3v6m.9-3.4h6m-3-3v6m-5.2-4.3h6m-3-3v6m-3.2-.6h6m-3-3v6m-3.6-8.6h6m-3-3v6m-2.2 .7h6m-3-3v6m-2.3-2.6h6m-3-3v6m-.7-5.9h6m-3-3v6m-8.3 1.4h6m-3-3v6m-3.1-3.8h6m-3-3v6m-.9-8.4h6m-3-3v6m-1.6 4.9h6m-3-3v6m-4-9.6h6m-3-3v6m-1.8-2.1h6m-3-3v6m-4.9 .4h6m-3-3v6m-4.3-8h6m-3-3v6m-1.7 .9h6m-3-3v6m-4.5-4.7h6m-3-3v6m.3-1.4h6m-3-3v6m-5.5-4.2h6m-3-3v6m-1.7-1.4h6m-3-3v6m-3.7-6.5h6m-3-3v6m-3.4-1.2h6m-3-3v6m-2.1 1.2h6m-3-3v6m-1.2-4.2h6m-3-3v6m-4.7-5.3h6m-3-3v6m-2.5-3.3h6m-3-3v6m-4.4-3.9h6m-3-3v6m-2.4-1.2h6m-3-3v6m.8-1.5h6m-3-3v6m-7.5-2.5h6m-3-3v6m-3.2-2.4h6m-3-3v6m-.4 1.4h6m-3-3v6m-6.8-10h6m-3-3v6m-1.1-2.1h6m-3-3v6m-1.3-6h6m-3-3v6m-5.9 0h6m-3-3v6m.4-6.3h6m-3-3v6m-8.1 2.3h6m-3-3v6m1.9-3.2h6m-3-3v6m-6.7-6h6m-3-3v6m-.6-1.5h6m-3-3v6m-3.7-4.1h6m-3-3v6m-.7-3.9h6m-3-3v6m-6.1-3h6m-3-3v6m-3-1.7h6m-3-3v6m-2.4-4.3h6m-3-3v6m.4-1.3h6m-3-3v6m-6.6-.8h6m-3-3v6m-3.4-5.9h6m-3-3v6m-2.1-4.3h6m-3-3v6m-3.6-1.5h6m-3-3v6m-5.1-4.1h6m-3-3v6m.4-1.5h6m-3-3v6m-2.9 1.8h6m-3-3v6m-2.3-8.7h6m-3-3v6m-4.6-2.7h6m-3-3v6m-1.9-3.7h6m-3-3v6m-.8-4.8h6m-3-3v6m-4.8 .7h6m-3-3v6m-6.5-2.8h6m-3-3v6m.4-5.9h6m-3-3v6m.5 .1h6m-3-3v6m-8.3-5.7h6m-3-3v6m-3.8-1.3h6m-3-3v6m-1.4-6.8h6m-3-3v6m-5.2-1.4h6m-3-3v6m-1.7-2.2h6m-3-3v6m-3.6-.7h6m-3-3v6m.3-4.3h6m-3-3v6m-9.3-3.6h6m-3-3v6m2.5-2.8h6m-3-3v6m-3.6-2.6h6m-3-3v6m-6.5-9h6m-3-3v6m1.2 1.6h6m-3-3v6m-3.4-2.5h6m-3-3v6m-4.2 .8h6m-3-3v6m-5-6.1h6m-3-3v6m-2.8-2.8h6m-3-3v6m.1-1.7h6m-3-3v6m-3.6-7.7h6m-3-3v6m-2.9 2.2h6m-3-3v6m-1.5-.1h6m-3-3v6m-3.8-10.2h6m-3-3v6m-5.2-.5h6m-3-3v6m.1-5.8h6m-3-3v6m-3.2 1.1h6m-3-3v6m-6.6-3.1h6m-3-3v6m-2.8-4.4h6m-3-3v6m-2-2.5h6m-3-3v6m-4.8-2.3h6m-3-3v6m-5-5.1h6m-3-3v6m.2 1.5h6m-3-3v6m-.8-7.7h6m-3-3v6m-5.8-1.8h6m-3-3v6m-2.5 2h6m-3-3v6m-7.3-8h6m-3-3v6m-2.3-.7h6m-3-3v6m.3-1.8h6m-3-3v6m-2.5-4.1h6m-3-3v6m-1.5-2.8h6m-3-3v6m-3.4-12.5h6m-3-3v6m-4.5 .2h6m-3-3v6m.3 1.8h6m-3-3v6m-4.8-3.2h6m-3-3v6m-2.6-5.3h6m-3-3v6m.5-1.2h6m-3-3v6m-7.3-6.8h6m-3-3v6m-3.9 .3h6m-3-3v6m-2.1-4.1h6m-3-3v6m-2.7-4.5h6m-3-3v6m-2.9-3.9h6m-3-3v6m-4.8-1.2h6m-3-3v6m.5-.2h6m-3-3v6m-4.6-6.7h6m-3-3v6m-3.9 1.4h6m-3-3v6m.3-8.2h6m-3-3v6m-6.4 .6h6m-3-3v6m-1.4-3.2h6m-3-3v6m-2.4-6.3h6m-3-3v6m-1.2-2.3h6m-3-3v6m-6 .8h6m-3-3v6m-.8-2.1h6m-3-3v6m-3.6-2.2h6m-3-3v6m-5-4.2h6m-3-3v6m.4-6.4h6m-3-3v6m-8.9-3.6h6m-3-3v6m2.6 2.2h6m-3-3v6m-6.5-5.3h6m-3-3v6m-1.4-1.2h6m-3-3v6m-7.7-6.7h6m-3-3v6m.3-.9h6m-3-3v6m-2.4-4.5h6m-3-3v6m-2.5-8.2h6m-3-3v6m2.5 4.8h6m-3-3v6m-7.3-6.4h6m-3-3v6m-4 3.2h6m-3-3v6m-.2-7.5h6m-3-3v6m-9.1-2.8h6m-3-3v6m-1.1-1.4h6m-3-3v6m-5-5.4h6m-3-3v6m.1-3.6h6m-3-3v6m-1.4-4.6h6m-3-3v6m-7.6-1.2h6m-3-3v6" stroke="#2ca02c" stroke-opacity="0.62" stroke-width="1.0" fill="none"/>
<path d="M237.9 371h6m-3-3v6m-6.3-.6h6m-3-3v6m-1.1-5.9h6m-3-3v6m-3.2-2.4h6m-3-3v6m-1.9-2.2h6m-3-3v6m-6.3-4.3h6m-3-3v6m-2.1-1.2h6m-3-3v6m-1.2-5.6h6m-3-3v6m-4.3-.5h6m-3-3v6m0-3.1h6m-3-3v6m-1.1-3.5h6m-3-3v6m-5.7-3.8h6m-3-3v6m-7-2h6m-3-3v6m.4-2.6h6m-3-3v6m-3.8-4.4h6m-3-3v6m-5.2-2.9h6m-3-3v6m-.1-.3h6m-3-3v6m-11.6-3.7h6m-3-3v6m7.1-1.6h6m-3-3v6m-4.7-4.3h6m-3-3v6m-4.9-4.7h6m-3-3v6m-.7-5.2h6m-3-3v6m-6.1-.1h6m-3-3v6m-4.2-3.4h6m-3-3v6m-3.3-2.6h6m-3-3v6m.4-4.7h6m-3-3v6m-5.2-2.9h6m-3-3v6m-6-2.7h6m-3-3v6m2.4 .5h6m-3-3v6m-4.4-6.1h6m-3-3v6m1.4 1.3h6m-3-3v6m-7.4-4.6h6m-3-3v6m.9-4.1h6m-3-3v6m-8-6.2h6m-3-3v6m.6 4.2h6m-3-3v6m-4.7-4.7h6m-3-3v6m1.7-9.2h6m-3-3v6m-8.7 3.1h6m-3-3v6m.6-5.2h6m-3-3v6m-5.3-2.8h6m-3-3v6m-4.4 1.2h6m-3-3v6m-4.2-12.5h6m-3-3v6m0 4.1h6m-3-3v6m-4.5-6.3h6m-3-3v6m-4.2-3h6m-3-3v6m-3-5.1h6m-3-3v6m-4-2h6m-3-3v6m4.7-1.9h6m-3-3v6m-6.9 2.1h6m-3-3v6m-4.9-10.2h6m-3-3v6m-.3-3.5h6m-3-3v6m-3.5 2.3h6m-3-3v6m-6.2-6.7h6m-3-3v6m3.4-4.2h6m-3-3v6m-8.5-.1h6m-3-3v6m-2.2-5.5h6m-3-3v6m1.5-2.4h6m-3-3v6m-6-2.6h6m-3-3v6m-4.3-5.1h6m-3-3v6m-.3-.9h6m-3-3v6m-2.2-4.6h6m-3-3v6m-7.1 .6h6m-3-3v6m-1.6-5.5h6m-3-3v6m-3.6-4.4h6m-3-3v6m-2.5-6h6m-3-3v6m-2.7 5.8h6m-3-3v6m-1.4-4.1h6m-3-3v6m-6-3.8h6m-3-3v6m-3-4.3h6m-3-3v6m-2.3-10.2h6m-3-3v6m-.6 5.4h6m-3-3v6m-3.2-6.1h6m-3-3v6m-3.3 .2h6m-3-3v6m-9.8-8h6m-3-3v6m2.3-.5h6m-3-3v6m-3.2-3h6m-3-3v6m.5-5.8h6m-3-3v6m-9.6-.9h6m-3-3v6m-3-2.2h6m-3-3v6m.1-4.6h6m-3-3v6m-2.1 2.8h6m-3-3v6m-1.3-1.4h6m-3-3v6m-2.9-7.5h6m-3-3v6m-1.5-1.4h6m-3-3v6m-2.8-5h6m-3-3v6m-12.2-5.1h6m-3-3v6m2.3 .8h6m-3-3v6m-3.9-2h6m-3-3v6m-5.2-6.8h6m-3-3v6m2-1.3h6m-3-3v6m-5.1 0h6m-3-3v6m-.7-7.9h6m-3-3v6m-5-5h6m-3-3v6m-3.5 1.6h6m-3-3v6m-7-.4h6m-3-3v6m5.6-5.3h6m-3-3v6m-5.5-.8h6m-3-3v6m-5.5-4h6m-3-3v6m-1.7-8.7h6m-3-3v6m-6-.9h6m-3-3v6m1.6-1.5h6m-3-3v6m-3.2-4.3h6m-3-3v6m-8.2 2.6h6m-3-3v6m6.2-6.7h6m-3-3v6m-9.7-1.2h6m-3-3v6m-5.1-6.1h6m-3-3v6m-3.8-1.5h6m-3-3v6m.9-4.9h6m-3-3v6m-5.1-5.5h6m-3-3v6m-3.4 3.1h6m-3-3v6m-1.9-2.9h6m-3-3v6m-4.2-6h6m-3-3v6m-2-3.4h6m-3-3v6m-.2-7h6m-3-3v6m-3.1 3.1h6m-3-3v6m-4.7-4.4h6m-3-3v6m-3.5-1.6h6m-3-3v6m-2.4-6.4h6m-3-3v6m-2.7 1h6m-3-3v6m-2.5-5.1h6m-3-3v6m-3.4-4.1h6m-3-3v6m-4.5-6.1h6m-3-3v6m-2.4 3.4h6m-3-3v6m-3.5-7.2h6m-3-3v6m0-.7h6m-3-3v6m-4.8-2.3h6m-3-3v6m-1.7-4.1h6m-3-3v6m-6.5 .9h6m-3-3v6m-1-8.5h6m-3-3v6m-2.7 1.3h6m-3-3v6m-6.6-2.7h6m-3-3v6m-.1-1.5h6m-3-3v6m-1.2-7.7h6m-3-3v6m-1.6 .1h6m-3-3v6m-6.7-5.3h6m-3-3v6m-3.4-1.5h6m-3-3v6m-5-5.4h6m-3-3v6m-4.7-1.3h6m-3-3v6m-3.2-6.6h6m-3-3v6m2.7-1.5h6m-3-3v6m-4.6-4.3h6m-3-3v6m-3.1-4.8h6m-3-3v6m-1.1 2.6h6m-3-3v6m-2-4.8h6m-3-3v6m-2-1.9h6m-3-3v6m-3.6-3.2h6m-3-3v6m-5.1-5.5h6m-3-3v6m-9.1 .1h6m-3-3v6m2.8-.1h6m-3-3v6m-7.3-5.5h6m-3-3v6" stroke="#d62728" stroke-opacity="0.62" stroke-width="1.0" fill="none"/>
<path d="M255.7 356.7h6m-3-3v6m-2.8-2.2h6m-3-3v6m-1.2-1.8h6m-3-3v6m-2.6-3.9h6m-3-3v6m-.5-2.9h6m-3-3v6m-6.1-1.4h6m-3-3v6m-2.9-4.9h6m-3-3v6m-3.5-5.3h6m-3-3v6m-8.9 0h6m-3-3v6m1.1-2.9h6m-3-3v6m3.5-7.5h6m-3-3v6m-5.1-.4h6m-3-3v6m-3.9-5.4h6m-3-3v6m-3.9 0h6m-3-3v6m0 1.3h6m-3-3v6m-5.4-8.4h6m-3-3v6m1.2-2.5h6m-3-3v6m-8-2.5h6m-3-3v6m-1.9-1.7h6m-3-3v6m-5.2-4.8h6m-3-3v6m2.3 .8h6m-3-3v6m-6.1-5.9h6m-3-3v6m-4.5-1.4h6m-3-3v6m-3.6-5h6m-3-3v6m-2.9-4.6h6m-3-3v6m-1.9-1.6h6m-3-3v6m-4.3-3.2h6m-3-3v6m-1.6-3.9h6m-3-3v6m-4.6-2.2h6m-3-3v6m0-.3h6m-3-3v6m-4.2-6h6m-3-3v6m-3.4 1.8h6m-3-3v6m-1-9.3h6m-3-3v6m-5.1-2.1h6m-3-3v6m-3.7-5.5h6m-3-3v6m-2.1-2.3h6m-3-3v6m-4.4 3.3h6m-3-3v6m.5-8.2h6m-3-3v6m-7.4-3.1h6m-3-3v6m-4.9-3.2h6m-3-3v6m.5-3.1h6m-3-3v6m-.7-.8h6m-3-3v6m-5.8 .9h6m-3-3v6m-.3-6.7h6m-3-3v6m-.5-.2h6m-3-3v6m-8.6-5.2h6m-3-3v6m-2.4-6.9h6m-3-3v6m2.1 3.5h6m-3-3v6m-10-5.2h6m-3-3v6m-3.8-1.8h6m-3-3v6m.5-6h6m-3-3v6m-.1-2.3h6m-3-3v6m-6.3-1h6m-3-3v6m-3.1-3.1h6m-3-3v6m-2.4-3.1h6m-3-3v6m-1.6-3.1h6m-3-3v6m-6.6-.6h6m-3-3v6m-1.1-3.2h6m-3-3v6m-4-7.5h6m-3-3v6m-2.2 .1h6m-3-3v6m-3.4-4.6h6m-3-3v6m-5.5-5h6m-3-3v6m.9-2.2h6m-3-3v6m-7.6-1.6h6m-3-3v6m-1 .2h6m-3-3v6m-1.3-2.3h6m-3-3v6m-1.1-7h6m-3-3v6m-5.5-4.3h6m-3-3v6m-1-7h6m-3-3v6m-1.8-1.3h6m-3-3v6m-5.7-6.5h6m-3-3v6m-1.5 4.7h6m-3-3v6m-3.3-3.9h6m-3-3v6m-4.5-3.4h6m-3-3v6m.5-4.3h6m-3-3v6m-4.6-.4h6m-3-3v6m-4.6-4.1h6m-3-3v6m-2-4.6h6m-3-3v6m1.9-2.9h6m-3-3v6m-4.6 .4h6m-3-3v6m-11.3-4.9h6m-3-3v6m3.8-1.7h6m-3-3v6m-7.3-4.2h6m-3-3v6m-3.6-5.9h6m-3-3v6m-.9-.3h6m-3-3v6m1.1-2.6h6m-3-3v6m-4.2-6.5h6m-3-3v6m-7.9-1.4h6m-3-3v6m3.4-4.9h6m-3-3v6m-10.4-.2h6m-3-3v6m3.2-6.5h6m-3-3v6m-6.2-2.4h6m-3-3v6m.8 1.6h6m-3-3v6m-5.7-4.6h6m-3-3v6m-4.1-2.6h6m-3-3v6m-3.9-5.3h6m-3-3v6m-4.1-1h6m-3-3v6m-2.3-1.1h6m-3-3v6m-5.9-3.7h6m-3-3v6m2.9-1.5h6m-3-3v6m-4.7-9.1h6m-3-3v6m-4.5 2.9h6m-3-3v6m-1.7-6.5h6m-3-3v6m-3.6-2.2h6m-3-3v6m-2.2-6.3h6m-3-3v6m-3.8 2.7h6m-3-3v6m1.6-5.5h6m-3-3v6m-7.4 .3h6m-3-3v6m-2.3-8.7h6m-3-3v6m-2.9 1.2h6m-3-3v6m.8-5.6h6m-3-3v6m-5.3-2.7h6m-3-3v6m-1.6-1.7h6m-3-3v6m-5-5.7h6m-3-3v6m-4.3-1.6h6m-3-3v6m-10.3-.3h6m-3-3v6m5-5.4h6m-3-3v6m-3.8-2.5h6m-3-3v6m-1.7-6h6m-3-3v6m-3.2 .2h6m-3-3v6m-3.2-6.6h6m-3-3v6m-3.4-2.5h6m-3-3v6m-1.9 2.8h6m-3-3v6m-1.8-6.7h6m-3-3v6m-6.2-3.5h6m-3-3v6m-1-3.2h6m-3-3v6m-5-7.2h6m-3-3v6m-3.7 .9h6m-3-3v6m-2.3 1.5h6m-3-3v6m-4.8-8.7h6m-3-3v6m1.3-2.2h6m-3-3v6m-4.7-.5h6m-3-3v6m-2.6-5.1h6m-3-3v6m-.9 2.1h6m-3-3v6m-7.3-7h6m-3-3v6m1.3-2.8h6m-3-3v6m-7.3-3.5h6m-3-3v6m1.1-4.3h6m-3-3v6m-4.3 .1h6m-3-3v6m-5.1-2.6h6m-3-3v6m0-2h6m-3-3v6m-2.4-8.6h6m-3-3v6m-3.1 1.7h6m-3-3v6m-2.8-6.2h6m-3-3v6m-3.2-.3h6m-3-3v6m-7.6-1h6m-3-3v6m-2.1-8.1h6m-3-3v6m-.4-2.1h6m-3-3v6m-3.1-2.2h6m-3-3v6m-3.2-.6h6m-3-3v6" stroke="#9467bd" stroke-opacity="0.62" stroke-width="1.0" fill="none"/>
<path d="M270 342.6h6m-3-3v6m-1.2-6.5h6m-3-3v6m-3 0h6m-3-3v6m-4.5-2h6m-3-3v6m.1-3.7h6m-3-3v6m-9.3-3.7h6m-3-3v6m-.3-4.4h6m-3-3v6m-2-3.1h6m-3-3v6m-.4-1.8h6m-3-3v6m-6.3-2h6m-3-3v6m-1.4-2.2h6m-3-3v6m-3.4-5.4h6m-3-3v6m-4-7.4h6m-3-3v6m-6.2 3.5h6m-3-3v6m-.7-1.4h6m-3-3v6m1.3-9.2h6m-3-3v6m-6 5.4h6m-3-3v6m-5.2-8.1h6m-3-3v6m-1.9-4.3h6m-3-3v6m-3.1-2.5h6m-3-3v6m-.9-4.6h6m-3-3v6m-3.5-2.8h6m-3-3v6m-3-.9h6m-3-3v6m-5.6-3.4h6m-3-3v6m-2.9-5h6m-3-3v6m.8-5h6m-3-3v6m-4.2 2.2h6m-3-3v6m-5.3-2.3h6m-3-3v6m0-7.8h6m-3-3v6m-3.8 .6h6m-3-3v6m-5.5-2.8h6m-3-3v6m0-5.6h6m-3-3v6m-8.6-.7h6m-3-3v6m-.4-7.4h6m-3-3v6m-2.3-4.3h6m-3-3v6m-2.9 4.9h6m-3-3v6m-8.1-5.1h6m-3-3v6m.9-4.8h6m-3-3v6m-3-.9h6m-3-3v6m-1.2-5.9h6m-3-3v6m-5.6-2.2h6m-3-3v6m2-4.6h6m-3-3v6m-4.5 .1h6m-3-3v6m-7.9-1.4h6m-3-3v6m1-.7h6m-3-3v6m.6-8.1h6m-3-3v6m-6.9-4.5h6m-3-3v6m-5.4 .7h6m-3-3v6m-.8-5.5h6m-3-3v6m-2.8-.8h6m-3-3v6m-.7-4.4h6m-3-3v6m-5.3-2.8h6m-3-3v6m1.6-7.4h6m-3-3v6m-9.6 2.2h6m-3-3v6m-.3-1.4h6m-3-3v6m-.6-1.5h6m-3-3v6m-7.4-5.8h6m-3-3v6m-1.8-2.3h6m-3-3v6m-2.1-3.1h6m-3-3v6m-5-4.5h6m-3-3v6m-2.5-3.9h6m-3-3v6m-2.9-4.6h6m-3-3v6m.3-.2h6m-3-3v6m-3.1-5.7h6m-3-3v6m-9.2-2.3h6m-3-3v6m.7 0h6m-3-3v6m-.5-2.1h6m-3-3v6m-2.1-4.1h6m-3-3v6m-5.9-6h6m-3-3v6m-1.8-2.5h6m-3-3v6m-6.1-.7h6m-3-3v6m-.9-2.5h6m-3-3v6m-4.9-2.3h6m-3-3v6m-.8-5.8h6m-3-3v6m-5.3-4.9h6m-3-3v6m-4.2 2.1h6m-3-3v6m-3.1-4.5h6m-3-3v6m-.6-5.5h6m-3-3v6m-3.5-2h6m-3-3v6m-.2-1.7h6m-3-3v6m-4.8-7h6m-3-3v6m-6.7 3.7h6m-3-3v6m-1.4-10.1h6m-3-3v6m1.4-2.8h6m-3-3v6m-3.8 2h6m-3-3v6m-4-3h6m-3-3v6m-6.4-7.5h6m-3-3v6m-.5-.5h6m-3-3v6m-2.8-2h6m-3-3v6m-4.3-8.3h6m-3-3v6m-.7 .9h6m-3-3v6m-2.1 1.7h6m-3-3v6m-4.6-6.1h6m-3-3v6m-5-2.3h6m-3-3v6m-.4-4.3h6m-3-3v6m-1.8-5.9h6m-3-3v6m-3.8 .3h6m-3-3v6m-.8-7.7h6m-3-3v6m-6.5 5.3h6m-3-3v6m-3.7-8.5h6m-3-3v6m1.5 3.1h6m-3-3v6m-6.4-9.6h6m-3-3v6m-4.5-2.4h6m-3-3v6m-3.5-3.8h6m-3-3v6m-.9-1.3h6m-3-3v6m-2.3-3h6m-3-3v6m-6.5-1.5h6m-3-3v6m0-5.8h6m-3-3v6m-4.1-1.1h6m-3-3v6m-2.3-3.9h6m-3-3v6m-1.6-.6h6m-3-3v6m-5.2-5.2h6m-3-3v6m-4.6-3.3h6m-3-3v6m.2-.9h6m-3-3v6m-3.6-4.9h6m-3-3v6m-4.8-2.4h6m-3-3v6m-3.8-3.2h6m-3-3v6m-.7-5.1h6m-3-3v6m-2.4-1.6h6m-3-3v6m-2.4-3.6h6m-3-3v6m-3.2 1.3h6m-3-3v6m-3.7-4.6h6m-3-3v6m-4.7-5.4h6m-3-3v6m-5.5-2.6h6m-3-3v6m-1.5-2.4h6m-3-3v6m-4.9-5h6m-3-3v6m1.4-.5h6m-3-3v6m-6.5-4.6h6m-3-3v6m5.6-.5h6m-3-3v6m-7.9-10.3h6m-3-3v6m-5.2 3.7h6m-3-3v6m-.7-3.1h6m-3-3v6m-1.5-3.8h6m-3-3v6m-3.2-6.9h6m-3-3v6m.4 .1h6m-3-3v6m-9.5 .7h6m-3-3v6m-.4-4.1h6m-3-3v6m-5.5-4.4h6m-3-3v6m-.3-5.9h6m-3-3v6m-4.9-1.2h6m-3-3v6m-3.1-3.9h6m-3-3v6m-5-.7h6m-3-3v6m.1-1.5h6m-3-3v6m-3.7-6.8h6m-3-3v6m-5.8-1.4h6m-3-3v6m-.7 1h6m-3-3v6m2.4-3.9h6m-3-3v6m-9.6-9.1h6m-3-3v6m-1.6-2h6m-3-3v6m.4-.9h6m-3-3v6" stroke="#8c564b" stroke-opacity="0.62" stroke-width="1.0" fill="none"/>
<path d="M275.9 329h6m-3-3v6m.4-4.9h6m-3-3v6m-4.6-3.8h6m-3-3v6m-4.4-1.7h6m-3-3v6m-2-1.3h6m-3-3v6m-1.1-1.9h6m-3-3v6m-6.7-7.1h6m-3-3v6m-3.5-1.2h6m-3-3v6m-1.8-3.7h6m-3-3v6m-.3 .5h6m-3-3v6m-5.8-5.9h6m-3-3v6m-2.9-2.1h6m-3-3v6m-2.6-6.2h6m-3-3v6m-3.8-3.6h6m-3-3v6m-2 2.3h6m-3-3v6m-5.3-4.1h6m-3-3v6m-2.1-4.7h6m-3-3v6m2.3 .2h6m-3-3v6m-6-5.7h6m-3-3v6m-3.2-2.5h6m-3-3v6m-2.9-4.5h6m-3-3v6m-4.1-1.9h6m-3-3v6m-5.7 1.3h6m-3-3v6m1.6-8.1h6m-3-3v6m-7.7-2.9h6m-3-3v6m-1.7-2.8h6m-3-3v6m-4.4-3.4h6m-3-3v6m.2-.5h6m-3-3v6m-7.2-3.8h6m-3-3v6m-.9-5.2h6m-3-3v6m-1.7-2.2h6m-3-3v6m-.9-.2h6m-3-3v6m-5-5.8h6m-3-3v6m1.3 2.2h6m-3-3v6m-5.9-7.1h6m-3-3v6m-1.7 .3h6m-3-3v6m-6.2-2.3h6m-3-3v6m-2.2-4.5h6m-3-3v6m-3.8-5.1h6m-3-3v6m-2.9-3.1h6m-3-3v6m.1-4.9h6m-3-3v6m-5.7 0h6m-3-3v6m-3.4 .1h6m-3-3v6m-5-2h6m-3-3v6m-1.4-6.2h6m-3-3v6m1.7-3.9h6m-3-3v6m-9.2-4.8h6m-3-3v6m0-1.2h6m-3-3v6m-1.1-1.8h6m-3-3v6m-2-7.3h6m-3-3v6m-4-4.6h6m-3-3v6m-4.7-1.6h6m-3-3v6m-7 1.1h6m-3-3v6m.6-2.9h6m-3-3v6m-6.2-7.6h6m-3-3v6m.1-1.8h6m-3-3v6m-2.7-2.9h6m-3-3v6m-3.8-4.1h6m-3-3v6m.4-1.3h6m-3-3v6m-8.2-.9h6m-3-3v6m.5-4h6m-3-3v6m-3.6-4.2h6m-3-3v6m-3.7-6.8h6m-3-3v6m-6-1h6m-3-3v6m.9 2.1h6m-3-3v6m-4-6.1h6m-3-3v6m-.3-3.2h6m-3-3v6m-3.9-1.3h6m-3-3v6m-7.2-3.3h6m-3-3v6m.2-6h6m-3-3v6m-5.6-3.3h6m-3-3v6m2 4.1h6m-3-3v6m-4.3-4.2h6m-3-3v6m-7.3-3.3h6m-3-3v6m3.9-2.6h6m-3-3v6m-9.1-4.1h6m-3-3v6m-1.3-3h6m-3-3v6m-4.1-5.2h6m-3-3v6m-2.8-2h6m-3-3v6m-2-1.7h6m-3-3v6m-1.1-4.5h6m-3-3v6m-4.8-4.5h6m-3-3v6m-2.9-.8h6m-3-3v6m-2.7-3.9h6m-3-3v6m-3.4-3.8h6m-3-3v6m-4.3-6.7h6m-3-3v6m-.4 2h6m-3-3v6m-6.2-.1h6m-3-3v6m-3.5-4.9h6m-3-3v6m0-4.5h6m-3-3v6m-1.1-1.7h6m-3-3v6m-5.4-7.1h6m-3-3v6m-5.6-.4h6m-3-3v6m2.9-1.6h6m-3-3v6m-6.4-4.1h6m-3-3v6m-1.5-.1h6m-3-3v6m-6-5.1h6m-3-3v6m-.8-6.1h6m-3-3v6m-5.7 1.2h6m-3-3v6m-.2-6.1h6m-3-3v6m-3.5-.5h6m-3-3v6m-3-1.7h6m-3-3v6m-3.8-8h6m-3-3v6m-2.6-3.3h6m-3-3v6m-3.5 1.5h6m-3-3v6m1.3-4.2h6m-3-3v6m-6.2-6.2h6m-3-3v6m-5.5-.3h6m-3-3v6m-.6-5h6m-3-3v6m-4.2 1.4h6m-3-3v6m0-6.1h6m-3-3v6m-4.6-.4h6m-3-3v6m-2.8-5.2h6m-3-3v6m-7-7.1h6m-3-3v6m-3.7-4.1h6m-3-3v6m1 2.4h6m-3-3v6m-4.8-2.8h6m-3-3v6m-.3-4.1h6m-3-3v6m-7 .2h6m-3-3v6m3-7.2h6m-3-3v6m-1.8-1.7h6m-3-3v6m-8.8-4h6m-3-3v6m-5.2-2.9h6m-3-3v6m-2.5 .2h6m-3-3v6m1.1-8.3h6m-3-3v6m-2.5-3.7h6m-3-3v6m-3.9 1.6h6m-3-3v6m-3.2-6.4h6m-3-3v6m-3.3-1h6m-3-3v6m-2.7 .5h6m-3-3v6m.4-2.8h6m-3-3v6m-7.8-7.9h6m-3-3v6m-1.7-.5h6m-3-3v6m-7.3-5.2h6m-3-3v6m5-4.3h6m-3-3v6m-8.3-1.9h6m-3-3v6m-.4-1.7h6m-3-3v6m-4.7-6h6m-3-3v6m-1 .2h6m-3-3v6m-5.7-3h6m-3-3v6m0-6.1h6m-3-3v6m-7.9-2.1h6m-3-3v6m-1.6-7.2h6m-3-3v6m-2.4 5.7h6m-3-3v6m-2.4-3.2h6m-3-3v6m-8.4-5.4h6m-3-3v6m6 .6h6m-3-3v6m-7-8.1h6m-3-3v6m-1.1-3.8h6m-3-3v6m-4.6-3.9h6m-3-3v6" stroke="#e377c2" stroke-opacity="0.62" stroke-width="1.0" fill="none"/>
<path d="M278.4 318.2h6m-3-3v6m.3-2.3h6m-3-3v6m-7.8-3.9h6m-3-3v6m-4.3-2.8h6m-3-3v6m-.8-2.1h6m-3-3v6m-.6-8.1h6m-3-3v6m-4.2 2.7h6m-3-3v6m-6.3-.5h6m-3-3v6m-1.9-1.8h6m-3-3v6m.1-6.2h6m-3-3v6m-4.1-2.9h6m-3-3v6m-5.7-6.8h6m-3-3v6m-5-.2h6m-3-3v6m-.3-2.5h6m-3-3v6m-.3-7.4h6m-3-3v6m-2.8 .3h6m-3-3v6m-4-2.6h6m-3-3v6m-3.5-3.9h6m-3-3v6m-.7-5.1h6m-3-3v6m-7.8-2.5h6m-3-3v6m1.7-2.1h6m-3-3v6m-1.1-8.8h6m-3-3v6m-8.5 2.5h6m-3-3v6m-1 .8h6m-3-3v6m-3.9-8h6m-3-3v6m-.9 2.4h6m-3-3v6m-10.1-5h6m-3-3v6m3-6h6m-3-3v6m-4.6-.6h6m-3-3v6m-2-4.2h6m-3-3v6m-5.5-1.8h6m-3-3v6m-1.9-3.4h6m-3-3v6m-2.9-2.8h6m-3-3v6m-.2-2.9h6m-3-3v6m-3.1-6.4h6m-3-3v6m-3.5 .5h6m-3-3v6m-5.3-4h6m-3-3v6m-7.5-2.5h6m-3-3v6m2-7.9h6m-3-3v6m-1.1 .4h6m-3-3v6m-3.5-2.1h6m-3-3v6m-2.5-2.4h6m-3-3v6m-4.6-2.1h6m-3-3v6m-.7-8.8h6m-3-3v6m-4.7 .5h6m-3-3v6m-5.4 1h6m-3-3v6m1.4-7.9h6m-3-3v6m-7.4 .9h6m-3-3v6m-2-5.4h6m-3-3v6m-5.8-2.6h6m-3-3v6m3.5-3.7h6m-3-3v6m-5.6 1.6h6m-3-3v6m-.9-3.6h6m-3-3v6m-3.5-3.5h6m-3-3v6m-7.8-7.3h6m-3-3v6m-3 3.4h6m-3-3v6m.8-7.9h6m-3-3v6m-4.9-4.9h6m-3-3v6m-7.3 3.9h6m-3-3v6m2.7-7.6h6m-3-3v6m-5.8-3.3h6m-3-3v6m.7-3h6m-3-3v6m-2.4-4.6h6m-3-3v6m-3.7 .6h6m-3-3v6m-2.5-4h6m-3-3v6m-4.4-5.9h6m-3-3v6m-1.6-1.8h6m-3-3v6m-6.1-.5h6m-3-3v6m-4.4-5.8h6m-3-3v6m2 .1h6m-3-3v6m-5.4-4.8h6m-3-3v6m-1.1-3.3h6m-3-3v6m-5.8-1.9h6m-3-3v6m-1-3.7h6m-3-3v6m-1-2.6h6m-3-3v6m-6.3-3.3h6m-3-3v6m2-4.9h6m-3-3v6m-7.6-3.1h6m-3-3v6m-1.7-4h6m-3-3v6m-2.8 1.3h6m-3-3v6m-5.6-6.4h6m-3-3v6m-4.5-1.2h6m-3-3v6m-2.2-4.4h6m-3-3v6m-1.5-3.1h6m-3-3v6m-.4 1.8h6m-3-3v6m-9.2-8.1h6m-3-3v6m2-3.5h6m-3-3v6m-4.7-.3h6m-3-3v6m1.1-1h6m-3-3v6m-6.6-5.2h6m-3-3v6m-3.1-3.6h6m-3-3v6m-4.7-6.4h6m-3-3v6m-1.3 2.8h6m-3-3v6m-.6-9h6m-3-3v6m-5-.4h6m-3-3v6m-2-3.9h6m-3-3v6m-1.7-1.2h6m-3-3v6m-3.7-.7h6m-3-3v6m-8.3-5.3h6m-3-3v6m4.2-2.5h6m-3-3v6m-4-2.2h6m-3-3v6m-6.2-3.2h6m-3-3v6m.3-.9h6m-3-3v6m-2.2-8.1h6m-3-3v6m-4.3-3.5h6m-3-3v6m-5-.6h6m-3-3v6m-1.4-1.9h6m-3-3v6m-1.7-4.9h6m-3-3v6m-3.9-.9h6m-3-3v6m-4.7-6.4h6m-3-3v6m-1.8 .2h6m-3-3v6m-2.6-3.7h6m-3-3v6m-5.2-2.1h6m-3-3v6m-1.5-2.4h6m-3-3v6m0-5.7h6m-3-3v6m-2.7-7.9h6m-3-3v6m-5.2 1.4h6m-3-3v6m-.8-3.1h6m-3-3v6m-5-3.2h6m-3-3v6m-7.6 .7h6m-3-3v6m1.2-6.1h6m-3-3v6m.2-2.2h6m-3-3v6m-4.8-4.5h6m-3-3v6m-8.3-.6h6m-3-3v6m-3.1-2.3h6m-3-3v6m-5.3-3.6h6m-3-3v6m.3-5.3h6m-3-3v6m-1.4-1.5h6m-3-3v6m-4.4-.8h6m-3-3v6m-1.4-3.9h6m-3-3v6m-.9-4h6m-3-3v6m-4-3.7h6m-3-3v6m-3.5-1h6m-3-3v6m-5.4-7.3h6m-3-3v6m-4.5-1.8h6m-3-3v6m.8-1.3h6m-3-3v6m-4.8-1.7h6m-3-3v6m-.8-1.1h6m-3-3v6m-5.8-4.8h6m-3-3v6m-.3-6.1h6m-3-3v6m-4.2-2.9h6m-3-3v6m-3.7-.3h6m-3-3v6m-6.1-5.7h6m-3-3v6m-1.1-.9h6m-3-3v6m-2.9-2.5h6m-3-3v6m-3.2-4.8h6m-3-3v6m0-1.3h6m-3-3v6m-3.9-3.7h6m-3-3v6m-1.2-.1h6m-3-3v6m-5.9-7.3h6m-3-3v6" stroke="#7f7f7f" stroke-opacity="0.62" stroke-width="1.0" fill="none"/>
<path d="M275.4 311.6h6m-3-3v6m-2.7-9.4h6m-3-3v6m-.6 2h6m-3-3v6m-6.1-5.5h6m-3-3v6m-3.5-4.2h6m-3-3v6m3.4-1.2h6m-3-3v6m-6.9-3.2h6m-3-3v6m-1.9-3.3h6m-3-3v6m-6-5.3h6m-3-3v6m3.6-2.1h6m-3-3v6m-4.7-2.9h6m-3-3v6m-2.7-.1h6m-3-3v6m-6.2-.2h6m-3-3v6m-4.5-7.7h6m-3-3v6m-2.8-4.1h6m-3-3v6m-2-3.4h6m-3-3v6m-2.9 2.3h6m-3-3v6m-6-8.9h6m-3-3v6m-1.3-1.4h6m-3-3v6m1.1-.5h6m-3-3v6m-4.2-4.1h6m-3-3v6m1-5.8h6m-3-3v6m-10.4-.7h6m-3-3v6m-.1-3.4h6m-3-3v6m-5.2-5.3h6m-3-3v6m-1.8-1.7h6m-3-3v6m-3.5-3.8h6m-3-3v6m.8 .2h6m-3-3v6m-1.9-5h6m-3-3v6m-6.7-2.4h6m-3-3v6m-3.1-3.1h6m-3-3v6m-3.4-6.5h6m-3-3v6m-3.2 2.5h6m-3-3v6m-6.5-5.2h6m-3-3v6m2.2 .4h6m-3-3v6m-4.3-4.7h6m-3-3v6m.8-1.2h6m-3-3v6m-7.6-7h6m-3-3v6m.1-1.3h6m-3-3v6m-6.3-3.9h6m-3-3v6m-1.2-2.9h6m-3-3v6m-4.2-3.1h6m-3-3v6m-5.6 1.1h6m-3-3v6m2.7-3.5h6m-3-3v6m-5.8-5.9h6m-3-3v6m-1.6-1.5h6m-3-3v6m-8-4h6m-3-3v6m-1.2-3.9h6m-3-3v6m-2.3 .7h6m-3-3v6m-.5-6.6h6m-3-3v6m-1.2-3.1h6m-3-3v6m-7.5-3.2h6m-3-3v6m-2.2-2.5h6m-3-3v6m-.5-3.4h6m-3-3v6m-4.9-.6h6m-3-3v6m-2.3-3.1h6m-3-3v6m-3.3-7.7h6m-3-3v6m-5.6-3.8h6m-3-3v6m1.7 1.3h6m-3-3v6m-6.3-5.9h6m-3-3v6m-1.3-1.2h6m-3-3v6m-3.1-4.5h6m-3-3v6m-6 2h6m-3-3v6m-2.6-6.3h6m-3-3v6m1.7-6.7h6m-3-3v6m-4.3 .9h6m-3-3v6m-4.8-2.6h6m-3-3v6m-5.1-8.2h6m-3-3v6m3.4 1.1h6m-3-3v6m-5.1-.1h6m-3-3v6m-4.3-4.4h6m-3-3v6m-2.1-.6h6m-3-3v6m-3.4-3.7h6m-3-3v6m-4.7-6.5h6m-3-3v6m-2.2-1.3h6m-3-3v6m-2 .2h6m-3-3v6m-2.4-6.9h6m-3-3v6m-.6-2.4h6m-3-3v6m-6.4-2.7h6m-3-3v6m-4.4-6.3h6m-3-3v6m-2.1-1.4h6m-3-3v6m-5-2.1h6m-3-3v6m-1.7-4.4h6m-3-3v6m-6.2-2.2h6m-3-3v6m4.3-.8h6m-3-3v6m-4.4-4.9h6m-3-3v6m-3.1-4.3h6m-3-3v6m-6.1-.5h6m-3-3v6m-5-4h6m-3-3v6m.6 .4h6m-3-3v6m-5.1-5.6h6m-3-3v6m-2.9-5h6m-3-3v6m-7.3-3.9h6m-3-3v6m5 .1h6m-3-3v6m-5 1h6m-3-3v6m-2.2-10.7h6m-3-3v6m-4.6-.5h6m-3-3v6m.8-4.8h6m-3-3v6m-5.5 .9h6m-3-3v6m-5.5-4.8h6m-3-3v6m-5.5-3h6m-3-3v6m-3.4-4h6m-3-3v6m5.1-1.4h6m-3-3v6m-6.4-3.5h6m-3-3v6m1.3-2.2h6m-3-3v6m-5.3-5h6m-3-3v6m-6-4.3h6m-3-3v6m-2.5-2.3h6m-3-3v6m-.6-.2h6m-3-3v6m-5.3-5.4h6m-3-3v6m-8.7-3.1h6m-3-3v6m3.6-.4h6m-3-3v6m-10-9.4h6m-3-3v6m3.7-.2h6m-3-3v6m-3.8-1.8h6m-3-3v6m-1.3-5.9h6m-3-3v6m-5.4 2.8h6m-3-3v6m-1.4-6.6h6m-3-3v6m-2.5-.7h6m-3-3v6m-5.8-2.2h6m-3-3v6m.3-4.7h6m-3-3v6m-2.5-5.1h6m-3-3v6m-3.4-1h6m-3-3v6m-6.5-3.8h6m-3-3v6m1.4-3h6m-3-3v6m-6.2-3.2h6m-3-3v6m-3.9 .4h6m-3-3v6m3.3-2.2h6m-3-3v6m-6.6-4.2h6m-3-3v6m-4.8-5.6h6m-3-3v6m-4.7 1h6m-3-3v6m-1.2-7.5h6m-3-3v6m-3.7-1.1h6m-3-3v6m-2.8-3.4h6m-3-3v6m-1.5-.2h6m-3-3v6m-5.9-5.2h6m-3-3v6m-1.9-4.5h6m-3-3v6m1.8-.8h6m-3-3v6m-7.1-3.3h6m-3-3v6m-2.3-1.7h6m-3-3v6m-3.9-4.3h6m-3-3v6m-2.5-4h6m-3-3v6m-2.9-4.3h6m-3-3v6m-2.4 .3h6m-3-3v6m-4.5-5.8h6m-3-3v6m-1-3.8h6m-3-3v6m-1.9 .1h6m-3-3v6m-9.6-5.9h6m-3-3v6m-.5 .1h6m-3-3v6m1.2-7.2h6m-3-3v6" stroke="#bcbd22" stroke-opacity="0.62" stroke-width="1.0" fill="none"/>
<path d="M273 298.1h6m-3-3v6m-2.4-1.3h6m-3-3v6m-.2-3.3h6m-3-3v6m-2.7-2.3h6m-3-3v6m-5.5-5.8h6m-3-3v6m-4.3-.4h6m-3-3v6m.3-2.6h6m-3-3v6m-5.5-5.9h6m-3-3v6m-1.8 .4h6m-3-3v6m-2.8-5.1h6m-3-3v6m-5.4-2.6h6m-3-3v6m-.2-5.9h6m-3-3v6m-.5-2.9h6m-3-3v6m-4.7-1.5h6m-3-3v6m-4.6-4.2h6m-3-3v6m-4.5 0h6m-3-3v6m-2.2-5.1h6m-3-3v6m-.8-.8h6m-3-3v6m-4.5-4h6m-3-3v6m.3-3.9h6m-3-3v6m-5.8-1.7h6m-3-3v6m-6.7-7.9h6m-3-3v6m.2 2.8h6m-3-3v6m-2.9-5.9h6m-3-3v6m-4.8-.2h6m-3-3v6m-2.2-8h6m-3-3v6m-1 .8h6m-3-3v6m-3.6-1.4h6m-3-3v6m-1.1-3.9h6m-3-3v6m-6.1-8.6h6m-3-3v6m-2 1.1h6m-3-3v6m-.9-.1h6m-3-3v6m-4.7-2.8h6m-3-3v6m-4.2-5.9h6m-3-3v6m-4.5-3.5h6m-3-3v6m-.9-.2h6m-3-3v6m-4.9-3.5h6m-3-3v6m3.3-7.5h6m-3-3v6m-8.3-.2h6m-3-3v6m-.4 1.1h6m-3-3v6m-2.5-7.2h6m-3-3v6m-7.4-3h6m-3-3v6m-1.3-2.4h6m-3-3v6m-4.7-.4h6m-3-3v6m-2.7-4.7h6m-3-3v6m-1.1-6.7h6m-3-3v6m-3.3-.7h6m-3-3v6m-3.5-1.3h6m-3-3v6m-3.6 .6h6m-3-3v6m.3-10.2h6m-3-3v6m-10.5 1.5h6m-3-3v6m2.7-5.4h6m-3-3v6m-5.5-6.2h6m-3-3v6m-4.9 5.3h6m-3-3v6m4.2-9.5h6m-3-3v6m-2.4-5.7h6m-3-3v6m-5.5 2.3h6m-3-3v6m-6.2-5.4h6m-3-3v6m-3.4-1.9h6m-3-3v6m1.9-1.1h6m-3-3v6m-4.8-2.7h6m-3-3v6m-7.6-1.1h6m-3-3v6m.6-10h6m-3-3v6m-3.7-1.6h6m-3-3v6m-2-1h6m-3-3v6m-8.1-1h6m-3-3v6m5.5-7.8h6m-3-3v6m-3.5 1.8h6m-3-3v6m-4-2.2h6m-3-3v6m-8-4.9h6m-3-3v6m-2.2 .4h6m-3-3v6m-2.9-10.5h6m-3-3v6m1.3 .9h6m-3-3v6m-5.3-4h6m-3-3v6m-1.7 .3h6m-3-3v6m-5.8-7.8h6m-3-3v6m-2.7-2h6m-3-3v6m-1.8-5.5h6m-3-3v6m-2.4-3h6m-3-3v6m-4.3-.8h6m-3-3v6m-2.8 .6h6m-3-3v6m.9-3.9h6m-3-3v6m-3.1-5.8h6m-3-3v6m-3.4-2.5h6m-3-3v6m-5.4-2.4h6m-3-3v6m-6.3-4.8h6m-3-3v6m-.6-1h6m-3-3v6m-2.9-5.5h6m-3-3v6m-5.2-1.2h6m-3-3v6m-3-5.5h6m-3-3v6m-.7-.2h6m-3-3v6m-4.6-7.1h6m-3-3v6m-.6 2.5h6m-3-3v6m-4.5-5.5h6m-3-3v6m-7-.3h6m-3-3v6m-.4-3.4h6m-3-3v6m-2-4.8h6m-3-3v6m-2.1-6.5h6m-3-3v6m3.1-2.5h6m-3-3v6m-8.5-1.4h6m-3-3v6m-3.7 1.6h6m-3-3v6m-6.4-6.2h6m-3-3v6m1.9-2.5h6m-3-3v6m-3.2-4.8h6m-3-3v6m-7.3-4.2h6m-3-3v6m-.4 1.3h6m-3-3v6m-2-1.2h6m-3-3v6m-2.9-5.9h6m-3-3v6m-2.8-7.1h6m-3-3v6m-2.2-1.7h6m-3-3v6m-5 4.3h6m-3-3v6m-4.8-7.7h6m-3-3v6m.2-3h6m-3-3v6m-3.6-4.4h6m-3-3v6m1.2-6h6m-3-3v6m-9.4 4.3h6m-3-3v6m.3-7.7h6m-3-3v6m-6-2h6m-3-3v6m4.4-1.4h6m-3-3v6m-10.7-3.5h6m-3-3v6m-2.1-.4h6m-3-3v6m-1.1-3.5h6m-3-3v6m-3.3-1.4h6m-3-3v6m-2.5-6.6h6m-3-3v6m-6-4.5h6m-3-3v6m0-3.2h6m-3-3v6m1.4-2h6m-3-3v6m-9.8-.9h6m-3-3v6m-2.5-4.2h6m-3-3v6m-2.1-5.3h6m-3-3v6m.1-1.3h6m-3-3v6m-3.6-3.9h6m-3-3v6m-8.3-4.9h6m-3-3v6m-1.1-.8h6m-3-3v6m-1.8-1.6h6m-3-3v6m-5.7-3.6h6m-3-3v6m-3-4.9h6m-3-3v6m5 1.1h6m-3-3v6m-9.2-1.9h6m-3-3v6m.8-4.9h6m-3-3v6m-2.9-5.4h6m-3-3v6m-6.4-4.2h6m-3-3v6m-1.5-3.9h6m-3-3v6m-5.3 .6h6m-3-3v6m-3-3.2h6m-3-3v6m1.9-5.8h6m-3-3v6m-3.9-2.4h6m-3-3v6m-7.9-1.1h6m-3-3v6m1.1-4.9h6m-3-3v6m-6.7-2.5h6m-3-3v6" stroke="#17becf" stroke-opacity="0.62" stroke-width="1.0" fill="none"/>
<path d="M269 291.4h6m-3-3v6m-3-4h6m-3-3v6m-.7-3.3h6m-3-3v6m-1.4-3.6h6m-3-3v6m-7 2.7h6m-3-3v6m1.8-7.1h6m-3-3v6m-4.4-2.4h6m-3-3v6m-5.8-2.3h6m-3-3v6m-1.3-1.7h6m-3-3v6m-7.5-4h6m-3-3v6m1.2-6.2h6m-3-3v6m-4.3-2.4h6m-3-3v6m-4.9-3.3h6m-3-3v6m1.5-5h6m-3-3v6m-5.5-4.8h6m-3-3v6m-3.4 2.8h6m-3-3v6m-1.9-3.7h6m-3-3v6m-5.2-1.9h6m-3-3v6m-2.6-2.3h6m-3-3v6m-.6-5.7h6m-3-3v6m-.4-3.1h6m-3-3v6m-3.9-1.9h6m-3-3v6m-5.2-1.1h6m-3-3v6m-2.1-5.1h6m-3-3v6m-4.1-2.6h6m-3-3v6m-2.6-4.1h6m-3-3v6m-5.4-7.8h6m-3-3v6m-1 2h6m-3-3v6m-.2-1.6h6m-3-3v6m-3.2-.3h6m-3-3v6m-5.6-8.4h6m-3-3v6m-1.1-2.5h6m-3-3v6m-5.2 1.3h6m-3-3v6m-1.3-3.7h6m-3-3v6m-7-5.3h6m-3-3v6m2.2-5.7h6m-3-3v6m-5 .5h6m-3-3v6m-8.2-.5h6m-3-3v6m.3-6.6h6m-3-3v6m2.1-6.5h6m-3-3v6m-5.6-.2h6m-3-3v6m-3.9-3.7h6m-3-3v6m-.2-3.7h6m-3-3v6m-5.1 .5h6m-3-3v6m-4-4.7h6m-3-3v6m-3.3-.3h6m-3-3v6m-1.5-5.3h6m-3-3v6m-6.3-2.5h6m-3-3v6m.4-3.4h6m-3-3v6m-1.1-6.9h6m-3-3v6m-.7 .6h6m-3-3v6m-10.7-6.3h6m-3-3v6m1.3 1.9h6m-3-3v6m-5.3-4.3h6m-3-3v6m-2.2-3.8h6m-3-3v6m-.9-.8h6m-3-3v6m-5.7-7.8h6m-3-3v6m.1-.5h6m-3-3v6m-8 .7h6m-3-3v6m.2-10h6m-3-3v6m-7.6 .4h6m-3-3v6m-2.1-2.4h6m-3-3v6m5.1 3.5h6m-3-3v6m-8.6-7.5h6m-3-3v6m-1-5h6m-3-3v6m-8-.5h6m-3-3v6m-.2-4.3h6m-3-3v6m-1.2-5.6h6m-3-3v6m-.9-1.2h6m-3-3v6m-6.1-4h6m-3-3v6m-2 0h6m-3-3v6m-5.6-3.9h6m-3-3v6m-2.8-6.8h6m-3-3v6m-2.8 .9h6m-3-3v6m-1.1-2h6m-3-3v6m-5.6-5.9h6m-3-3v6m-1.4-1.1h6m-3-3v6m-3.4-6.3h6m-3-3v6m-6 1.5h6m-3-3v6m2.5-6.9h6m-3-3v6m-2.1-1.7h6m-3-3v6m-5.2-.2h6m-3-3v6m-5-7.3h6m-3-3v6m-5.6-.8h6m-3-3v6m1.6-1.8h6m-3-3v6m-2.7-4.6h6m-3-3v6m-1.8-5.4h6m-3-3v6m-4.6 .3h6m-3-3v6m-4.1-.5h6m-3-3v6m-1.8-3.8h6m-3-3v6m-2.1-6.2h6m-3-3v6m-.8-.3h6m-3-3v6m-7-5.5h6m-3-3v6m-5.2-3.1h6m-3-3v6m-1.3-2.3h6m-3-3v6m-3.4-2.2h6m-3-3v6m-2.3-7.5h6m-3-3v6m-3.9-1.6h6m-3-3v6m-4.6-1.6h6m-3-3v6m1.6-4.9h6m-3-3v6m-9.2-.9h6m-3-3v6m7.6-3.9h6m-3-3v6m-8.8-2.7h6m-3-3v6m-1.7 .9h6m-3-3v6m-5.2-3.5h6m-3-3v6m-4.9-5.1h6m-3-3v6m-3.4-3h6m-3-3v6m-1.6-2.9h6m-3-3v6m-4.1-3h6m-3-3v6m-.4-4.7h6m-3-3v6m-4.9-4.3h6m-3-3v6m-2.2 .4h6m-3-3v6m-2.4-3.6h6m-3-3v6m-.1-4h6m-3-3v6m-5-.5h6m-3-3v6m-2.5-4h6m-3-3v6m-4 .3h6m-3-3v6m-3.3-7.9h6m-3-3v6m-1.6 1.3h6m-3-3v6m-1.2-6.4h6m-3-3v6m-4.3-2h6m-3-3v6m-4.6-2.7h6m-3-3v6m-1.8-4.1h6m-3-3v6m-.7-4.1h6m-3-3v6m-3.7 2.2h6m-3-3v6m-1.5-6.8h6m-3-3v6m-7.8-6.9h6m-3-3v6m-2.7 5.5h6m-3-3v6m-6.2-11.4h6m-3-3v6m2 1.5h6m-3-3v6m-8.6-4.4h6m-3-3v6m1.6-6.1h6m-3-3v6m-1.7-2.6h6m-3-3v6m-2.6 .3h6m-3-3v6m-6.9-6.9h6m-3-3v6m-2.2 .2h6m-3-3v6m-2.6-4h6m-3-3v6m-3.2 .1h6m-3-3v6m-4.4-5.3h6m-3-3v6m-.2-2.6h6m-3-3v6m-2.1 .3h6m-3-3v6m-5.6-5.8h6m-3-3v6m-8.4-4.2h6m-3-3v6m4.6-4.6h6m-3-3v6m-1.6-4.7h6m-3-3v6m-3-.1h6m-3-3v6m-8-2.9h6m-3-3v6m-1.4-4.1h6m-3-3v6m-5.3-2h6m-3-3v6m1.9-1h6m-3-3v6" stroke="#1f77b4" stroke-opacity="0.62" stroke-width="1.0" fill="none"/>
<path d="M268 282.3h6m-3-3v6m-6.5-2.5h6m-3-3v6m-2-1.3h6m-3-3v6m.4-2.5h6m-3-3v6m-6.3-1.6h6m-3-3v6m-5-8.6h6m-3-3v6m0 .1h6m-3-3v6m-4.1-1.4h6m-3-3v6m-4-5.2h6m-3-3v6m-1.5-1.4h6m-3-3v6m-1.7-4.1h6m-3-3v6m-4.5-8.4h6m-3-3v6m-1-1.2h6m-3-3v6m-5.7 5.7h6m-3-3v6m-3.6-11.7h6m-3-3v6m1.1-.8h6m-3-3v6m-6.7-2.2h6m-3-3v6m-1.2-1h6m-3-3v6m-4.8-2.3h6m-3-3v6m-4.6-4h6m-3-3v6m-2.4-2.9h6m-3-3v6m-3.1-5.4h6m-3-3v6m1.5-4.4h6m-3-3v6m-8.6 .5h6m-3-3v6m-1.1-5.1h6m-3-3v6m-2.7 2.4h6m-3-3v6m-4.9-8.1h6m-3-3v6m-.5-4.4h6m-3-3v6m-3.4 0h6m-3-3v6m-4.8-1.6h6m-3-3v6m-3.5-5.7h6m-3-3v6m.1 4h6m-3-3v6m-7.4-9.1h6m-3-3v6m6-4.8h6m-3-3v6m-6-1.3h6m-3-3v6m-8.3-2.7h6m-3-3v6m-1.9-3.6h6m-3-3v6m-4.3-1.7h6m-3-3v6m-4.9-4.9h6m-3-3v6m4.8-1.5h6m-3-3v6m-6.5-4.6h6m-3-3v6m-3.1 3.2h6m-3-3v6m-2.2-8.7h6m-3-3v6m-4.5-4h6m-3-3v6m-.1-3.3h6m-3-3v6m-6-2.9h6m-3-3v6m-2.1-1.4h6m-3-3v6m-3.2-3.8h6m-3-3v6m-3.6 0h6m-3-3v6m-1.2-6.3h6m-3-3v6m-2.6-2.4h6m-3-3v6m-6.9-3.3h6m-3-3v6m3.7-1.5h6m-3-3v6m-4-5.5h6m-3-3v6m-8.5-3.1h6m-3-3v6m2.9-3.6h6m-3-3v6m-7.5 1.4h6m-3-3v6m-1.9-5.7h6m-3-3v6m-1.6-2.4h6m-3-3v6m-4.5-2.7h6m-3-3v6m-3.8-3.6h6m-3-3v6m-.2-5.1h6m-3-3v6m-4.8-3.2h6m-3-3v6m-1 .7h6m-3-3v6m-2.5-2.1h6m-3-3v6m-2.9-3.7h6m-3-3v6m-6.8-2.5h6m-3-3v6m-3.2-.1h6m-3-3v6m-.5-6.7h6m-3-3v6m-6.2-1.9h6m-3-3v6m2-8.6h6m-3-3v6m-6.6-.7h6m-3-3v6m-3.2 .9h6m-3-3v6m2.9-8.1h6m-3-3v6m-5.3-1.4h6m-3-3v6m-2.4-7.5h6m-3-3v6m-6.7 4.7h6m-3-3v6m-3.7-3.1h6m-3-3v6m-2.5-3.1h6m-3-3v6m-.7-6.3h6m-3-3v6m-5.8-2.5h6m-3-3v6m1-2.6h6m-3-3v6m-6.8 4h6m-3-3v6m-4.9-10.5h6m-3-3v6m1.4-4.7h6m-3-3v6m-4.2-1.7h6m-3-3v6m-6-1.1h6m-3-3v6m-2.3-5.6h6m-3-3v6m2-3.8h6m-3-3v6m-4.4 1.9h6m-3-3v6m-2.1-4.5h6m-3-3v6m-5.6-7h6m-3-3v6m-2.2 .9h6m-3-3v6m-4.4-6h6m-3-3v6m-.1-3.1h6m-3-3v6m-3.9-1.8h6m-3-3v6m-7.5 1.4h6m-3-3v6m1.8-5.3h6m-3-3v6m-7.2-4.4h6m-3-3v6m.5-4.3h6m-3-3v6m-.1-5.7h6m-3-3v6m-5-2.7h6m-3-3v6m-7.8-1.7h6m-3-3v6m1.5-1.9h6m-3-3v6m-5.6-3.4h6m-3-3v6m-4.7-3h6m-3-3v6m-2-1.7h6m-3-3v6m-1.7-7.4h6m-3-3v6m-3.6 4.6h6m-3-3v6m-2.6-5.8h6m-3-3v6m-3.6-4.3h6m-3-3v6m-1.6-4.4h6m-3-3v6m-3.2-3.6h6m-3-3v6m-2-2.9h6m-3-3v6m-2.3 2.5h6m-3-3v6m-7.8-3.8h6m-3-3v6m-.5-1.9h6m-3-3v6m-3.2-6.1h6m-3-3v6m-2.5 .3h6m-3-3v6m-6.5-4.1h6m-3-3v6m1.3-5.6h6m-3-3v6m-3.7 0h6m-3-3v6m-.8-1.4h6m-3-3v6m-6.1-10.6h6m-3-3v6m-2.8 .6h6m-3-3v6m-2.8 0h6m-3-3v6m2.7-4.8h6m-3-3v6m-11.5-1.6h6m-3-3v6m-.6-5.1h6m-3-3v6m.1-2.3h6m-3-3v6m-4.9-3.2h6m-3-3v6m-1.3-2.3h6m-3-3v6m-.2-10.6h6m-3-3v6m-9 2h6m-3-3v6m.4-1.3h6m-3-3v6m-3-6.4h6m-3-3v6m-5.2 1.3h6m-3-3v6m-2.7-5.2h6m-3-3v6m-2.3 1.3h6m-3-3v6m-8-3.1h6m-3-3v6m2-8.1h6m-3-3v6m-2.2-1.1h6m-3-3v6m-1.8-4.8h6m-3-3v6m-3.5-3.2h6m-3-3v6m-4.4 .3h6m-3-3v6m-3.8-3.1h6m-3-3v6m-4.1-2.1h6m-3-3v6m-2.8-6.7h6m-3-3v6m-2.2-1.6h6m-3-3v6m-4.5-1.3h6m-3-3v6" stroke="#ff7f0e" stroke-opacity="0.62" stroke-width="1.0" fill="none"/>
<path d="M259.1 279.3h6m-3-3v6m-5.8-7.1h6m-3-3v6m-.5-2.3h6m-3-3v6m-2.7 .3h6m-3-3v6m-.4-1.1h6m-3-3v6m-3.6-7.6h6m-3-3v6m-3.5-2.6h6m-3-3v6m-3.1-4.1h6m-3-3v6m-1.3 .1h6m-3-3v6m-6.4-6.8h6m-3-3v6m-1.8-1.2h6m-3-3v6m-3.1-3.4h6m-3-3v6m-4.6-.2h6m-3-3v6m1.2-7h6m-3-3v6m-6.5 .5h6m-3-3v6m-2.9-4.7h6m-3-3v6m1.9-3.9h6m-3-3v6m-6.8-2.2h6m-3-3v6m-4-6.8h6m-3-3v6m-.9 1.4h6m-3-3v6m-6.9 .9h6m-3-3v6m-1.6-7.8h6m-3-3v6m-4.2 .5h6m-3-3v6m-1.1-5.8h6m-3-3v6m-5.9-4.3h6m-3-3v6m.5-1.1h6m-3-3v6m-7.9-4.8h6m-3-3v6m1.7 4.4h6m-3-3v6m-5.1-13.3h6m-3-3v6m.2 .7h6m-3-3v6m-7.4-.8h6m-3-3v6m-.7-6.2h6m-3-3v6m-5.2-1.3h6m-3-3v6m-.1-6.4h6m-3-3v6m-1.1-2h6m-3-3v6m-2.1 .4h6m-3-3v6m-6.4-3h6m-3-3v6m-3.8-3.8h6m-3-3v6m1.7-4.1h6m-3-3v6m-4.8-3.7h6m-3-3v6m-4.7 .9h6m-3-3v6m-5.5-4.3h6m-3-3v6m-5-6.1h6m-3-3v6m.6 1.3h6m-3-3v6m-.6-6.8h6m-3-3v6m-4.8-.7h6m-3-3v6m-6-2.5h6m-3-3v6m3.2-1.3h6m-3-3v6m-7.1-6.5h6m-3-3v6m-3.7-3.1h6m-3-3v6m-1.6-.6h6m-3-3v6m-2.3-6.3h6m-3-3v6m-1.5 .8h6m-3-3v6m-6-5.4h6m-3-3v6m-1.9-5.9h6m-3-3v6m-2.5 1.8h6m-3-3v6m.8-4h6m-3-3v6m-7.7-3.7h6m-3-3v6m-1.1-1h6m-3-3v6m-6.1-4.3h6m-3-3v6m.2-7.6h6m-3-3v6m-1.5 .8h6m-3-3v6m-4-2.7h6m-3-3v6m-5.4-3h6m-3-3v6m-1.9-1.1h6m-3-3v6m-4.1-7.1h6m-3-3v6m-3.9-2.7h6m-3-3v6m0-3h6m-3-3v6m-1.4-.7h6m-3-3v6m-6.3-.5h6m-3-3v6m-3.6-6.4h6m-3-3v6m-.6-.8h6m-3-3v6m-6.8 .6h6m-3-3v6m.3-10.8h6m-3-3v6m-4.5 1.6h6m-3-3v6m-2.2-3.2h6m-3-3v6m1.5-2.8h6m-3-3v6m-3.7-3.5h6m-3-3v6m-8.6-1.3h6m-3-3v6m-3.1-4.1h6m-3-3v6m-.2-6.8h6m-3-3v6m-5.8-1.6h6m-3-3v6m-.7 .2h6m-3-3v6m-3.7-1.8h6m-3-3v6m-1.3-8.4h6m-3-3v6m-6.1-1.4h6m-3-3v6m-2.8-3.4h6m-3-3v6m-.2-2.2h6m-3-3v6m-2.6-5h6m-3-3v6m-6.9-4.5h6m-3-3v6m-4.9-1h6m-3-3v6m.9-2.5h6m-3-3v6m-3.1 1.7h6m-3-3v6m-5.3-7.8h6m-3-3v6m-1.8-4.4h6m-3-3v6m.9-1.1h6m-3-3v6m-3.2-5.3h6m-3-3v6m-1.7 4.1h6m-3-3v6m-8.8-7.8h6m-3-3v6m-1.4-1.8h6m-3-3v6m-5.5-3.2h6m-3-3v6m1.3-5.2h6m-3-3v6m-9.3-3.2h6m-3-3v6m.9 .1h6m-3-3v6m-3.4-7.1h6m-3-3v6m-.4 .2h6m-3-3v6m-2.8-3.6h6m-3-3v6m-2.3-2.1h6m-3-3v6m-9-3.6h6m-3-3v6m2.4-3.3h6m-3-3v6m-1.5-4.1h6m-3-3v6m-4.6-4.6h6m-3-3v6m-4.5-1.6h6m-3-3v6m-5.1-4.6h6m-3-3v6m-.4 .7h6m-3-3v6m-4.8-6.5h6m-3-3v6m-3.5 1.2h6m-3-3v6m-3.7-2.2h6m-3-3v6m-4-4.8h6m-3-3v6m1.9-1.1h6m-3-3v6m-5.3-7.1h6m-3-3v6m-5.1 .5h6m-3-3v6m-.3-5.9h6m-3-3v6m-3.6-1.5h6m-3-3v6m-2-1h6m-3-3v6m-7.6-3.7h6m-3-3v6m.4-5h6m-3-3v6m-2.6-3h6m-3-3v6m-.7-2.3h6m-3-3v6m-7.6-3.6h6m-3-3v6m-.2-2.1h6m-3-3v6m-2.7-4h6m-3-3v6m-.9-5.1h6m-3-3v6m-.6-1.9h6m-3-3v6m-9.8-.2h6m-3-3v6m1.5-2h6m-3-3v6m-2.2-4.6h6m-3-3v6m-5.9-3.2h6m-3-3v6m-3.2-4.9h6m-3-3v6m.4 1.9h6m-3-3v6m-6.4-7.3h6m-3-3v6m-4-6h6m-3-3v6m-3.4-.6h6m-3-3v6m-1.6-4h6m-3-3v6m-7 .5h6m-3-3v6m4.6-8.9h6m-3-3v6m-6.9 3.3h6m-3-3v6m-5.1-7.8h6m-3-3v6m-.5-.5h6m-3-3v6m-4.4 1h6m-3-3v6" stroke="#2ca02c" stroke-opacity="0.62" stroke-width="1.0" fill="none"/>
<path d="M257 274.2h6m-3-3v6m-6.3-5h6m-3-3v6m-1-2.8h6m-3-3v6m-1.7 .1h6m-3-3v6m-7.4-4h6m-3-3v6m1.6-3.3h6m-3-3v6m-8.3-4.9h6m-3-3v6m-1.7-2.2h6m-3-3v6m-2.2-4h6m-3-3v6m-1.3 .6h6m-3-3v6m-6-8.9h6m-3-3v6m-1 .1h6m-3-3v6m-2.9-4.4h6m-3-3v6m-3.3-3.5h6m-3-3v6m-1.3 2.5h6m-3-3v6m-7.2-12h6m-3-3v6m-2.1 1.3h6m-3-3v6m-1.5-1.8h6m-3-3v6m-2.4 2.7h6m-3-3v6m-5.2-9.5h6m-3-3v6m-.9-6.1h6m-3-3v6m-2.3-.4h6m-3-3v6m-7.6-3.5h6m-3-3v6m1 .5h6m-3-3v6m-1.4-3.8h6m-3-3v6m-7.1-2.7h6m-3-3v6m-1.7 .7h6m-3-3v6m-7.1-4.5h6m-3-3v6m2.9-5.5h6m-3-3v6m-4.8-5.1h6m-3-3v6m-4.8-5.1h6m-3-3v6m3.3 2.3h6m-3-3v6m-5.9-4.2h6m-3-3v6m-8.4-4.4h6m-3-3v6m1.3 .1h6m-3-3v6m-5.4-4.9h6m-3-3v6m-1.4-3.5h6m-3-3v6m-4.1-2.3h6m-3-3v6m-1.2-7.7h6m-3-3v6m-.6 5.6h6m-3-3v6m-7.4-5.2h6m-3-3v6m-3.2-6.6h6m-3-3v6m2.8-1.4h6m-3-3v6m-3.5-2.8h6m-3-3v6m-4.1-4h6m-3-3v6m-2.1 1.1h6m-3-3v6m-4.6-7.9h6m-3-3v6m-5.2-3.8h6m-3-3v6m-.9 .1h6m-3-3v6m-5.8-2.2h6m-3-3v6m-2.7-1.1h6m-3-3v6m-.1-3.5h6m-3-3v6m-6.2-8.4h6m-3-3v6m-5.3 .5h6m-3-3v6m-1.5-1.6h6m-3-3v6m-.4-4.2h6m-3-3v6m-6-5.8h6m-3-3v6m.1-.2h6m-3-3v6m-6.1-3.9h6m-3-3v6m-2-2h6m-3-3v6m-1.7-5.3h6m-3-3v6m-1.7 .1h6m-3-3v6m-4.4-2.9h6m-3-3v6m-4.6-5h6m-3-3v6m-3.2-3.1h6m-3-3v6m-2.6-3.4h6m-3-3v6m.2-5.1h6m-3-3v6m-7.9-1.3h6m-3-3v6m1.7-2.2h6m-3-3v6m-6-1.7h6m-3-3v6m-1.7-3.2h6m-3-3v6m-4.2-3.7h6m-3-3v6m1.3-5.3h6m-3-3v6m-6.1-.3h6m-3-3v6m-1.3-3.5h6m-3-3v6m-4.3-7.1h6m-3-3v6m-2.8-2.4h6m-3-3v6m-2.8-5.2h6m-3-3v6m-.2 5.9h6m-3-3v6m-5.1-8.8h6m-3-3v6m-4.5 .6h6m-3-3v6m-1-6.3h6m-3-3v6m-1.9 0h6m-3-3v6m-4.4-5.2h6m-3-3v6m-4.1-3.8h6m-3-3v6m-2.6-2.9h6m-3-3v6m-1-1.5h6m-3-3v6m-5-2.4h6m-3-3v6m-2.7-6.7h6m-3-3v6m-1 .2h6m-3-3v6m-6.9-5.2h6m-3-3v6m-3.2-2.3h6m-3-3v6m-1.6-3.5h6m-3-3v6m-2.8-.9h6m-3-3v6m-4.7 1.3h6m-3-3v6m-1.8-6.9h6m-3-3v6m-2.5-4.1h6m-3-3v6m-1.8 .2h6m-3-3v6m-4.6-7.6h6m-3-3v6m-1.7-5.7h6m-3-3v6m-3.8 1.1h6m-3-3v6m-2.7-5.8h6m-3-3v6m-4.6-2h6m-3-3v6m-3.2 .4h6m-3-3v6m-2.3-5.5h6m-3-3v6m-.1-1.8h6m-3-3v6m-9.7-5.2h6m-3-3v6m2.1 .1h6m-3-3v6m-3.4-3.4h6m-3-3v6m-5.4-3.7h6m-3-3v6m-3.6-4.6h6m-3-3v6m-2.4-3h6m-3-3v6m-1.8-1.7h6m-3-3v6m-4-.3h6m-3-3v6m-2.3-2.1h6m-3-3v6m0-8.7h6m-3-3v6m-3.2-3.4h6m-3-3v6m-1.9 .6h6m-3-3v6m-8-8.2h6m-3-3v6m-1.8-1.3h6m-3-3v6m.1-2.8h6m-3-3v6m-5.8 .6h6m-3-3v6m-2.5-3.5h6m-3-3v6m-3.5-2.1h6m-3-3v6m-4.5-3.3h6m-3-3v6m-3.5-3.8h6m-3-3v6m-2.9-3.8h6m-3-3v6m.6 0h6m-3-3v6m-8-7.2h6m-3-3v6m-1.3 1.1h6m-3-3v6m-2.8-4h6m-3-3v6m-2.2-7.5h6m-3-3v6m-1.7-2.3h6m-3-3v6m-1.8 1h6m-3-3v6m-1.7-6.8h6m-3-3v6m-2.5 1.1h6m-3-3v6m-10-.4h6m-3-3v6m4.2-9.7h6m-3-3v6m-5.8-3.7h6m-3-3v6m-4 .2h6m-3-3v6m-1.4-5.1h6m-3-3v6m-4.3-3.2h6m-3-3v6m-2.2 .3h6m-3-3v6m-3.6-2h6m-3-3v6m-1.6-4.6h6m-3-3v6m-2.2-6.4h6m-3-3v6m-5.5-4.1h6m-3-3v6m-2.9-.3h6m-3-3v6m-1.3-2.9h6m-3-3v6m-6-2.3h6m-3-3v6" stroke="#d62728" stroke-opacity="0.62" stroke-width="1.0" fill="none"/>
<path d="M248.7 269.3h6m-3-3v6m-4.5-7.2h6m-3-3v6m-4.5 2.5h6m-3-3v6m-2.3-6.4h6m-3-3v6m-2.7-.2h6m-3-3v6m-1.9-2.2h6m-3-3v6m-3.3-5h6m-3-3v6m.1-1.6h6m-3-3v6m-7.1-5.8h6m-3-3v6m-.7-6h6m-3-3v6m-1.3 1.6h6m-3-3v6m-3.4-6.7h6m-3-3v6m-3.7 .8h6m-3-3v6m-1.3-5h6m-3-3v6m-3.7 2.2h6m-3-3v6m-5.3-7.9h6m-3-3v6m-2.8-5.3h6m-3-3v6m-3.1 3.5h6m-3-3v6m-4.1-6.8h6m-3-3v6m1.4-1.4h6m-3-3v6m-5-4.9h6m-3-3v6m-3.7-2.3h6m-3-3v6m-1.4-2.8h6m-3-3v6m-2.4-7h6m-3-3v6m-3.3-.3h6m-3-3v6m-4.7-2.8h6m-3-3v6m-1.7-2.3h6m-3-3v6m-3-4.4h6m-3-3v6m-3.9 1.2h6m-3-3v6m-1.1-6.3h6m-3-3v6m-5-3h6m-3-3v6m-3.5-2.2h6m-3-3v6m-.3-1.9h6m-3-3v6m-2.5-1h6m-3-3v6m-8.6-5.5h6m-3-3v6m-1.3-7h6m-3-3v6m-4.3-.7h6m-3-3v6m2.7-1.8h6m-3-3v6m-6.9-3.2h6m-3-3v6m-4.1-2.6h6m-3-3v6m-1.7-6.7h6m-3-3v6m-3.9 7.3h6m-3-3v6m-.6-10.2h6m-3-3v6m-2.9-4.8h6m-3-3v6m-4.2 .9h6m-3-3v6m-6.5-6.4h6m-3-3v6m-.5-2h6m-3-3v6m-3.2-1.9h6m-3-3v6m.1-2.8h6m-3-3v6m-3-1.6h6m-3-3v6m-6.3-4.6h6m-3-3v6m-2.5-2.2h6m-3-3v6m-3-4.7h6m-3-3v6m1.2-3h6m-3-3v6m-9.7-2.4h6m-3-3v6m.8-4.3h6m-3-3v6m-3.4 .2h6m-3-3v6m-4.2-5.5h6m-3-3v6m-3.4-2h6m-3-3v6m-1.8-5.5h6m-3-3v6m-3.1 2.6h6m-3-3v6m-6.2-9.6h6m-3-3v6m1.2-3h6m-3-3v6m.3-3.2h6m-3-3v6m-9.6-1h6m-3-3v6m1.9-.3h6m-3-3v6m-4.1-4h6m-3-3v6m-1.5-7.4h6m-3-3v6m-5.1 3.7h6m-3-3v6m-5.7-5.3h6m-3-3v6m1.7-1.1h6m-3-3v6m-5.8-1.7h6m-3-3v6m-1.7-4.6h6m-3-3v6m-6.3-6.8h6m-3-3v6m-2.3 2.2h6m-3-3v6m-6.2-10.4h6m-3-3v6m3.4 1.1h6m-3-3v6m-10.7-4.1h6m-3-3v6m2.4 .2h6m-3-3v6m-6.3-6.5h6m-3-3v6m3.1-.4h6m-3-3v6m-7-5.1h6m-3-3v6m-4.2 .4h6m-3-3v6m-.8-3.2h6m-3-3v6m-.5-7.4h6m-3-3v6m-4.9 .1h6m-3-3v6m-1.8-1.2h6m-3-3v6m-1.7-5.5h6m-3-3v6m-3.8-5.1h6m-3-3v6m-5.7-.3h6m-3-3v6m-1.1-6.5h6m-3-3v6m-3.8-2.3h6m-3-3v6m-4 1.2h6m-3-3v6m-3.8-6.9h6m-3-3v6m.1-1.6h6m-3-3v6m-3.8-6.1h6m-3-3v6m-3.4-.8h6m-3-3v6m-4.6-3.4h6m-3-3v6m-1.9-.1h6m-3-3v6m1.4-4.5h6m-3-3v6m-3.8-3h6m-3-3v6m-9-3.1h6m-3-3v6m2.6-.2h6m-3-3v6m-7.4-1.4h6m-3-3v6m-2.7-9h6m-3-3v6m-2.6 1.5h6m-3-3v6m-1.1-4.1h6m-3-3v6m-8.3-5h6m-3-3v6m1.3-1.5h6m-3-3v6m-3.8-2h6m-3-3v6m-3.4-8.2h6m-3-3v6m-4.9 2.4h6m-3-3v6m1.8-7.2h6m-3-3v6m-2.3-1.7h6m-3-3v6m-5.4-5.6h6m-3-3v6m-3.9 .1h6m-3-3v6m-1.5-4.3h6m-3-3v6m-1.4 1h6m-3-3v6m-6.6-5.1h6m-3-3v6m-4.5-2.9h6m-3-3v6m-1.8-4.2h6m-3-3v6m-.7-3.2h6m-3-3v6m-1.3-4h6m-3-3v6m-6-.8h6m-3-3v6m-2.2-3.1h6m-3-3v6m-3.3-5.2h6m-3-3v6m-1.2-1.2h6m-3-3v6m-2.6-.5h6m-3-3v6m-5.5-7.2h6m-3-3v6m-3.2-2.8h6m-3-3v6m-6.1 1.7h6m-3-3v6m1.9-1.6h6m-3-3v6m-5-6.6h6m-3-3v6m-1.3-4.3h6m-3-3v6m-1.6-2.8h6m-3-3v6m-5.1-2.7h6m-3-3v6m-7.4-4.8h6m-3-3v6m0 1.8h6m-3-3v6m-.3-4.8h6m-3-3v6m-2.9-4.9h6m-3-3v6m-.9-3.1h6m-3-3v6m-9.2-1.3h6m-3-3v6m2.2-4h6m-3-3v6m-4.6-1.3h6m-3-3v6m-.7-3.8h6m-3-3v6m-2.7-3.6h6m-3-3v6m-2.1-6.3h6m-3-3v6m-5.3 .3h6m-3-3v6m-4.7-6.1h6m-3-3v6m-1.1-.8h6m-3-3v6" stroke="#9467bd" stroke-opacity="0.62" stroke-width="1.0" fill="none"/>
<path d="M242.3 263.5h6m-3-3v6m-1.5-1.5h6m-3-3v6m-4.4-5.1h6m-3-3v6m-.3-1.3h6m-3-3v6m.1-3.7h6m-3-3v6m-5.4 1.4h6m-3-3v6m-4.9-4.6h6m-3-3v6m-2-4.8h6m-3-3v6m-.4-5.2h6m-3-3v6m-7.5-4.5h6m-3-3v6m-2 2.5h6m-3-3v6m-3.3-3.3h6m-3-3v6m-4-2.3h6m-3-3v6m-1.7-6.3h6m-3-3v6m.6-2.1h6m-3-3v6m-5.2-2.7h6m-3-3v6m-2.7-3h6m-3-3v6m-6.9-2.7h6m-3-3v6m.4-2.8h6m-3-3v6m-4.4-.1h6m-3-3v6m-4-6.4h6m-3-3v6m-1.1-5.4h6m-3-3v6m-5.8 .5h6m-3-3v6m.7-4.1h6m-3-3v6m-7.6-3.8h6m-3-3v6m.7-1.2h6m-3-3v6m-1-3.3h6m-3-3v6m-3.5-.6h6m-3-3v6m-9.7-4.4h6m-3-3v6m.9-4h6m-3-3v6m-1.7-6h6m-3-3v6m-5.3-.1h6m-3-3v6m-1.5-2.4h6m-3-3v6m-3.4-.1h6m-3-3v6m-2.8-3.2h6m-3-3v6m-4-6h6m-3-3v6m.8-6.8h6m-3-3v6m-7.2 .5h6m-3-3v6m1.3-1.1h6m-3-3v6m-4.2-3.7h6m-3-3v6m-6.5-5.9h6m-3-3v6m2.3-3.3h6m-3-3v6m-6.4-5.4h6m-3-3v6m-2.9-2.7h6m-3-3v6m-1.9 3.2h6m-3-3v6m-3.1-5.6h6m-3-3v6m-4.5-2.3h6m-3-3v6m-4.4-5h6m-3-3v6m3.6-4.7h6m-3-3v6m-8.5-3.2h6m-3-3v6m.6-.7h6m-3-3v6m-8-5h6m-3-3v6m1.8 .9h6m-3-3v6m-3.7-4.5h6m-3-3v6m-2.8-.2h6m-3-3v6m-3.4-8.9h6m-3-3v6m-8.3-2.7h6m-3-3v6m1.5-3.1h6m-3-3v6m-5.8 .1h6m-3-3v6m-2.6-5.7h6m-3-3v6m.7 .6h6m-3-3v6m-3.3-2.2h6m-3-3v6m-1.7-4.9h6m-3-3v6m-6.3-6.5h6m-3-3v6m-3.1-.6h6m-3-3v6m-.4-.5h6m-3-3v6m-2.2-2.2h6m-3-3v6m-3.5-4.1h6m-3-3v6m-5.2-4.8h6m-3-3v6m-3.3-4.2h6m-3-3v6m-2.2-1.2h6m-3-3v6m-7.8-8.3h6m-3-3v6m-.4 1.5h6m-3-3v6m-2.2 .5h6m-3-3v6m-3.6-8.1h6m-3-3v6m-1 1.5h6m-3-3v6m-.5-7h6m-3-3v6m-6.8-1.8h6m-3-3v6m.6-.8h6m-3-3v6m-6-2.9h6m-3-3v6m-3.8-4.9h6m-3-3v6m-2.3-3.6h6m-3-3v6m-3.5-1.3h6m-3-3v6m-2-.7h6m-3-3v6m-1.7-6.1h6m-3-3v6m-9.2-5.9h6m-3-3v6m.4-.8h6m-3-3v6m-4.6-3h6m-3-3v6m-.2-3.5h6m-3-3v6m-3.5-1.9h6m-3-3v6m-4.1-4.6h6m-3-3v6m-1.9-.7h6m-3-3v6m-4.8-7.6h6m-3-3v6m-2.8 2.1h6m-3-3v6m-4.4-2.2h6m-3-3v6m-.9-4.6h6m-3-3v6m-3.4-2.1h6m-3-3v6m-1.3-3.4h6m-3-3v6m-7-2.3h6m-3-3v6m-2.5-5.1h6m-3-3v6m1.4-2.7h6m-3-3v6m-3-2.3h6m-3-3v6m-3.9-5h6m-3-3v6m-1.1 .9h6m-3-3v6m-6.1-7h6m-3-3v6m-1.5-2.8h6m-3-3v6m-3.2 .2h6m-3-3v6m-1.9-1.7h6m-3-3v6m-3.4-8h6m-3-3v6m-5.6 .1h6m-3-3v6m2.5-4.8h6m-3-3v6m-8.7 .5h6m-3-3v6m-1.4-4.4h6m-3-3v6m-.6-6.3h6m-3-3v6m-5.9-2.2h6m-3-3v6m-1.2-.6h6m-3-3v6m-5-3.1h6m-3-3v6m-5.6-3.5h6m-3-3v6m1.2-3.7h6m-3-3v6m-6.5-3.2h6m-3-3v6m-2.3 .1h6m-3-3v6m-1.4-6.3h6m-3-3v6m-2.7-1.5h6m-3-3v6m-2.6-3h6m-3-3v6m-5-1.9h6m-3-3v6m-2.1-3.7h6m-3-3v6m-1.6-2.3h6m-3-3v6m-3.6-8.1h6m-3-3v6m-5.1-.5h6m-3-3v6m2-3.4h6m-3-3v6m-5.6 .3h6m-3-3v6m-4.3-4.9h6m-3-3v6m-1.3-4.7h6m-3-3v6m-3.1 .2h6m-3-3v6m-1.4-5.7h6m-3-3v6m.7-1.7h6m-3-3v6m-9.3-5.1h6m-3-3v6m-4.4 .1h6m-3-3v6m-6.7-5h6m-3-3v6m-.1-3h6m-3-3v6m-.3-5.2h6m-3-3v6m-4.9 2h6m-3-3v6m-2.1-5.5h6m-3-3v6m-2.6-1.3h6m-3-3v6m.1-2.9h6m-3-3v6m-4.4-3.7h6m-3-3v6m-6.4-1.5h6m-3-3v6m-1.8-7.3h6m-3-3v6m-2.6-2.8h6m-3-3v6m-1.4 0h6m-3-3v6" stroke="#8c564b" stroke-opacity="0.62" stroke-width="1.0" fill="none"/>
<path d="M240.8 261.9h6m-3-3v6m-6.7-3.4h6m-3-3v6m-4.1-3.9h6m-3-3v6m3.2-3.1h6m-3-3v6m-7.8-.2h6m-3-3v6m-1.6-2.7h6m-3-3v6m-5.2-6.7h6m-3-3v6m1.3-2.2h6m-3-3v6m-5.8-1.2h6m-3-3v6m-6.5-3.8h6m-3-3v6m-.6-1.6h6m-3-3v6m-2.3-8.5h6m-3-3v6m-.9-3.6h6m-3-3v6m-5.3 .7h6m-3-3v6m-3.4-1.7h6m-3-3v6m.1-4.7h6m-3-3v6m-6.1 .2h6m-3-3v6m-.8-3h6m-3-3v6m-3.4-4.9h6m-3-3v6m-4.6-3.5h6m-3-3v6m-.2 .9h6m-3-3v6m-.9-8h6m-3-3v6m-7.4-.9h6m-3-3v6m-2.8-5.3h6m-3-3v6m1.6 2.2h6m-3-3v6m-7.6-6.8h6m-3-3v6m-2.7-4.5h6m-3-3v6m-3.7 .9h6m-3-3v6m1-2.8h6m-3-3v6m-3.7-6.8h6m-3-3v6m-12 1.8h6m-3-3v6m3.8-5.9h6m-3-3v6m-.1-4.7h6m-3-3v6m-8.2-2.6h6m-3-3v6m2.1 .3h6m-3-3v6m-9.7-1.6h6m-3-3v6m.5-5.4h6m-3-3v6m-4.5-.1h6m-3-3v6m-.6-4.1h6m-3-3v6m-5.9-4.3h6m-3-3v6m-.8-4.8h6m-3-3v6m-4.8-3.9h6m-3-3v6m-3.7-3h6m-3-3v6m-.8-.5h6m-3-3v6m-6-6.2h6m-3-3v6m-1.1-4.2h6m-3-3v6m-2.4-.3h6m-3-3v6m-2.8-1.6h6m-3-3v6m-.7-2.2h6m-3-3v6m-4.4-3.5h6m-3-3v6m-5.1-6h6m-3-3v6m-.1 0h6m-3-3v6m.1-4.6h6m-3-3v6m-9.4-2h6m-3-3v6m-1.9-5.3h6m-3-3v6m.6 2.6h6m-3-3v6m-5-8.1h6m-3-3v6m-3.2-1.9h6m-3-3v6m-6.3-1.2h6m-3-3v6m.5-2.1h6m-3-3v6m-4.8-5.6h6m-3-3v6m-2.1-6.4h6m-3-3v6m2.2-3.7h6m-3-3v6m-10.3 .5h6m-3-3v6m-3.8-1.5h6m-3-3v6m-.8-3.7h6m-3-3v6m-1.6-3h6m-3-3v6m-3.3-3.4h6m-3-3v6m-2.3-1.1h6m-3-3v6m-4.4-5.5h6m-3-3v6m-3.3-1.5h6m-3-3v6m-2.9-4.4h6m-3-3v6m-5.3 1.7h6m-3-3v6m-2.5-3.5h6m-3-3v6m1.1-4.3h6m-3-3v6m-4-4.1h6m-3-3v6m-3-2.8h6m-3-3v6m-1.9-1.1h6m-3-3v6m-6.7-5.1h6m-3-3v6m2.3-1.2h6m-3-3v6m-8.3-5.2h6m-3-3v6m-.4-3.1h6m-3-3v6m-8.1-1.7h6m-3-3v6m-1.7-.4h6m-3-3v6m1.6-7.6h6m-3-3v6m-3-2.5h6m-3-3v6m-5.4-3.4h6m-3-3v6m-1.2-4.5h6m-3-3v6m-2.3 .9h6m-3-3v6m-2.2-2.9h6m-3-3v6m-2.6-3.9h6m-3-3v6m-3-4.3h6m-3-3v6m-4.8-.3h6m-3-3v6m.1-6.5h6m-3-3v6m-9.8 2h6m-3-3v6m2.3-3.6h6m-3-3v6m-3.6-6.2h6m-3-3v6m-6.1-5.5h6m-3-3v6m1.3 1h6m-3-3v6m-5.3-7.3h6m-3-3v6m-4.8-2h6m-3-3v6m-2.5-7.6h6m-3-3v6m-1.9 6.1h6m-3-3v6m-4.6-6.2h6m-3-3v6m-1.3-5.1h6m-3-3v6m-2.7-2.6h6m-3-3v6m-4.8-.8h6m-3-3v6m-2.2-3.3h6m-3-3v6m-4.8-1.7h6m-3-3v6m-3.3-2.8h6m-3-3v6m-1.8-7.1h6m-3-3v6m-2.2-2.8h6m-3-3v6m-3.9-1.1h6m-3-3v6m-.3-1.1h6m-3-3v6m-3.6-5.2h6m-3-3v6m-7.1-2.9h6m-3-3v6m-.5-2.8h6m-3-3v6m-3.5-3.8h6m-3-3v6m-.2-4.7h6m-3-3v6m-4.7 2.4h6m-3-3v6m-4.6-7.6h6m-3-3v6m-1.8-1.7h6m-3-3v6m-2.1 .5h6m-3-3v6m-3.7-4.7h6m-3-3v6m-4-5.1h6m-3-3v6m-1.2-3.4h6m-3-3v6m-1.1-2.5h6m-3-3v6m-5.8-4.3h6m-3-3v6m-3.6-2.9h6m-3-3v6m-3.1-4.6h6m-3-3v6m-2 4.3h6m-3-3v6m-6.8-3.1h6m-3-3v6m.6-4.7h6m-3-3v6m-4.9-.7h6m-3-3v6m-3.1-7.3h6m-3-3v6m2.4-5.5h6m-3-3v6m-11-.5h6m-3-3v6m.2-4.8h6m-3-3v6m-3.3-4.1h6m-3-3v6m1.8 2.6h6m-3-3v6m-8.7-5.8h6m-3-3v6m-1.2-.5h6m-3-3v6m-3.7-1.9h6m-3-3v6m-1.3-8h6m-3-3v6m-3.2-2.5h6m-3-3v6m1.9-1.5h6m-3-3v6m-8.7-3.1h6m-3-3v6m1.1-5.2h6m-3-3v6m-9.6 1.7h6m-3-3v6m1.8-6.7h6m-3-3v6" stroke="#e377c2" stroke-opacity="0.62" stroke-width="1.0" fill="none"/>
<path d="M233.6 263.4h6m-3-3v6m-8.3-2.7h6m-3-3v6m2.1-4.2h6m-3-3v6m-2.8 1.8h6m-3-3v6m-4.1-6.9h6m-3-3v6m-6.9-5.1h6m-3-3v6m3.7-6.2h6m-3-3v6m-8.6 .3h6m-3-3v6m3-.9h6m-3-3v6m-6.3-4.6h6m-3-3v6m-4.5-.3h6m-3-3v6m-1.3-3.9h6m-3-3v6m-2.4-6.2h6m-3-3v6m.8-4.1h6m-3-3v6m-3.7-1.9h6m-3-3v6m-7.3-4h6m-3-3v6m1-1.5h6m-3-3v6m-6-5.8h6m-3-3v6m.1 2.1h6m-3-3v6m-4.7-3.6h6m-3-3v6m-10.2-5.6h6m-3-3v6m3.8-1.7h6m-3-3v6m-4.4-2.8h6m-3-3v6m-3.3-4.7h6m-3-3v6m-4.1-1.5h6m-3-3v6m-1.9-4.2h6m-3-3v6m1.2-2.1h6m-3-3v6m-5.9-6h6m-3-3v6m-3.9 2h6m-3-3v6m-.9-4.8h6m-3-3v6m-4.4-3h6m-3-3v6m-1.9-3.8h6m-3-3v6m-8.8 1.6h6m-3-3v6m4.3-7.3h6m-3-3v6m-2.5-5.3h6m-3-3v6m-3.2 0h6m-3-3v6m-3.8-4h6m-3-3v6m-4.5-1.2h6m-3-3v6m-1.2-3.1h6m-3-3v6m-4.2-5.2h6m-3-3v6m-.5-1.4h6m-3-3v6m-6.8-4.1h6m-3-3v6m-5-3.8h6m-3-3v6m-3.6-1.1h6m-3-3v6m-.2-3h6m-3-3v6m-5.3-4.3h6m-3-3v6m-1.8-.2h6m-3-3v6m-4.7-8h6m-3-3v6m2.6 .8h6m-3-3v6m-8.7-1h6m-3-3v6m3.1-3.5h6m-3-3v6m-10.1-5h6m-3-3v6m-.6-3.8h6m-3-3v6m-4.5 1h6m-3-3v6m-1.2-5.9h6m-3-3v6m0-2.3h6m-3-3v6m-3.8-5h6m-3-3v6m-3.4-2.7h6m-3-3v6m-7.9-.5h6m-3-3v6m.2-6.1h6m-3-3v6m-2.5-4.7h6m-3-3v6m-4.6-3.9h6m-3-3v6m.3 3h6m-3-3v6m-3.7-7.6h6m-3-3v6m-.6-1.4h6m-3-3v6m-8.8-6.1h6m-3-3v6m.6 3.6h6m-3-3v6m-4.2-7.1h6m-3-3v6m-2.7-3.5h6m-3-3v6m-3.6-.7h6m-3-3v6m-3.3-1.7h6m-3-3v6m-3.6-3.4h6m-3-3v6m-.3-5.2h6m-3-3v6m-4.3-2.9h6m-3-3v6m1-4h6m-3-3v6m-4 .7h6m-3-3v6m-6.1-1.8h6m-3-3v6m-7.1-5.8h6m-3-3v6m2.1-3.4h6m-3-3v6m-1.6-3.9h6m-3-3v6m-5.1 .1h6m-3-3v6m-2.8-7.3h6m-3-3v6m-1.7-1.1h6m-3-3v6m-5.2-1.8h6m-3-3v6m-3.4-6h6m-3-3v6m-2-1.4h6m-3-3v6m-2.4-5.1h6m-3-3v6m.3 .8h6m-3-3v6m-6.1-3.9h6m-3-3v6m-8.3-1.6h6m-3-3v6m-.1-3.8h6m-3-3v6m-3.3-2.1h6m-3-3v6m-1.7-5.4h6m-3-3v6m1.2-.6h6m-3-3v6m-8.9-6.4h6m-3-3v6m.2-2h6m-3-3v6m-1.8-3.9h6m-3-3v6m-8.4-3.5h6m-3-3v6m.4-.1h6m-3-3v6m-1.1-1.6h6m-3-3v6m-4-5.9h6m-3-3v6m-2-2.8h6m-3-3v6m-5.4-3.7h6m-3-3v6m-.2 .9h6m-3-3v6m-2.3-9.2h6m-3-3v6m-3.4-2h6m-3-3v6m-5.9 .4h6m-3-3v6m-5-6.6h6m-3-3v6m-1.8 2.8h6m-3-3v6m.6-8.2h6m-3-3v6m-4.8-.9h6m-3-3v6m-2.7-4.7h6m-3-3v6m-.7-2.3h6m-3-3v6m-4.3-5.6h6m-3-3v6m-3.8 .6h6m-3-3v6m-1.1-8.4h6m-3-3v6m-4.6 3.8h6m-3-3v6m-4.6-2h6m-3-3v6m1.7-3.9h6m-3-3v6m-5.6-2.1h6m-3-3v6m-3.7-3.2h6m-3-3v6m-2.7-6.8h6m-3-3v6m-6.3 .7h6m-3-3v6m.3-6.7h6m-3-3v6m-4.1 1.3h6m-3-3v6m-6.5-7.8h6m-3-3v6m1.8 .5h6m-3-3v6m-6.7-6.6h6m-3-3v6m-.4 1.8h6m-3-3v6m-3.3-10.5h6m-3-3v6m-.9 1.6h6m-3-3v6m-6-5.3h6m-3-3v6m.3-.1h6m-3-3v6m-4.6-2.8h6m-3-3v6m-2.9-2.1h6m-3-3v6m-.5-6.8h6m-3-3v6m-6.5-1.8h6m-3-3v6m.5-2.6h6m-3-3v6m-9.6-2.5h6m-3-3v6m-1.3-4.4h6m-3-3v6m-2.4-4.2h6m-3-3v6m-6 3.6h6m-3-3v6m.6-8.8h6m-3-3v6m-1.5 1.5h6m-3-3v6m-7.7-6.5h6m-3-3v6m1.1-3.8h6m-3-3v6m-2.7-3.8h6m-3-3v6m-5.2-.8h6m-3-3v6m-.8-2.7h6m-3-3v6m-5.3-3.8h6m-3-3v6" stroke="#7f7f7f" stroke-opacity="0.62" stroke-width="1.0" fill="none"/>
<path d="M224.7 264.8h6m-3-3v6m.5-7.8h6m-3-3v6m-1.7-1.3h6m-3-3v6m-2.8-5.5h6m-3-3v6m-7-2h6m-3-3v6m-1.3-3.8h6m-3-3v6m-1.4-1.4h6m-3-3v6m-.4-3.7h6m-3-3v6m-9.1-1.6h6m-3-3v6m2.3-7.4h6m-3-3v6m-3.6 .6h6m-3-3v6m-5.3-3h6m-3-3v6m-1.2-2.2h6m-3-3v6m-1.4-4.2h6m-3-3v6m-5.3 1.9h6m-3-3v6m-5.2-8.4h6m-3-3v6m-1.5-.9h6m-3-3v6m-.1-7.2h6m-3-3v6m-2.8-2.7h6m-3-3v6m-.2-2h6m-3-3v6m-6-2.2h6m-3-3v6m-3.8-4h6m-3-3v6m-4.2-1.4h6m-3-3v6m-3-1.5h6m-3-3v6m-4.1-5.2h6m-3-3v6m-4.8-2.6h6m-3-3v6m-1.3-1h6m-3-3v6m-.7-6.2h6m-3-3v6m-3.4 1.1h6m-3-3v6m-4.3-8h6m-3-3v6m2.3 .5h6m-3-3v6m-6.5 .9h6m-3-3v6m-6-7.4h6m-3-3v6m-5.2-2.7h6m-3-3v6m1.6-5.5h6m-3-3v6m-5.5-1.8h6m-3-3v6m-1.8 .5h6m-3-3v6m-3-6.5h6m-3-3v6m-2.9-5.9h6m-3-3v6m-3.6-2.5h6m-3-3v6m-1.8-4.6h6m-3-3v6m-5.5 1.9h6m-3-3v6m-4.9-6.7h6m-3-3v6m3.2-2.5h6m-3-3v6m-5 .3h6m-3-3v6m-5.2-7h6m-3-3v6m2.2-.8h6m-3-3v6m-5-3.4h6m-3-3v6m-3.3-4.1h6m-3-3v6m-6.5-2.5h6m-3-3v6m-1.5-2.1h6m-3-3v6m-2.4-.9h6m-3-3v6m-3.4-2h6m-3-3v6m-3.3-3.5h6m-3-3v6m1-.9h6m-3-3v6m-9.6-3h6m-3-3v6m-2.6-3.6h6m-3-3v6m.5-5.2h6m-3-3v6m-4.8-1.8h6m-3-3v6m.2-6h6m-3-3v6m-5.6-.1h6m-3-3v6m.3-3.2h6m-3-3v6m-5.8-4.5h6m-3-3v6m-.3-1.4h6m-3-3v6m-2.7-4.4h6m-3-3v6m-6.6-2.7h6m-3-3v6m-.7-4.6h6m-3-3v6m-3-3.6h6m-3-3v6m-3.4-2.6h6m-3-3v6m.7 .6h6m-3-3v6m-6.7-8h6m-3-3v6m-6 1h6m-3-3v6m-.8-3.7h6m-3-3v6m-5.9-6.7h6m-3-3v6m.4-.4h6m-3-3v6m-5.9-4.2h6m-3-3v6m1.2-2.2h6m-3-3v6m-3.4 1.2h6m-3-3v6m-3.5-6.1h6m-3-3v6m-4.8-.8h6m-3-3v6m-4.7-7.6h6m-3-3v6m-.2-3.8h6m-3-3v6m-1-1.3h6m-3-3v6m-3.9-2.4h6m-3-3v6m-4.5-2.3h6m-3-3v6m-6.5-5.2h6m-3-3v6m0 3.6h6m-3-3v6m-.4-6h6m-3-3v6m-6.7-2.7h6m-3-3v6m1.6-3.2h6m-3-3v6m-.3-7.2h6m-3-3v6m-10.4-.9h6m-3-3v6m-2.8-2.4h6m-3-3v6m0-3.1h6m-3-3v6m-3.8-2.1h6m-3-3v6m-1.7-5.2h6m-3-3v6m-5.9 .7h6m-3-3v6m-2.3-7h6m-3-3v6m-1.8-2.1h6m-3-3v6m-3.3-2.4h6m-3-3v6m-2-1h6m-3-3v6m-5.9-7.3h6m-3-3v6m1.9-1.9h6m-3-3v6m-9.3-5.5h6m-3-3v6m0-.5h6m-3-3v6m-6.6-3.6h6m-3-3v6m-1.5 .9h6m-3-3v6m-.4-5h6m-3-3v6m-6-3.3h6m-3-3v6m.9-2.3h6m-3-3v6m-2.2-3.2h6m-3-3v6m-3.8-2.3h6m-3-3v6m-5.5-1.2h6m-3-3v6m-1.1-4h6m-3-3v6m-5.9-6.8h6m-3-3v6m-1.2-2.5h6m-3-3v6m-1.4-.6h6m-3-3v6m-1.8-2.6h6m-3-3v6m-7.7-2.3h6m-3-3v6m-2-6.3h6m-3-3v6m-1.6-1.6h6m-3-3v6m-1.1 2.7h6m-3-3v6m-4.2-5.8h6m-3-3v6m-4.3-5.2h6m-3-3v6m-3.6-4.5h6m-3-3v6m.7-1.3h6m-3-3v6m-4.8-5.5h6m-3-3v6m-.4-1.7h6m-3-3v6m-7.7-2.7h6m-3-3v6m-.4-1.5h6m-3-3v6m-1.4-6.6h6m-3-3v6m-6.8 2.2h6m-3-3v6m2.4-7.3h6m-3-3v6m-7.7-4.9h6m-3-3v6m-4.5-1.6h6m-3-3v6m-1.5-3.6h6m-3-3v6m-1-.8h6m-3-3v6m-5.3-1h6m-3-3v6m-3.1-7.3h6m-3-3v6m-2.4 3.8h6m-3-3v6m-2.8-6.3h6m-3-3v6m-3.6-4.5h6m-3-3v6m-1.6-7.8h6m-3-3v6m-6.5 1h6m-3-3v6m-1.1 1.1h6m-3-3v6m2.5-4.6h6m-3-3v6m-7.1-2.9h6m-3-3v6m-.8-6.3h6m-3-3v6m-7-.8h6m-3-3v6m-1.4-7.1h6m-3-3v6" stroke="#bcbd22" stroke-opacity="0.62" stroke-width="1.0" fill="none"/>
<path d="M224.4 256.1h6m-3-3v6m-2.3 1.9h6m-3-3v6m-9.1-3.7h6m-3-3v6m1.9-5.2h6m-3-3v6m-1.5 2.2h6m-3-3v6m-3.9-9.2h6m-3-3v6m-6.8-3.1h6m-3-3v6m-2.2 1.6h6m-3-3v6m-.4-5.3h6m-3-3v6m-1.8-3h6m-3-3v6m-4.7-4.7h6m-3-3v6m-4.3-1.2h6m-3-3v6m-4.1 .2h6m-3-3v6m-.4-7.4h6m-3-3v6m-1.3-4h6m-3-3v6m-2.9-.7h6m-3-3v6m-1.3-4.3h6m-3-3v6m-7.6-3.6h6m-3-3v6m-4.7-.8h6m-3-3v6m-2.6-2.9h6m-3-3v6m-2.1-1.5h6m-3-3v6m-6.9-4.3h6m-3-3v6m2.2-3.8h6m-3-3v6m-4.3 .5h6m-3-3v6m-2.6-5.6h6m-3-3v6m-2.7-4.6h6m-3-3v6m-2.3-1h6m-3-3v6m-5.4-5.2h6m-3-3v6m-3.6-1.3h6m-3-3v6m-1.9-5.3h6m-3-3v6m0-1.5h6m-3-3v6m-3.5-3.3h6m-3-3v6m-3-2.5h6m-3-3v6m-6-2.8h6m-3-3v6m-1.5-3.9h6m-3-3v6m-1.7-3.6h6m-3-3v6m-5.7 .5h6m-3-3v6m2.8-6.1h6m-3-3v6m-4.4-1.5h6m-3-3v6m-6.6-5.5h6m-3-3v6m-2.2-2.2h6m-3-3v6m-3.1-2.3h6m-3-3v6m-4.6-1.1h6m-3-3v6m-3-6.8h6m-3-3v6m1.1 .6h6m-3-3v6m-2-4.2h6m-3-3v6m-7.2-1h6m-3-3v6m-1.9-5.5h6m-3-3v6m-4.5-2h6m-3-3v6m-6-2.8h6m-3-3v6m-2.3-2.3h6m-3-3v6m-2.1-3.3h6m-3-3v6m5.1-5h6m-3-3v6m-10.3 1.5h6m-3-3v6m-1.6-9.1h6m-3-3v6m.4-6.5h6m-3-3v6m-8.4 .1h6m-3-3v6m-1.5-4.4h6m-3-3v6m.1 3h6m-3-3v6m-4.8-5.8h6m-3-3v6m-6-1.3h6m-3-3v6m-1.3-2.7h6m-3-3v6m.5-4.1h6m-3-3v6m-9.3-5h6m-3-3v6m4-.6h6m-3-3v6m-2.9-8h6m-3-3v6m-6.1 1.1h6m-3-3v6m-6-3.9h6m-3-3v6m2.2-.6h6m-3-3v6m-6-3.4h6m-3-3v6m.4-5.9h6m-3-3v6m-4.8 1.3h6m-3-3v6m-4.9-2.5h6m-3-3v6m-1.8-3.4h6m-3-3v6m-1-4.7h6m-3-3v6m-5.5-4.8h6m-3-3v6m-2-1.3h6m-3-3v6m-.6-3.6h6m-3-3v6m-5.1 .6h6m-3-3v6m-3-5.5h6m-3-3v6m-.4-3.7h6m-3-3v6m-5.5-1.7h6m-3-3v6m-4-6.7h6m-3-3v6m-5.7-1.2h6m-3-3v6m2.2-.6h6m-3-3v6m-2-3.2h6m-3-3v6m-7.6-7.7h6m-3-3v6m-2.7-.6h6m-3-3v6m-3.4-.6h6m-3-3v6m-3.1-3.7h6m-3-3v6m.1-7.7h6m-3-3v6m-5.4 3h6m-3-3v6m-.5-5.2h6m-3-3v6m-6.9-4.7h6m-3-3v6m-.6 .9h6m-3-3v6m-2.2-5.7h6m-3-3v6m-3.5-1.2h6m-3-3v6m-7-6.6h6m-3-3v6m.6 1.4h6m-3-3v6m-.9-7h6m-3-3v6m-5.1-2.9h6m-3-3v6m-3.8-1.2h6m-3-3v6m-3-4.4h6m-3-3v6m-4.6-5.1h6m-3-3v6m-1.1 .6h6m-3-3v6m-1.3-5h6m-3-3v6m-5.7 1.1h6m-3-3v6m-.7-3.7h6m-3-3v6m-5-6.2h6m-3-3v6m-4.2 .4h6m-3-3v6m-2.9-8.5h6m-3-3v6m-2.3 3h6m-3-3v6m-1.4-5h6m-3-3v6m-2.8-3.6h6m-3-3v6m-3.6-5.7h6m-3-3v6m.6-.5h6m-3-3v6m-3.9-5.8h6m-3-3v6m-4.3-2.3h6m-3-3v6m-6.7-.1h6m-3-3v6m1.7-.8h6m-3-3v6m-2.4-6.2h6m-3-3v6m-4.1-3.7h6m-3-3v6m-5.7-1.3h6m-3-3v6m-2.1-1.8h6m-3-3v6m-6.4-2.4h6m-3-3v6m-.5-2.4h6m-3-3v6m.4-8.2h6m-3-3v6m-5.4 .7h6m-3-3v6m-4.5-5.9h6m-3-3v6m-2 0h6m-3-3v6m-.6-5.3h6m-3-3v6m-3.1 .7h6m-3-3v6m-2.8-7.4h6m-3-3v6m-6.5-.9h6m-3-3v6m.3-2.7h6m-3-3v6m-5.4-5.7h6m-3-3v6m.3-1.5h6m-3-3v6m-1.8-5h6m-3-3v6m-7.4-2h6m-3-3v6m1.3 .8h6m-3-3v6m-7.6-9.3h6m-3-3v6m.2 1.1h6m-3-3v6m-7.5-6.3h6m-3-3v6m0-.4h6m-3-3v6m-3.5-1.8h6m-3-3v6m-4-4.3h6m-3-3v6m-.9-2.7h6m-3-3v6m-4.9-1.5h6m-3-3v6m-6.4-1.8h6m-3-3v6m1.8-7h6m-3-3v6" stroke="#17becf" stroke-opacity="0.62" stroke-width="1.0" fill="none"/>
<path d="M216.5 261.3h6m-3-3v6m-1-9.9h6m-3-3v6m-7.3 1.5h6m-3-3v6m4.8-1.6h6m-3-3v6m-8.5-3.5h6m-3-3v6m-2.4-5h6m-3-3v6m-2-7.2h6m-3-3v6m-1.3 3.1h6m-3-3v6m-7-6.1h6m-3-3v6m-5.1-.5h6m-3-3v6m.7-3.2h6m-3-3v6m1.4-8.4h6m-3-3v6m-9.8 .3h6m-3-3v6m1.7-1.8h6m-3-3v6m-8.3-2h6m-3-3v6m.8 .2h6m-3-3v6m-3.5-7.7h6m-3-3v6m-5.1-3.8h6m-3-3v6m-.2 .7h6m-3-3v6m-5-5.2h6m-3-3v6m1.5-2.4h6m-3-3v6m-5.5-5.7h6m-3-3v6m-6.1-5.4h6m-3-3v6m-5.1 2.7h6m-3-3v6m4.3-4.5h6m-3-3v6m-9.8-2.2h6m-3-3v6m3.5-3.5h6m-3-3v6m-3.6-2.8h6m-3-3v6m-9-4.9h6m-3-3v6m-.3 4.2h6m-3-3v6m-.7-8.7h6m-3-3v6m-3.8-2h6m-3-3v6m-5-3.7h6m-3-3v6m-2.5-1.1h6m-3-3v6m2.1-1.6h6m-3-3v6m-8.3-4.8h6m-3-3v6m-4.1-6.8h6m-3-3v6m-.8 .9h6m-3-3v6m-3.3-2.5h6m-3-3v6m-.6-3.1h6m-3-3v6m-5.7-7.9h6m-3-3v6m2.4-1h6m-3-3v6m-5.9-.8h6m-3-3v6m-6 .1h6m-3-3v6m-.2-7.2h6m-3-3v6m-6-5.2h6m-3-3v6m-5.4 .5h6m-3-3v6m-.7-5.3h6m-3-3v6m-.4-2.8h6m-3-3v6m-2.6-3.6h6m-3-3v6m-6.2 .5h6m-3-3v6m-3.5-3.7h6m-3-3v6m.3-4.4h6m-3-3v6m-9-6h6m-3-3v6m-1.4-2.9h6m-3-3v6m2.4-2.1h6m-3-3v6m-8.8-2.1h6m-3-3v6m.2-5.7h6m-3-3v6m-1.1 2.5h6m-3-3v6m-6.3-2.8h6m-3-3v6m-5.7-6.1h6m-3-3v6m.9-1.6h6m-3-3v6m.6-3.9h6m-3-3v6m-9-1.8h6m-3-3v6m.3-2.5h6m-3-3v6m-4.4-3.6h6m-3-3v6m-3.7-2.1h6m-3-3v6m-3.2-5.7h6m-3-3v6m2-3.3h6m-3-3v6m-6.2 0h6m-3-3v6m-3.9-2.2h6m-3-3v6m-3.7-2.8h6m-3-3v6m-5.7-8.3h6m-3-3v6m1.5 3.3h6m-3-3v6m1.3-8.2h6m-3-3v6m-7.6-2.2h6m-3-3v6m-8.8-.2h6m-3-3v6m1.9-1.6h6m-3-3v6m-1.2-7.3h6m-3-3v6m-5.7-2.2h6m-3-3v6m.2-3.7h6m-3-3v6m3.4-1.4h6m-3-3v6m-13.8-3.3h6m-3-3v6m3.3-2.2h6m-3-3v6m-7.1-5.5h6m-3-3v6m-4.3-4.2h6m-3-3v6m-2.2 .3h6m-3-3v6m-3.1 .1h6m-3-3v6m-.4-7.7h6m-3-3v6m-4.2 1.3h6m-3-3v6m-7.6-5.7h6m-3-3v6m9.1-1.3h6m-3-3v6m-12.9-5h6m-3-3v6m-1.1 3h6m-3-3v6m-4.2-9.9h6m-3-3v6m-2.1-5.6h6m-3-3v6m-11.2-.3h6m-3-3v6m7.5-3.5h6m-3-3v6m-3-.3h6m-3-3v6m-2.5-8.5h6m-3-3v6m-.7 2.8h6m-3-3v6m-5-5h6m-3-3v6m-5.2-4.2h6m-3-3v6m-1.8 .3h6m-3-3v6m-5.8-3.2h6m-3-3v6m-2.7-3.5h6m-3-3v6m-2.1-2.4h6m-3-3v6m2.7-4.5h6m-3-3v6m-9.6-4.4h6m-3-3v6m0-3.2h6m-3-3v6m-2-1.2h6m-3-3v6m-3.2-4.9h6m-3-3v6m-8.1-3.5h6m-3-3v6m.7-3.1h6m-3-3v6m-2.2-5.8h6m-3-3v6m-6.7 1.3h6m-3-3v6m-6.2-4.1h6m-3-3v6m-2.1-1.7h6m-3-3v6m.5-1.2h6m-3-3v6m-4.7-8.4h6m-3-3v6m-2.2 1h6m-3-3v6m-1.2-2.9h6m-3-3v6m.1-4.2h6m-3-3v6m-7-4.1h6m-3-3v6m-4 1.3h6m-3-3v6m-.4-11.3h6m-3-3v6m-.6-1.6h6m-3-3v6m-7.5 3.7h6m-3-3v6m-1.5-3.9h6m-3-3v6m-1-3.6h6m-3-3v6m-8.8-2.8h6m-3-3v6m-1.5-9.3h6m-3-3v6m-1.9 3.7h6m-3-3v6m-1.8-4.2h6m-3-3v6m1.4-2.4h6m-3-3v6m-5.2-2.9h6m-3-3v6m-1-4.6h6m-3-3v6m-4.3 2h6m-3-3v6m-7.3-4.8h6m-3-3v6m-5.7-4.6h6m-3-3v6m2.8-5.6h6m-3-3v6m-10-1h6m-3-3v6m1.1-2.7h6m-3-3v6m-1.3-1.6h6m-3-3v6m.5-3.9h6m-3-3v6m-11.6-2.4h6m-3-3v6m2.3-4.2h6m-3-3v6m.3-2.7h6m-3-3v6m-8.3-2.6h6m-3-3v6m-6.4-1.9h6m-3-3v6" stroke="#1f77b4" stroke-opacity="0.62" stroke-width="1.0" fill="none"/>
<rect x="34.0" y="241.3" width="267.0" height="199.1" fill="none" stroke="#2a2a2a" stroke-width="0.85"/>
<path d="M56.35 440.4v2.4M110.49 440.4v2.4M164.62 440.4v2.4M218.76 440.4v2.4M272.90 440.4v2.4M34.0 421.24h-2.4M34.0 389.30h-2.4M34.0 357.36h-2.4M34.0 325.43h-2.4M34.0 293.49h-2.4M34.0 261.55h-2.4" stroke="#2a2a2a" stroke-width="0.85" fill="none"/>
<g font-family="Liberation Sans, sans-serif" font-size="8.1" fill="#000">
<text x="56.35" y="451.1" text-anchor="middle">0.4</text>
<text x="110.49" y="451.1" text-anchor="middle">0.5</text>
<text x="164.62" y="451.1" text-anchor="middle">0.6</text>
<text x="218.76" y="451.1" text-anchor="middle">0.7</text>
<text x="272.90" y="451.1" text-anchor="middle">0.8</text>
<text x="28.4" y="424.14" text-anchor="end">−0.1</text>
<text x="28.4" y="392.20" text-anchor="end">0.0</text>
<text x="28.4" y="360.26" text-anchor="end">0.1</text>
<text x="28.4" y="328.32" text-anchor="end">0.2</text>
<text x="28.4" y="296.39" text-anchor="end">0.3</text>
<text x="28.4" y="264.45" text-anchor="end">0.4</text>
<text x="167.3" y="459.5" font-size="7.6" text-anchor="middle">HR1</text>
<text transform="translate(7.4,341.7) rotate(-90)" font-size="7.6" text-anchor="middle">HR2</text>
</g>
<g font-family="Liberation Serif, serif" font-size="15.2" fill="#111">
<text x="40.8" y="258.5" textLength="42.0" lengthAdjust="spacingAndGlyphs">Counts</text>
<text transform="translate(85.8,258.5) scale(1.2,1)">∼</text>
<text x="103.4" y="258.5" textLength="34.7" lengthAdjust="spacingAndGlyphs">20000</text>
<text x="40.8" y="275.9" textLength="16.5" lengthAdjust="spacingAndGlyphs">cos</text>
<text x="57.6" y="275.9">(</text>
<text x="62.6" y="275.9" font-style="italic">θ</text>
<text x="70.4" y="278.7" font-size="10.8" textLength="14.8" lengthAdjust="spacingAndGlyphs">inc</text>
<text x="84.9" y="275.9">)</text>
<text transform="translate(94.3,275.9) scale(1.27,1)">=</text>
<text x="108.6" y="275.9" textLength="24.8" lengthAdjust="spacingAndGlyphs">0.71</text>
</g>
<path d="M389.9 427.7h3.4m-1.7-1.7v3.4m-.1-4.2h3.4m-1.7-1.7v3.4m-3-4.6h3.4m-1.7-1.7v3.4m-2.4 1.1h3.4m-1.7-1.7v3.4m1.1-1.4h3.4m-1.7-1.7v3.4m-2.4-1.3h3.4m-1.7-1.7v3.4m-5-2.4h3.4m-1.7-1.7v3.4m-.8-4.6h3.4m-1.7-1.7v3.4m-5.2 2.2h3.4m-1.7-1.7v3.4m6.2-.6h3.4m-1.7-1.7v3.4m-7.8-1.5h3.4m-1.7-1.7v3.4m4.7-6h3.4m-1.7-1.7v3.4m-4.6 3h3.4m-1.7-1.7v3.4m-2.7-2.7h3.4m-1.7-1.7v3.4m-3.6-4.6h3.4m-1.7-1.7v3.4m2.3-1.3h3.4m-1.7-1.7v3.4m-3.7-1.3h3.4m-1.7-1.7v3.4m-4.8 1h3.4m-1.7-1.7v3.4m.7-5.1h3.4m-1.7-1.7v3.4m-2.5-1h3.4m-1.7-1.7v3.4m-3-.2h3.4m-1.7-1.7v3.4m-.1-1.8h3.4m-1.7-1.7v3.4m-3.2-5.1h3.4m-1.7-1.7v3.4m-1.8 .6h3.4m-1.7-1.7v3.4m-2.8-.6h3.4m-1.7-1.7v3.4m1-1.6h3.4m-1.7-1.7v3.4m-1.9-1.8h3.4m-1.7-1.7v3.4m-3.4-5.3h3.4m-1.7-1.7v3.4m2.6-.7h3.4m-1.7-1.7v3.4m-.4-1.9h3.4m-1.7-1.7v3.4m-3.2-2h3.4m-1.7-1.7v3.4m-7.7 2.5h3.4m-1.7-1.7v3.4m2.4-2.5h3.4m-1.7-1.7v3.4m-.7-6.8h3.4m-1.7-1.7v3.4m-1.1 3.6h3.4m-1.7-1.7v3.4m.7-.7h3.4m-1.7-1.7v3.4m-4.1-4.9h3.4m-1.7-1.7v3.4m-2.6-3.7h3.4m-1.7-1.7v3.4m.1 1.8h3.4m-1.7-1.7v3.4m-2.7-4.5h3.4m-1.7-1.7v3.4m-1-1.3h3.4m-1.7-1.7v3.4m-.1-1.8h3.4m-1.7-1.7v3.4m-6.4-1.2h3.4m-1.7-1.7v3.4m-3-2.7h3.4m-1.7-1.7v3.4m.3-4.7h3.4m-1.7-1.7v3.4m4.3 3.6h3.4m-1.7-1.7v3.4m-6.2-4h3.4m-1.7-1.7v3.4m-2-.1h3.4m-1.7-1.7v3.4m-1.9-4.4h3.4m-1.7-1.7v3.4m-2.3-2.5h3.4m-1.7-1.7v3.4m-1.9 .2h3.4m-1.7-1.7v3.4m-2.8-.7h3.4m-1.7-1.7v3.4m2.1 1.2h3.4m-1.7-1.7v3.4m-3.8-6h3.4m-1.7-1.7v3.4m2.2-2.3h3.4m-1.7-1.7v3.4m-7.2 .5h3.4m-1.7-1.7v3.4m-2.2 1.2h3.4m-1.7-1.7v3.4m1.4-2.2h3.4m-1.7-1.7v3.4m-3.6-2h3.4m-1.7-1.7v3.4m-1.3-3.7h3.4m-1.7-1.7v3.4m-.5-.6h3.4m-1.7-1.7v3.4m-1-2.9h3.4m-1.7-1.7v3.4m-7.2-1.9h3.4m-1.7-1.7v3.4m-4.9-1.6h3.4m-1.7-1.7v3.4m3.3 .4h3.4m-1.7-1.7v3.4m-6.8 .5h3.4m-1.7-1.7v3.4m4.6-8.5h3.4m-1.7-1.7v3.4m.4 2.2h3.4m-1.7-1.7v3.4m-1.7 1.5h3.4m-1.7-1.7v3.4m-5.1-5.2h3.4m-1.7-1.7v3.4m1-3.6h3.4m-1.7-1.7v3.4m-1.4 2h3.4m-1.7-1.7v3.4m-4.7-3.3h3.4m-1.7-1.7v3.4m3.3-1.3h3.4m-1.7-1.7v3.4m-8.7-2.4h3.4m-1.7-1.7v3.4m1.5 .1h3.4m-1.7-1.7v3.4m-1-.3h3.4m-1.7-1.7v3.4m-4.6-4.5h3.4m-1.7-1.7v3.4m-.8 .7h3.4m-1.7-1.7v3.4m4.9-6.7h3.4m-1.7-1.7v3.4m-3.9-.1h3.4m-1.7-1.7v3.4m-8.1-3.6h3.4m-1.7-1.7v3.4m2.9 1.3h3.4m-1.7-1.7v3.4m-2.9-2.1h3.4m-1.7-1.7v3.4m.1-1.8h3.4m-1.7-1.7v3.4m-5.7-1.9h3.4m-1.7-1.7v3.4m2.9-4.8h3.4m-1.7-1.7v3.4m1 3.8h3.4m-1.7-1.7v3.4m-5.4-.5h3.4m-1.7-1.7v3.4m-4.3-7.4h3.4m-1.7-1.7v3.4m-1.2-1.2h3.4m-1.7-1.7v3.4m4.9-.3h3.4m-1.7-1.7v3.4m-6.8-1.1h3.4m-1.7-1.7v3.4m2.7-2.1h3.4m-1.7-1.7v3.4m-6.9-1.5h3.4m-1.7-1.7v3.4m2.6-2.6h3.4m-1.7-1.7v3.4m-1.3-.7h3.4m-1.7-1.7v3.4m-5.9-1.4h3.4m-1.7-1.7v3.4m4.1-3.1h3.4m-1.7-1.7v3.4m-3.3-.1h3.4m-1.7-1.7v3.4m-5-2.7h3.4m-1.7-1.7v3.4m.1-.6h3.4m-1.7-1.7v3.4m-2.9-1.7h3.4m-1.7-1.7v3.4m-5-4.1h3.4m-1.7-1.7v3.4m-2.1-1.1h3.4m-1.7-1.7v3.4" stroke="#1f77b4" stroke-opacity="0.62" stroke-width="1.0" fill="none"/>
<path d="M459.8 412.1h3.4m-1.7-1.7v3.4m-.1-2.8h3.4m-1.7-1.7v3.4m-3.4 1.6h3.4m-1.7-1.7v3.4m2.5-3.2h3.4m-1.7-1.7v3.4m-2.8 .7h3.4m-1.7-1.7v3.4m-6.5-3.8h3.4m-1.7-1.7v3.4m-1.7-2.8h3.4m-1.7-1.7v3.4m1.4-3.2h3.4m-1.7-1.7v3.4m-1.4 .3h3.4m-1.7-1.7v3.4m-3.4-.5h3.4m-1.7-1.7v3.4m-3-5.7h3.4m-1.7-1.7v3.4m.2 0h3.4m-1.7-1.7v3.4m-2.2-2.3h3.4m-1.7-1.7v3.4m-3.3-1.6h3.4m-1.7-1.7v3.4m-2.5-1.3h3.4m-1.7-1.7v3.4m-.6-.2h3.4m-1.7-1.7v3.4m6.9-2.9h3.4m-1.7-1.7v3.4m-12 .4h3.4m-1.7-1.7v3.4m-1-4.3h3.4m-1.7-1.7v3.4m.3 0h3.4m-1.7-1.7v3.4m-.8-1.4h3.4m-1.7-1.7v3.4m-2.2-.2h3.4m-1.7-1.7v3.4m.4-4.6h3.4m-1.7-1.7v3.4m-4-3.1h3.4m-1.7-1.7v3.4m.2 .3h3.4m-1.7-1.7v3.4m1-2.5h3.4m-1.7-1.7v3.4m-2.5-2.1h3.4m-1.7-1.7v3.4m-8.6-1.6h3.4m-1.7-1.7v3.4m2.6 1.6h3.4m-1.7-1.7v3.4m-4.3-1.8h3.4m-1.7-1.7v3.4m-.9-4.3h3.4m-1.7-1.7v3.4m-1.3 2.1h3.4m-1.7-1.7v3.4m-.6-4.1h3.4m-1.7-1.7v3.4m-5.4-1.9h3.4m-1.7-1.7v3.4m2.2 .9h3.4m-1.7-1.7v3.4m-4.2-5.9h3.4m-1.7-1.7v3.4m-1.8-1.6h3.4m-1.7-1.7v3.4m1.7-1.9h3.4m-1.7-1.7v3.4m-.4-.3h3.4m-1.7-1.7v3.4m-6.4-2.9h3.4m-1.7-1.7v3.4m-2.7-3.1h3.4m-1.7-1.7v3.4m3.7 2.4h3.4m-1.7-1.7v3.4m-6.2-4h3.4m-1.7-1.7v3.4m3.8-2.2h3.4m-1.7-1.7v3.4m-4.7 .5h3.4m-1.7-1.7v3.4m-2.6-3h3.4m-1.7-1.7v3.4m-2-1.1h3.4m-1.7-1.7v3.4m-4.3-1.9h3.4m-1.7-1.7v3.4m2-4.1h3.4m-1.7-1.7v3.4m-1.1-1h3.4m-1.7-1.7v3.4m-8.3-3.5h3.4m-1.7-1.7v3.4m4.2 2.7h3.4m-1.7-1.7v3.4m-2.9-5.2h3.4m-1.7-1.7v3.4m-1.1 2.5h3.4m-1.7-1.7v3.4m-1.5-6h3.4m-1.7-1.7v3.4m-.6 .6h3.4m-1.7-1.7v3.4m-3-1.3h3.4m-1.7-1.7v3.4m-.2-2h3.4m-1.7-1.7v3.4m-4.9-1.7h3.4m-1.7-1.7v3.4m.6 .6h3.4m-1.7-1.7v3.4m-4.6-4h3.4m-1.7-1.7v3.4m-1-1h3.4m-1.7-1.7v3.4m-.9-7.6h3.4m-1.7-1.7v3.4m1.5 2.6h3.4m-1.7-1.7v3.4m-6.1-3.2h3.4m-1.7-1.7v3.4m-1.7-1.4h3.4m-1.7-1.7v3.4m.3 .9h3.4m-1.7-1.7v3.4m-1.5-1.3h3.4m-1.7-1.7v3.4m-3.4-1.3h3.4m-1.7-1.7v3.4m-.1-2h3.4m-1.7-1.7v3.4m-.2-3.1h3.4m-1.7-1.7v3.4m-.3 .3h3.4m-1.7-1.7v3.4m-5.3 0h3.4m-1.7-1.7v3.4m2.8-7.5h3.4m-1.7-1.7v3.4m-10.1-.1h3.4m-1.7-1.7v3.4m4.1 1.1h3.4m-1.7-1.7v3.4m-1.2-3.4h3.4m-1.7-1.7v3.4m-1.1-.4h3.4m-1.7-1.7v3.4m-4.7-2.6h3.4m-1.7-1.7v3.4m1.5-3.2h3.4m-1.7-1.7v3.4m-5.3-2h3.4m-1.7-1.7v3.4m2.8 .9h3.4m-1.7-1.7v3.4m-3-3.5h3.4m-1.7-1.7v3.4m-3.6 1.1h3.4m-1.7-1.7v3.4m-2.2-1.8h3.4m-1.7-1.7v3.4m-1.2-3.8h3.4m-1.7-1.7v3.4m-.5-.1h3.4m-1.7-1.7v3.4m.9-3.8h3.4m-1.7-1.7v3.4m-1.8-2.5h3.4m-1.7-1.7v3.4m-7.2-4.3h3.4m-1.7-1.7v3.4m2 4.9h3.4m-1.7-1.7v3.4m-6.1-4.9h3.4m-1.7-1.7v3.4m.3-3.9h3.4m-1.7-1.7v3.4m-1 1.6h3.4m-1.7-1.7v3.4m-2.9-4h3.4m-1.7-1.7v3.4m-.3 1.1h3.4m-1.7-1.7v3.4m-5.1-2.9h3.4m-1.7-1.7v3.4m2.6-6.5h3.4m-1.7-1.7v3.4m-2.2 6.3h3.4m-1.7-1.7v3.4m-5.2-2.4h3.4m-1.7-1.7v3.4m.4-3h3.4m-1.7-1.7v3.4m-1.4-4.7h3.4m-1.7-1.7v3.4m-5 4.5h3.4m-1.7-1.7v3.4m-.9-6.4h3.4m-1.7-1.7v3.4m4.2-.7h3.4m-1.7-1.7v3.4" stroke="#ff7f0e" stroke-opacity="0.62" stroke-width="1.0" fill="none"/>
<path d="M507.1 396.8h3.4m-1.7-1.7v3.4m-3.1-.5h3.4m-1.7-1.7v3.4m-3.9 1.5h3.4m-1.7-1.7v3.4m3.2-3.8h3.4m-1.7-1.7v3.4m-4.5 .5h3.4m-1.7-1.7v3.4m1.2-4.4h3.4m-1.7-1.7v3.4m-1.2 2h3.4m-1.7-1.7v3.4m-3.9-5.5h3.4m-1.7-1.7v3.4m-.6 1.6h3.4m-1.7-1.7v3.4m.5-4.1h3.4m-1.7-1.7v3.4m-2-1.2h3.4m-1.7-1.7v3.4m-3.7-1.3h3.4m-1.7-1.7v3.4m-2.5 1.2h3.4m-1.7-1.7v3.4m-3.1-2.8h3.4m-1.7-1.7v3.4m-1-3.4h3.4m-1.7-1.7v3.4m-2.5-1.2h3.4m-1.7-1.7v3.4m-4.1-2.6h3.4m-1.7-1.7v3.4m3.9 .4h3.4m-1.7-1.7v3.4m-6.6-5.4h3.4m-1.7-1.7v3.4m.6 3.9h3.4m-1.7-1.7v3.4m-1.8-5.2h3.4m-1.7-1.7v3.4m-1.3-1.1h3.4m-1.7-1.7v3.4m-3-1.8h3.4m-1.7-1.7v3.4m.9-.2h3.4m-1.7-1.7v3.4m-4.2-2h3.4m-1.7-1.7v3.4m3.5-1.9h3.4m-1.7-1.7v3.4m-4-7.7h3.4m-1.7-1.7v3.4m-.5 6.4h3.4m-1.7-1.7v3.4m-1.9-4.3h3.4m-1.7-1.7v3.4m-2.4 2.9h3.4m-1.7-1.7v3.4m-4.6-8h3.4m-1.7-1.7v3.4m1.7-.5h3.4m-1.7-1.7v3.4m-7.8-1.7h3.4m-1.7-1.7v3.4m3-3.9h3.4m-1.7-1.7v3.4m-1.6 .5h3.4m-1.7-1.7v3.4m-5.8-1.2h3.4m-1.7-1.7v3.4m5.7 .6h3.4m-1.7-1.7v3.4m-7.9-7.5h3.4m-1.7-1.7v3.4m.6 1.4h3.4m-1.7-1.7v3.4m-4.4-3.7h3.4m-1.7-1.7v3.4m3.4 .2h3.4m-1.7-1.7v3.4m-2.3-2.2h3.4m-1.7-1.7v3.4m-1.7-2.7h3.4m-1.7-1.7v3.4m-4.6-2.5h3.4m-1.7-1.7v3.4m-4.4-.6h3.4m-1.7-1.7v3.4m-.6-1.9h3.4m-1.7-1.7v3.4m1.1-.4h3.4m-1.7-1.7v3.4m-1.2-2.8h3.4m-1.7-1.7v3.4m-2.6 1.2h3.4m-1.7-1.7v3.4m-1.9-3.8h3.4m-1.7-1.7v3.4m-6-3.9h3.4m-1.7-1.7v3.4m5-1.2h3.4m-1.7-1.7v3.4m-5.8 1.7h3.4m-1.7-1.7v3.4m-2-1.6h3.4m-1.7-1.7v3.4m.4-4.8h3.4m-1.7-1.7v3.4m-5.3 2h3.4m-1.7-1.7v3.4m-1.3-6.5h3.4m-1.7-1.7v3.4m3.2-1.7h3.4m-1.7-1.7v3.4m-2.2 .5h3.4m-1.7-1.7v3.4m-3.2-3.6h3.4m-1.7-1.7v3.4m-2.4 .8h3.4m-1.7-1.7v3.4m-2.3-1h3.4m-1.7-1.7v3.4m.6-1.9h3.4m-1.7-1.7v3.4m-1.7-1.6h3.4m-1.7-1.7v3.4m-1.5-1.2h3.4m-1.7-1.7v3.4m-1.7-2.7h3.4m-1.7-1.7v3.4m-4.1-5.6h3.4m-1.7-1.7v3.4m.1 3.4h3.4m-1.7-1.7v3.4m-3.5-6.5h3.4m-1.7-1.7v3.4m-1 2h3.4m-1.7-1.7v3.4m.9-3h3.4m-1.7-1.7v3.4m-5.5-1.2h3.4m-1.7-1.7v3.4m1.8-1.7h3.4m-1.7-1.7v3.4m-1.1-2.6h3.4m-1.7-1.7v3.4m-1.9 2.4h3.4m-1.7-1.7v3.4m-5.3-6.4h3.4m-1.7-1.7v3.4m1.4 5.8h3.4m-1.7-1.7v3.4m-1.9-7.6h3.4m-1.7-1.7v3.4m-.2-1.9h3.4m-1.7-1.7v3.4m-7.2-3.3h3.4m-1.7-1.7v3.4m3.9-3.1h3.4m-1.7-1.7v3.4m-7 3.1h3.4m-1.7-1.7v3.4m1.3-1h3.4m-1.7-1.7v3.4m-4-5.4h3.4m-1.7-1.7v3.4m-.3-2.6h3.4m-1.7-1.7v3.4m-1.5 .3h3.4m-1.7-1.7v3.4m.4-1.6h3.4m-1.7-1.7v3.4m-4.1-.6h3.4m-1.7-1.7v3.4m1.1-.6h3.4m-1.7-1.7v3.4m-3.3-4.4h3.4m-1.7-1.7v3.4m-3.1-3.5h3.4m-1.7-1.7v3.4m-.7 .8h3.4m-1.7-1.7v3.4m1.3-1.3h3.4m-1.7-1.7v3.4m-3.4 .4h3.4m-1.7-1.7v3.4m-6.6-5.4h3.4m-1.7-1.7v3.4m1.4-.3h3.4m-1.7-1.7v3.4m-3.4-.3h3.4m-1.7-1.7v3.4m2.1-2.3h3.4m-1.7-1.7v3.4m-2.1-4.8h3.4m-1.7-1.7v3.4m-.8-.8h3.4m-1.7-1.7v3.4m-7.5-.3h3.4m-1.7-1.7v3.4m2.7-3.2h3.4m-1.7-1.7v3.4m-5.6-2.6h3.4m-1.7-1.7v3.4m1.1-4.3h3.4m-1.7-1.7v3.4m.6 5h3.4m-1.7-1.7v3.4" stroke="#2ca02c" stroke-opacity="0.62" stroke-width="1.0" fill="none"/>
<path d="M539 389.7h3.4m-1.7-1.7v3.4m-1.6-5h3.4m-1.7-1.7v3.4m-.5 .9h3.4m-1.7-1.7v3.4m-4.1-4.7h3.4m-1.7-1.7v3.4m-1.8 2.2h3.4m-1.7-1.7v3.4m-.6 .7h3.4m-1.7-1.7v3.4m-2.3-5h3.4m-1.7-1.7v3.4m-.2-2.9h3.4m-1.7-1.7v3.4m-.9-2.7h3.4m-1.7-1.7v3.4m-3.1-2.1h3.4m-1.7-1.7v3.4m-4.9 .1h3.4m-1.7-1.7v3.4m-.1-3.7h3.4m-1.7-1.7v3.4m.9 0h3.4m-1.7-1.7v3.4m-2 1.1h3.4m-1.7-1.7v3.4m-2-3.6h3.4m-1.7-1.7v3.4m-3.8-1.1h3.4m-1.7-1.7v3.4m1.4-4.5h3.4m-1.7-1.7v3.4m-2 .3h3.4m-1.7-1.7v3.4m-3-2h3.4m-1.7-1.7v3.4m2.2-2.8h3.4m-1.7-1.7v3.4m-5.8-.6h3.4m-1.7-1.7v3.4m-1.5-4.6h3.4m-1.7-1.7v3.4m-.4 2.4h3.4m-1.7-1.7v3.4m-.1-3.9h3.4m-1.7-1.7v3.4m-6.2 .1h3.4m-1.7-1.7v3.4m-1.3-2.7h3.4m-1.7-1.7v3.4m-.8-1.4h3.4m-1.7-1.7v3.4m-1.8-.9h3.4m-1.7-1.7v3.4m-2.4 .8h3.4m-1.7-1.7v3.4m.9-6.2h3.4m-1.7-1.7v3.4m-4.3-1h3.4m-1.7-1.7v3.4m-1-2.7h3.4m-1.7-1.7v3.4m1.1 1h3.4m-1.7-1.7v3.4m-5.4-2.3h3.4m-1.7-1.7v3.4m-.1-1.4h3.4m-1.7-1.7v3.4m-2.7 .3h3.4m-1.7-1.7v3.4m-.6-1.9h3.4m-1.7-1.7v3.4m-2.5-2.6h3.4m-1.7-1.7v3.4m-1.1-1.3h3.4m-1.7-1.7v3.4m-1.9-5.8h3.4m-1.7-1.7v3.4m-3-1h3.4m-1.7-1.7v3.4m.8-.2h3.4m-1.7-1.7v3.4m-2.4-.7h3.4m-1.7-1.7v3.4m.6-4.8h3.4m-1.7-1.7v3.4m-2.7 3.3h3.4m-1.7-1.7v3.4m-4.1-6h3.4m-1.7-1.7v3.4m-.2-.5h3.4m-1.7-1.7v3.4m-3.1-2.2h3.4m-1.7-1.7v3.4m1.5-.2h3.4m-1.7-1.7v3.4m-5.3-5.6h3.4m-1.7-1.7v3.4m-2.1 1.1h3.4m-1.7-1.7v3.4m-1.2-3.2h3.4m-1.7-1.7v3.4m.5-.9h3.4m-1.7-1.7v3.4m-3.3-.9h3.4m-1.7-1.7v3.4m1-1.6h3.4m-1.7-1.7v3.4m-2.8-2h3.4m-1.7-1.7v3.4m-.4-3.7h3.4m-1.7-1.7v3.4m-5.8-.6h3.4m-1.7-1.7v3.4m3.1 1.4h3.4m-1.7-1.7v3.4m-6.4-4.7h3.4m-1.7-1.7v3.4m.8-.9h3.4m-1.7-1.7v3.4m-1.2-2.6h3.4m-1.7-1.7v3.4m-5.5 0h3.4m-1.7-1.7v3.4m2.6-4.9h3.4m-1.7-1.7v3.4m-6.4-.1h3.4m-1.7-1.7v3.4m-1.7-.4h3.4m-1.7-1.7v3.4m-.6-1.2h3.4m-1.7-1.7v3.4m-.5-2.6h3.4m-1.7-1.7v3.4m-.2-2.2h3.4m-1.7-1.7v3.4m-4.2-.1h3.4m-1.7-1.7v3.4m-2.4-.9h3.4m-1.7-1.7v3.4m-.4-4.6h3.4m-1.7-1.7v3.4m-.2-.3h3.4m-1.7-1.7v3.4m-1.5-4.5h3.4m-1.7-1.7v3.4m-3.8 1h3.4m-1.7-1.7v3.4m.2-2.4h3.4m-1.7-1.7v3.4m-.3-1.8h3.4m-1.7-1.7v3.4m-2.2 .2h3.4m-1.7-1.7v3.4m-2.6-3.6h3.4m-1.7-1.7v3.4m-1.1-.8h3.4m-1.7-1.7v3.4m-1.9-3.6h3.4m-1.7-1.7v3.4m-2 2h3.4m-1.7-1.7v3.4m-2.8-3.9h3.4m-1.7-1.7v3.4m-1.6-.6h3.4m-1.7-1.7v3.4m-4.4-.6h3.4m-1.7-1.7v3.4m2.1-4.5h3.4m-1.7-1.7v3.4m-2 .4h3.4m-1.7-1.7v3.4m-1.6-2.4h3.4m-1.7-1.7v3.4m-.4-2.5h3.4m-1.7-1.7v3.4m-2.4 .3h3.4m-1.7-1.7v3.4m-2-4.9h3.4m-1.7-1.7v3.4m-1.4 2.3h3.4m-1.7-1.7v3.4m-3.3-4h3.4m-1.7-1.7v3.4m-.6-1.1h3.4m-1.7-1.7v3.4m-3-3h3.4m-1.7-1.7v3.4m1.9-.7h3.4m-1.7-1.7v3.4m-5.6-1.5h3.4m-1.7-1.7v3.4m-.6-.6h3.4m-1.7-1.7v3.4m-4.2-3.9h3.4m-1.7-1.7v3.4m2.1-3.7h3.4m-1.7-1.7v3.4m-4.2 .9h3.4m-1.7-1.7v3.4m-.6-2.9h3.4m-1.7-1.7v3.4m-1.3-3.3h3.4m-1.7-1.7v3.4m-3.4 3h3.4m-1.7-1.7v3.4m-1.4-3.7h3.4m-1.7-1.7v3.4" stroke="#d62728" stroke-opacity="0.62" stroke-width="1.0" fill="none"/>
<path d="M561.3 378.7h3.4m-1.7-1.7v3.4m-1.2-2.5h3.4m-1.7-1.7v3.4m-.7-1.8h3.4m-1.7-1.7v3.4m-5.3-3.5h3.4m-1.7-1.7v3.4m2.3 1.4h3.4m-1.7-1.7v3.4m-3.9-6.4h3.4m-1.7-1.7v3.4m-2.3 4.8h3.4m-1.7-1.7v3.4m.8-3.2h3.4m-1.7-1.7v3.4m-5.3-6.3h3.4m-1.7-1.7v3.4m-.4-1.7h3.4m-1.7-1.7v3.4m-.8-1.3h3.4m-1.7-1.7v3.4m-1.2-.1h3.4m-1.7-1.7v3.4m-3.1-.1h3.4m-1.7-1.7v3.4m-.4-2.7h3.4m-1.7-1.7v3.4m-2.7-2h3.4m-1.7-1.7v3.4m-3.7-5.1h3.4m-1.7-1.7v3.4m-.1 2h3.4m-1.7-1.7v3.4m1.4-1.2h3.4m-1.7-1.7v3.4m-5.2-3.3h3.4m-1.7-1.7v3.4m-2.1-.9h3.4m-1.7-1.7v3.4m-.2-1.7h3.4m-1.7-1.7v3.4m-1.2 .2h3.4m-1.7-1.7v3.4m-1.2-5.6h3.4m-1.7-1.7v3.4m-1.5-1.4h3.4m-1.7-1.7v3.4m-2.3 .3h3.4m-1.7-1.7v3.4m0-2.1h3.4m-1.7-1.7v3.4m-4-2h3.4m-1.7-1.7v3.4m-.5-.7h3.4m-1.7-1.7v3.4m-3.1-.7h3.4m-1.7-1.7v3.4m1.3-.3h3.4m-1.7-1.7v3.4m-2.4-5.6h3.4m-1.7-1.7v3.4m-3.8-.4h3.4m-1.7-1.7v3.4m-3.7 1h3.4m-1.7-1.7v3.4m-1.4-4h3.4m-1.7-1.7v3.4m-1.4-2.2h3.4m-1.7-1.7v3.4m.9-1h3.4m-1.7-1.7v3.4m-3.9-3.8h3.4m-1.7-1.7v3.4m.6-.6h3.4m-1.7-1.7v3.4m-2.7 .1h3.4m-1.7-1.7v3.4m-5.1-2.9h3.4m-1.7-1.7v3.4m3.2 1h3.4m-1.7-1.7v3.4m-2.5-6.2h3.4m-1.7-1.7v3.4m-1.3 2.9h3.4m-1.7-1.7v3.4m-3.8-6.3h3.4m-1.7-1.7v3.4m-1-1.1h3.4m-1.7-1.7v3.4m-4.2-5.2h3.4m-1.7-1.7v3.4m-.7 1.4h3.4m-1.7-1.7v3.4m.5-1.5h3.4m-1.7-1.7v3.4m-2 1.6h3.4m-1.7-1.7v3.4m1.9-2.5h3.4m-1.7-1.7v3.4m-6.8-1.5h3.4m-1.7-1.7v3.4m-.5-2.9h3.4m-1.7-1.7v3.4m-.4-.9h3.4m-1.7-1.7v3.4m-4.6-5.1h3.4m-1.7-1.7v3.4m.3 1.5h3.4m-1.7-1.7v3.4m.6-1.8h3.4m-1.7-1.7v3.4m-4.8-3.7h3.4m-1.7-1.7v3.4m-2.2-3.1h3.4m-1.7-1.7v3.4m-2.4-.4h3.4m-1.7-1.7v3.4m.1-2.1h3.4m-1.7-1.7v3.4m-1.8-.8h3.4m-1.7-1.7v3.4m-2-2h3.4m-1.7-1.7v3.4m-1.1-.9h3.4m-1.7-1.7v3.4m-5.4-1.2h3.4m-1.7-1.7v3.4m1.8-3.3h3.4m-1.7-1.7v3.4m-1.6-1.8h3.4m-1.7-1.7v3.4m-1.8-2.1h3.4m-1.7-1.7v3.4m-1 .5h3.4m-1.7-1.7v3.4m-4.4-3.5h3.4m-1.7-1.7v3.4m1 .2h3.4m-1.7-1.7v3.4m-2.4-4.4h3.4m-1.7-1.7v3.4m-2.7 .6h3.4m-1.7-1.7v3.4m-.5-2h3.4m-1.7-1.7v3.4m-3.1-2.1h3.4m-1.7-1.7v3.4m-1.3-3.4h3.4m-1.7-1.7v3.4m-2.5-1h3.4m-1.7-1.7v3.4m-2.2 .5h3.4m-1.7-1.7v3.4m1.2-1h3.4m-1.7-1.7v3.4m-3.7-4.5h3.4m-1.7-1.7v3.4m-.4-1.2h3.4m-1.7-1.7v3.4m-2.4-1.5h3.4m-1.7-1.7v3.4m-3.3 1.1h3.4m-1.7-1.7v3.4m-1.5-6.7h3.4m-1.7-1.7v3.4m1.2-.9h3.4m-1.7-1.7v3.4m-1.4 .9h3.4m-1.7-1.7v3.4m-2.6-3h3.4m-1.7-1.7v3.4m-4-3.1h3.4m-1.7-1.7v3.4m.3 .2h3.4m-1.7-1.7v3.4m-3.4-3.5h3.4m-1.7-1.7v3.4m-1.3 .2h3.4m-1.7-1.7v3.4m0-.1h3.4m-1.7-1.7v3.4m-2.7-.7h3.4m-1.7-1.7v3.4m-.4-1.6h3.4m-1.7-1.7v3.4m-3.7-3.3h3.4m-1.7-1.7v3.4m.8-5.8h3.4m-1.7-1.7v3.4m-1.9 2.1h3.4m-1.7-1.7v3.4m-1.7-2.1h3.4m-1.7-1.7v3.4m-1.4-2.8h3.4m-1.7-1.7v3.4m-3.8 .3h3.4m-1.7-1.7v3.4m-.2-5.3h3.4m-1.7-1.7v3.4m-1.1 2.7h3.4m-1.7-1.7v3.4m-1.9-5h3.4m-1.7-1.7v3.4m-1.4 .5h3.4m-1.7-1.7v3.4m-2.1-2.7h3.4m-1.7-1.7v3.4m-3.4-2.9h3.4m-1.7-1.7v3.4" stroke="#9467bd" stroke-opacity="0.62" stroke-width="1.0" fill="none"/>
<path d="M577.7 367.7h3.2m-1.6-1.6v3.2m-1.8-4h3.2m-1.6-1.6v3.2m-.5-1h3.2m-1.6-1.6v3.2m-4-2.2h3.2m-1.6-1.6v3.2m.1 1.9h3.2m-1.6-1.6v3.2m-.5-5.7h3.2m-1.6-1.6v3.2m-3.4-.7h3.2m-1.6-1.6v3.2m-.3-2.1h3.2m-1.6-1.6v3.2m-1.3-2.6h3.2m-1.6-1.6v3.2m-1.8 2.4h3.2m-1.6-1.6v3.2m-4.6-3.5h3.2m-1.6-1.6v3.2m1.4-.8h3.2m-1.6-1.6v3.2m-1.8-2.4h3.2m-1.6-1.6v3.2m-1.4-1.4h3.2m-1.6-1.6v3.2m-1.8 .7h3.2m-1.6-1.6v3.2m-.6-2.6h3.2m-1.6-1.6v3.2m-3.3-3.8h3.2m-1.6-1.6v3.2m.1-2.4h3.2m-1.6-1.6v3.2m-1.7-2.1h3.2m-1.6-1.6v3.2m-.4 2.4h3.2m-1.6-1.6v3.2m-4.3-4.2h3.2m-1.6-1.6v3.2m-3.2-1h3.2m-1.6-1.6v3.2m1.7-.6h3.2m-1.6-1.6v3.2m-3.1 .6h3.2m-1.6-1.6v3.2m-.7-4.1h3.2m-1.6-1.6v3.2m-2.5-1.3h3.2m-1.6-1.6v3.2m1.4-1.8h3.2m-1.6-1.6v3.2m-6-2h3.2m-1.6-1.6v3.2m2.1-.1h3.2m-1.6-1.6v3.2m-4.1-2.9h3.2m-1.6-1.6v3.2m-2.6-1.1h3.2m-1.6-1.6v3.2m-1-3.4h3.2m-1.6-1.6v3.2m-1.3-1.9h3.2m-1.6-1.6v3.2m.7 1.8h3.2m-1.6-1.6v3.2m-3.6-3.8h3.2m-1.6-1.6v3.2m.4-2.2h3.2m-1.6-1.6v3.2m-3.7-2.4h3.2m-1.6-1.6v3.2m.4-.1h3.2m-1.6-1.6v3.2m-3.2-2.5h3.2m-1.6-1.6v3.2m-2.5 .6h3.2m-1.6-1.6v3.2m-1.5-3.9h3.2m-1.6-1.6v3.2m-2.5-2.5h3.2m-1.6-1.6v3.2m-.4-.7h3.2m-1.6-1.6v3.2m-2.6-1.8h3.2m-1.6-1.6v3.2m-.2-4.7h3.2m-1.6-1.6v3.2m-.9 2h3.2m-1.6-1.6v3.2m-3.6-1.6h3.2m-1.6-1.6v3.2m.2-1.1h3.2m-1.6-1.6v3.2m-2-1.6h3.2m-1.6-1.6v3.2m-.9-3.7h3.2m-1.6-1.6v3.2m-2.9 1h3.2m-1.6-1.6v3.2m-1-3.8h3.2m-1.6-1.6v3.2m-1.9-1h3.2m-1.6-1.6v3.2m-1.3-3.1h3.2m-1.6-1.6v3.2m-3.3-1.3h3.2m-1.6-1.6v3.2m0 4.5h3.2m-1.6-1.6v3.2m-.5-3.6h3.2m-1.6-1.6v3.2m-2.6-1h3.2m-1.6-1.6v3.2m-1.2-3.9h3.2m-1.6-1.6v3.2m-.9-3.6h3.2m-1.6-1.6v3.2m-4.9-1.6h3.2m-1.6-1.6v3.2m2 1.6h3.2m-1.6-1.6v3.2m-2.8-3.3h3.2m-1.6-1.6v3.2m-2-.7h3.2m-1.6-1.6v3.2m-2.3-1h3.2m-1.6-1.6v3.2m-1.7-.7h3.2m-1.6-1.6v3.2m-1-5.1h3.2m-1.6-1.6v3.2m-1.5-1.6h3.2m-1.6-1.6v3.2m-1.4-3h3.2m-1.6-1.6v3.2m-2 1.4h3.2m-1.6-1.6v3.2m-.7-2.4h3.2m-1.6-1.6v3.2m-.8-3.6h3.2m-1.6-1.6v3.2m-3 .3h3.2m-1.6-1.6v3.2m-1.4-1.3h3.2m-1.6-1.6v3.2m-.2-1.2h3.2m-1.6-1.6v3.2m-4 2.3h3.2m-1.6-1.6v3.2m-.6-5.7h3.2m-1.6-1.6v3.2m-.7-2.3h3.2m-1.6-1.6v3.2m-2.7 .7h3.2m-1.6-1.6v3.2m-2.6-3.7h3.2m-1.6-1.6v3.2m.5 1.9h3.2m-1.6-1.6v3.2m-2.6-4.5h3.2m-1.6-1.6v3.2m-.4-3.8h3.2m-1.6-1.6v3.2m-3.4-.5h3.2m-1.6-1.6v3.2m-3-4.9h3.2m-1.6-1.6v3.2m.1 4.3h3.2m-1.6-1.6v3.2m-.5-1h3.2m-1.6-1.6v3.2m-5.1-3.8h3.2m-1.6-1.6v3.2m2.5-2.7h3.2m-1.6-1.6v3.2m-4.3 .3h3.2m-1.6-1.6v3.2m-.2-1.2h3.2m-1.6-1.6v3.2m-1.6-.6h3.2m-1.6-1.6v3.2m-.9-3.2h3.2m-1.6-1.6v3.2m-2.7-.9h3.2m-1.6-1.6v3.2m-1.9-1.2h3.2m-1.6-1.6v3.2m.3-1.6h3.2m-1.6-1.6v3.2m-4.1-2.4h3.2m-1.6-1.6v3.2m.1-.9h3.2m-1.6-1.6v3.2m-3.6-3.9h3.2m-1.6-1.6v3.2m-.1 1.5h3.2m-1.6-1.6v3.2m-2.1-2.4h3.2m-1.6-1.6v3.2m-.9 .1h3.2m-1.6-1.6v3.2m-1.4-7.2h3.2m-1.6-1.6v3.2m-2.2 1.3h3.2m-1.6-1.6v3.2m0-.9h3.2m-1.6-1.6v3.2" stroke="#8c564b" stroke-opacity="0.62" stroke-width="1.0" fill="none"/>
<path d="M590 353.2h3m-1.5-1.5v3m-1.5 .1h3m-1.5-1.5v3m-.8 .1h3m-1.5-1.5v3m-2.8-6.3h3m-1.5-1.5v3m-1.4 2.3h3m-1.5-1.5v3m-1.7-2.6h3m-1.5-1.5v3m-.1 .3h3m-1.5-1.5v3m-3.8-2.1h3m-1.5-1.5v3m.2-2.3h3m-1.5-1.5v3m-1.4-.3h3m-1.5-1.5v3m.2-2h3m-1.5-1.5v3m-4-2.6h3m-1.5-1.5v3m-1 2.1h3m-1.5-1.5v3m-1.1-3.6h3m-1.5-1.5v3m-1.5-2.9h3m-1.5-1.5v3m-1.5-2.6h3m-1.5-1.5v3m-1.4 .9h3m-1.5-1.5v3m-1.6-3.4h3m-1.5-1.5v3m-1.9-1.1h3m-1.5-1.5v3m-1.1-1.1h3m-1.5-1.5v3m-1.9 .3h3m-1.5-1.5v3m-.1-4.4h3m-1.5-1.5v3m-2.8-1.6h3m-1.5-1.5v3m-.3-1.1h3m-1.5-1.5v3m-1.5-1h3m-1.5-1.5v3m-1.8-1.6h3m-1.5-1.5v3m-2.7-.5h3m-1.5-1.5v3m-1.2-1.9h3m-1.5-1.5v3m-1.4 .5h3m-1.5-1.5v3m-.8-4h3m-1.5-1.5v3m-4-.6h3m-1.5-1.5v3m-2.4-.7h3m-1.5-1.5v3m1.9-4.2h3m-1.5-1.5v3m-1.7-.7h3m-1.5-1.5v3m-.9-1.7h3m-1.5-1.5v3m-3.3-1.3h3m-1.5-1.5v3m-.5-2.1h3m-1.5-1.5v3m0-.5h3m-1.5-1.5v3m-1.9-1.4h3m-1.5-1.5v3m-3.1-2.1h3m-1.5-1.5v3m-2.2 .2h3m-1.5-1.5v3m.2-2h3m-1.5-1.5v3m-3.3-1.3h3m-1.5-1.5v3m-.6-5.8h3m-1.5-1.5v3m-1-.1h3m-1.5-1.5v3m-2.6 1.1h3m-1.5-1.5v3m-1.2-1.9h3m-1.5-1.5v3m-.3 .3h3m-1.5-1.5v3m-1.3-2.6h3m-1.5-1.5v3m-3 .7h3m-1.5-1.5v3m-1.8-3.6h3m-1.5-1.5v3m-.9-1.5h3m-1.5-1.5v3m-1-1.8h3m-1.5-1.5v3m-1.1-2.9h3m-1.5-1.5v3m-1.7-1.8h3m-1.5-1.5v3m-1.6 1.5h3m-1.5-1.5v3m-2.1-3.7h3m-1.5-1.5v3m-1.7 .1h3m-1.5-1.5v3m-2.2-3.8h3m-1.5-1.5v3m.3-.4h3m-1.5-1.5v3m-2.8-4.4h3m-1.5-1.5v3m-.9-.8h3m-1.5-1.5v3m-1.6 .9h3m-1.5-1.5v3m.3-3.2h3m-1.5-1.5v3m-2.5-1.4h3m-1.5-1.5v3m-3.2-.1h3m-1.5-1.5v3m-1.9 1.5h3m-1.5-1.5v3m-.1-5.3h3m-1.5-1.5v3m.4-1.6h3m-1.5-1.5v3m-3.8-.6h3m-1.5-1.5v3m-2.1-.3h3m-1.5-1.5v3m.7-4.3h3m-1.5-1.5v3m-3.2-.2h3m-1.5-1.5v3m-2-2.8h3m-1.5-1.5v3m-.7-.9h3m-1.5-1.5v3m-1.5 1h3m-1.5-1.5v3m-1.4-2.3h3m-1.5-1.5v3m-2.2-2.8h3m-1.5-1.5v3m-.8 .2h3m-1.5-1.5v3m-1.8-1.5h3m-1.5-1.5v3m-1.2-4h3m-1.5-1.5v3m-1.2-.4h3m-1.5-1.5v3m-3.6 .3h3m-1.5-1.5v3m.3-1.7h3m-1.5-1.5v3m-2.4-.4h3m-1.5-1.5v3m-.6-2.2h3m-1.5-1.5v3m-2.1-3.4h3m-1.5-1.5v3m0-1.1h3m-1.5-1.5v3m-2.9 .7h3m-1.5-1.5v3m-.2-3.3h3m-1.5-1.5v3m-.4-4h3m-1.5-1.5v3m-3.4-.1h3m-1.5-1.5v3m-.9 1.6h3m-1.5-1.5v3m-2.6-3.6h3m-1.5-1.5v3m-.5-1h3m-1.5-1.5v3m-2.2-.8h3m-1.5-1.5v3m.1-2.7h3m-1.5-1.5v3m-3.9-1.9h3m-1.5-1.5v3m-.5-1.9h3m-1.5-1.5v3m-1.2 .1h3m-1.5-1.5v3m-1.3-1.8h3m-1.5-1.5v3m-1.6-3.7h3m-1.5-1.5v3m-2-1.2h3m-1.5-1.5v3m-1.2-.5h3m-1.5-1.5v3m-2-.5h3m-1.5-1.5v3" stroke="#e377c2" stroke-opacity="0.62" stroke-width="1.0" fill="none"/>
<path d="M597.9 346.2h2.8m-1.4-1.4v2.8m.1-4.1h2.8m-1.4-1.4v2.8m-1.4-.6h2.8m-1.4-1.4v2.8m-2.8-1.4h2.8m-1.4-1.4v2.8m-1.9-.5h2.8m-1.4-1.4v2.8m.7-3.9h2.8m-1.4-1.4v2.8m-2.5 1.4h2.8m-1.4-1.4v2.8m-1.2-1.3h2.8m-1.4-1.4v2.8m-1.3-2.9h2.8m-1.4-1.4v2.8m-1.3-.3h2.8m-1.4-1.4v2.8m-1.4-1.5h2.8m-1.4-1.4v2.8m-2-1.8h2.8m-1.4-1.4v2.8m-1.2 0h2.8m-1.4-1.4v2.8m-2.4-4.5h2.8m-1.4-1.4v2.8m-1.4-.4h2.8m-1.4-1.4v2.8m-1-.4h2.8m-1.4-1.4v2.8m-1.4 .1h2.8m-1.4-1.4v2.8m-1.1-4.1h2.8m-1.4-1.4v2.8m-1.6-.9h2.8m-1.4-1.4v2.8m-.7-1.6h2.8m-1.4-1.4v2.8m-1.9-2.6h2.8m-1.4-1.4v2.8m-.9-.3h2.8m-1.4-1.4v2.8m-2.3-1h2.8m-1.4-1.4v2.8m-1.1 1.7h2.8m-1.4-1.4v2.8m.2-5.4h2.8m-1.4-1.4v2.8m-2.5-2.8h2.8m-1.4-1.4v2.8m-2.4-1.2h2.8m-1.4-1.4v2.8m.1 .8h2.8m-1.4-1.4v2.8m-2.9-2.1h2.8m-1.4-1.4v2.8m-.7-1.4h2.8m-1.4-1.4v2.8m.2-3.1h2.8m-1.4-1.4v2.8m-3.3 1.5h2.8m-1.4-1.4v2.8m-.1-4.6h2.8m-1.4-1.4v2.8m-1.8-.2h2.8m-1.4-1.4v2.8m-1.8-1.8h2.8m-1.4-1.4v2.8m-1.8 4.9h2.8m-1.4-1.4v2.8m-.3-6h2.8m-1.4-1.4v2.8m-3.6 .2h2.8m-1.4-1.4v2.8m1.1-4h2.8m-1.4-1.4v2.8m-1.4-2.4h2.8m-1.4-1.4v2.8m-3.4 1.2h2.8m-1.4-1.4v2.8m-1.6-.6h2.8m-1.4-1.4v2.8m.7-2.3h2.8m-1.4-1.4v2.8m-2.5 .7h2.8m-1.4-1.4v2.8m-1.3-1.8h2.8m-1.4-1.4v2.8m-.1-4.6h2.8m-1.4-1.4v2.8m-1.5 1.6h2.8m-1.4-1.4v2.8m-2.7-1.8h2.8m-1.4-1.4v2.8m-1.1-2.2h2.8m-1.4-1.4v2.8m-2.1-2.3h2.8m-1.4-1.4v2.8m-1.4 .6h2.8m-1.4-1.4v2.8m-.7-2.3h2.8m-1.4-1.4v2.8m-2-.2h2.8m-1.4-1.4v2.8m-2.4-4.3h2.8m-1.4-1.4v2.8m.8-.8h2.8m-1.4-1.4v2.8m-2.2 1.3h2.8m-1.4-1.4v2.8m-.4-5.5h2.8m-1.4-1.4v2.8m-2.2-1h2.8m-1.4-1.4v2.8m-1.5 1.6h2.8m-1.4-1.4v2.8m-1.8-2.1h2.8m-1.4-1.4v2.8m-1.7 .4h2.8m-1.4-1.4v2.8m-.7-3.6h2.8m-1.4-1.4v2.8m-1.4-.3h2.8m-1.4-1.4v2.8m-1-2.9h2.8m-1.4-1.4v2.8m-2-.6h2.8m-1.4-1.4v2.8m-.8-2.6h2.8m-1.4-1.4v2.8m-2.2-1.2h2.8m-1.4-1.4v2.8m-.6-1.7h2.8m-1.4-1.4v2.8m-2.5-1.3h2.8m-1.4-1.4v2.8m-1.3-.1h2.8m-1.4-1.4v2.8m-1.1-2.8h2.8m-1.4-1.4v2.8m0-.2h2.8m-1.4-1.4v2.8m-3.5-.4h2.8m-1.4-1.4v2.8m-.5-4.1h2.8m-1.4-1.4v2.8m-.6-2.2h2.8m-1.4-1.4v2.8m-2.4 1.2h2.8m-1.4-1.4v2.8m-.5-2.8h2.8m-1.4-1.4v2.8m-2.4-.8h2.8m-1.4-1.4v2.8m.2-3.7h2.8m-1.4-1.4v2.8m-2.2 1.4h2.8m-1.4-1.4v2.8m-.7-3.3h2.8m-1.4-1.4v2.8m-1.6-1.1h2.8m-1.4-1.4v2.8m-2.1-.7h2.8m-1.4-1.4v2.8m-3.3-1h2.8m-1.4-1.4v2.8m.3-.2h2.8m-1.4-1.4v2.8m-1.6-4.1h2.8m-1.4-1.4v2.8m-.7-.3h2.8m-1.4-1.4v2.8m-1.6 1h2.8m-1.4-1.4v2.8m-1.9-3.5h2.8m-1.4-1.4v2.8m-1.2-3.9h2.8m-1.4-1.4v2.8m-1.7 2.3h2.8m-1.4-1.4v2.8m-.5-2.4h2.8m-1.4-1.4v2.8m-.7-2.1h2.8m-1.4-1.4v2.8m-2.6-1.4h2.8m-1.4-1.4v2.8m-1.8-1.1h2.8m-1.4-1.4v2.8m-1.5-1.6h2.8m-1.4-1.4v2.8m-.9-.7h2.8m-1.4-1.4v2.8m-2.4-.8h2.8m-1.4-1.4v2.8m-1.2-1.5h2.8m-1.4-1.4v2.8m-.2-4.6h2.8m-1.4-1.4v2.8m-2.9 2.5h2.8m-1.4-1.4v2.8m-.7-3.6h2.8m-1.4-1.4v2.8m-1.5-.3h2.8m-1.4-1.4v2.8m-.6-2h2.8m-1.4-1.4v2.8m-.6-1.8h2.8m-1.4-1.4v2.8" stroke="#7f7f7f" stroke-opacity="0.62" stroke-width="1.0" fill="none"/>
<path d="M604.5 333.8h2.6m-1.3-1.3v2.6m-1.4 .8h2.6m-1.3-1.3v2.6m.4-3.6h2.6m-1.3-1.3v2.6m-2.9-.1h2.6m-1.3-1.3v2.6m-1.4-1h2.6m-1.3-1.3v2.6m-1.8-1.3h2.6m-1.3-1.3v2.6m-1.9-1.7h2.6m-1.3-1.3v2.6m-.1 1.1h2.6m-1.3-1.3v2.6m-1.8-3.5h2.6m-1.3-1.3v2.6m0-3.3h2.6m-1.3-1.3v2.6m-1.5-1.2h2.6m-1.3-1.3v2.6m-2-2.1h2.6m-1.3-1.3v2.6m-.9-.8h2.6m-1.3-1.3v2.6m-2.7 .4h2.6m-1.3-1.3v2.6m-1.2-.8h2.6m-1.3-1.3v2.6m.2-3.2h2.6m-1.3-1.3v2.6m-2.3-1.4h2.6m-1.3-1.3v2.6m-1.3-.6h2.6m-1.3-1.3v2.6m-1.4 2.2h2.6m-1.3-1.3v2.6m-1.6-5.1h2.6m-1.3-1.3v2.6m-.1 .7h2.6m-1.3-1.3v2.6m-.4-3.8h2.6m-1.3-1.3v2.6m-1.1-3.7h2.6m-1.3-1.3v2.6m-2.8 3.4h2.6m-1.3-1.3v2.6m-.2-4.1h2.6m-1.3-1.3v2.6m-2-2.3h2.6m-1.3-1.3v2.6m-1.5-.3h2.6m-1.3-1.3v2.6m-.9-.5h2.6m-1.3-1.3v2.6m-1.2-.5h2.6m-1.3-1.3v2.6m-2.3 1.1h2.6m-1.3-1.3v2.6m.3-5.2h2.6m-1.3-1.3v2.6m-1.7 1.3h2.6m-1.3-1.3v2.6m-1.2-1.7h2.6m-1.3-1.3v2.6m-3-2.3h2.6m-1.3-1.3v2.6m-1.4-2.6h2.6m-1.3-1.3v2.6m-.9 2h2.6m-1.3-1.3v2.6m-.6-2.6h2.6m-1.3-1.3v2.6m-.6-2.7h2.6m-1.3-1.3v2.6m-1.4 .1h2.6m-1.3-1.3v2.6m-2.3-2.3h2.6m-1.3-1.3v2.6m-1.2 .2h2.6m-1.3-1.3v2.6m-.1-2.5h2.6m-1.3-1.3v2.6m-2.8 1.4h2.6m-1.3-1.3v2.6m.7-1.3h2.6m-1.3-1.3v2.6m-2.5-4h2.6m-1.3-1.3v2.6m-1.2-.5h2.6m-1.3-1.3v2.6m-2.4 0h2.6m-1.3-1.3v2.6m1.2-4h2.6m-1.3-1.3v2.6m-3.3-.9h2.6m-1.3-1.3v2.6m-2 .4h2.6m-1.3-1.3v2.6m-1.3-1.5h2.6m-1.3-1.3v2.6m-.3-1.2h2.6m-1.3-1.3v2.6m-2.2-2.1h2.6m-1.3-1.3v2.6m-.5-.3h2.6m-1.3-1.3v2.6m-.8-3.2h2.6m-1.3-1.3v2.6m-1.4 1.2h2.6m-1.3-1.3v2.6m-.6-4h2.6m-1.3-1.3v2.6m-1.8-1.5h2.6m-1.3-1.3v2.6m-2.1 .8h2.6m-1.3-1.3v2.6m-2.6 1.3h2.6m-1.3-1.3v2.6m1.2-5.9h2.6m-1.3-1.3v2.6m-2.5-.4h2.6m-1.3-1.3v2.6m-.8-2.7h2.6m-1.3-1.3v2.6m-1.2-1.7h2.6m-1.3-1.3v2.6m-2.4 2.9h2.6m-1.3-1.3v2.6m-.4-4.1h2.6m-1.3-1.3v2.6m-.6-.4h2.6m-1.3-1.3v2.6m-1.6-2.4h2.6m-1.3-1.3v2.6m-1.1-1h2.6m-1.3-1.3v2.6m-1.7 0h2.6m-1.3-1.3v2.6m-.8-.9h2.6m-1.3-1.3v2.6m-1.8-3.9h2.6m-1.3-1.3v2.6m-1.6-.9h2.6m-1.3-1.3v2.6m-.3-.9h2.6m-1.3-1.3v2.6m-3.8-.3h2.6m-1.3-1.3v2.6m.9-3h2.6m-1.3-1.3v2.6m-1.2-1.8h2.6m-1.3-1.3v2.6m-1.9 .2h2.6m-1.3-1.3v2.6m-1.4-.5h2.6m-1.3-1.3v2.6m-2-.8h2.6m-1.3-1.3v2.6m-1-2.2h2.6m-1.3-1.3v2.6m.1-2.7h2.6m-1.3-1.3v2.6m-2.8 2h2.6m-1.3-1.3v2.6m0-4.2h2.6m-1.3-1.3v2.6m-2.7 .2h2.6m-1.3-1.3v2.6m-1.2-1.9h2.6m-1.3-1.3v2.6m-1.9-.6h2.6m-1.3-1.3v2.6m-1.3-1.9h2.6m-1.3-1.3v2.6m.3-2.3h2.6m-1.3-1.3v2.6m-2.5-2.1h2.6m-1.3-1.3v2.6m-2.3 2.6h2.6m-1.3-1.3v2.6m-.5-5.2h2.6m-1.3-1.3v2.6m-.3 .4h2.6m-1.3-1.3v2.6m-1.2 .3h2.6m-1.3-1.3v2.6m-1.3-3.1h2.6m-1.3-1.3v2.6m-1.9-1.4h2.6m-1.3-1.3v2.6m-.6-.3h2.6m-1.3-1.3v2.6m-.9-4.2h2.6m-1.3-1.3v2.6m-2.4-.1h2.6m-1.3-1.3v2.6m-1.1-1.7h2.6m-1.3-1.3v2.6m-1.1 1.4h2.6m-1.3-1.3v2.6m-.2-3.4h2.6m-1.3-1.3v2.6m-2.6-.5h2.6m-1.3-1.3v2.6m-1-2.5h2.6m-1.3-1.3v2.6m-.5-2.8h2.6m-1.3-1.3v2.6" stroke="#bcbd22" stroke-opacity="0.62" stroke-width="1.0" fill="none"/>
<path d="M609.4 322.2h2.4m-1.2-1.2v2.4m-.7-.5h2.4m-1.2-1.2v2.4m-2.5 .6h2.4m-1.2-1.2v2.4m-1.2-.9h2.4m-1.2-1.2v2.4m-1.3 1.1h2.4m-1.2-1.2v2.4m-.9-4.8h2.4m-1.2-1.2v2.4m-.6 0h2.4m-1.2-1.2v2.4m-1.1-1.8h2.4m-1.2-1.2v2.4m-1.1-.3h2.4m-1.2-1.2v2.4m-.6-3.4h2.4m-1.2-1.2v2.4m-2 .2h2.4m-1.2-1.2v2.4m-1-2.1h2.4m-1.2-1.2v2.4m-.9-1.7h2.4m-1.2-1.2v2.4m-1.6 1.2h2.4m-1.2-1.2v2.4m-2.5-1.4h2.4m-1.2-1.2v2.4m-1.3-.9h2.4m-1.2-1.2v2.4m-.9-2.1h2.4m-1.2-1.2v2.4m-.1-3.2h2.4m-1.2-1.2v2.4m-2.6 1.6h2.4m-1.2-1.2v2.4m-.6-.5h2.4m-1.2-1.2v2.4m-1.5 1h2.4m-1.2-1.2v2.4m-.8-2.5h2.4m-1.2-1.2v2.4m-.7-3.4h2.4m-1.2-1.2v2.4m-.8-2.3h2.4m-1.2-1.2v2.4m-2.5 2h2.4m-1.2-1.2v2.4m-.2-4.9h2.4m-1.2-1.2v2.4m-.9-.8h2.4m-1.2-1.2v2.4m-2 1.4h2.4m-1.2-1.2v2.4m-.7-.3h2.4m-1.2-1.2v2.4m-1-2.7h2.4m-1.2-1.2v2.4m-1.4-1.7h2.4m-1.2-1.2v2.4m-2 1.4h2.4m-1.2-1.2v2.4m-1.1-2h2.4m-1.2-1.2v2.4m-1.1-1.8h2.4m-1.2-1.2v2.4m-2.3-2.5h2.4m-1.2-1.2v2.4m-.4 .6h2.4m-1.2-1.2v2.4m.4-4h2.4m-1.2-1.2v2.4m-2.4 .8h2.4m-1.2-1.2v2.4m-.8-2.3h2.4m-1.2-1.2v2.4m-.5-3h2.4m-1.2-1.2v2.4m-1.3 1.1h2.4m-1.2-1.2v2.4m-3.1-3h2.4m-1.2-1.2v2.4m-.6 3h2.4m-1.2-1.2v2.4m-.2-6.1h2.4m-1.2-1.2v2.4m-1 1.2h2.4m-1.2-1.2v2.4m-2.1-.3h2.4m-1.2-1.2v2.4m-1.1-2.7h2.4m-1.2-1.2v2.4m-.6-.5h2.4m-1.2-1.2v2.4m-1-2.2h2.4m-1.2-1.2v2.4m-.6-2.6h2.4m-1.2-1.2v2.4m-3.2 1.3h2.4m-1.2-1.2v2.4m-.6-1.6h2.4m-1.2-1.2v2.4m-.9-1.6h2.4m-1.2-1.2v2.4m-1.9-.6h2.4m-1.2-1.2v2.4m.3-2.7h2.4m-1.2-1.2v2.4m-1.5 1.9h2.4m-1.2-1.2v2.4m-2.4-2.2h2.4m-1.2-1.2v2.4m-1.1-2.4h2.4m-1.2-1.2v2.4m-1.1-1.7h2.4m-1.2-1.2v2.4m-1.7-.7h2.4m-1.2-1.2v2.4m-.6-2.2h2.4m-1.2-1.2v2.4m-1.9 0h2.4m-1.2-1.2v2.4m.9-1.7h2.4m-1.2-1.2v2.4m-2.1-2.2h2.4m-1.2-1.2v2.4m-1.4-.8h2.4m-1.2-1.2v2.4m-1.7-1.3h2.4m-1.2-1.2v2.4m-1 .4h2.4m-1.2-1.2v2.4m-1.1-1.3h2.4m-1.2-1.2v2.4m-.6-.3h2.4m-1.2-1.2v2.4m-1.3-4.7h2.4m-1.2-1.2v2.4m-1.6 1.2h2.4m-1.2-1.2v2.4m-.6-1.2h2.4m-1.2-1.2v2.4m-.2-1.8h2.4m-1.2-1.2v2.4m-2.1-1.9h2.4m-1.2-1.2v2.4m-2.2-.4h2.4m-1.2-1.2v2.4m-.9 0h2.4m-1.2-1.2v2.4m-3-.6h2.4m-1.2-1.2v2.4m1.1-.9h2.4m-1.2-1.2v2.4m-1.1-3.1h2.4m-1.2-1.2v2.4m-1.7 .6h2.4m-1.2-1.2v2.4m-1.8-2h2.4m-1.2-1.2v2.4m-.3-2.2h2.4m-1.2-1.2v2.4m-.4-2h2.4m-1.2-1.2v2.4m-2.8-.3h2.4m-1.2-1.2v2.4m-1.4 .6h2.4m-1.2-1.2v2.4m-1-4.7h2.4m-1.2-1.2v2.4m-.7 1.5h2.4m-1.2-1.2v2.4m-2.1-.5h2.4m-1.2-1.2v2.4m-1.5-1.5h2.4m-1.2-1.2v2.4m-.3-3.2h2.4m-1.2-1.2v2.4m0-.7h2.4m-1.2-1.2v2.4m-2.5-.8h2.4m-1.2-1.2v2.4m.1-1.4h2.4m-1.2-1.2v2.4m-2.5-1h2.4m-1.2-1.2v2.4m-1.2-2.4h2.4m-1.2-1.2v2.4m-1.2 .5h2.4m-1.2-1.2v2.4m-1.2-1.4h2.4m-1.2-1.2v2.4m-.6 .2h2.4m-1.2-1.2v2.4m-2.2-3.3h2.4m-1.2-1.2v2.4m-1.1-.3h2.4m-1.2-1.2v2.4m-.4-2h2.4m-1.2-1.2v2.4m-1.3-2.5h2.4m-1.2-1.2v2.4m-2.3 1.3h2.4m-1.2-1.2v2.4m-.2-2.4h2.4m-1.2-1.2v2.4m-1.1-.2h2.4m-1.2-1.2v2.4" stroke="#17becf" stroke-opacity="0.62" stroke-width="1.0" fill="none"/>
<path d="M613.7 315.8h2.2m-1.1-1.1v2.2m-1.3-3h2.2m-1.1-1.1v2.2m-1.8 .2h2.2m-1.1-1.1v2.2m-1.7 1.3h2.2m-1.1-1.1v2.2m-.5-2.5h2.2m-1.1-1.1v2.2m-1-1.5h2.2m-1.1-1.1v2.2m-1.1-1.7h2.2m-1.1-1.1v2.2m-1.3-.8h2.2m-1.1-1.1v2.2m-.6-3h2.2m-1.1-1.1v2.2m-1.5 1.3h2.2m-1.1-1.1v2.2m-.6-2.5h2.2m-1.1-1.1v2.2m-2.2 1.4h2.2m-1.1-1.1v2.2m-.9-1.5h2.2m-1.1-1.1v2.2m-.7-3.3h2.2m-1.1-1.1v2.2m-1.6-.3h2.2m-1.1-1.1v2.2m-.5-1.9h2.2m-1.1-1.1v2.2m-.6 .5h2.2m-1.1-1.1v2.2m-2.5 .8h2.2m-1.1-1.1v2.2m.3-4h2.2m-1.1-1.1v2.2m-2.1-.4h2.2m-1.1-1.1v2.2m0-2.6h2.2m-1.1-1.1v2.2m-1.2 .2h2.2m-1.1-1.1v2.2m-1.3-.8h2.2m-1.1-1.1v2.2m-1.4-.1h2.2m-1.1-1.1v2.2m-.4-2.8h2.2m-1.1-1.1v2.2m-.7-1.9h2.2m-1.1-1.1v2.2m-2.3 1.4h2.2m-1.1-1.1v2.2m-1.3-.8h2.2m-1.1-1.1v2.2m-1.6-2.3h2.2m-1.1-1.1v2.2m0-1h2.2m-1.1-1.1v2.2m-2-.9h2.2m-1.1-1.1v2.2m-.3-2.6h2.2m-1.1-1.1v2.2m-.7-.5h2.2m-1.1-1.1v2.2m-2.3-.3h2.2m-1.1-1.1v2.2m-.8-1.5h2.2m-1.1-1.1v2.2m-.7-1.3h2.2m-1.1-1.1v2.2m-1.1-.2h2.2m-1.1-1.1v2.2m-.5-2.8h2.2m-1.1-1.1v2.2m-1.9 .5h2.2m-1.1-1.1v2.2m-.4-4.1h2.2m-1.1-1.1v2.2m-2.4 2h2.2m-1.1-1.1v2.2m-.2-1.5h2.2m-1.1-1.1v2.2m-1.6 .5h2.2m-1.1-1.1v2.2m-.9-3.7h2.2m-1.1-1.1v2.2m-.6 .7h2.2m-1.1-1.1v2.2m-1.5-2.8h2.2m-1.1-1.1v2.2m-.4-.6h2.2m-1.1-1.1v2.2m-2.6 .9h2.2m-1.1-1.1v2.2m-1-2.9h2.2m-1.1-1.1v2.2m-.1-1.3h2.2m-1.1-1.1v2.2m-1.8-.1h2.2m-1.1-1.1v2.2m-1.3-2h2.2m-1.1-1.1v2.2m0-2.2h2.2m-1.1-1.1v2.2m-1 0h2.2m-1.1-1.1v2.2m-1.7-1.4h2.2m-1.1-1.1v2.2m-.8-1.1h2.2m-1.1-1.1v2.2m-1.7 1.1h2.2m-1.1-1.1v2.2m0-4.6h2.2m-1.1-1.1v2.2m-1.3 .2h2.2m-1.1-1.1v2.2m-1.7-.4h2.2m-1.1-1.1v2.2m-.9-2h2.2m-1.1-1.1v2.2m-1.4 1h2.2m-1.1-1.1v2.2m-1.3-2.4h2.2m-1.1-1.1v2.2m-.8 .3h2.2m-1.1-1.1v2.2m-1.1-2.2h2.2m-1.1-1.1v2.2m-.9-1.8h2.2m-1.1-1.1v2.2m-1.2-1.1h2.2m-1.1-1.1v2.2m-.8-3.7h2.2m-1.1-1.1v2.2m-2.5 2.4h2.2m-1.1-1.1v2.2m0-1h2.2m-1.1-1.1v2.2m-1.2-2.1h2.2m-1.1-1.1v2.2m-.8-1.2h2.2m-1.1-1.1v2.2m-1.9 1.3h2.2m-1.1-1.1v2.2m-1.2-3.8h2.2m-1.1-1.1v2.2m-.2-2.8h2.2m-1.1-1.1v2.2m-2.3 2.7h2.2m-1.1-1.1v2.2m0-2.6h2.2m-1.1-1.1v2.2m-.6-2.2h2.2m-1.1-1.1v2.2m-1 .1h2.2m-1.1-1.1v2.2m-2.5 .4h2.2m-1.1-1.1v2.2m-.4-2.3h2.2m-1.1-1.1v2.2m-.9-3.6h2.2m-1.1-1.1v2.2m-2.4 1.2h2.2m-1.1-1.1v2.2m.4-2.2h2.2m-1.1-1.1v2.2m-1.3-2h2.2m-1.1-1.1v2.2m-2.1 .8h2.2m-1.1-1.1v2.2m-.4-.1h2.2m-1.1-1.1v2.2m-.5-3.1h2.2m-1.1-1.1v2.2m-2.1 1h2.2m-1.1-1.1v2.2m-1.2-2.5h2.2m-1.1-1.1v2.2m-.7-.8h2.2m-1.1-1.1v2.2m-.8-.5h2.2m-1.1-1.1v2.2m-1-4.6h2.2m-1.1-1.1v2.2m-1.4 3.1h2.2m-1.1-1.1v2.2m-1.1-1.9h2.2m-1.1-1.1v2.2m-1.3 0h2.2m-1.1-1.1v2.2m-1.2-2.7h2.2m-1.1-1.1v2.2m-1.3-1.3h2.2m-1.1-1.1v2.2m-.9-1.9h2.2m-1.1-1.1v2.2m-1.8-.2h2.2m-1.1-1.1v2.2m1-4.8h2.2m-1.1-1.1v2.2m-1.7 2.7h2.2m-1.1-1.1v2.2m-2.1-.7h2.2m-1.1-1.1v2.2m-.8-1.6h2.2m-1.1-1.1v2.2m-.4-.8h2.2m-1.1-1.1v2.2" stroke="#1f77b4" stroke-opacity="0.62" stroke-width="1.0" fill="none"/>
<path d="M615.6 307h2m-1-1v2m-1.1-1.8h2m-1-1v2m-1-.9h2m-1-1v2m-.6-.3h2m-1-1v2m-1.5 .8h2m-1-1v2m-.5-3.3h2m-1-1v2m-.5-2.5h2m-1-1v2m-1-1.7h2m-1-1v2m-2.4 1.9h2m-1-1v2m-.5-3.4h2m-1-1v2m-1.8 1.8h2m-1-1v2m-1.1-.6h2m-1-1v2m0-.1h2m-1-1v2m-1.1-2.7h2m-1-1v2m-1.8 2.3h2m-1-1v2m0-3.5h2m-1-1v2m-1.4-.5h2m-1-1v2m-1.8-1.2h2m-1-1v2m.1-4.8h2m-1-1v2m-.6 .9h2m-1-1v2m-1.3-1h2m-1-1v2m-1.8 1.8h2m-1-1v2m-.5-2.5h2m-1-1v2m-1.8-.4h2m-1-1v2m-.6-1.5h2m-1-1v2m-1.1-1.1h2m-1-1v2m0-3.2h2m-1-1v2m-1.2-.3h2m-1-1v2m-.9 .5h2m-1-1v2m-2 2.2h2m-1-1v2m0-5.1h2m-1-1v2m-1.1-.2h2m-1-1v2m-.6-2.5h2m-1-1v2m-.8-.4h2m-1-1v2m-1.9-1.3h2m-1-1v2m-1.5 2.1h2m-1-1v2m-.2-4.5h2m-1-1v2m-1.4 .6h2m-1-1v2m-.5-1.7h2m-1-1v2m-1.9 2.9h2m-1-1v2m-.6-4.4h2m-1-1v2m-1.6 0h2m-1-1v2m-.8 .1h2m-1-1v2m-.2-2.3h2m-1-1v2m-1.4-2.3h2m-1-1v2m-1.1-.5h2m-1-1v2m-.8-1.8h2m-1-1v2m-1-.4h2m-1-1v2m-1.3 .2h2m-1-1v2m-.2-2.8h2m-1-1v2m-.7 .1h2m-1-1v2m-1.7 .8h2m-1-1v2m-1.8-2.6h2m-1-1v2m-.2-.2h2m-1-1v2m-1-1.2h2m-1-1v2m-1.5-3.4h2m-1-1v2m0-2.2h2m-1-1v2m-1.8 1.2h2m-1-1v2m-.8 .2h2m-1-1v2m-.8-3h2m-1-1v2m-1.7 .5h2m-1-1v2m-.4-1.1h2m-1-1v2m-1.1-1.3h2m-1-1v2m-1.6-1.2h2m-1-1v2m.1-2.3h2m-1-1v2m-1.5 1.2h2m-1-1v2m-.1-1.9h2m-1-1v2m-1.8-2.4h2m-1-1v2m-1.2-1.4h2m-1-1v2m-1.8 1.7h2m-1-1v2m-.2-1.5h2m-1-1v2m-1.2-3.7h2m-1-1v2m-1.7 3.3h2m-1-1v2m.7-4.5h2m-1-1v2m-1.7 .8h2m-1-1v2m-1.3-2h2m-1-1v2m-.5 .6h2m-1-1v2m-.9-1.4h2m-1-1v2m-1.4-.8h2m-1-1v2m-1.3 .4h2m-1-1v2m-.6-2.4h2m-1-1v2m-.9-2.4h2m-1-1v2m-1.1-.6h2m-1-1v2m-1.5 .4h2m-1-1v2m.2-1.7h2m-1-1v2m-1.6-2.2h2m-1-1v2m-1.8 .6h2m-1-1v2m.1-2.6h2m-1-1v2m-1.2-1.1h2m-1-1v2m-.7 .1h2m-1-1v2m-1.7 .9h2m-1-1v2m-1.8-2.5h2m-1-1v2m.2-1.8h2m-1-1v2m-1.4 .8h2m-1-1v2m-.9-3.3h2m-1-1v2m-.4 1h2m-1-1v2m-1.5-1.2h2m-1-1v2m-.9-2.3h2m-1-1v2m-1.2-.3h2m-1-1v2m-.8-3.3h2m-1-1v2m-1.2 1.3h2m-1-1v2m-1.1-.6h2m-1-1v2m-.9-.6h2m-1-1v2m-.8-2.4h2m-1-1v2m-1 .3h2m-1-1v2" stroke="#ff7f0e" stroke-opacity="0.62" stroke-width="1.0" fill="none"/>
<path d="M617.3 299.3h1.8m-.9-.9v1.8m-.4-.5h1.8m-.9-.9v1.8m-1.2-.9h1.8m-.9-.9v1.8m-1.2 1.3h1.8m-.9-.9v1.8m0-4.1h1.8m-.9-.9v1.8m-1.7-3.3h1.8m-.9-.9v1.8m-.9 4.9h1.8m-.9-.9v1.8m-.8-3.1h1.8m-.9-.9v1.8m-.6-1.6h1.8m-.9-.9v1.8m-1.3 1.8h1.8m-.9-.9v1.8m-.6-1.7h1.8m-.9-.9v1.8m-1.3-2.1h1.8m-.9-.9v1.8m-1.4 1.7h1.8m-.9-.9v1.8m.1-3.2h1.8m-.9-.9v1.8m-1.4-.5h1.8m-.9-.9v1.8m-1.1-.6h1.8m-.9-.9v1.8m-.5-1h1.8m-.9-.9v1.8m-.6-4.4h1.8m-.9-.9v1.8m-1.2 .4h1.8m-.9-.9v1.8m-1.9 3.4h1.8m-.9-.9v1.8m-.2-3.8h1.8m-.9-.9v1.8m-.7-1.6h1.8m-.9-.9v1.8m-.1-2.1h1.8m-.9-.9v1.8m-1.5 .6h1.8m-.9-.9v1.8m-.8 .8h1.8m-.9-.9v1.8m-1-3.7h1.8m-.9-.9v1.8m-1 2h1.8m-.9-.9v1.8m-.7-2.4h1.8m-.9-.9v1.8m-.9-1.5h1.8m-.9-.9v1.8m-1.2 .5h1.8m-.9-.9v1.8m-.9-2.5h1.8m-.9-.9v1.8m-.9-.8h1.8m-.9-.9v1.8m-1.5 1.4h1.8m-.9-.9v1.8m-.3-2.8h1.8m-.9-.9v1.8m-1.2 .2h1.8m-.9-.9v1.8m-.6-2.2h1.8m-.9-.9v1.8m-.8 .1h1.8m-.9-.9v1.8m-1.2-2.3h1.8m-.9-.9v1.8m-.2 0h1.8m-.9-.9v1.8m-1.1 .1h1.8m-.9-.9v1.8m-1.2-1.8h1.8m-.9-.9v1.8m-.3-1.4h1.8m-.9-.9v1.8m-1.5-1.1h1.8m-.9-.9v1.8m-.8-1.1h1.8m-.9-.9v1.8m-.8-1.3h1.8m-.9-.9v1.8m-1 1h1.8m-.9-.9v1.8m-.9-2h1.8m-.9-.9v1.8m-.9 2.2h1.8m-.9-.9v1.8m-1-4.2h1.8m-.9-.9v1.8m-.7-.2h1.8m-.9-.9v1.8m-1.2 .1h1.8m-.9-.9v1.8m-1.4-.8h1.8m-.9-.9v1.8m-.5-3.2h1.8m-.9-.9v1.8m-1.1 2.3h1.8m-.9-.9v1.8m-.8-2.1h1.8m-.9-.9v1.8m-1-.7h1.8m-.9-.9v1.8m-.6-.3h1.8m-.9-.9v1.8m-.8-2.3h1.8m-.9-.9v1.8m-1.6-.5h1.8m-.9-.9v1.8m0-1h1.8m-.9-.9v1.8m-1.1-.5h1.8m-.9-.9v1.8m-.5-2.6h1.8m-.9-.9v1.8m-1.4 .6h1.8m-.9-.9v1.8m-.6-2.5h1.8m-.9-.9v1.8m-1.9 .6h1.8m-.9-.9v1.8m-.1 .7h1.8m-.9-.9v1.8m-.6-3.9h1.8m-.9-.9v1.8m-1 0h1.8m-.9-.9v1.8m-1.2-2.5h1.8m-.9-.9v1.8m-1.4 0h1.8m-.9-.9v1.8m-.5 0h1.8m-.9-.9v1.8m-.7-.7h1.8m-.9-.9v1.8m-.2-1.3h1.8m-.9-.9v1.8m-1-1.7h1.8m-.9-.9v1.8m-1.7-.6h1.8m-.9-.9v1.8m-1.6 1.7h1.8m-.9-.9v1.8m0-2h1.8m-.9-.9v1.8m-.4-1.3h1.8m-.9-.9v1.8m-.5-4.2h1.8m-.9-.9v1.8m-1.4 2.3h1.8m-.9-.9v1.8m-1.7 0h1.8m-.9-.9v1.8m-.4-3h1.8m-.9-.9v1.8m-2 2h1.8m-.9-.9v1.8m-.9-2.9h1.8m-.9-.9v1.8m.6-.2h1.8m-.9-.9v1.8m-1.6-2h1.8m-.9-.9v1.8m-1-.3h1.8m-.9-.9v1.8m-.5-2.7h1.8m-.9-.9v1.8m-1.7 2h1.8m-.9-.9v1.8m-.5-3.6h1.8m-.9-.9v1.8m.3-.6h1.8m-.9-.9v1.8m-2.2-1.1h1.8m-.9-.9v1.8m-.1-.6h1.8m-.9-.9v1.8m-1-2.8h1.8m-.9-.9v1.8m-1.5 1.9h1.8m-.9-.9v1.8m-.8 .8h1.8m-.9-.9v1.8m-.1-6.1h1.8m-.9-.9v1.8m-2 1.5h1.8m-.9-.9v1.8m-.5 .2h1.8m-.9-.9v1.8m-.4-2.9h1.8m-.9-.9v1.8m-2.2 2h1.8m-.9-.9v1.8m-.1-4.7h1.8m-.9-.9v1.8m-1.1 1.4h1.8m-.9-.9v1.8m-.9-1.7h1.8m-.9-.9v1.8m-.1-.9h1.8m-.9-.9v1.8" stroke="#2ca02c" stroke-opacity="0.62" stroke-width="1.0" fill="none"/>
<path d="M618.7 292.7h1.6m-.8-.8v1.6m-1.3 1.8h1.6m-.8-.8v1.6m-1.1-.5h1.6m-.8-.8v1.6m-.4-4.2h1.6m-.8-.8v1.6m-.5 .8h1.6m-.8-.8v1.6m-.5-2.5h1.6m-.8-.8v1.6m-1.3 1h1.6m-.8-.8v1.6m0-2.8h1.6m-.8-.8v1.6m-1.1 .5h1.6m-.8-.8v1.6m-.9-2.8h1.6m-.8-.8v1.6m-1.5 1h1.6m-.8-.8v1.6m-1.2-1.9h1.6m-.8-.8v1.6m.4-2.2h1.6m-.8-.8v1.6m-.7 3.2h1.6m-.8-.8v1.6m-1.5-2.9h1.6m-.8-.8v1.6m-.5-1.3h1.6m-.8-.8v1.6m-1 .4h1.6m-.8-.8v1.6m-.1-1.3h1.6m-.8-.8v1.6m-1.3-.7h1.6m-.8-.8v1.6m-1.1-.2h1.6m-.8-.8v1.6m-.5-2.8h1.6m-.8-.8v1.6m-.4-1.8h1.6m-.8-.8v1.6m-1.3 .9h1.6m-.8-.8v1.6m-.6-2.1h1.6m-.8-.8v1.6m-1.2 .8h1.6m-.8-.8v1.6m-.3-.7h1.6m-.8-.8v1.6m-1-1.7h1.6m-.8-.8v1.6m-.5-3.1h1.6m-.8-.8v1.6m-1 3.7h1.6m-.8-.8v1.6m-.8-3.1h1.6m-.8-.8v1.6m-.4-.5h1.6m-.8-.8v1.6m-.8-.3h1.6m-.8-.8v1.6m-1.5-.7h1.6m-.8-.8v1.6m-.8-.8h1.6m-.8-.8v1.6m-.4-.9h1.6m-.8-.8v1.6m-1.1-.5h1.6m-.8-.8v1.6m-.6-.8h1.6m-.8-.8v1.6m-.8-.1h1.6m-.8-.8v1.6m-.9-.6h1.6m-.8-.8v1.6m-.9-.3h1.6m-.8-.8v1.6m-.7-1.2h1.6m-.8-.8v1.6m-.7-3.5h1.6m-.8-.8v1.6m-1 1h1.6m-.8-.8v1.6m-.6-.9h1.6m-.8-.8v1.6m-.3-2.3h1.6m-.8-.8v1.6m-1.9 .5h1.6m-.8-.8v1.6m-.5-.5h1.6m-.8-.8v1.6m-.7 2.3h1.6m-.8-.8v1.6m-1-5.2h1.6m-.8-.8v1.6m-.4-1.3h1.6m-.8-.8v1.6m-1.3 2.4h1.6m-.8-.8v1.6m-.4-2.3h1.6m-.8-.8v1.6m-.2-2.8h1.6m-.8-.8v1.6m-1.3 1.2h1.6m-.8-.8v1.6m-.7-2h1.6m-.8-.8v1.6m-1.1 .3h1.6m-.8-.8v1.6m-.4-1.5h1.6m-.8-.8v1.6m-.7-2.5h1.6m-.8-.8v1.6m-1.1 2.6h1.6m-.8-.8v1.6m-1.2-2h1.6m-.8-.8v1.6m-.5-.1h1.6m-.8-.8v1.6m-.4-1h1.6m-.8-.8v1.6m-1.2-1.2h1.6m-.8-.8v1.6m-.8 .3h1.6m-.8-.8v1.6m-.7-2.3h1.6m-.8-.8v1.6m-.9-1.1h1.6m-.8-.8v1.6m-1-.4h1.6m-.8-.8v1.6m-.9 .6h1.6m-.8-.8v1.6m-.9-1.6h1.6m-.8-.8v1.6m-.9 .1h1.6m-.8-.8v1.6m-.3-.3h1.6m-.8-.8v1.6m-.5-3.5h1.6m-.8-.8v1.6m-1-.3h1.6m-.8-.8v1.6m-1-1.3h1.6m-.8-.8v1.6m-.8 .5h1.6m-.8-.8v1.6m-.9 2h1.6m-.8-.8v1.6m-.7-3.6h1.6m-.8-.8v1.6m-.7-1.2h1.6m-.8-.8v1.6m-.9-.4h1.6m-.8-.8v1.6m-.8 0h1.6m-.8-.8v1.6m-.5-2.7h1.6m-.8-.8v1.6m-1 .6h1.6m-.8-.8v1.6m-.9-1.4h1.6m-.8-.8v1.6m-.8 .1h1.6m-.8-.8v1.6m-.6-2.1h1.6m-.8-.8v1.6m-1 1.3h1.6m-.8-.8v1.6m-1.1-1.5h1.6m-.8-.8v1.6m-.9 2.7h1.6m-.8-.8v1.6m-.1-5h1.6m-.8-.8v1.6m-.9-2.6h1.6m-.8-.8v1.6m-1.3 3.2h1.6m-.8-.8v1.6m-.2-3.4h1.6m-.8-.8v1.6m-1-.4h1.6m-.8-.8v1.6m-1.1-.7h1.6m-.8-.8v1.6m-.2-2.7h1.6m-.8-.8v1.6m-.9-2.2h1.6m-.8-.8v1.6m-1.6 3.3h1.6m-.8-.8v1.6m0 .4h1.6m-.8-.8v1.6m-1.4-3.1h1.6m-.8-.8v1.6m-.6 .6h1.6m-.8-.8v1.6m-.5-2h1.6m-.8-.8v1.6m-.7-1.4h1.6m-.8-.8v1.6m-.6-.7h1.6m-.8-.8v1.6m-.9-.2h1.6m-.8-.8v1.6m-.9-2.3h1.6m-.8-.8v1.6" stroke="#d62728" stroke-opacity="0.62" stroke-width="1.0" fill="none"/>
<path d="M619.2 284.5h1.6m-.8-.8v1.6m-.1-1.4h1.6m-.8-.8v1.6m-.7 1.1h1.6m-.8-.8v1.6m-1.7-.1h1.6m-.8-.8v1.6m-.7-1.1h1.6m-.8-.8v1.6m-.6 .4h1.6m-.8-.8v1.6m-.5-1.1h1.6m-.8-.8v1.6m-1.2-.5h1.6m-.8-.8v1.6m-.6-2h1.6m-.8-.8v1.6m-.6-.6h1.6m-.8-.8v1.6m-1.4-.4h1.6m-.8-.8v1.6m-.8-1h1.6m-.8-.8v1.6m-.4-1.2h1.6m-.8-.8v1.6m-1.1 .2h1.6m-.8-.8v1.6m-.6-1h1.6m-.8-.8v1.6m-.8-2.4h1.6m-.8-.8v1.6m-.7 1h1.6m-.8-.8v1.6m-1.1-2.5h1.6m-.8-.8v1.6m-.6-.5h1.6m-.8-.8v1.6m-.9 .7h1.6m-.8-.8v1.6m-.3-1.9h1.6m-.8-.8v1.6m-.9 .2h1.6m-.8-.8v1.6m-1.1-2.6h1.6m-.8-.8v1.6m-.6 2.1h1.6m-.8-.8v1.6m-1.5-3.6h1.6m-.8-.8v1.6m.1-1h1.6m-.8-.8v1.6m-.8 .3h1.6m-.8-.8v1.6m-1.4-1.6h1.6m-.8-.8v1.6m-.3-1.2h1.6m-.8-.8v1.6m-.8 .5h1.6m-.8-.8v1.6m-1.1-.8h1.6m-.8-.8v1.6m-.8-.9h1.6m-.8-.8v1.6m-1.1 .4h1.6m-.8-.8v1.6m-.5-1.1h1.6m-.8-.8v1.6m-.2-.3h1.6m-.8-.8v1.6m-1.3-2.3h1.6m-.8-.8v1.6m-.8-.6h1.6m-.8-.8v1.6m-.8-3.1h1.6m-.8-.8v1.6m-.7 1.2h1.6m-.8-.8v1.6m-.6 1h1.6m-.8-.8v1.6m-1.4-3.6h1.6m-.8-.8v1.6m-.3 1.4h1.6m-.8-.8v1.6m-.9-2h1.6m-.8-.8v1.6m-1.6 1.5h1.6m-.8-.8v1.6m-.3-2.6h1.6m-.8-.8v1.6m-.4-2.3h1.6m-.8-.8v1.6m-.8 1.7h1.6m-.8-.8v1.6m-1-2.2h1.6m-.8-.8v1.6m-.6 .1h1.6m-.8-.8v1.6m-.6-2.8h1.6m-.8-.8v1.6m-1.4-.5h1.6m-.8-.8v1.6m-1.2-1.6h1.6m-.8-.8v1.6m-.1-.1h1.6m-.8-.8v1.6m-1.2 .9h1.6m-.8-.8v1.6m-.4-.9h1.6m-.8-.8v1.6m-.9-2.1h1.6m-.8-.8v1.6m-1-.1h1.6m-.8-.8v1.6m-1-2h1.6m-.8-.8v1.6m-.3 1h1.6m-.8-.8v1.6m-.8-2.9h1.6m-.8-.8v1.6m-.6-.3h1.6m-.8-.8v1.6m-1-1.1h1.6m-.8-.8v1.6m-.5 1.8h1.6m-.8-.8v1.6m-1.3-3.6h1.6m-.8-.8v1.6m-.7 1.1h1.6m-.8-.8v1.6m-.4-1.5h1.6m-.8-.8v1.6m-1.5-.5h1.6m-.8-.8v1.6m-.2-2.7h1.6m-.8-.8v1.6m-1.1 .5h1.6m-.8-.8v1.6m-1-.2h1.6m-.8-.8v1.6m-.3 0h1.6m-.8-.8v1.6m-1.3-2.5h1.6m-.8-.8v1.6m-.3-.5h1.6m-.8-.8v1.6m-1.3 1.8h1.6m-.8-.8v1.6m-1.2-3.8h1.6m-.8-.8v1.6m-.4-.1h1.6m-.8-.8v1.6m0-.9h1.6m-.8-.8v1.6m-1.4-.5h1.6m-.8-.8v1.6m-.9-.6h1.6m-.8-.8v1.6m.1-1.9h1.6m-.8-.8v1.6m-1.6-.2h1.6m-.8-.8v1.6m-1.4 0h1.6m-.8-.8v1.6m0-3.5h1.6m-.8-.8v1.6m-1 1.4h1.6m-.8-.8v1.6m-1.1 .2h1.6m-.8-.8v1.6m-.5-3.5h1.6m-.8-.8v1.6m-.5 .6h1.6m-.8-.8v1.6m-.9-2.4h1.6m-.8-.8v1.6m-1.3-.1h1.6m-.8-.8v1.6m-.5 .1h1.6m-.8-.8v1.6m-.5 .9h1.6m-.8-.8v1.6m-1-2.5h1.6m-.8-.8v1.6m-.3-.6h1.6m-.8-.8v1.6m-1-1.4h1.6m-.8-.8v1.6m-1.2-.6h1.6m-.8-.8v1.6m-1-.1h1.6m-.8-.8v1.6m-.8-1.3h1.6m-.8-.8v1.6m-.6 1.5h1.6m-.8-.8v1.6m-1.3-2.9h1.6m-.8-.8v1.6m0-1.2h1.6m-.8-.8v1.6m-.8 .1h1.6m-.8-.8v1.6m-.9-1.8h1.6m-.8-.8v1.6m-1-.6h1.6m-.8-.8v1.6m-1-.4h1.6m-.8-.8v1.6m-.8-2h1.6m-.8-.8v1.6" stroke="#9467bd" stroke-opacity="0.62" stroke-width="1.0" fill="none"/>
<path d="M619.9 280.7h1.6m-.8-.8v1.6m-.4-2.9h1.6m-.8-.8v1.6m-.4-.3h1.6m-.8-.8v1.6m-1-.6h1.6m-.8-.8v1.6m-.8-.4h1.6m-.8-.8v1.6m-1.6 .5h1.6m-.8-.8v1.6m.3-3.8h1.6m-.8-.8v1.6m-.9 .5h1.6m-.8-.8v1.6m-1.1 .7h1.6m-.8-.8v1.6m-.6-1.1h1.6m-.8-.8v1.6m-.5-.7h1.6m-.8-.8v1.6m-1.4-3.2h1.6m-.8-.8v1.6m-.3-1.3h1.6m-.8-.8v1.6m-1.3 .6h1.6m-.8-.8v1.6m-1 1h1.6m-.8-.8v1.6m-.4-2.4h1.6m-.8-.8v1.6m-.6-1h1.6m-.8-.8v1.6m-.9 1.7h1.6m-.8-.8v1.6m-1-3.1h1.6m-.8-.8v1.6m-.3-2.6h1.6m-.8-.8v1.6m-1.6 .1h1.6m-.8-.8v1.6m-.9 .3h1.6m-.8-.8v1.6m-.3-.8h1.6m-.8-.8v1.6m-1 .2h1.6m-.8-.8v1.6m-.5-.5h1.6m-.8-.8v1.6m-1-2.1h1.6m-.8-.8v1.6m-.4-.4h1.6m-.8-.8v1.6m-.8-1.7h1.6m-.8-.8v1.6m-1.1-1h1.6m-.8-.8v1.6m-.9 .3h1.6m-.8-.8v1.6m-1.1 .9h1.6m-.8-.8v1.6m-1-2h1.6m-.8-.8v1.6m-.6-1.4h1.6m-.8-.8v1.6m-.7-1h1.6m-.8-.8v1.6m-.5-1.7h1.6m-.8-.8v1.6m-1.2-.7h1.6m-.8-.8v1.6m-.5 .8h1.6m-.8-.8v1.6m-.2-3.5h1.6m-.8-.8v1.6m-1.2 .5h1.6m-.8-.8v1.6m-1 0h1.6m-.8-.8v1.6m-.6-.7h1.6m-.8-.8v1.6m-1.1 .4h1.6m-.8-.8v1.6m-.6-2.4h1.6m-.8-.8v1.6m-.5-2h1.6m-.8-.8v1.6m-1.6 1.9h1.6m-.8-.8v1.6m-.3-4.2h1.6m-.8-.8v1.6m-.7 2.4h1.6m-.8-.8v1.6m-1.1-3.5h1.6m-.8-.8v1.6m-.7 1h1.6m-.8-.8v1.6m-.9-2.2h1.6m-.8-.8v1.6m-.6 .7h1.6m-.8-.8v1.6m-1.3-2.5h1.6m-.8-.8v1.6m-.4-.3h1.6m-.8-.8v1.6m-.8 .4h1.6m-.8-.8v1.6m-.3-.9h1.6m-.8-.8v1.6m-.9-2.8h1.6m-.8-.8v1.6m-1.5 1.9h1.6m-.8-.8v1.6m-1-.5h1.6m-.8-.8v1.6m-.1-2.1h1.6m-.8-.8v1.6m-.9-2.1h1.6m-.8-.8v1.6m-1.2-.2h1.6m-.8-.8v1.6m-.7 1.1h1.6m-.8-.8v1.6m-.8-2.8h1.6m-.8-.8v1.6m-1.1 .1h1.6m-.8-.8v1.6m-.4 .1h1.6m-.8-.8v1.6m-.2-1.4h1.6m-.8-.8v1.6m-1.5-1.1h1.6m-.8-.8v1.6m-.5-1.1h1.6m-.8-.8v1.6m-1.2-.4h1.6m-.8-.8v1.6m-.8-1.2h1.6m-.8-.8v1.6m-.4-3.4h1.6m-.8-.8v1.6m-.9 4.1h1.6m-.8-.8v1.6m-.8-3.7h1.6m-.8-.8v1.6m-.4-1.5h1.6m-.8-.8v1.6m-1.2 .8h1.6m-.8-.8v1.6m-.9-1.1h1.6m-.8-.8v1.6m-.9-1.3h1.6m-.8-.8v1.6m-.3-1.1h1.6m-.8-.8v1.6m-1.2-.6h1.6m-.8-.8v1.6m-.5-.5h1.6m-.8-.8v1.6m-1.3-.1h1.6m-.8-.8v1.6m-.9-3.1h1.6m-.8-.8v1.6m-.4 3.1h1.6m-.8-.8v1.6m-1-2.4h1.6m-.8-.8v1.6m-1-1h1.6m-.8-.8v1.6m-.4-.3h1.6m-.8-.8v1.6m-1.1 .6h1.6m-.8-.8v1.6m-.9-1.2h1.6m-.8-.8v1.6m-.8-1.6h1.6m-.8-.8v1.6m-.2 .6h1.6m-.8-.8v1.6m-.9-4.7h1.6m-.8-.8v1.6m-.6 .1h1.6m-.8-.8v1.6m-1.3-.6h1.6m-.8-.8v1.6m-.9 .6h1.6m-.8-.8v1.6m-.5-.9h1.6m-.8-.8v1.6m-.5-1.9h1.6m-.8-.8v1.6m-1 .9h1.6m-.8-.8v1.6m-.4-1.9h1.6m-.8-.8v1.6m-1.3-2h1.6m-.8-.8v1.6m-.9 .2h1.6m-.8-.8v1.6m-.5-2.2h1.6m-.8-.8v1.6m-1.1 .4h1.6m-.8-.8v1.6m-.8-1.2h1.6m-.8-.8v1.6m-.5-1.2h1.6m-.8-.8v1.6m-.8-.9h1.6m-.8-.8v1.6" stroke="#8c564b" stroke-opacity="0.62" stroke-width="1.0" fill="none"/>
<path d="M621.1 272.8h1.6m-.8-.8v1.6m-.7 1.1h1.6m-.8-.8v1.6m-.6-2.4h1.6m-.8-.8v1.6m-1.5-1.3h1.6m-.8-.8v1.6m-.7 1.7h1.6m-.8-.8v1.6m-.5-1.2h1.6m-.8-.8v1.6m-1.3-.4h1.6m-.8-.8v1.6m-.2-2.5h1.6m-.8-.8v1.6m-1.7-1.1h1.6m-.8-.8v1.6m-.3 1.7h1.6m-.8-.8v1.6m-.6-2.5h1.6m-.8-.8v1.6m-.5 .9h1.6m-.8-.8v1.6m-1.1-1.8h1.6m-.8-.8v1.6m-.5-2.2h1.6m-.8-.8v1.6m-1-.5h1.6m-.8-.8v1.6m-1.2 .2h1.6m-.8-.8v1.6m-.4 .6h1.6m-.8-.8v1.6m-.8-1.6h1.6m-.8-.8v1.6m-.9-3.5h1.6m-.8-.8v1.6m-1 1.2h1.6m-.8-.8v1.6m-.9 .8h1.6m-.8-.8v1.6m-.2-3h1.6m-.8-.8v1.6m-.7 0h1.6m-.8-.8v1.6m-.8-1.6h1.6m-.8-.8v1.6m-1-.9h1.6m-.8-.8v1.6m-1.1 .7h1.6m-.8-.8v1.6m-.2-1.9h1.6m-.8-.8v1.6m-1.2-1.9h1.6m-.8-.8v1.6m-1 .7h1.6m-.8-.8v1.6m-1-1.8h1.6m-.8-.8v1.6m-.9-.1h1.6m-.8-.8v1.6m-.2-.7h1.6m-.8-.8v1.6m-1-2.2h1.6m-.8-.8v1.6m-1.3 .3h1.6m-.8-.8v1.6m.1-1.1h1.6m-.8-.8v1.6m-1.2-1h1.6m-.8-.8v1.6m-1.2 .8h1.6m-.8-.8v1.6m-.1-3.5h1.6m-.8-.8v1.6m-1.6 2.2h1.6m-.8-.8v1.6m-.6-2.3h1.6m-.8-.8v1.6m-.8-.4h1.6m-.8-.8v1.6m-.7-1.8h1.6m-.8-.8v1.6m-1.1 1.9h1.6m-.8-.8v1.6m.3-2.6h1.6m-.8-.8v1.6m-1.3-.4h1.6m-.8-.8v1.6m-.9-1.5h1.6m-.8-.8v1.6m-1 .1h1.6m-.8-.8v1.6m-.9-2.5h1.6m-.8-.8v1.6m-.3-1.4h1.6m-.8-.8v1.6m-.6 .4h1.6m-.8-.8v1.6m-1.3 .9h1.6m-.8-.8v1.6m-.8-2.1h1.6m-.8-.8v1.6m-.9-.4h1.6m-.8-.8v1.6m-.4-2.3h1.6m-.8-.8v1.6m-.9 1.2h1.6m-.8-.8v1.6m-.8-2.6h1.6m-.8-.8v1.6m-.8 1.4h1.6m-.8-.8v1.6m-.9-4.2h1.6m-.8-.8v1.6m-1 1.2h1.6m-.8-.8v1.6m-.4 .4h1.6m-.8-.8v1.6m-.8-2.7h1.6m-.8-.8v1.6m-.8-.1h1.6m-.8-.8v1.6m-1.2-2.7h1.6m-.8-.8v1.6m-.3-.6h1.6m-.8-.8v1.6m-1 3.3h1.6m-.8-.8v1.6m-.9-4.1h1.6m-.8-.8v1.6m-1-.6h1.6m-.8-.8v1.6m-.6 .9h1.6m-.8-.8v1.6m-1-2.2h1.6m-.8-.8v1.6m-.9 .8h1.6m-.8-.8v1.6m-.2-2.9h1.6m-.8-.8v1.6m-1.2 .3h1.6m-.8-.8v1.6m-1.2-1.6h1.6m-.8-.8v1.6m-.2-1.7h1.6m-.8-.8v1.6m-.9 .7h1.6m-.8-.8v1.6m-1.1 .3h1.6m-.8-.8v1.6m-.8-1.5h1.6m-.8-.8v1.6m-.7-.1h1.6m-.8-.8v1.6m-.9-1.3h1.6m-.8-.8v1.6m-.5-.2h1.6m-.8-.8v1.6m-.3-3.6h1.6m-.8-.8v1.6m-1.3-.4h1.6m-.8-.8v1.6m-.7 1.8h1.6m-.8-.8v1.6m-1-2h1.6m-.8-.8v1.6m-.4-.8h1.6m-.8-.8v1.6m-1.1-2.8h1.6m-.8-.8v1.6m-1.1 2h1.6m-.8-.8v1.6m-1-1.5h1.6m-.8-.8v1.6m-.3-1.1h1.6m-.8-.8v1.6m-.6-1.6h1.6m-.8-.8v1.6m-.6-.5h1.6m-.8-.8v1.6m-.9-.9h1.6m-.8-.8v1.6m-1-.6h1.6m-.8-.8v1.6m-.4-1.5h1.6m-.8-.8v1.6m-1.6 1.8h1.6m-.8-.8v1.6m-.3-2.4h1.6m-.8-.8v1.6m-1-2.1h1.6m-.8-.8v1.6m-.9 1h1.6m-.8-.8v1.6m-.5-.2h1.6m-.8-.8v1.6m-.7-1.4h1.6m-.8-.8v1.6m-1.3-1.6h1.6m-.8-.8v1.6m-.2-.3h1.6m-.8-.8v1.6m-.7-2.6h1.6m-.8-.8v1.6m-1.4 0h1.6m-.8-.8v1.6m-.6-.8h1.6m-.8-.8v1.6" stroke="#e377c2" stroke-opacity="0.62" stroke-width="1.0" fill="none"/>
<path d="M621.3 268.9h1.6m-.8-.8v1.6m-1-1.3h1.6m-.8-.8v1.6m-.1-1.3h1.6m-.8-.8v1.6m-1-.6h1.6m-.8-.8v1.6m-.9 .3h1.6m-.8-.8v1.6m-.6-.6h1.6m-.8-.8v1.6m-1.2 .3h1.6m-.8-.8v1.6m-.4-3h1.6m-.8-.8v1.6m-.5-.5h1.6m-.8-.8v1.6m-.8 .4h1.6m-.8-.8v1.6m-1.2-2.1h1.6m-.8-.8v1.6m-1-1.1h1.6m-.8-.8v1.6m-.7 1.3h1.6m-.8-.8v1.6m-.6-2.2h1.6m-.8-.8v1.6m-.8-1h1.6m-.8-.8v1.6m-1.1-2h1.6m-.8-.8v1.6m-.2 .4h1.6m-.8-.8v1.6m-.9 1.3h1.6m-.8-.8v1.6m-1.1-1.9h1.6m-.8-.8v1.6m-.9-1.6h1.6m-.8-.8v1.6m-.7-.7h1.6m-.8-.8v1.6m-.4-.9h1.6m-.8-.8v1.6m-1-.6h1.6m-.8-.8v1.6m-.9 .9h1.6m-.8-.8v1.6m-1.4-1.5h1.6m-.8-.8v1.6m-.5-1.7h1.6m-.8-.8v1.6m-.7-1.5h1.6m-.8-.8v1.6m-.9-2.9h1.6m-.8-.8v1.6m-.1 2.6h1.6m-.8-.8v1.6m-1.2-3.4h1.6m-.8-.8v1.6m-.8 2.6h1.6m-.8-.8v1.6m-.7-4.1h1.6m-.8-.8v1.6m-1.1 1.2h1.6m-.8-.8v1.6m-.8 0h1.6m-.8-.8v1.6m-.9-2.5h1.6m-.8-.8v1.6m-1.3 .9h1.6m-.8-.8v1.6m.1-2.3h1.6m-.8-.8v1.6m-1.5 .5h1.6m-.8-.8v1.6m-.6-3h1.6m-.8-.8v1.6m-.9-.9h1.6m-.8-.8v1.6m-.6-.5h1.6m-.8-.8v1.6m-.4 1h1.6m-.8-.8v1.6m-.9-2.1h1.6m-.8-.8v1.6m-.8-1.5h1.6m-.8-.8v1.6m-.7-.5h1.6m-.8-.8v1.6m-1.2 .5h1.6m-.8-.8v1.6m-.7-2.5h1.6m-.8-.8v1.6m-.3-1.2h1.6m-.8-.8v1.6m-1.5-.2h1.6m-.8-.8v1.6m-.7 .2h1.6m-.8-.8v1.6m-1.4-1.1h1.6m-.8-.8v1.6m.3 .9h1.6m-.8-.8v1.6m-.9-2.1h1.6m-.8-.8v1.6m-.9-1.3h1.6m-.8-.8v1.6m-1.4 .1h1.6m-.8-.8v1.6m0-.8h1.6m-.8-.8v1.6m-1.2-.3h1.6m-.8-.8v1.6m-.7-.5h1.6m-.8-.8v1.6m-.8-3.7h1.6m-.8-.8v1.6m-.7 1.9h1.6m-.8-.8v1.6m-1.1-1.5h1.6m-.8-.8v1.6m-.3-3.8h1.6m-.8-.8v1.6m-.5 2.8h1.6m-.8-.8v1.6m-1.4-2.8h1.6m-.8-.8v1.6m-1.4 3.7h1.6m-.8-.8v1.6m-.3-3.4h1.6m-.8-.8v1.6m-.9-1.9h1.6m-.8-.8v1.6m-.4-1.4h1.6m-.8-.8v1.6m-1 0h1.6m-.8-.8v1.6m-.7 .2h1.6m-.8-.8v1.6m-1-.2h1.6m-.8-.8v1.6m-.8-2.6h1.6m-.8-.8v1.6m-.7-.7h1.6m-.8-.8v1.6m-.4-3.4h1.6m-.8-.8v1.6m-1.5-.1h1.6m-.8-.8v1.6m-.2 2.2h1.6m-.8-.8v1.6m-1.3-1.2h1.6m-.8-.8v1.6m-1-1.5h1.6m-.8-.8v1.6m0 .1h1.6m-.8-.8v1.6m-.6-1.9h1.6m-.8-.8v1.6m-1.1-.2h1.6m-.8-.8v1.6m-1-.7h1.6m-.8-.8v1.6m-.8 .3h1.6m-.8-.8v1.6m-.9-1.7h1.6m-.8-.8v1.6m-.8-.9h1.6m-.8-.8v1.6m-1.1-.1h1.6m-.8-.8v1.6m-.3-1.5h1.6m-.8-.8v1.6m-1-1.8h1.6m-.8-.8v1.6m-1-1.3h1.6m-.8-.8v1.6m-.9 1.3h1.6m-.8-.8v1.6m-.3-3.2h1.6m-.8-.8v1.6m-1.3 2h1.6m-.8-.8v1.6m-.1-1.3h1.6m-.8-.8v1.6m-.6-2.3h1.6m-.8-.8v1.6m-1.2-.8h1.6m-.8-.8v1.6m-.4 .3h1.6m-.8-.8v1.6m-1.3-.8h1.6m-.8-.8v1.6m-1.1-1.2h1.6m-.8-.8v1.6m-1.2-1.2h1.6m-.8-.8v1.6m-.5 .4h1.6m-.8-.8v1.6m-.2-1.3h1.6m-.8-.8v1.6m-1.3-2.2h1.6m-.8-.8v1.6m-.4 .1h1.6m-.8-.8v1.6m-1-1.7h1.6m-.8-.8v1.6m-.7 .5h1.6m-.8-.8v1.6" stroke="#7f7f7f" stroke-opacity="0.62" stroke-width="1.0" fill="none"/>
<path d="M622.3 262.9h1.6m-.8-.8v1.6m-1-1.3h1.6m-.8-.8v1.6m-.8 .7h1.6m-.8-.8v1.6m-1 .1h1.6m-.8-.8v1.6m-1-.2h1.6m-.8-.8v1.6m-.4-1.8h1.6m-.8-.8v1.6m-.8-2.1h1.6m-.8-.8v1.6m-1 .9h1.6m-.8-.8v1.6m-.7-1.4h1.6m-.8-.8v1.6m-.9-.3h1.6m-.8-.8v1.6m-.4-3h1.6m-.8-.8v1.6m-.6 1.6h1.6m-.8-.8v1.6m-1.1-1.5h1.6m-.8-.8v1.6m-1-.3h1.6m-.8-.8v1.6m-.1-1.7h1.6m-.8-.8v1.6m-1.7-.8h1.6m-.8-.8v1.6m-.6 .2h1.6m-.8-.8v1.6m-1.1-2.2h1.6m-.8-.8v1.6m-.6 .7h1.6m-.8-.8v1.6m-.4-1.6h1.6m-.8-.8v1.6m-.8-.9h1.6m-.8-.8v1.6m-.9-3.3h1.6m-.8-.8v1.6m-1.1 .4h1.6m-.8-.8v1.6m-.6 .4h1.6m-.8-.8v1.6m-1.1-.8h1.6m-.8-.8v1.6m-.6-.5h1.6m-.8-.8v1.6m-.9-1.9h1.6m-.8-.8v1.6m-.3-.3h1.6m-.8-.8v1.6m-.9-1.5h1.6m-.8-.8v1.6m-1.1-.2h1.6m-.8-.8v1.6m-1 .2h1.6m-.8-.8v1.6m-.9-1.2h1.6m-.8-.8v1.6m-1-.4h1.6m-.8-.8v1.6m-.3-.3h1.6m-.8-.8v1.6m-.2-2.7h1.6m-.8-.8v1.6m-1.3-1.4h1.6m-.8-.8v1.6m-1 .6h1.6m-.8-.8v1.6m-.7-.1h1.6m-.8-.8v1.6m-.7-.6h1.6m-.8-.8v1.6m-1-1.6h1.6m-.8-.8v1.6m-.9-1.2h1.6m-.8-.8v1.6m-1.3-.7h1.6m-.8-.8v1.6m0-1.2h1.6m-.8-.8v1.6m-.9-2h1.6m-.8-.8v1.6m-.9 .3h1.6m-.8-.8v1.6m-.6 .3h1.6m-.8-.8v1.6m-1-1.4h1.6m-.8-.8v1.6m-.6-1.6h1.6m-.8-.8v1.6m-.7 2.1h1.6m-.8-.8v1.6m-.9-3.3h1.6m-.8-.8v1.6m-.9 .9h1.6m-.8-.8v1.6m-.4-3.3h1.6m-.8-.8v1.6m-1.1-.2h1.6m-.8-.8v1.6m-1 .2h1.6m-.8-.8v1.6m-.5-1.4h1.6m-.8-.8v1.6m-1.2-.7h1.6m-.8-.8v1.6m-.9 1.1h1.6m-.8-.8v1.6m-.9-1.9h1.6m-.8-.8v1.6m-.3-1.4h1.6m-.8-.8v1.6m-1.1-1.3h1.6m-.8-.8v1.6m-.6-.8h1.6m-.8-.8v1.6m-.8-.2h1.6m-.8-.8v1.6m-.9-.5h1.6m-.8-.8v1.6m-.5-1.7h1.6m-.8-.8v1.6m-.8-.3h1.6m-.8-.8v1.6m-1.1-.3h1.6m-.8-.8v1.6m-.4-1.6h1.6m-.8-.8v1.6m-1.6 .3h1.6m-.8-.8v1.6m0-2.7h1.6m-.8-.8v1.6m-1.1 .7h1.6m-.8-.8v1.6m-1.4-.4h1.6m-.8-.8v1.6m0-.8h1.6m-.8-.8v1.6m-.6-2.7h1.6m-.8-.8v1.6m-1 2.5h1.6m-.8-.8v1.6m-1.5-3.4h1.6m-.8-.8v1.6m-.1-1.2h1.6m-.8-.8v1.6m-1.5 .3h1.6m-.8-.8v1.6m-.2-1.9h1.6m-.8-.8v1.6m-.9 .9h1.6m-.8-.8v1.6m-.5-1.3h1.6m-.8-.8v1.6m-1.4-1.5h1.6m-.8-.8v1.6m-1-1.6h1.6m-.8-.8v1.6m-.3 .8h1.6m-.8-.8v1.6m-.8-1.4h1.6m-.8-.8v1.6m-1.2-2h1.6m-.8-.8v1.6m-.6-.1h1.6m-.8-.8v1.6m-.8 1.9h1.6m-.8-.8v1.6m-.3-4h1.6m-.8-.8v1.6m-1.2-.3h1.6m-.8-.8v1.6m-.8-.8h1.6m-.8-.8v1.6m-1.2 .9h1.6m-.8-.8v1.6m-.1-1.3h1.6m-.8-.8v1.6m-1-1h1.6m-.8-.8v1.6m-.8-3.2h1.6m-.8-.8v1.6m-.8 1.2h1.6m-.8-.8v1.6m-1-3.1h1.6m-.8-.8v1.6m-.3 .4h1.6m-.8-.8v1.6m-1.1-.5h1.6m-.8-.8v1.6m-.3-1.6h1.6m-.8-.8v1.6m-.9-1.8h1.6m-.8-.8v1.6m-.9 1.2h1.6m-.8-.8v1.6m-1.7-.2h1.6m-.8-.8v1.6m-.1-2.5h1.6m-.8-.8v1.6m-.8 .8h1.6m-.8-.8v1.6m-.7-2.2h1.6m-.8-.8v1.6" stroke="#bcbd22" stroke-opacity="0.62" stroke-width="1.0" fill="none"/>
<path d="M622.1 258.8h1.6m-.8-.8v1.6m-.7-.4h1.6m-.8-.8v1.6m-1.1 1.1h1.6m-.8-.8v1.6m-.7-1.1h1.6m-.8-.8v1.6m-.4-2.6h1.6m-.8-.8v1.6m-1.4 .1h1.6m-.8-.8v1.6m-.3 .2h1.6m-.8-.8v1.6m-.8-1.5h1.6m-.8-.8v1.6m-1-2h1.6m-.8-.8v1.6m0 1.1h1.6m-.8-.8v1.6m-1.8-1.7h1.6m-.8-.8v1.6m-.3-2.9h1.6m-.8-.8v1.6m-1.1 1.6h1.6m-.8-.8v1.6m-.4 .3h1.6m-.8-.8v1.6m-1.2-2.8h1.6m-.8-.8v1.6m-.8-.2h1.6m-.8-.8v1.6m-.5-2.1h1.6m-.8-.8v1.6m-1-.4h1.6m-.8-.8v1.6m-.9-.7h1.6m-.8-.8v1.6m-.4 1.5h1.6m-.8-.8v1.6m-.7-4.2h1.6m-.8-.8v1.6m-1.2 3.3h1.6m-.8-.8v1.6m-.7-4h1.6m-.8-.8v1.6m-.8-.3h1.6m-.8-.8v1.6m-1-.3h1.6m-.8-.8v1.6m-.6-1.2h1.6m-.8-.8v1.6m-.9-1.7h1.6m-.8-.8v1.6m-.8 1h1.6m-.8-.8v1.6m-.8-1.7h1.6m-.8-.8v1.6m-1.2 .5h1.6m-.8-.8v1.6m-.7-1.3h1.6m-.8-.8v1.6m-.6-.6h1.6m-.8-.8v1.6m-.5-2h1.6m-.8-.8v1.6m-1.6-2.5h1.6m-.8-.8v1.6m-.4 .3h1.6m-.8-.8v1.6m-.6 2.1h1.6m-.8-.8v1.6m-.6-2.9h1.6m-.8-.8v1.6m-.7-.8h1.6m-.8-.8v1.6m-.9-.3h1.6m-.8-.8v1.6m-1.5-.2h1.6m-.8-.8v1.6m.1-2.1h1.6m-.8-.8v1.6m-1 .1h1.6m-.8-.8v1.6m-1-1.7h1.6m-.8-.8v1.6m-.5-1.1h1.6m-.8-.8v1.6m-1.3 .7h1.6m-.8-.8v1.6m-.5-.1h1.6m-.8-.8v1.6m-1-3.7h1.6m-.8-.8v1.6m-.4-1h1.6m-.8-.8v1.6m-1.2 .5h1.6m-.8-.8v1.6m-.3-.5h1.6m-.8-.8v1.6m-1.5-.9h1.6m-.8-.8v1.6m-.1-2.6h1.6m-.8-.8v1.6m-1.5 2.1h1.6m-.8-.8v1.6m-.4-2.9h1.6m-.8-.8v1.6m-.9 .3h1.6m-.8-.8v1.6m-1-1.4h1.6m-.8-.8v1.6m-.3 .1h1.6m-.8-.8v1.6m-.8-1.2h1.6m-.8-.8v1.6m-1.2-.4h1.6m-.8-.8v1.6m-.9-.8h1.6m-.8-.8v1.6m-.7-1.4h1.6m-.8-.8v1.6m-.7-1.5h1.6m-.8-.8v1.6m-.4-1.4h1.6m-.8-.8v1.6m-1.1-.5h1.6m-.8-.8v1.6m-.7 .2h1.6m-.8-.8v1.6m-1-.1h1.6m-.8-.8v1.6m-.7-1.1h1.6m-.8-.8v1.6m-.8-.6h1.6m-.8-.8v1.6m-1-1.4h1.6m-.8-.8v1.6m-.7-1.3h1.6m-.8-.8v1.6m-1 1.3h1.6m-.8-.8v1.6m-1-.4h1.6m-.8-.8v1.6m-.5-1.9h1.6m-.8-.8v1.6m-.7-1.6h1.6m-.8-.8v1.6m-.7 1.1h1.6m-.8-.8v1.6m-.9-2.6h1.6m-.8-.8v1.6m-1 1.3h1.6m-.8-.8v1.6m-.4-1.7h1.6m-.8-.8v1.6m-.9-3.8h1.6m-.8-.8v1.6m-.7-.7h1.6m-.8-.8v1.6m-1.2 1.9h1.6m-.8-.8v1.6m-.7-2.4h1.6m-.8-.8v1.6m-1.2 .6h1.6m-.8-.8v1.6m-.2-2h1.6m-.8-.8v1.6m-.7-2h1.6m-.8-.8v1.6m-1.2 1.1h1.6m-.8-.8v1.6m-.4-1.1h1.6m-.8-.8v1.6m-1.2-1.2h1.6m-.8-.8v1.6m-.3-.9h1.6m-.8-.8v1.6m-1.1 .2h1.6m-.8-.8v1.6m-.9-1.2h1.6m-.8-.8v1.6m-1.1-1.4h1.6m-.8-.8v1.6m-.4 .4h1.6m-.8-.8v1.6m-.5-1.9h1.6m-.8-.8v1.6m-1-.5h1.6m-.8-.8v1.6m-1-1.4h1.6m-.8-.8v1.6m-.7 0h1.6m-.8-.8v1.6m-1.1 1.9h1.6m-.8-.8v1.6m-.5-2.9h1.6m-.8-.8v1.6m-1 1.3h1.6m-.8-.8v1.6m-1.1-3.9h1.6m-.8-.8v1.6m-.3 .7h1.6m-.8-.8v1.6m-.8-2.9h1.6m-.8-.8v1.6m-.5 .8h1.6m-.8-.8v1.6m-1.1-1.7h1.6m-.8-.8v1.6" stroke="#17becf" stroke-opacity="0.62" stroke-width="1.0" fill="none"/>
<path d="M622.6 255.5h1.6m-.8-.8v1.6m-1.1-.9h1.6m-.8-.8v1.6m-.6-.3h1.6m-.8-.8v1.6m-.5-2.8h1.6m-.8-.8v1.6m-.8 1.5h1.6m-.8-.8v1.6m-1.1-3.1h1.6m-.8-.8v1.6m-.8 1h1.6m-.8-.8v1.6m-.4-2.4h1.6m-.8-.8v1.6m-1.3 1h1.6m-.8-.8v1.6m-.6-1.5h1.6m-.8-.8v1.6m-.8-1.2h1.6m-.8-.8v1.6m-.5 .9h1.6m-.8-.8v1.6m-1.2-.4h1.6m-.8-.8v1.6m-.3-1.8h1.6m-.8-.8v1.6m-1.1-2.1h1.6m-.8-.8v1.6m-.9 .1h1.6m-.8-.8v1.6m-.5-2.3h1.6m-.8-.8v1.6m-1.4-.2h1.6m-.8-.8v1.6m-.3-2.7h1.6m-.8-.8v1.6m-1 .7h1.6m-.8-.8v1.6m-1 .4h1.6m-.8-.8v1.6m-.3-2.7h1.6m-.8-.8v1.6m-1 .7h1.6m-.8-.8v1.6m-.8-.5h1.6m-.8-.8v1.6m-1.1 .3h1.6m-.8-.8v1.6m-.4-3.3h1.6m-.8-.8v1.6m-1.3-.4h1.6m-.8-.8v1.6m-.5 1.1h1.6m-.8-.8v1.6m-.9-2.3h1.6m-.8-.8v1.6m-1-.9h1.6m-.8-.8v1.6m-.4-.9h1.6m-.8-.8v1.6m-.8-1.3h1.6m-.8-.8v1.6m-1.1 .8h1.6m-.8-.8v1.6m-.9-1.1h1.6m-.8-.8v1.6m-.2-1.6h1.6m-.8-.8v1.6m-1.1-1.1h1.6m-.8-.8v1.6m-1-.5h1.6m-.8-.8v1.6m-.8-.4h1.6m-.8-.8v1.6m-.6-1.9h1.6m-.8-.8v1.6m-.8 1.9h1.6m-.8-.8v1.6m-.6-2.5h1.6m-.8-.8v1.6m-.9-1.7h1.6m-.8-.8v1.6m-1 1.3h1.6m-.8-.8v1.6m-.6 .1h1.6m-.8-.8v1.6m-1.3-.5h1.6m-.8-.8v1.6m-.4-.8h1.6m-.8-.8v1.6m-.9-1.2h1.6m-.8-.8v1.6m-.6-3.8h1.6m-.8-.8v1.6m-.8-.1h1.6m-.8-.8v1.6m-.9 .6h1.6m-.8-.8v1.6m-.7-.7h1.6m-.8-.8v1.6m-.6-3.6h1.6m-.8-.8v1.6m-.8 .1h1.6m-.8-.8v1.6m-1-.2h1.6m-.8-.8v1.6m-1.2 .8h1.6m-.8-.8v1.6m-.7-2.6h1.6m-.8-.8v1.6m-.1-3h1.6m-.8-.8v1.6m-1.7 3.3h1.6m-.8-.8v1.6m-.5-1h1.6m-.8-.8v1.6m-.7-2.4h1.6m-.8-.8v1.6m-.6-1.1h1.6m-.8-.8v1.6m-1.1 .4h1.6m-.8-.8v1.6m-.8-3h1.6m-.8-.8v1.6m-1.1 2.3h1.6m-.8-.8v1.6m-.1-.5h1.6m-.8-.8v1.6m-1.2-3h1.6m-.8-.8v1.6m-.9-.1h1.6m-.8-.8v1.6m-.4-.9h1.6m-.8-.8v1.6m-.8-4.9h1.6m-.8-.8v1.6m-.8 1.8h1.6m-.8-.8v1.6m-1.1 1.3h1.6m-.8-.8v1.6m-.7-.4h1.6m-.8-.8v1.6m-.3-4.6h1.6m-.8-.8v1.6m-1.7 4.2h1.6m-.8-.8v1.6m-.2-3.8h1.6m-.8-.8v1.6m-1 .1h1.6m-.8-.8v1.6m-.6-1.2h1.6m-.8-.8v1.6m-.9-2.1h1.6m-.8-.8v1.6m-.6 1.5h1.6m-.8-.8v1.6m-1.1-3.1h1.6m-.8-.8v1.6m-.8 2.1h1.6m-.8-.8v1.6m-.5 .5h1.6m-.8-.8v1.6m-1.1-3.8h1.6m-.8-.8v1.6m-1 .3h1.6m-.8-.8v1.6m-.8-.6h1.6m-.8-.8v1.6m-.5-1h1.6m-.8-.8v1.6m-1.2 .1h1.6m-.8-.8v1.6m-.4-3.8h1.6m-.8-.8v1.6m-.9 1h1.6m-.8-.8v1.6m-.8 .2h1.6m-.8-.8v1.6m-.7 .9h1.6m-.8-.8v1.6m-1-2.2h1.6m-.8-.8v1.6m-1.3 .1h1.6m-.8-.8v1.6m-.3-1.6h1.6m-.8-.8v1.6m-.8-1.7h1.6m-.8-.8v1.6m-.5-2.3h1.6m-.8-.8v1.6m-.9-3.8h1.6m-.8-.8v1.6m-.8 2.8h1.6m-.8-.8v1.6m-1 1h1.6m-.8-.8v1.6m-.6-2.1h1.6m-.8-.8v1.6m-1.3-.9h1.6m-.8-.8v1.6m-.5 .2h1.6m-.8-.8v1.6m-.7-3.6h1.6m-.8-.8v1.6m-.9 3.2h1.6m-.8-.8v1.6m-.9-1.6h1.6m-.8-.8v1.6" stroke="#1f77b4" stroke-opacity="0.62" stroke-width="1.0" fill="none"/>
<rect x="369.2" y="241.3" width="266.9" height="199.1" fill="none" stroke="#2a2a2a" stroke-width="0.85"/>
<path d="M393.15 440.4v2.4M431.82 440.4v2.4M470.48 440.4v2.4M509.15 440.4v2.4M547.82 440.4v2.4M586.48 440.4v2.4M625.15 440.4v2.4M369.2 438.90h-2.4M369.2 416.70h-2.4M369.2 394.50h-2.4M369.2 372.30h-2.4M369.2 350.10h-2.4M369.2 327.90h-2.4M369.2 305.70h-2.4M369.2 283.50h-2.4M369.2 261.30h-2.4" stroke="#2a2a2a" stroke-width="0.85" fill="none"/>
<g font-family="Liberation Sans, sans-serif" font-size="8.1" fill="#000">
<text x="393.15" y="451.1" text-anchor="middle">0.4</text>
<text x="431.82" y="451.1" text-anchor="middle">0.5</text>
<text x="470.48" y="451.1" text-anchor="middle">0.6</text>
<text x="509.15" y="451.1" text-anchor="middle">0.7</text>
<text x="547.82" y="451.1" text-anchor="middle">0.8</text>
<text x="586.48" y="451.1" text-anchor="middle">0.9</text>
<text x="625.15" y="451.1" text-anchor="middle">1.0</text>
<text x="363.6" y="441.80" text-anchor="end">−0.2</text>
<text x="363.6" y="419.60" text-anchor="end">−0.1</text>
<text x="363.6" y="397.40" text-anchor="end">0.0</text>
<text x="363.6" y="375.20" text-anchor="end">0.1</text>
<text x="363.6" y="353.00" text-anchor="end">0.2</text>
<text x="363.6" y="330.80" text-anchor="end">0.3</text>
<text x="363.6" y="308.60" text-anchor="end">0.4</text>
<text x="363.6" y="286.40" text-anchor="end">0.5</text>
<text x="363.6" y="264.20" text-anchor="end">0.6</text>
<text x="502.6" y="460.0" font-size="7.6" text-anchor="middle">HR1</text>
<text transform="translate(342.4,341.7) rotate(-90)" font-size="7.6" text-anchor="middle">HR2</text>
</g>
<g font-family="Liberation Serif, serif" font-size="15.2" fill="#111">
<text x="378.9" y="265.4" textLength="42.0" lengthAdjust="spacingAndGlyphs">Counts</text>
<text transform="translate(423.9,265.4) scale(1.2,1)">∼</text>
<text x="441.5" y="265.4" textLength="34.7" lengthAdjust="spacingAndGlyphs">20000</text>
<text x="378.9" y="283.0" textLength="16.5" lengthAdjust="spacingAndGlyphs">cos</text>
<text x="395.7" y="283.0">(</text>
<text x="400.7" y="283.0" font-style="italic">θ</text>
<text x="408.5" y="285.8" font-size="10.8" textLength="14.8" lengthAdjust="spacingAndGlyphs">inc</text>
<text x="423.0" y="283.0">)</text>
<text transform="translate(432.4,283.0) scale(1.27,1)">=</text>
<text x="446.7" y="283.0" textLength="25.3" lengthAdjust="spacingAndGlyphs">0.05</text>
</g>
</svg></body></html>
